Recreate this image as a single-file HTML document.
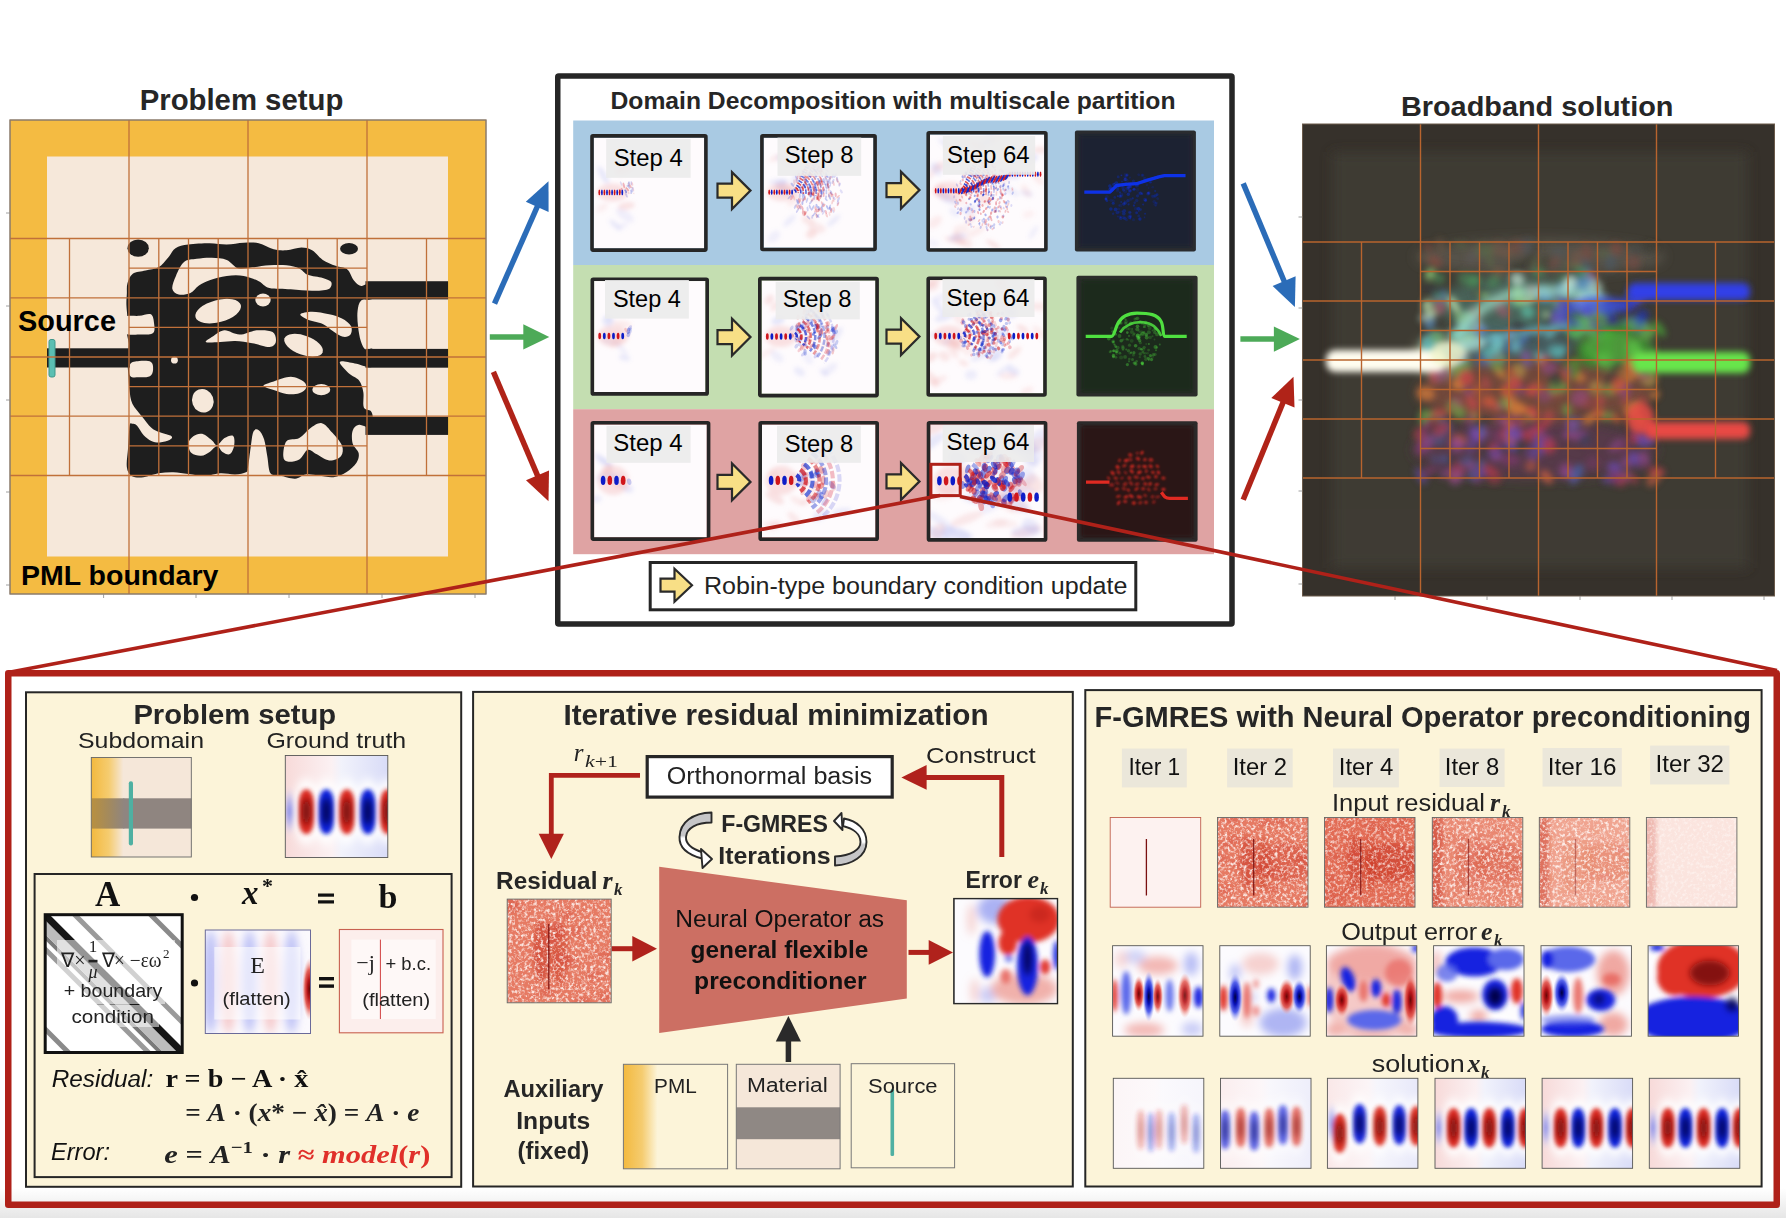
<!DOCTYPE html>
<html><head><meta charset="utf-8"><title>figure</title>
<style>
html,body{margin:0;padding:0;background:#fff;}
body{width:1786px;height:1218px;overflow:hidden;font-family:"Liberation Sans",sans-serif;}
svg{display:block;}
</style></head><body>
<svg width="1786" height="1218" viewBox="0 0 1786 1218">
<defs>
<filter id="b05" x="-50%" y="-50%" width="200%" height="200%"><feGaussianBlur stdDeviation="0.5"/></filter>
<filter id="b1" x="-50%" y="-50%" width="200%" height="200%"><feGaussianBlur stdDeviation="1"/></filter>
<filter id="b15" x="-50%" y="-50%" width="200%" height="200%"><feGaussianBlur stdDeviation="1.5"/></filter>
<filter id="b2" x="-50%" y="-50%" width="200%" height="200%"><feGaussianBlur stdDeviation="2"/></filter>
<filter id="b25" x="-50%" y="-50%" width="200%" height="200%"><feGaussianBlur stdDeviation="2.5"/></filter>
<filter id="b3" x="-50%" y="-50%" width="200%" height="200%"><feGaussianBlur stdDeviation="3"/></filter>
<filter id="b4" x="-50%" y="-50%" width="200%" height="200%"><feGaussianBlur stdDeviation="4"/></filter>
<filter id="b6" x="-50%" y="-50%" width="200%" height="200%"><feGaussianBlur stdDeviation="6"/></filter>
<clipPath id="c593_137"><rect x="593.8000000000001" y="137.7" width="110.3" height="110.60000000000001"/></clipPath>
<clipPath id="c763_137"><rect x="763.7" y="137.7" width="109.59999999999995" height="110.00000000000001"/></clipPath>
<clipPath id="c930_134"><rect x="930.0" y="134.5" width="114.10000000000007" height="113.7"/></clipPath>
<clipPath id="c594_281"><rect x="594.1" y="281.1" width="111.3" height="110.99999999999999"/></clipPath>
<clipPath id="c761_280"><rect x="761.6" y="280.40000000000003" width="113.69999999999997" height="113.39999999999996"/></clipPath>
<clipPath id="c930_280"><rect x="930.0" y="280.1" width="113.19999999999997" height="113.10000000000001"/></clipPath>
<clipPath id="c594_424"><rect x="594.1" y="424.6" width="112.69999999999997" height="112.69999999999997"/></clipPath>
<clipPath id="c762_424"><rect x="762.0" y="424.6" width="113.40000000000002" height="112.8"/></clipPath>
<clipPath id="c930_424"><rect x="930.3000000000001" y="424.6" width="113.50000000000004" height="113.50000000000004"/></clipPath>
<clipPath id="dk0"><rect x="1077.9" y="133.5" width="115.0" height="114.9"/></clipPath>
<clipPath id="dk1"><rect x="1079.4" y="278.7" width="115.19999999999982" height="114.69999999999999"/></clipPath>
<clipPath id="dk2"><rect x="1079.9" y="424.3" width="114.69999999999982" height="114.40000000000003"/></clipPath>
<clipPath id="bbclip"><rect x="1302.5" y="124" width="472.0" height="472"/></clipPath>
<linearGradient id="bgg" x1="0" y1="0" x2="0" y2="1"><stop offset="0" stop-color="#ffffff"/><stop offset="0.45" stop-color="#f4f4f4"/><stop offset="1" stop-color="#e6e6e6"/></linearGradient>
<radialGradient id="gR"><stop offset="0" stop-color="#6a0606"/><stop offset="0.3" stop-color="#b8161a"/><stop offset="0.62" stop-color="#e0473e" stop-opacity="0.85"/><stop offset="1" stop-color="#f2a9a0" stop-opacity="0"/></radialGradient>
<radialGradient id="gB"><stop offset="0" stop-color="#00003a"/><stop offset="0.3" stop-color="#0a12b8"/><stop offset="0.62" stop-color="#3a4ae8" stop-opacity="0.85"/><stop offset="1" stop-color="#aab0f4" stop-opacity="0"/></radialGradient>
<radialGradient id="gRl"><stop offset="0" stop-color="#e04a40"/><stop offset="0.5" stop-color="#ec8a80" stop-opacity="0.7"/><stop offset="1" stop-color="#f8d0cc" stop-opacity="0"/></radialGradient>
<radialGradient id="gBl"><stop offset="0" stop-color="#4a5ae8"/><stop offset="0.5" stop-color="#8a94f0" stop-opacity="0.7"/><stop offset="1" stop-color="#d0d4fa" stop-opacity="0"/></radialGradient>
<linearGradient id="pbg" x1="0" y1="0" x2="1" y2="0"><stop offset="0" stop-color="#f6d2d0"/><stop offset="0.45" stop-color="#fbeef0"/><stop offset="0.55" stop-color="#eef0fb"/><stop offset="1" stop-color="#d0d4f6"/></linearGradient>
<radialGradient id="gW"><stop offset="0" stop-color="#fff"/><stop offset="0.7" stop-color="#fff" stop-opacity="0.9"/><stop offset="1" stop-color="#fff" stop-opacity="0"/></radialGradient>
<filter id="speck" x="0" y="0" width="100%" height="100%"><feTurbulence type="fractalNoise" baseFrequency="0.32" numOctaves="3" seed="4"/><feColorMatrix type="matrix" values="0 0 0 0 1  0 0 0 0 0.96  0 0 0 0 0.94  3.2 0 0 0 -1.45"/><feGaussianBlur stdDeviation="0.5"/></filter>
<filter id="speck2" x="0" y="0" width="100%" height="100%"><feTurbulence type="fractalNoise" baseFrequency="0.32" numOctaves="3" seed="9"/><feColorMatrix type="matrix" values="0 0 0 0 1  0 0 0 0 0.96  0 0 0 0 0.94  3.2 0 0 0 -1.45"/><feGaussianBlur stdDeviation="0.5"/></filter>
<linearGradient id="pmlg" x1="0" y1="0" x2="1" y2="0"><stop offset="0" stop-color="#F3B93E"/><stop offset="0.55" stop-color="#F5CC70"/><stop offset="1" stop-color="#F5E7D9"/></linearGradient>
<linearGradient id="pmlg2" x1="0" y1="0" x2="1" y2="0"><stop offset="0" stop-color="#F3B93E"/><stop offset="0.55" stop-color="#F5CC70"/><stop offset="1" stop-color="#FCF4D9"/></linearGradient>
<linearGradient id="greyg" x1="0" y1="0" x2="1" y2="0"><stop offset="0" stop-color="#b89040"/><stop offset="0.5" stop-color="#a48a5c"/><stop offset="1" stop-color="#8f8580"/></linearGradient>
<clipPath id="cl1"><rect x="285.3" y="755.5" width="102.5" height="102.0"/></clipPath>
<clipPath id="matclip"><rect x="45.2" y="914.7" width="137" height="137.8"/></clipPath>
<clipPath id="cl2"><rect x="205.3" y="930.0" width="105.2" height="103.5"/></clipPath>
<linearGradient id="cgl" x1="0" y1="0" x2="0" y2="1"><stop offset="0" stop-color="#c6c6c8"/><stop offset="0.5" stop-color="#c6c6c8"/><stop offset="0.56" stop-color="#ffffff"/><stop offset="1" stop-color="#ffffff"/></linearGradient>
<linearGradient id="cgr" x1="0" y1="0" x2="0" y2="1"><stop offset="0" stop-color="#ffffff"/><stop offset="0.5" stop-color="#ffffff"/><stop offset="0.56" stop-color="#c6c6c8"/><stop offset="1" stop-color="#c6c6c8"/></linearGradient>
<clipPath id="cl3"><rect x="507.2" y="899.1" width="104.0" height="103.7"/></clipPath>
<clipPath id="cl4"><rect x="953.9" y="898.6" width="103.6" height="105.0"/></clipPath>
<clipPath id="cl5"><rect x="1110.2" y="817.5" width="90.5" height="89.7"/></clipPath>
<clipPath id="cl6"><rect x="1217.5" y="817.5" width="90.5" height="89.7"/></clipPath>
<clipPath id="cl7"><rect x="1324.5" y="817.5" width="90.5" height="89.7"/></clipPath>
<clipPath id="cl8"><rect x="1432.3" y="817.5" width="90.5" height="89.7"/></clipPath>
<clipPath id="cl9"><rect x="1539.3" y="817.5" width="90.5" height="89.7"/></clipPath>
<clipPath id="cl10"><rect x="1646.4" y="817.5" width="90.5" height="89.7"/></clipPath>
<clipPath id="cl11"><rect x="1112.6" y="945.7" width="90.4" height="90.5"/></clipPath>
<clipPath id="cl12"><rect x="1219.8" y="945.7" width="90.4" height="90.5"/></clipPath>
<clipPath id="cl13"><rect x="1326.4" y="945.7" width="90.4" height="90.5"/></clipPath>
<clipPath id="cl14"><rect x="1433.6" y="945.7" width="90.4" height="90.5"/></clipPath>
<clipPath id="cl15"><rect x="1541.0" y="945.7" width="90.4" height="90.5"/></clipPath>
<clipPath id="cl16"><rect x="1648.1" y="945.7" width="90.4" height="90.5"/></clipPath>
<clipPath id="cl17"><rect x="1113.3" y="1078.3" width="90.5" height="90.0"/></clipPath>
<clipPath id="cl18"><rect x="1220.5" y="1078.3" width="90.5" height="90.0"/></clipPath>
<clipPath id="cl19"><rect x="1327.4" y="1078.3" width="90.5" height="90.0"/></clipPath>
<clipPath id="cl20"><rect x="1435.0" y="1078.3" width="90.5" height="90.0"/></clipPath>
<clipPath id="cl21"><rect x="1542.1" y="1078.3" width="90.5" height="90.0"/></clipPath>
<clipPath id="cl22"><rect x="1649.3" y="1078.3" width="90.5" height="90.0"/></clipPath>
</defs>
<text x="241.5" y="110.3" font-size="30" font-family='"Liberation Sans", sans-serif' fill="#262626" font-weight="bold" text-anchor="middle" textLength="203.6" lengthAdjust="spacingAndGlyphs" >Problem setup</text>
<rect x="10" y="120" width="476" height="474" fill="#F4BB42" stroke="#8a7a6a" stroke-width="1" />
<rect x="47" y="156.5" width="401" height="400" fill="#F6E8DA" />
<g transform="translate(120,230) scale(0.21345)"><path d="M35.0,250.0 C39.7,234.2 45.8,215.0 60.0,205.0 C74.2,195.0 100.0,195.0 120.0,190.0 C140.0,185.0 162.5,185.0 180.0,175.0 C197.5,165.0 211.7,145.0 225.0,130.0 C238.3,115.0 244.2,95.3 260.0,85.0 C275.8,74.7 293.3,71.8 320.0,68.0 C346.7,64.2 390.0,62.0 420.0,62.0 C450.0,62.0 473.3,68.3 500.0,68.0 C526.7,67.7 555.0,61.0 580.0,60.0 C605.0,59.0 626.7,57.0 650.0,62.0 C673.3,67.0 698.3,84.5 720.0,90.0 C741.7,95.5 758.3,96.3 780.0,95.0 C801.7,93.7 830.0,82.0 850.0,82.0 C870.0,82.0 883.3,85.3 900.0,95.0 C916.7,104.7 931.7,127.8 950.0,140.0 C968.3,152.2 990.8,160.5 1010.0,168.0 C1029.2,175.5 1050.8,173.8 1065.0,185.0 C1079.2,196.2 1084.2,222.2 1095.0,235.0 C1105.8,247.8 1115.8,259.5 1130.0,262.0 C1144.2,264.5 1170.8,240.3 1180.0,250.0 C1189.2,259.7 1193.3,306.7 1185.0,320.0 C1176.7,333.3 1142.0,320.0 1130.0,330.0 C1118.0,340.0 1115.5,360.0 1113.0,380.0 C1110.5,400.0 1112.5,426.7 1115.0,450.0 C1117.5,473.3 1122.2,501.7 1128.0,520.0 C1133.8,538.3 1140.5,553.3 1150.0,560.0 C1159.5,566.7 1179.2,546.7 1185.0,560.0 C1190.8,573.3 1199.2,629.2 1185.0,640.0 C1170.8,650.8 1125.8,628.7 1100.0,625.0 C1074.2,621.3 1035.0,610.5 1030.0,618.0 C1025.0,625.5 1055.0,655.5 1070.0,670.0 C1085.0,684.5 1108.3,690.0 1120.0,705.0 C1131.7,720.0 1136.3,739.2 1140.0,760.0 C1143.7,780.8 1136.2,815.3 1142.0,830.0 C1147.8,844.7 1167.8,839.7 1175.0,848.0 C1182.2,856.3 1183.3,866.3 1185.0,880.0 C1186.7,893.7 1195.8,924.7 1185.0,930.0 C1174.2,935.3 1135.8,910.3 1120.0,912.0 C1104.2,913.7 1095.0,925.3 1090.0,940.0 C1085.0,954.7 1085.3,982.5 1090.0,1000.0 C1094.7,1017.5 1115.0,1030.0 1118.0,1045.0 C1121.0,1060.0 1117.7,1075.0 1108.0,1090.0 C1098.3,1105.0 1078.0,1123.7 1060.0,1135.0 C1042.0,1146.3 1021.7,1155.5 1000.0,1158.0 C978.3,1160.5 951.7,1152.2 930.0,1150.0 C908.3,1147.8 888.3,1142.5 870.0,1145.0 C851.7,1147.5 840.0,1164.2 820.0,1165.0 C800.0,1165.8 769.2,1154.2 750.0,1150.0 C730.8,1145.8 715.0,1155.0 705.0,1140.0 C695.0,1125.0 695.0,1086.7 690.0,1060.0 C685.0,1033.3 681.7,1000.3 675.0,980.0 C668.3,959.7 658.3,943.8 650.0,938.0 C641.7,932.2 631.3,931.3 625.0,945.0 C618.7,958.7 616.2,992.5 612.0,1020.0 C607.8,1047.5 603.7,1090.8 600.0,1110.0 C596.3,1129.2 600.0,1129.2 590.0,1135.0 C580.0,1140.8 560.0,1144.2 540.0,1145.0 C520.0,1145.8 493.3,1138.8 470.0,1140.0 C446.7,1141.2 425.0,1151.5 400.0,1152.0 C375.0,1152.5 345.0,1145.8 320.0,1143.0 C295.0,1140.2 273.3,1135.5 250.0,1135.0 C226.7,1134.5 203.3,1136.2 180.0,1140.0 C156.7,1143.8 130.8,1156.0 110.0,1158.0 C89.2,1160.0 68.0,1160.0 55.0,1152.0 C42.0,1144.0 34.8,1132.0 32.0,1110.0 C29.2,1088.0 35.8,1052.2 38.0,1020.0 C40.2,987.8 41.7,935.7 45.0,917.0 C48.3,898.3 52.2,908.0 58.0,908.0 C63.8,908.0 71.2,908.2 80.0,917.0 C88.8,925.8 99.8,949.2 111.0,961.0 C122.2,972.8 134.3,982.3 147.0,988.0 C159.7,993.7 172.8,995.7 187.0,995.0 C201.2,994.3 223.0,988.8 232.0,984.0 C241.0,979.2 248.5,972.0 241.0,966.0 C233.5,960.0 202.7,954.7 187.0,948.0 C171.3,941.3 161.2,938.7 147.0,926.0 C132.8,913.3 116.8,890.7 102.0,872.0 C87.2,853.3 67.7,834.8 58.0,814.0 C48.3,793.2 47.0,767.7 44.0,747.0 C41.0,726.3 41.3,707.8 40.0,690.0 C38.7,672.2 36.7,655.0 36.0,640.0 C35.3,625.0 35.3,618.3 36.0,600.0 C36.7,581.7 41.0,551.7 40.0,530.0 C39.0,508.3 30.8,488.3 30.0,470.0 C29.2,451.7 35.0,440.0 35.0,420.0 C35.0,400.0 30.5,370.0 30.0,350.0 C29.5,330.0 31.2,316.7 32.0,300.0 C32.8,283.3 30.3,265.8 35.0,250.0 Z" fill="#1E1E1E"/><ellipse cx="85" cy="85" rx="50" ry="40" fill="#1E1E1E"/><ellipse cx="1073" cy="88" rx="42" ry="27" fill="#1E1E1E"/><rect x="1150" y="240" width="387" height="85" fill="#1E1E1E"/><rect x="1150" y="557" width="387" height="88" fill="#1E1E1E"/><rect x="1150" y="875" width="387" height="85" fill="#1E1E1E"/><path d="M245.0,275.0 C242.8,260.5 252.8,235.8 262.0,215.0 C271.2,194.2 283.7,163.3 300.0,150.0 C316.3,136.7 338.3,138.3 360.0,135.0 C381.7,131.7 406.7,129.2 430.0,130.0 C453.3,130.8 479.2,131.7 500.0,140.0 C520.8,148.3 535.0,174.2 555.0,180.0 C575.0,185.8 595.8,177.5 620.0,175.0 C644.2,172.5 673.3,166.7 700.0,165.0 C726.7,163.3 756.7,162.5 780.0,165.0 C803.3,167.5 823.3,172.5 840.0,180.0 C856.7,187.5 861.7,202.5 880.0,210.0 C898.3,217.5 931.7,219.2 950.0,225.0 C968.3,230.8 985.8,236.2 990.0,245.0 C994.2,253.8 990.0,271.3 975.0,278.0 C960.0,284.7 929.2,285.0 900.0,285.0 C870.8,285.0 833.3,280.2 800.0,278.0 C766.7,275.8 725.0,278.3 700.0,272.0 C675.0,265.7 670.0,249.5 650.0,240.0 C630.0,230.5 605.0,219.2 580.0,215.0 C555.0,210.8 526.7,211.7 500.0,215.0 C473.3,218.3 441.7,227.5 420.0,235.0 C398.3,242.5 385.0,250.0 370.0,260.0 C355.0,270.0 345.8,288.0 330.0,295.0 C314.2,302.0 289.2,305.3 275.0,302.0 C260.8,298.7 247.2,289.5 245.0,275.0 Z" fill="#F6E8DA"/><path d="M845.0,395.0 C848.3,388.8 877.5,383.0 900.0,383.0 C922.5,383.0 956.7,389.7 980.0,395.0 C1003.3,400.3 1023.0,405.8 1040.0,415.0 C1057.0,424.2 1075.3,437.5 1082.0,450.0 C1088.7,462.5 1086.2,481.7 1080.0,490.0 C1073.8,498.3 1058.3,502.5 1045.0,500.0 C1031.7,497.5 1015.8,485.0 1000.0,475.0 C984.2,465.0 970.0,449.2 950.0,440.0 C930.0,430.8 897.5,427.5 880.0,420.0 C862.5,412.5 841.7,401.2 845.0,395.0 Z" fill="#F6E8DA"/><path d="M402.0,525.0 C397.0,520.0 425.3,504.2 440.0,495.0 C454.7,485.8 470.0,470.8 490.0,470.0 C510.0,469.2 535.0,490.0 560.0,490.0 C585.0,490.0 614.2,472.0 640.0,470.0 C665.8,468.0 700.0,468.8 715.0,478.0 C730.0,487.2 732.5,513.3 730.0,525.0 C727.5,536.7 718.3,547.2 700.0,548.0 C681.7,548.8 646.7,534.7 620.0,530.0 C593.3,525.3 565.0,520.8 540.0,520.0 C515.0,519.2 493.0,524.2 470.0,525.0 C447.0,525.8 407.0,530.0 402.0,525.0 Z" fill="#F6E8DA"/><path d="M672.0,730.0 C672.0,723.3 698.7,717.0 720.0,710.0 C741.3,703.0 776.7,688.0 800.0,688.0 C823.3,688.0 848.0,701.3 860.0,710.0 C872.0,718.7 875.3,730.8 872.0,740.0 C868.7,749.2 855.3,760.3 840.0,765.0 C824.7,769.7 800.0,770.5 780.0,768.0 C760.0,765.5 738.0,756.3 720.0,750.0 C702.0,743.7 672.0,736.7 672.0,730.0 Z" fill="#F6E8DA"/><path d="M765.0,1060.0 C764.2,1044.2 767.5,1004.2 780.0,990.0 C792.5,975.8 821.7,985.0 840.0,975.0 C858.3,965.0 872.5,941.7 890.0,930.0 C907.5,918.3 927.5,901.7 945.0,905.0 C962.5,908.3 979.2,932.5 995.0,950.0 C1010.8,967.5 1033.3,991.7 1040.0,1010.0 C1046.7,1028.3 1045.0,1048.3 1035.0,1060.0 C1025.0,1071.7 999.2,1081.7 980.0,1080.0 C960.8,1078.3 936.7,1058.3 920.0,1050.0 C903.3,1041.7 893.3,1025.8 880.0,1030.0 C866.7,1034.2 855.8,1065.8 840.0,1075.0 C824.2,1084.2 797.5,1087.5 785.0,1085.0 C772.5,1082.5 765.8,1075.8 765.0,1060.0 Z" fill="#F6E8DA"/><path d="M20.0,410.0 C31.7,396.7 69.2,404.5 90.0,402.0 C110.8,399.5 133.3,388.7 145.0,395.0 C156.7,401.3 158.3,425.5 160.0,440.0 C161.7,454.5 165.0,473.7 155.0,482.0 C145.0,490.3 122.5,490.0 100.0,490.0 C77.5,490.0 33.3,495.3 20.0,482.0 C6.7,468.7 8.3,423.3 20.0,410.0 Z" fill="#F6E8DA"/><path d="M48.0,628.0 C55.0,616.3 73.8,615.7 90.0,614.0 C106.2,612.3 134.2,611.2 145.0,618.0 C155.8,624.8 155.8,643.8 155.0,655.0 C154.2,666.2 150.8,679.2 140.0,685.0 C129.2,690.8 105.3,690.2 90.0,690.0 C74.7,689.8 55.0,694.3 48.0,684.0 C41.0,673.7 41.0,639.7 48.0,628.0 Z" fill="#F6E8DA"/><path d="M320.0,1000.0 C321.7,986.7 334.2,972.5 345.0,965.0 C355.8,957.5 370.8,951.7 385.0,955.0 C399.2,958.3 418.3,976.2 430.0,985.0 C441.7,993.8 445.0,1009.7 455.0,1008.0 C465.0,1006.3 477.5,982.2 490.0,975.0 C502.5,967.8 522.5,959.2 530.0,965.0 C537.5,970.8 537.5,995.8 535.0,1010.0 C532.5,1024.2 524.2,1045.0 515.0,1050.0 C505.8,1055.0 490.0,1046.3 480.0,1040.0 C470.0,1033.7 465.0,1012.0 455.0,1012.0 C445.0,1012.0 432.5,1032.3 420.0,1040.0 C407.5,1047.7 394.2,1057.2 380.0,1058.0 C365.8,1058.8 345.0,1054.7 335.0,1045.0 C325.0,1035.3 318.3,1013.3 320.0,1000.0 Z" fill="#F6E8DA"/><ellipse cx="460" cy="380" rx="110" ry="52" transform="rotate(-15 460 380)" fill="#F6E8DA"/><ellipse cx="670" cy="328" rx="36" ry="30" fill="#F6E8DA"/><ellipse cx="860" cy="540" rx="95" ry="45" transform="rotate(20 860 540)" fill="#F6E8DA"/><circle cx="255" cy="610" r="16" fill="#F6E8DA"/><ellipse cx="943" cy="748" rx="42" ry="26" fill="#F6E8DA"/><ellipse cx="388" cy="800" rx="50" ry="56" transform="rotate(-20 388 800)" fill="#F6E8DA"/></g>
<rect x="47" y="348.3" width="83" height="19.2" fill="#1E1E1E" />
<rect x="49" y="339.5" width="6" height="37.5" rx="2" fill="#5BBFB2" stroke="#3f978b" stroke-width="1"/>
<g stroke="#C0703A" stroke-width="1.3" ><line x1="129.0" y1="120.0" x2="129.0" y2="594.0"/><line x1="248.0" y1="120.0" x2="248.0" y2="594.0"/><line x1="367.0" y1="120.0" x2="367.0" y2="594.0"/><line x1="10.0" y1="238.5" x2="486.0" y2="238.5"/><line x1="10.0" y1="297.8" x2="486.0" y2="297.8"/><line x1="10.0" y1="357.0" x2="486.0" y2="357.0"/><line x1="10.0" y1="416.2" x2="486.0" y2="416.2"/><line x1="10.0" y1="475.5" x2="486.0" y2="475.5"/><line x1="69.5" y1="238.5" x2="69.5" y2="475.5"/><line x1="426.5" y1="238.5" x2="426.5" y2="475.5"/><line x1="158.8" y1="238.5" x2="158.8" y2="475.5"/><line x1="129.0" y1="268.1" x2="367.0" y2="268.1"/><line x1="218.2" y1="238.5" x2="218.2" y2="475.5"/><line x1="129.0" y1="327.4" x2="367.0" y2="327.4"/><line x1="277.8" y1="238.5" x2="277.8" y2="475.5"/><line x1="129.0" y1="386.6" x2="367.0" y2="386.6"/><line x1="337.2" y1="238.5" x2="337.2" y2="475.5"/><line x1="129.0" y1="445.9" x2="367.0" y2="445.9"/><line x1="188.5" y1="238.5" x2="188.5" y2="475.5"/><line x1="307.5" y1="238.5" x2="307.5" y2="475.5"/></g>
<rect x="10" y="120" width="476" height="474" fill="none" stroke="#8a7a6a" stroke-width="1" />
<line x1="103.6" y1="594" x2="103.6" y2="598" stroke="#888" stroke-width="0.8" />
<line x1="196" y1="594" x2="196" y2="598" stroke="#888" stroke-width="0.8" />
<line x1="289" y1="594" x2="289" y2="598" stroke="#888" stroke-width="0.8" />
<line x1="382" y1="594" x2="382" y2="598" stroke="#888" stroke-width="0.8" />
<line x1="475" y1="594" x2="475" y2="598" stroke="#888" stroke-width="0.8" />
<line x1="6" y1="213" x2="10" y2="213" stroke="#888" stroke-width="0.8" />
<line x1="6" y1="306" x2="10" y2="306" stroke="#888" stroke-width="0.8" />
<line x1="6" y1="400" x2="10" y2="400" stroke="#888" stroke-width="0.8" />
<line x1="6" y1="492" x2="10" y2="492" stroke="#888" stroke-width="0.8" />
<line x1="6" y1="585" x2="10" y2="585" stroke="#888" stroke-width="0.8" />
<text x="18" y="331" font-size="29" font-family='"Liberation Sans", sans-serif' fill="#000" font-weight="bold" textLength="98" lengthAdjust="spacingAndGlyphs" >Source</text>
<text x="21" y="584.8" font-size="28" font-family='"Liberation Sans", sans-serif' fill="#000" font-weight="bold" textLength="197.4" lengthAdjust="spacingAndGlyphs" >PML boundary</text>
<line x1="494.5" y1="303.6" x2="538.0" y2="205.0" stroke="#2B6CB8" stroke-width="5.5"/>
<polygon points="548.5,181.2 548.6,211.9 525.8,201.8" fill="#2B6CB8"/>
<line x1="489.8" y1="336.9" x2="525.3" y2="336.9" stroke="#4DAA58" stroke-width="5.5"/>
<polygon points="549.3,336.9 523.3,349.5 523.3,324.3" fill="#4DAA58"/>
<line x1="493.4" y1="371.8" x2="538.3" y2="477.3" stroke="#B02318" stroke-width="5.5"/>
<polygon points="548.5,501.2 526.0,480.3 549.0,470.5" fill="#B02318"/>
<line x1="1243.2" y1="183.4" x2="1284.9" y2="283.0" stroke="#2B6CB8" stroke-width="5.5"/>
<polygon points="1294.9,307 1272.6,286.0 1295.6,276.3" fill="#2B6CB8"/>
<line x1="1240.4" y1="339.1" x2="1275.9" y2="339.1" stroke="#4DAA58" stroke-width="5.5"/>
<polygon points="1299.9,339.1 1273.9,351.7 1273.9,326.5" fill="#4DAA58"/>
<line x1="1243.2" y1="499.8" x2="1283.7" y2="400.9" stroke="#B02318" stroke-width="5.5"/>
<polygon points="1293.5,376.8 1294.5,407.4 1271.3,398.0" fill="#B02318"/>
<rect x="557.75" y="76" width="674.25" height="548" fill="#fff" stroke="#262626" stroke-width="5.5" rx="1"/>
<text x="893" y="109" font-size="23" font-family='"Liberation Sans", sans-serif' fill="#262626" font-weight="bold" text-anchor="middle" textLength="565" lengthAdjust="spacingAndGlyphs" >Domain Decomposition with multiscale partition</text>
<rect x="573.2" y="120.5" width="640.8" height="144.5" fill="#A9CAE3" />
<rect x="573.2" y="265" width="640.8" height="144.2" fill="#C4DEB1" />
<rect x="573.2" y="409.2" width="640.8" height="145" fill="#DFA3A3" />
<g clip-path="url(#c593_137)"><rect x="593.8000000000001" y="137.7" width="110.3" height="110.60000000000001" fill="#FEFBFD"/><g filter="url(#b2)"><ellipse cx="626.3" cy="206.0" rx="8.8" ry="3.8" fill="#e88a86" opacity="0.21" transform="rotate(-10 626.3 206.0)"/><ellipse cx="603.4" cy="175.4" rx="10.6" ry="3.2" fill="#8a96ea" opacity="0.20" transform="rotate(60 603.4 175.4)"/><ellipse cx="624.9" cy="215.4" rx="10.6" ry="4.6" fill="#8a96ea" opacity="0.13" transform="rotate(34 624.9 215.4)"/><ellipse cx="622.6" cy="225.9" rx="5.6" ry="2.5" fill="#8a96ea" opacity="0.12" transform="rotate(-23 622.6 225.9)"/><ellipse cx="620.7" cy="166.8" rx="8.2" ry="3.1" fill="#e88a86" opacity="0.12" transform="rotate(-56 620.7 166.8)"/><ellipse cx="624.7" cy="169.0" rx="10.0" ry="4.7" fill="#e88a86" opacity="0.20" transform="rotate(-24 624.7 169.0)"/><ellipse cx="602.2" cy="207.6" rx="6.6" ry="3.6" fill="#e88a86" opacity="0.11" transform="rotate(-30 602.2 207.6)"/><ellipse cx="615.2" cy="224.9" rx="7.7" ry="2.6" fill="#8a96ea" opacity="0.19" transform="rotate(42 615.2 224.9)"/><ellipse cx="612.6" cy="192.4" rx="15.4" ry="9.0" fill="#f2b0b0" opacity="0.35"/></g><g filter="url(#b05)"><ellipse cx="632.3" cy="183.9" rx="0.9" ry="2.0" fill="#d0141a" opacity="0.17" transform="rotate(-15 632.3 183.9)"/><ellipse cx="621.2" cy="183.7" rx="0.9" ry="2.6" fill="#0a1ec8" opacity="0.11" transform="rotate(-26 621.2 183.7)"/><ellipse cx="626.3" cy="195.0" rx="1.0" ry="2.8" fill="#0a1ec8" opacity="0.18" transform="rotate(-22 626.3 195.0)"/><ellipse cx="632.5" cy="189.6" rx="1.1" ry="2.8" fill="#0a1ec8" opacity="0.19" transform="rotate(4 632.5 189.6)"/><ellipse cx="631.3" cy="183.2" rx="0.9" ry="2.2" fill="#0a1ec8" opacity="0.14" transform="rotate(-3 631.3 183.2)"/><ellipse cx="621.0" cy="190.2" rx="1.1" ry="2.5" fill="#d0141a" opacity="0.25" transform="rotate(26 621.0 190.2)"/><ellipse cx="628.8" cy="183.8" rx="1.1" ry="2.6" fill="#0a1ec8" opacity="0.25" transform="rotate(5 628.8 183.8)"/><ellipse cx="623.9" cy="185.4" rx="1.0" ry="2.9" fill="#d0141a" opacity="0.27" transform="rotate(-15 623.9 185.4)"/><ellipse cx="620.0" cy="191.1" rx="1.0" ry="2.5" fill="#d0141a" opacity="0.16" transform="rotate(-21 620.0 191.1)"/><ellipse cx="630.2" cy="186.3" rx="0.9" ry="2.2" fill="#d0141a" opacity="0.29" transform="rotate(-45 630.2 186.3)"/></g><g filter="url(#b05)"><path d="M624.6,190.1 A2.5,2.5 0 0 1 626.1,192.9" fill="none" stroke="#0a1ec8" stroke-width="1.6" opacity="0.45" stroke-dasharray="4.5 1.4"/><path d="M625.7,187.8 A5.1,5.1 0 0 1 628.6,193.3" fill="none" stroke="#d0141a" stroke-width="1.6" opacity="0.33" stroke-dasharray="4.5 1.4"/><path d="M626.7,185.5 A7.6,7.6 0 0 1 631.1,193.8" fill="none" stroke="#0a1ec8" stroke-width="1.6" opacity="0.21" stroke-dasharray="4.5 1.4"/><path d="M627.7,183.1 A10.2,10.2 0 0 1 633.6,194.2" fill="none" stroke="#d0141a" stroke-width="1.6" opacity="0.09" stroke-dasharray="4.5 1.4"/></g><g filter="url(#b05)"><ellipse cx="599.3" cy="192.4" rx="0.9" ry="2.8" fill="#d0141a"/><ellipse cx="601.9" cy="192.4" rx="0.9" ry="2.8" fill="#0a1ec8"/><ellipse cx="604.4" cy="192.4" rx="0.9" ry="2.8" fill="#d0141a"/><ellipse cx="607.0" cy="192.4" rx="0.9" ry="2.8" fill="#0a1ec8"/><ellipse cx="609.5" cy="192.4" rx="0.9" ry="2.8" fill="#d0141a"/><ellipse cx="612.1" cy="192.4" rx="0.9" ry="2.8" fill="#0a1ec8"/><ellipse cx="614.6" cy="192.4" rx="0.9" ry="2.8" fill="#d0141a"/><ellipse cx="617.2" cy="192.4" rx="0.9" ry="2.8" fill="#0a1ec8"/><ellipse cx="619.7" cy="192.4" rx="0.9" ry="2.8" fill="#d0141a"/><ellipse cx="622.3" cy="192.4" rx="0.9" ry="2.8" fill="#0a1ec8"/></g></g>
<rect x="592.0" y="135.9" width="113.9" height="114.2" fill="none" stroke="#262626" stroke-width="3.6" rx="1"/>
<g clip-path="url(#c763_137)"><rect x="763.7" y="137.7" width="109.59999999999995" height="110.00000000000001" fill="#FEFBFD"/><g filter="url(#b2)"><ellipse cx="774.0" cy="236.6" rx="7.4" ry="4.8" fill="#8a96ea" opacity="0.12" transform="rotate(-44 774.0 236.6)"/><ellipse cx="778.3" cy="182.0" rx="9.6" ry="2.9" fill="#8a96ea" opacity="0.17" transform="rotate(-3 778.3 182.0)"/><ellipse cx="816.4" cy="165.9" rx="9.1" ry="4.6" fill="#8a96ea" opacity="0.16" transform="rotate(47 816.4 165.9)"/><ellipse cx="789.7" cy="220.6" rx="8.4" ry="2.8" fill="#8a96ea" opacity="0.16" transform="rotate(-44 789.7 220.6)"/><ellipse cx="811.3" cy="233.8" rx="5.7" ry="4.4" fill="#e88a86" opacity="0.22" transform="rotate(-25 811.3 233.8)"/><ellipse cx="776.9" cy="157.6" rx="8.6" ry="3.2" fill="#e88a86" opacity="0.14" transform="rotate(-23 776.9 157.6)"/><ellipse cx="833.7" cy="220.6" rx="8.5" ry="2.6" fill="#8a96ea" opacity="0.18" transform="rotate(-42 833.7 220.6)"/><ellipse cx="794.0" cy="200.4" rx="8.5" ry="3.8" fill="#e88a86" opacity="0.13" transform="rotate(-39 794.0 200.4)"/><ellipse cx="815.0" cy="198.0" rx="5.2" ry="2.6" fill="#e88a86" opacity="0.15" transform="rotate(21 815.0 198.0)"/><ellipse cx="817.1" cy="228.1" rx="8.7" ry="4.9" fill="#e88a86" opacity="0.16" transform="rotate(13 817.1 228.1)"/><ellipse cx="808.3" cy="220.5" rx="7.1" ry="4.4" fill="#e88a86" opacity="0.18" transform="rotate(24 808.3 220.5)"/><ellipse cx="784.2" cy="188.7" rx="9.7" ry="4.4" fill="#e88a86" opacity="0.19" transform="rotate(10 784.2 188.7)"/><ellipse cx="781.6" cy="183.6" rx="6.3" ry="4.0" fill="#8a96ea" opacity="0.20" transform="rotate(-15 781.6 183.6)"/><ellipse cx="785.5" cy="192.0" rx="7.5" ry="3.1" fill="#8a96ea" opacity="0.20" transform="rotate(22 785.5 192.0)"/><ellipse cx="783.8" cy="160.8" rx="9.4" ry="3.3" fill="#8a96ea" opacity="0.17" transform="rotate(36 783.8 160.8)"/><ellipse cx="796.9" cy="177.1" rx="9.7" ry="3.8" fill="#8a96ea" opacity="0.17" transform="rotate(-59 796.9 177.1)"/><ellipse cx="782.3" cy="192.2" rx="15.3" ry="9.0" fill="#f2b0b0" opacity="0.35"/></g><g filter="url(#b05)"><ellipse cx="802.9" cy="211.8" rx="0.9" ry="2.9" fill="#d0141a" opacity="0.17" transform="rotate(-5 802.9 211.8)"/><ellipse cx="827.4" cy="207.4" rx="1.0" ry="2.5" fill="#0a1ec8" opacity="0.26" transform="rotate(-27 827.4 207.4)"/><ellipse cx="830.3" cy="208.8" rx="1.1" ry="2.2" fill="#0a1ec8" opacity="0.24" transform="rotate(-24 830.3 208.8)"/><ellipse cx="804.7" cy="169.5" rx="1.0" ry="2.2" fill="#0a1ec8" opacity="0.12" transform="rotate(38 804.7 169.5)"/><ellipse cx="805.4" cy="213.5" rx="0.9" ry="2.8" fill="#d0141a" opacity="0.19" transform="rotate(37 805.4 213.5)"/><ellipse cx="835.7" cy="194.8" rx="1.1" ry="2.3" fill="#d0141a" opacity="0.25" transform="rotate(-5 835.7 194.8)"/><ellipse cx="796.4" cy="189.5" rx="0.8" ry="2.3" fill="#d0141a" opacity="0.24" transform="rotate(15 796.4 189.5)"/><ellipse cx="813.5" cy="185.5" rx="1.1" ry="2.0" fill="#d0141a" opacity="0.27" transform="rotate(-7 813.5 185.5)"/><ellipse cx="838.0" cy="204.3" rx="0.9" ry="2.0" fill="#d0141a" opacity="0.12" transform="rotate(24 838.0 204.3)"/><ellipse cx="832.6" cy="176.0" rx="1.0" ry="2.6" fill="#0a1ec8" opacity="0.19" transform="rotate(15 832.6 176.0)"/><ellipse cx="820.7" cy="182.4" rx="1.0" ry="2.5" fill="#d0141a" opacity="0.34" transform="rotate(26 820.7 182.4)"/><ellipse cx="802.2" cy="207.7" rx="1.1" ry="2.4" fill="#d0141a" opacity="0.26" transform="rotate(-26 802.2 207.7)"/><ellipse cx="806.6" cy="174.2" rx="0.9" ry="2.4" fill="#d0141a" opacity="0.21" transform="rotate(-26 806.6 174.2)"/><ellipse cx="814.3" cy="197.2" rx="0.9" ry="2.7" fill="#0a1ec8" opacity="0.23" transform="rotate(0 814.3 197.2)"/><ellipse cx="810.5" cy="192.8" rx="1.1" ry="2.7" fill="#d0141a" opacity="0.34" transform="rotate(-37 810.5 192.8)"/><ellipse cx="799.6" cy="189.9" rx="0.8" ry="2.0" fill="#d0141a" opacity="0.29" transform="rotate(43 799.6 189.9)"/><ellipse cx="797.6" cy="201.6" rx="1.1" ry="3.0" fill="#0a1ec8" opacity="0.20" transform="rotate(-30 797.6 201.6)"/><ellipse cx="795.3" cy="206.6" rx="1.1" ry="2.5" fill="#0a1ec8" opacity="0.19" transform="rotate(27 795.3 206.6)"/><ellipse cx="834.1" cy="209.4" rx="1.1" ry="2.7" fill="#d0141a" opacity="0.12" transform="rotate(-8 834.1 209.4)"/><ellipse cx="805.6" cy="182.9" rx="1.1" ry="2.7" fill="#0a1ec8" opacity="0.26" transform="rotate(22 805.6 182.9)"/><ellipse cx="815.3" cy="177.4" rx="1.0" ry="2.1" fill="#0a1ec8" opacity="0.20" transform="rotate(-6 815.3 177.4)"/><ellipse cx="807.9" cy="185.1" rx="1.0" ry="2.0" fill="#0a1ec8" opacity="0.29" transform="rotate(29 807.9 185.1)"/><ellipse cx="802.8" cy="195.2" rx="1.0" ry="2.0" fill="#0a1ec8" opacity="0.24" transform="rotate(8 802.8 195.2)"/><ellipse cx="807.6" cy="209.0" rx="1.0" ry="2.4" fill="#0a1ec8" opacity="0.18" transform="rotate(-8 807.6 209.0)"/><ellipse cx="829.3" cy="181.7" rx="1.1" ry="3.1" fill="#0a1ec8" opacity="0.21" transform="rotate(-32 829.3 181.7)"/><ellipse cx="838.4" cy="199.4" rx="1.1" ry="2.6" fill="#0a1ec8" opacity="0.18" transform="rotate(26 838.4 199.4)"/><ellipse cx="816.2" cy="171.7" rx="0.9" ry="2.8" fill="#0a1ec8" opacity="0.16" transform="rotate(-38 816.2 171.7)"/><ellipse cx="794.1" cy="198.1" rx="1.0" ry="2.4" fill="#d0141a" opacity="0.13" transform="rotate(-17 794.1 198.1)"/><ellipse cx="804.2" cy="180.6" rx="1.0" ry="2.3" fill="#0a1ec8" opacity="0.20" transform="rotate(-45 804.2 180.6)"/><ellipse cx="830.5" cy="194.6" rx="0.8" ry="2.2" fill="#d0141a" opacity="0.17" transform="rotate(-25 830.5 194.6)"/><ellipse cx="802.4" cy="203.1" rx="1.0" ry="2.1" fill="#0a1ec8" opacity="0.27" transform="rotate(0 802.4 203.1)"/><ellipse cx="810.1" cy="174.0" rx="0.8" ry="2.9" fill="#d0141a" opacity="0.19" transform="rotate(3 810.1 174.0)"/><ellipse cx="799.2" cy="200.6" rx="1.1" ry="2.9" fill="#d0141a" opacity="0.25" transform="rotate(-12 799.2 200.6)"/><ellipse cx="800.0" cy="207.3" rx="0.8" ry="2.7" fill="#0a1ec8" opacity="0.21" transform="rotate(-25 800.0 207.3)"/><ellipse cx="823.6" cy="191.3" rx="0.9" ry="3.0" fill="#0a1ec8" opacity="0.29" transform="rotate(20 823.6 191.3)"/><ellipse cx="837.3" cy="179.6" rx="1.0" ry="3.0" fill="#0a1ec8" opacity="0.20" transform="rotate(-6 837.3 179.6)"/><ellipse cx="821.1" cy="169.6" rx="1.1" ry="2.7" fill="#0a1ec8" opacity="0.14" transform="rotate(2 821.1 169.6)"/><ellipse cx="841.3" cy="191.4" rx="1.2" ry="2.3" fill="#0a1ec8" opacity="0.11" transform="rotate(-31 841.3 191.4)"/><ellipse cx="824.5" cy="183.2" rx="0.8" ry="2.6" fill="#0a1ec8" opacity="0.23" transform="rotate(-32 824.5 183.2)"/><ellipse cx="792.4" cy="184.7" rx="1.1" ry="2.4" fill="#0a1ec8" opacity="0.22" transform="rotate(-42 792.4 184.7)"/><ellipse cx="831.3" cy="193.6" rx="0.8" ry="2.3" fill="#d0141a" opacity="0.31" transform="rotate(-37 831.3 193.6)"/><ellipse cx="829.5" cy="213.9" rx="0.9" ry="2.3" fill="#d0141a" opacity="0.11" transform="rotate(-8 829.5 213.9)"/><ellipse cx="818.0" cy="195.2" rx="1.2" ry="2.9" fill="#d0141a" opacity="0.29" transform="rotate(-14 818.0 195.2)"/><ellipse cx="812.5" cy="199.8" rx="1.1" ry="2.1" fill="#d0141a" opacity="0.22" transform="rotate(39 812.5 199.8)"/><ellipse cx="833.0" cy="181.3" rx="1.1" ry="2.8" fill="#0a1ec8" opacity="0.16" transform="rotate(23 833.0 181.3)"/><ellipse cx="810.1" cy="207.3" rx="1.0" ry="2.6" fill="#0a1ec8" opacity="0.21" transform="rotate(-24 810.1 207.3)"/><ellipse cx="816.2" cy="183.9" rx="0.9" ry="2.3" fill="#0a1ec8" opacity="0.30" transform="rotate(-42 816.2 183.9)"/><ellipse cx="809.4" cy="167.8" rx="1.1" ry="2.2" fill="#0a1ec8" opacity="0.12" transform="rotate(-39 809.4 167.8)"/><ellipse cx="822.2" cy="209.4" rx="1.1" ry="2.8" fill="#0a1ec8" opacity="0.24" transform="rotate(-9 822.2 209.4)"/><ellipse cx="819.5" cy="209.8" rx="0.9" ry="2.9" fill="#d0141a" opacity="0.28" transform="rotate(35 819.5 209.8)"/><ellipse cx="819.5" cy="181.8" rx="1.1" ry="2.5" fill="#0a1ec8" opacity="0.35" transform="rotate(22 819.5 181.8)"/><ellipse cx="822.1" cy="203.3" rx="1.0" ry="2.2" fill="#d0141a" opacity="0.22" transform="rotate(-22 822.1 203.3)"/><ellipse cx="795.8" cy="176.6" rx="0.8" ry="2.1" fill="#0a1ec8" opacity="0.17" transform="rotate(-12 795.8 176.6)"/><ellipse cx="805.1" cy="198.0" rx="1.0" ry="2.5" fill="#d0141a" opacity="0.23" transform="rotate(-2 805.1 198.0)"/><ellipse cx="827.8" cy="184.9" rx="1.0" ry="2.2" fill="#d0141a" opacity="0.17" transform="rotate(-7 827.8 184.9)"/><ellipse cx="798.4" cy="206.9" rx="1.1" ry="2.7" fill="#d0141a" opacity="0.22" transform="rotate(0 798.4 206.9)"/><ellipse cx="800.3" cy="200.2" rx="0.9" ry="2.5" fill="#d0141a" opacity="0.20" transform="rotate(24 800.3 200.2)"/><ellipse cx="833.5" cy="199.5" rx="0.8" ry="2.6" fill="#d0141a" opacity="0.19" transform="rotate(-12 833.5 199.5)"/><ellipse cx="829.6" cy="197.0" rx="1.0" ry="3.1" fill="#0a1ec8" opacity="0.27" transform="rotate(-20 829.6 197.0)"/><ellipse cx="833.6" cy="183.4" rx="1.0" ry="2.7" fill="#d0141a" opacity="0.18" transform="rotate(-15 833.6 183.4)"/><ellipse cx="815.7" cy="210.7" rx="1.0" ry="2.4" fill="#d0141a" opacity="0.22" transform="rotate(36 815.7 210.7)"/><ellipse cx="814.1" cy="214.3" rx="0.9" ry="2.5" fill="#0a1ec8" opacity="0.21" transform="rotate(38 814.1 214.3)"/><ellipse cx="808.4" cy="217.5" rx="0.9" ry="2.5" fill="#0a1ec8" opacity="0.20" transform="rotate(-43 808.4 217.5)"/><ellipse cx="799.8" cy="195.9" rx="1.0" ry="2.5" fill="#0a1ec8" opacity="0.18" transform="rotate(1 799.8 195.9)"/><ellipse cx="826.7" cy="170.1" rx="1.0" ry="3.0" fill="#0a1ec8" opacity="0.15" transform="rotate(-44 826.7 170.1)"/><ellipse cx="812.2" cy="194.0" rx="0.9" ry="2.4" fill="#d0141a" opacity="0.34" transform="rotate(-35 812.2 194.0)"/><ellipse cx="818.7" cy="208.3" rx="1.2" ry="2.2" fill="#0a1ec8" opacity="0.31" transform="rotate(-12 818.7 208.3)"/><ellipse cx="822.6" cy="180.6" rx="0.9" ry="2.3" fill="#0a1ec8" opacity="0.19" transform="rotate(-39 822.6 180.6)"/><ellipse cx="803.2" cy="199.2" rx="1.0" ry="2.6" fill="#0a1ec8" opacity="0.25" transform="rotate(-10 803.2 199.2)"/><ellipse cx="803.8" cy="199.4" rx="1.0" ry="2.4" fill="#d0141a" opacity="0.26" transform="rotate(44 803.8 199.4)"/><ellipse cx="820.6" cy="195.9" rx="1.1" ry="2.1" fill="#d0141a" opacity="0.25" transform="rotate(41 820.6 195.9)"/><ellipse cx="813.9" cy="182.3" rx="1.0" ry="2.7" fill="#0a1ec8" opacity="0.28" transform="rotate(-41 813.9 182.3)"/><ellipse cx="804.2" cy="196.2" rx="0.8" ry="2.4" fill="#0a1ec8" opacity="0.26" transform="rotate(-6 804.2 196.2)"/><ellipse cx="809.5" cy="174.1" rx="1.0" ry="2.4" fill="#0a1ec8" opacity="0.19" transform="rotate(4 809.5 174.1)"/><ellipse cx="817.1" cy="182.3" rx="0.8" ry="2.2" fill="#d0141a" opacity="0.38" transform="rotate(42 817.1 182.3)"/><ellipse cx="816.5" cy="215.4" rx="1.0" ry="2.5" fill="#d0141a" opacity="0.23" transform="rotate(-15 816.5 215.4)"/><ellipse cx="827.6" cy="183.3" rx="1.1" ry="2.9" fill="#0a1ec8" opacity="0.29" transform="rotate(6 827.6 183.3)"/><ellipse cx="831.4" cy="210.3" rx="0.9" ry="2.8" fill="#d0141a" opacity="0.21" transform="rotate(17 831.4 210.3)"/><ellipse cx="820.6" cy="185.1" rx="0.9" ry="2.2" fill="#d0141a" opacity="0.28" transform="rotate(-6 820.6 185.1)"/><ellipse cx="807.0" cy="200.2" rx="0.9" ry="2.9" fill="#0a1ec8" opacity="0.20" transform="rotate(18 807.0 200.2)"/><ellipse cx="818.4" cy="199.4" rx="1.1" ry="2.2" fill="#d0141a" opacity="0.27" transform="rotate(-34 818.4 199.4)"/><ellipse cx="810.6" cy="188.1" rx="1.2" ry="3.0" fill="#0a1ec8" opacity="0.31" transform="rotate(-12 810.6 188.1)"/><ellipse cx="821.7" cy="170.0" rx="1.0" ry="2.3" fill="#d0141a" opacity="0.19" transform="rotate(-4 821.7 170.0)"/><ellipse cx="823.8" cy="205.5" rx="1.1" ry="2.0" fill="#d0141a" opacity="0.29" transform="rotate(45 823.8 205.5)"/><ellipse cx="802.9" cy="213.8" rx="0.9" ry="2.6" fill="#d0141a" opacity="0.14" transform="rotate(-16 802.9 213.8)"/><ellipse cx="814.1" cy="169.4" rx="1.1" ry="2.7" fill="#0a1ec8" opacity="0.19" transform="rotate(-16 814.1 169.4)"/><ellipse cx="809.1" cy="193.3" rx="0.9" ry="2.2" fill="#0a1ec8" opacity="0.40" transform="rotate(-16 809.1 193.3)"/><ellipse cx="816.7" cy="205.8" rx="1.1" ry="2.0" fill="#0a1ec8" opacity="0.25" transform="rotate(-19 816.7 205.8)"/><ellipse cx="804.6" cy="213.4" rx="0.9" ry="2.8" fill="#d0141a" opacity="0.21" transform="rotate(-6 804.6 213.4)"/><ellipse cx="817.5" cy="210.6" rx="0.9" ry="2.5" fill="#d0141a" opacity="0.28" transform="rotate(36 817.5 210.6)"/><ellipse cx="829.6" cy="186.3" rx="0.9" ry="2.4" fill="#0a1ec8" opacity="0.18" transform="rotate(30 829.6 186.3)"/><ellipse cx="832.3" cy="202.1" rx="0.9" ry="2.5" fill="#d0141a" opacity="0.16" transform="rotate(11 832.3 202.1)"/><ellipse cx="805.1" cy="213.1" rx="1.1" ry="2.5" fill="#d0141a" opacity="0.20" transform="rotate(13 805.1 213.1)"/><ellipse cx="805.3" cy="187.1" rx="0.9" ry="2.2" fill="#0a1ec8" opacity="0.30" transform="rotate(-11 805.3 187.1)"/><ellipse cx="797.0" cy="179.6" rx="1.1" ry="2.3" fill="#0a1ec8" opacity="0.14" transform="rotate(-17 797.0 179.6)"/><ellipse cx="814.4" cy="189.5" rx="1.0" ry="2.5" fill="#0a1ec8" opacity="0.37" transform="rotate(0 814.4 189.5)"/><ellipse cx="797.5" cy="210.5" rx="0.9" ry="2.8" fill="#0a1ec8" opacity="0.18" transform="rotate(31 797.5 210.5)"/><ellipse cx="791.9" cy="197.5" rx="1.2" ry="3.0" fill="#d0141a" opacity="0.22" transform="rotate(28 791.9 197.5)"/><ellipse cx="821.3" cy="210.6" rx="1.0" ry="2.2" fill="#d0141a" opacity="0.16" transform="rotate(-15 821.3 210.6)"/><ellipse cx="805.8" cy="176.9" rx="1.1" ry="2.8" fill="#d0141a" opacity="0.26" transform="rotate(-3 805.8 176.9)"/><ellipse cx="802.8" cy="192.2" rx="0.8" ry="2.9" fill="#0a1ec8" opacity="0.24" transform="rotate(-4 802.8 192.2)"/><ellipse cx="835.1" cy="175.6" rx="1.1" ry="2.9" fill="#0a1ec8" opacity="0.14" transform="rotate(33 835.1 175.6)"/><ellipse cx="812.3" cy="216.7" rx="1.0" ry="2.1" fill="#0a1ec8" opacity="0.16" transform="rotate(12 812.3 216.7)"/><ellipse cx="810.9" cy="202.1" rx="1.0" ry="3.0" fill="#0a1ec8" opacity="0.20" transform="rotate(37 810.9 202.1)"/><ellipse cx="815.8" cy="188.6" rx="1.0" ry="2.9" fill="#0a1ec8" opacity="0.44" transform="rotate(-36 815.8 188.6)"/><ellipse cx="793.9" cy="189.2" rx="0.8" ry="2.4" fill="#0a1ec8" opacity="0.20" transform="rotate(41 793.9 189.2)"/><ellipse cx="796.8" cy="206.3" rx="1.1" ry="2.1" fill="#d0141a" opacity="0.14" transform="rotate(-19 796.8 206.3)"/><ellipse cx="838.0" cy="203.8" rx="1.0" ry="2.5" fill="#d0141a" opacity="0.12" transform="rotate(27 838.0 203.8)"/><ellipse cx="805.4" cy="180.5" rx="0.8" ry="2.0" fill="#d0141a" opacity="0.29" transform="rotate(-33 805.4 180.5)"/><ellipse cx="820.5" cy="197.2" rx="1.0" ry="2.2" fill="#d0141a" opacity="0.28" transform="rotate(20 820.5 197.2)"/><ellipse cx="838.9" cy="183.1" rx="0.8" ry="2.7" fill="#d0141a" opacity="0.15" transform="rotate(-19 838.9 183.1)"/><ellipse cx="821.1" cy="179.4" rx="1.0" ry="2.9" fill="#d0141a" opacity="0.28" transform="rotate(-21 821.1 179.4)"/><ellipse cx="809.4" cy="175.1" rx="0.9" ry="2.6" fill="#0a1ec8" opacity="0.26" transform="rotate(36 809.4 175.1)"/><ellipse cx="789.6" cy="197.2" rx="0.9" ry="2.8" fill="#0a1ec8" opacity="0.19" transform="rotate(44 789.6 197.2)"/><ellipse cx="825.9" cy="212.0" rx="1.1" ry="2.1" fill="#d0141a" opacity="0.22" transform="rotate(-20 825.9 212.0)"/><ellipse cx="817.3" cy="198.1" rx="1.0" ry="2.0" fill="#d0141a" opacity="0.40" transform="rotate(17 817.3 198.1)"/><ellipse cx="811.6" cy="175.8" rx="1.1" ry="2.6" fill="#d0141a" opacity="0.27" transform="rotate(40 811.6 175.8)"/><ellipse cx="820.2" cy="172.8" rx="1.1" ry="2.6" fill="#d0141a" opacity="0.14" transform="rotate(-21 820.2 172.8)"/><ellipse cx="794.2" cy="182.3" rx="1.0" ry="3.0" fill="#d0141a" opacity="0.12" transform="rotate(-4 794.2 182.3)"/><ellipse cx="803.3" cy="186.5" rx="1.1" ry="2.7" fill="#d0141a" opacity="0.32" transform="rotate(-1 803.3 186.5)"/><ellipse cx="810.9" cy="195.5" rx="1.2" ry="2.1" fill="#0a1ec8" opacity="0.40" transform="rotate(16 810.9 195.5)"/><ellipse cx="825.9" cy="179.0" rx="1.0" ry="2.8" fill="#0a1ec8" opacity="0.19" transform="rotate(-21 825.9 179.0)"/><ellipse cx="823.4" cy="168.6" rx="1.0" ry="2.1" fill="#0a1ec8" opacity="0.17" transform="rotate(42 823.4 168.6)"/><ellipse cx="837.1" cy="180.1" rx="0.9" ry="2.7" fill="#d0141a" opacity="0.17" transform="rotate(-17 837.1 180.1)"/><ellipse cx="802.8" cy="172.4" rx="1.0" ry="2.7" fill="#d0141a" opacity="0.23" transform="rotate(-16 802.8 172.4)"/><ellipse cx="827.9" cy="186.0" rx="1.1" ry="2.2" fill="#d0141a" opacity="0.26" transform="rotate(-13 827.9 186.0)"/><ellipse cx="826.5" cy="174.7" rx="1.0" ry="3.0" fill="#0a1ec8" opacity="0.16" transform="rotate(-14 826.5 174.7)"/><ellipse cx="831.1" cy="210.7" rx="1.0" ry="2.5" fill="#d0141a" opacity="0.13" transform="rotate(-8 831.1 210.7)"/><ellipse cx="830.3" cy="177.9" rx="1.0" ry="2.2" fill="#d0141a" opacity="0.22" transform="rotate(32 830.3 177.9)"/><ellipse cx="800.2" cy="206.3" rx="0.9" ry="2.9" fill="#d0141a" opacity="0.21" transform="rotate(9 800.2 206.3)"/><ellipse cx="817.8" cy="215.9" rx="0.9" ry="2.6" fill="#0a1ec8" opacity="0.15" transform="rotate(34 817.8 215.9)"/><ellipse cx="818.2" cy="168.2" rx="0.9" ry="2.7" fill="#0a1ec8" opacity="0.14" transform="rotate(24 818.2 168.2)"/><ellipse cx="808.9" cy="188.6" rx="0.9" ry="2.0" fill="#0a1ec8" opacity="0.36" transform="rotate(17 808.9 188.6)"/><ellipse cx="834.0" cy="197.9" rx="1.0" ry="2.5" fill="#0a1ec8" opacity="0.15" transform="rotate(-33 834.0 197.9)"/><ellipse cx="805.0" cy="177.5" rx="0.8" ry="3.0" fill="#d0141a" opacity="0.29" transform="rotate(6 805.0 177.5)"/><ellipse cx="800.7" cy="187.7" rx="1.1" ry="2.0" fill="#0a1ec8" opacity="0.30" transform="rotate(42 800.7 187.7)"/><ellipse cx="815.5" cy="208.2" rx="1.1" ry="2.0" fill="#d0141a" opacity="0.23" transform="rotate(-12 815.5 208.2)"/><ellipse cx="797.5" cy="176.9" rx="0.9" ry="2.6" fill="#d0141a" opacity="0.21" transform="rotate(4 797.5 176.9)"/><ellipse cx="815.5" cy="170.5" rx="1.0" ry="2.1" fill="#0a1ec8" opacity="0.23" transform="rotate(-44 815.5 170.5)"/><ellipse cx="817.8" cy="198.3" rx="1.0" ry="2.5" fill="#d0141a" opacity="0.37" transform="rotate(-31 817.8 198.3)"/><ellipse cx="807.8" cy="173.6" rx="0.9" ry="2.9" fill="#d0141a" opacity="0.17" transform="rotate(-37 807.8 173.6)"/><ellipse cx="820.8" cy="171.0" rx="1.1" ry="2.8" fill="#d0141a" opacity="0.18" transform="rotate(-7 820.8 171.0)"/><ellipse cx="827.5" cy="187.6" rx="1.1" ry="2.0" fill="#0a1ec8" opacity="0.17" transform="rotate(40 827.5 187.6)"/><ellipse cx="799.5" cy="175.4" rx="1.1" ry="2.9" fill="#d0141a" opacity="0.22" transform="rotate(-24 799.5 175.4)"/><ellipse cx="812.9" cy="193.0" rx="1.1" ry="2.2" fill="#d0141a" opacity="0.38" transform="rotate(18 812.9 193.0)"/><ellipse cx="812.8" cy="207.9" rx="0.9" ry="3.1" fill="#0a1ec8" opacity="0.23" transform="rotate(27 812.8 207.9)"/><ellipse cx="796.4" cy="181.2" rx="1.1" ry="2.1" fill="#d0141a" opacity="0.18" transform="rotate(-5 796.4 181.2)"/><ellipse cx="826.7" cy="215.3" rx="1.1" ry="2.3" fill="#d0141a" opacity="0.16" transform="rotate(-21 826.7 215.3)"/><ellipse cx="826.2" cy="199.5" rx="1.0" ry="2.0" fill="#0a1ec8" opacity="0.22" transform="rotate(-38 826.2 199.5)"/><ellipse cx="817.7" cy="216.0" rx="0.9" ry="2.5" fill="#0a1ec8" opacity="0.20" transform="rotate(-40 817.7 216.0)"/><ellipse cx="821.4" cy="192.6" rx="1.0" ry="2.9" fill="#0a1ec8" opacity="0.32" transform="rotate(-9 821.4 192.6)"/><ellipse cx="821.7" cy="183.1" rx="1.1" ry="2.9" fill="#d0141a" opacity="0.20" transform="rotate(-2 821.7 183.1)"/><ellipse cx="838.1" cy="196.7" rx="0.9" ry="2.3" fill="#d0141a" opacity="0.20" transform="rotate(45 838.1 196.7)"/><ellipse cx="823.5" cy="212.4" rx="0.9" ry="2.7" fill="#0a1ec8" opacity="0.14" transform="rotate(33 823.5 212.4)"/><ellipse cx="829.9" cy="207.2" rx="1.0" ry="2.7" fill="#0a1ec8" opacity="0.20" transform="rotate(14 829.9 207.2)"/><ellipse cx="839.6" cy="184.6" rx="1.1" ry="2.1" fill="#0a1ec8" opacity="0.15" transform="rotate(21 839.6 184.6)"/><ellipse cx="833.1" cy="211.2" rx="0.9" ry="2.1" fill="#0a1ec8" opacity="0.12" transform="rotate(-28 833.1 211.2)"/><ellipse cx="827.0" cy="175.9" rx="1.1" ry="2.7" fill="#0a1ec8" opacity="0.23" transform="rotate(-34 827.0 175.9)"/><ellipse cx="809.2" cy="194.1" rx="0.9" ry="2.3" fill="#d0141a" opacity="0.22" transform="rotate(16 809.2 194.1)"/><ellipse cx="832.2" cy="195.5" rx="1.1" ry="2.0" fill="#d0141a" opacity="0.19" transform="rotate(38 832.2 195.5)"/><ellipse cx="822.5" cy="205.2" rx="0.9" ry="3.0" fill="#0a1ec8" opacity="0.19" transform="rotate(32 822.5 205.2)"/><ellipse cx="804.4" cy="212.3" rx="0.9" ry="2.9" fill="#d0141a" opacity="0.17" transform="rotate(-38 804.4 212.3)"/><ellipse cx="830.0" cy="178.2" rx="0.8" ry="2.7" fill="#0a1ec8" opacity="0.22" transform="rotate(-1 830.0 178.2)"/><ellipse cx="819.9" cy="190.6" rx="1.1" ry="2.1" fill="#d0141a" opacity="0.39" transform="rotate(26 819.9 190.6)"/><ellipse cx="822.8" cy="189.2" rx="0.9" ry="2.7" fill="#d0141a" opacity="0.32" transform="rotate(12 822.8 189.2)"/><ellipse cx="797.8" cy="201.9" rx="1.1" ry="3.0" fill="#0a1ec8" opacity="0.17" transform="rotate(5 797.8 201.9)"/><ellipse cx="818.3" cy="183.9" rx="0.9" ry="2.7" fill="#d0141a" opacity="0.36" transform="rotate(17 818.3 183.9)"/><ellipse cx="831.1" cy="192.5" rx="1.1" ry="2.3" fill="#0a1ec8" opacity="0.21" transform="rotate(-22 831.1 192.5)"/><ellipse cx="815.0" cy="191.0" rx="0.9" ry="2.8" fill="#d0141a" opacity="0.27" transform="rotate(-7 815.0 191.0)"/><ellipse cx="837.8" cy="202.7" rx="1.1" ry="2.0" fill="#0a1ec8" opacity="0.12" transform="rotate(12 837.8 202.7)"/></g><g filter="url(#b05)"><path d="M794.3,189.8 A2.5,2.5 0 0 1 795.8,192.6" fill="none" stroke="#0a1ec8" stroke-width="1.6" opacity="0.89" stroke-dasharray="4.5 1.4"/><path d="M795.4,187.5 A5.1,5.1 0 0 1 798.3,193.0" fill="none" stroke="#d0141a" stroke-width="1.6" opacity="0.84" stroke-dasharray="4.5 1.4"/><path d="M796.4,185.2 A7.6,7.6 0 0 1 800.8,193.5" fill="none" stroke="#0a1ec8" stroke-width="1.6" opacity="0.78" stroke-dasharray="4.5 1.4"/><path d="M797.4,182.8 A10.2,10.2 0 0 1 803.3,193.9" fill="none" stroke="#d0141a" stroke-width="1.6" opacity="0.72" stroke-dasharray="4.5 1.4"/><path d="M798.5,180.5 A12.8,12.8 0 0 1 805.8,194.4" fill="none" stroke="#0a1ec8" stroke-width="1.6" opacity="0.66" stroke-dasharray="4.5 1.4"/><path d="M799.5,178.2 A15.3,15.3 0 0 1 808.4,194.8" fill="none" stroke="#d0141a" stroke-width="1.6" opacity="0.61" stroke-dasharray="4.5 1.4"/><path d="M800.6,175.8 A17.8,17.8 0 0 1 810.9,195.2" fill="none" stroke="#0a1ec8" stroke-width="1.6" opacity="0.55" stroke-dasharray="4.5 1.4"/><path d="M801.6,173.5 A20.4,20.4 0 0 1 813.4,195.7" fill="none" stroke="#d0141a" stroke-width="1.6" opacity="0.49" stroke-dasharray="4.5 1.4"/><path d="M802.6,171.2 A22.9,22.9 0 0 1 815.9,196.1" fill="none" stroke="#0a1ec8" stroke-width="1.6" opacity="0.44" stroke-dasharray="4.5 1.4"/><path d="M803.7,168.9 A25.5,25.5 0 0 1 818.4,196.6" fill="none" stroke="#d0141a" stroke-width="1.6" opacity="0.38" stroke-dasharray="4.5 1.4"/><path d="M804.7,166.5 A28.0,28.0 0 0 1 820.9,197.0" fill="none" stroke="#0a1ec8" stroke-width="1.6" opacity="0.32" stroke-dasharray="4.5 1.4"/><path d="M805.7,164.2 A30.6,30.6 0 0 1 823.4,197.5" fill="none" stroke="#d0141a" stroke-width="1.6" opacity="0.26" stroke-dasharray="4.5 1.4"/><path d="M806.8,161.9 A33.1,33.1 0 0 1 825.9,197.9" fill="none" stroke="#0a1ec8" stroke-width="1.6" opacity="0.21" stroke-dasharray="4.5 1.4"/><path d="M807.8,159.5 A35.7,35.7 0 0 1 828.4,198.3" fill="none" stroke="#d0141a" stroke-width="1.6" opacity="0.15" stroke-dasharray="4.5 1.4"/></g><g filter="url(#b05)"><ellipse cx="769.2" cy="192.2" rx="0.9" ry="2.8" fill="#d0141a"/><ellipse cx="771.7" cy="192.2" rx="0.9" ry="2.8" fill="#0a1ec8"/><ellipse cx="774.3" cy="192.2" rx="0.9" ry="2.8" fill="#d0141a"/><ellipse cx="776.8" cy="192.2" rx="0.9" ry="2.8" fill="#0a1ec8"/><ellipse cx="779.4" cy="192.2" rx="0.9" ry="2.8" fill="#d0141a"/><ellipse cx="781.9" cy="192.2" rx="0.9" ry="2.8" fill="#0a1ec8"/><ellipse cx="784.5" cy="192.2" rx="0.9" ry="2.8" fill="#d0141a"/><ellipse cx="787.0" cy="192.2" rx="0.9" ry="2.8" fill="#0a1ec8"/><ellipse cx="789.6" cy="192.2" rx="0.9" ry="2.8" fill="#d0141a"/><ellipse cx="792.1" cy="192.2" rx="0.9" ry="2.8" fill="#0a1ec8"/></g></g>
<rect x="761.9" y="135.9" width="113.2" height="113.6" fill="none" stroke="#262626" stroke-width="3.6" rx="1"/>
<g clip-path="url(#c930_134)"><rect x="930.0" y="134.5" width="114.10000000000007" height="113.7" fill="#FEFBFD"/><g filter="url(#b2)"><ellipse cx="950.7" cy="163.2" rx="8.4" ry="3.2" fill="#8a96ea" opacity="0.11" transform="rotate(-21 950.7 163.2)"/><ellipse cx="1019.6" cy="154.0" rx="7.8" ry="4.2" fill="#8a96ea" opacity="0.13" transform="rotate(-30 1019.6 154.0)"/><ellipse cx="975.7" cy="231.9" rx="10.9" ry="3.9" fill="#e88a86" opacity="0.12" transform="rotate(-27 975.7 231.9)"/><ellipse cx="1006.4" cy="177.6" rx="10.1" ry="2.6" fill="#e88a86" opacity="0.16" transform="rotate(-53 1006.4 177.6)"/><ellipse cx="959.2" cy="201.3" rx="7.7" ry="4.1" fill="#e88a86" opacity="0.11" transform="rotate(-1 959.2 201.3)"/><ellipse cx="969.0" cy="209.6" rx="7.3" ry="4.3" fill="#8a96ea" opacity="0.18" transform="rotate(-18 969.0 209.6)"/><ellipse cx="958.9" cy="238.6" rx="8.2" ry="4.4" fill="#e88a86" opacity="0.21" transform="rotate(51 958.9 238.6)"/><ellipse cx="932.8" cy="172.1" rx="8.8" ry="2.6" fill="#e88a86" opacity="0.16" transform="rotate(-56 932.8 172.1)"/><ellipse cx="936.3" cy="168.8" rx="7.3" ry="4.7" fill="#8a96ea" opacity="0.19" transform="rotate(54 936.3 168.8)"/><ellipse cx="935.1" cy="222.1" rx="8.0" ry="4.7" fill="#e88a86" opacity="0.14" transform="rotate(-41 935.1 222.1)"/><ellipse cx="985.9" cy="173.6" rx="8.9" ry="3.5" fill="#e88a86" opacity="0.18" transform="rotate(-48 985.9 173.6)"/><ellipse cx="1028.5" cy="214.3" rx="6.0" ry="3.6" fill="#e88a86" opacity="0.10" transform="rotate(-16 1028.5 214.3)"/><ellipse cx="1027.7" cy="153.8" rx="10.9" ry="3.8" fill="#8a96ea" opacity="0.13" transform="rotate(28 1027.7 153.8)"/><ellipse cx="995.3" cy="139.4" rx="6.0" ry="2.7" fill="#e88a86" opacity="0.12" transform="rotate(-22 995.3 139.4)"/><ellipse cx="1037.4" cy="178.3" rx="8.6" ry="3.4" fill="#e88a86" opacity="0.15" transform="rotate(48 1037.4 178.3)"/><ellipse cx="933.2" cy="243.1" rx="6.0" ry="3.4" fill="#8a96ea" opacity="0.10" transform="rotate(11 933.2 243.1)"/><ellipse cx="961.2" cy="229.5" rx="7.8" ry="4.9" fill="#e88a86" opacity="0.12" transform="rotate(-2 961.2 229.5)"/><ellipse cx="940.7" cy="166.0" rx="5.0" ry="4.6" fill="#e88a86" opacity="0.17" transform="rotate(-48 940.7 166.0)"/><ellipse cx="977.0" cy="145.6" rx="8.9" ry="3.4" fill="#e88a86" opacity="0.20" transform="rotate(29 977.0 145.6)"/><ellipse cx="1026.7" cy="193.3" rx="6.7" ry="2.9" fill="#8a96ea" opacity="0.16" transform="rotate(17 1026.7 193.3)"/><ellipse cx="993.0" cy="244.2" rx="8.2" ry="2.6" fill="#e88a86" opacity="0.21" transform="rotate(31 993.0 244.2)"/><ellipse cx="953.5" cy="240.2" rx="9.1" ry="3.1" fill="#e88a86" opacity="0.19" transform="rotate(14 953.5 240.2)"/><ellipse cx="1026.1" cy="190.9" rx="7.6" ry="3.6" fill="#e88a86" opacity="0.13" transform="rotate(56 1026.1 190.9)"/><ellipse cx="1033.4" cy="232.3" rx="8.0" ry="2.6" fill="#8a96ea" opacity="0.13" transform="rotate(-57 1033.4 232.3)"/><ellipse cx="1030.3" cy="160.3" rx="9.1" ry="3.5" fill="#8a96ea" opacity="0.14" transform="rotate(-34 1030.3 160.3)"/><ellipse cx="970.2" cy="219.2" rx="6.5" ry="3.6" fill="#e88a86" opacity="0.20" transform="rotate(-48 970.2 219.2)"/><ellipse cx="967.0" cy="243.0" rx="5.9" ry="4.7" fill="#e88a86" opacity="0.16" transform="rotate(43 967.0 243.0)"/><ellipse cx="1019.0" cy="155.3" rx="6.2" ry="4.7" fill="#e88a86" opacity="0.18" transform="rotate(-26 1019.0 155.3)"/><ellipse cx="954.4" cy="212.4" rx="6.1" ry="3.3" fill="#8a96ea" opacity="0.14" transform="rotate(37 954.4 212.4)"/><ellipse cx="1010.5" cy="174.2" rx="10.3" ry="5.0" fill="#8a96ea" opacity="0.15" transform="rotate(8 1010.5 174.2)"/><ellipse cx="1009.7" cy="190.3" rx="10.7" ry="3.5" fill="#8a96ea" opacity="0.14" transform="rotate(29 1009.7 190.3)"/><ellipse cx="939.3" cy="189.7" rx="6.6" ry="4.7" fill="#e88a86" opacity="0.19" transform="rotate(-48 939.3 189.7)"/><ellipse cx="959.4" cy="146.2" rx="10.5" ry="5.0" fill="#e88a86" opacity="0.11" transform="rotate(-32 959.4 146.2)"/><ellipse cx="947.3" cy="197.9" rx="10.5" ry="4.5" fill="#8a96ea" opacity="0.21" transform="rotate(26 947.3 197.9)"/><ellipse cx="1002.2" cy="175.9" rx="6.4" ry="3.2" fill="#8a96ea" opacity="0.13" transform="rotate(-23 1002.2 175.9)"/><ellipse cx="944.8" cy="195.8" rx="6.6" ry="3.9" fill="#8a96ea" opacity="0.11" transform="rotate(38 944.8 195.8)"/><ellipse cx="1009.4" cy="157.5" rx="7.6" ry="2.7" fill="#8a96ea" opacity="0.16" transform="rotate(59 1009.4 157.5)"/><ellipse cx="986.8" cy="141.9" rx="9.0" ry="4.8" fill="#8a96ea" opacity="0.16" transform="rotate(-30 986.8 141.9)"/><ellipse cx="957.6" cy="237.2" rx="9.3" ry="3.5" fill="#8a96ea" opacity="0.19" transform="rotate(-11 957.6 237.2)"/><ellipse cx="1040.5" cy="149.9" rx="8.3" ry="3.3" fill="#e88a86" opacity="0.20" transform="rotate(-1 1040.5 149.9)"/><ellipse cx="946.1" cy="145.0" rx="10.3" ry="2.7" fill="#8a96ea" opacity="0.17" transform="rotate(40 946.1 145.0)"/><ellipse cx="1015.6" cy="173.7" rx="5.2" ry="3.2" fill="#8a96ea" opacity="0.11" transform="rotate(49 1015.6 173.7)"/><ellipse cx="983.6" cy="198.8" rx="7.5" ry="4.9" fill="#e88a86" opacity="0.21" transform="rotate(20 983.6 198.8)"/><ellipse cx="988.9" cy="159.8" rx="9.7" ry="2.8" fill="#e88a86" opacity="0.11" transform="rotate(32 988.9 159.8)"/><ellipse cx="996.5" cy="177.7" rx="7.5" ry="3.1" fill="#e88a86" opacity="0.13" transform="rotate(-12 996.5 177.7)"/><ellipse cx="949.4" cy="190.8" rx="16.0" ry="9.0" fill="#f2b0b0" opacity="0.35"/></g><g filter="url(#b05)"><ellipse cx="989.3" cy="201.3" rx="0.9" ry="1.5" fill="#0a1ec8" opacity="0.38" transform="rotate(-43 989.3 201.3)"/><ellipse cx="1000.8" cy="192.3" rx="1.2" ry="1.6" fill="#d0141a" opacity="0.27" transform="rotate(-41 1000.8 192.3)"/><ellipse cx="974.3" cy="217.7" rx="1.0" ry="1.4" fill="#0a1ec8" opacity="0.24" transform="rotate(26 974.3 217.7)"/><ellipse cx="969.1" cy="199.0" rx="1.1" ry="1.2" fill="#0a1ec8" opacity="0.38" transform="rotate(44 969.1 199.0)"/><ellipse cx="978.3" cy="205.9" rx="1.2" ry="1.8" fill="#0a1ec8" opacity="0.24" transform="rotate(-33 978.3 205.9)"/><ellipse cx="975.0" cy="201.2" rx="0.9" ry="1.2" fill="#0a1ec8" opacity="0.30" transform="rotate(36 975.0 201.2)"/><ellipse cx="987.2" cy="229.7" rx="0.9" ry="1.7" fill="#0a1ec8" opacity="0.17" transform="rotate(-27 987.2 229.7)"/><ellipse cx="979.5" cy="188.6" rx="0.8" ry="1.8" fill="#d0141a" opacity="0.35" transform="rotate(-10 979.5 188.6)"/><ellipse cx="985.5" cy="220.5" rx="1.0" ry="1.8" fill="#d0141a" opacity="0.25" transform="rotate(36 985.5 220.5)"/><ellipse cx="1006.0" cy="206.8" rx="0.8" ry="1.5" fill="#d0141a" opacity="0.23" transform="rotate(-24 1006.0 206.8)"/><ellipse cx="1000.1" cy="176.6" rx="0.8" ry="1.6" fill="#0a1ec8" opacity="0.16" transform="rotate(34 1000.1 176.6)"/><ellipse cx="992.3" cy="210.1" rx="1.1" ry="1.5" fill="#0a1ec8" opacity="0.33" transform="rotate(21 992.3 210.1)"/><ellipse cx="962.9" cy="177.1" rx="1.0" ry="1.6" fill="#0a1ec8" opacity="0.19" transform="rotate(-37 962.9 177.1)"/><ellipse cx="1012.5" cy="190.2" rx="1.0" ry="1.3" fill="#d0141a" opacity="0.12" transform="rotate(-1 1012.5 190.2)"/><ellipse cx="972.5" cy="186.2" rx="1.2" ry="1.3" fill="#d0141a" opacity="0.38" transform="rotate(-1 972.5 186.2)"/><ellipse cx="969.7" cy="197.7" rx="1.1" ry="1.7" fill="#d0141a" opacity="0.27" transform="rotate(28 969.7 197.7)"/><ellipse cx="983.3" cy="194.6" rx="0.9" ry="1.4" fill="#0a1ec8" opacity="0.51" transform="rotate(30 983.3 194.6)"/><ellipse cx="1005.5" cy="211.3" rx="0.9" ry="1.5" fill="#d0141a" opacity="0.23" transform="rotate(22 1005.5 211.3)"/><ellipse cx="979.5" cy="177.7" rx="0.8" ry="1.5" fill="#0a1ec8" opacity="0.29" transform="rotate(-24 979.5 177.7)"/><ellipse cx="968.9" cy="224.6" rx="1.1" ry="1.4" fill="#d0141a" opacity="0.14" transform="rotate(39 968.9 224.6)"/><ellipse cx="998.6" cy="221.7" rx="1.1" ry="1.6" fill="#d0141a" opacity="0.19" transform="rotate(-8 998.6 221.7)"/><ellipse cx="992.4" cy="182.2" rx="0.9" ry="1.3" fill="#0a1ec8" opacity="0.27" transform="rotate(-16 992.4 182.2)"/><ellipse cx="1004.2" cy="201.5" rx="1.1" ry="1.8" fill="#d0141a" opacity="0.23" transform="rotate(-40 1004.2 201.5)"/><ellipse cx="969.2" cy="193.0" rx="0.9" ry="1.7" fill="#0a1ec8" opacity="0.21" transform="rotate(36 969.2 193.0)"/><ellipse cx="965.1" cy="190.8" rx="1.0" ry="1.5" fill="#0a1ec8" opacity="0.23" transform="rotate(42 965.1 190.8)"/><ellipse cx="997.5" cy="217.0" rx="1.1" ry="1.4" fill="#0a1ec8" opacity="0.27" transform="rotate(-10 997.5 217.0)"/><ellipse cx="989.5" cy="217.0" rx="1.1" ry="1.3" fill="#d0141a" opacity="0.28" transform="rotate(1 989.5 217.0)"/><ellipse cx="973.3" cy="174.7" rx="0.9" ry="1.8" fill="#0a1ec8" opacity="0.29" transform="rotate(15 973.3 174.7)"/><ellipse cx="968.9" cy="185.3" rx="1.1" ry="1.2" fill="#d0141a" opacity="0.18" transform="rotate(42 968.9 185.3)"/><ellipse cx="988.4" cy="219.1" rx="1.1" ry="1.8" fill="#0a1ec8" opacity="0.25" transform="rotate(-21 988.4 219.1)"/><ellipse cx="992.2" cy="183.4" rx="0.8" ry="1.4" fill="#0a1ec8" opacity="0.36" transform="rotate(25 992.2 183.4)"/><ellipse cx="990.9" cy="200.1" rx="0.8" ry="1.8" fill="#d0141a" opacity="0.42" transform="rotate(35 990.9 200.1)"/><ellipse cx="996.4" cy="181.8" rx="0.8" ry="1.7" fill="#d0141a" opacity="0.28" transform="rotate(-12 996.4 181.8)"/><ellipse cx="994.2" cy="178.0" rx="1.1" ry="1.2" fill="#0a1ec8" opacity="0.24" transform="rotate(-25 994.2 178.0)"/><ellipse cx="991.4" cy="195.5" rx="1.0" ry="1.6" fill="#0a1ec8" opacity="0.42" transform="rotate(38 991.4 195.5)"/><ellipse cx="971.8" cy="183.7" rx="0.9" ry="1.7" fill="#d0141a" opacity="0.29" transform="rotate(-11 971.8 183.7)"/><ellipse cx="1000.5" cy="186.3" rx="1.0" ry="1.6" fill="#0a1ec8" opacity="0.27" transform="rotate(5 1000.5 186.3)"/><ellipse cx="1002.0" cy="176.5" rx="0.9" ry="1.4" fill="#d0141a" opacity="0.19" transform="rotate(-10 1002.0 176.5)"/><ellipse cx="1005.9" cy="190.1" rx="0.8" ry="1.3" fill="#0a1ec8" opacity="0.23" transform="rotate(26 1005.9 190.1)"/><ellipse cx="1000.0" cy="187.4" rx="0.8" ry="1.6" fill="#d0141a" opacity="0.20" transform="rotate(-10 1000.0 187.4)"/><ellipse cx="966.2" cy="194.5" rx="1.2" ry="1.5" fill="#d0141a" opacity="0.21" transform="rotate(30 966.2 194.5)"/><ellipse cx="993.1" cy="166.8" rx="1.0" ry="1.8" fill="#0a1ec8" opacity="0.18" transform="rotate(-39 993.1 166.8)"/><ellipse cx="974.5" cy="211.5" rx="0.9" ry="1.6" fill="#0a1ec8" opacity="0.23" transform="rotate(10 974.5 211.5)"/><ellipse cx="971.3" cy="192.7" rx="0.9" ry="1.2" fill="#0a1ec8" opacity="0.23" transform="rotate(-20 971.3 192.7)"/><ellipse cx="966.3" cy="193.2" rx="0.9" ry="1.5" fill="#d0141a" opacity="0.34" transform="rotate(14 966.3 193.2)"/><ellipse cx="960.6" cy="181.3" rx="0.9" ry="1.2" fill="#0a1ec8" opacity="0.21" transform="rotate(18 960.6 181.3)"/><ellipse cx="994.6" cy="208.1" rx="1.0" ry="1.8" fill="#d0141a" opacity="0.29" transform="rotate(24 994.6 208.1)"/><ellipse cx="970.7" cy="195.0" rx="0.9" ry="1.6" fill="#d0141a" opacity="0.25" transform="rotate(-45 970.7 195.0)"/><ellipse cx="960.6" cy="190.0" rx="1.0" ry="1.8" fill="#0a1ec8" opacity="0.22" transform="rotate(39 960.6 190.0)"/><ellipse cx="983.9" cy="219.2" rx="1.1" ry="1.4" fill="#0a1ec8" opacity="0.25" transform="rotate(-22 983.9 219.2)"/><ellipse cx="965.7" cy="194.3" rx="1.1" ry="1.7" fill="#d0141a" opacity="0.23" transform="rotate(-38 965.7 194.3)"/><ellipse cx="957.8" cy="203.2" rx="1.2" ry="1.6" fill="#0a1ec8" opacity="0.19" transform="rotate(-19 957.8 203.2)"/><ellipse cx="991.1" cy="213.2" rx="1.1" ry="1.7" fill="#d0141a" opacity="0.36" transform="rotate(16 991.1 213.2)"/><ellipse cx="995.9" cy="188.1" rx="0.8" ry="1.3" fill="#0a1ec8" opacity="0.38" transform="rotate(28 995.9 188.1)"/><ellipse cx="975.4" cy="201.0" rx="0.9" ry="1.5" fill="#0a1ec8" opacity="0.35" transform="rotate(18 975.4 201.0)"/><ellipse cx="992.7" cy="198.6" rx="0.9" ry="1.7" fill="#0a1ec8" opacity="0.44" transform="rotate(17 992.7 198.6)"/><ellipse cx="966.1" cy="221.9" rx="1.0" ry="1.8" fill="#0a1ec8" opacity="0.16" transform="rotate(-0 966.1 221.9)"/><ellipse cx="970.4" cy="197.6" rx="1.1" ry="1.2" fill="#d0141a" opacity="0.35" transform="rotate(4 970.4 197.6)"/><ellipse cx="962.4" cy="176.6" rx="0.9" ry="1.6" fill="#0a1ec8" opacity="0.21" transform="rotate(-2 962.4 176.6)"/><ellipse cx="964.6" cy="218.1" rx="0.9" ry="1.8" fill="#0a1ec8" opacity="0.19" transform="rotate(-0 964.6 218.1)"/><ellipse cx="988.0" cy="173.0" rx="1.0" ry="1.2" fill="#0a1ec8" opacity="0.30" transform="rotate(1 988.0 173.0)"/><ellipse cx="997.9" cy="199.5" rx="1.1" ry="1.5" fill="#d0141a" opacity="0.23" transform="rotate(34 997.9 199.5)"/><ellipse cx="958.3" cy="212.7" rx="0.9" ry="1.7" fill="#0a1ec8" opacity="0.15" transform="rotate(19 958.3 212.7)"/><ellipse cx="999.2" cy="175.2" rx="1.1" ry="1.6" fill="#d0141a" opacity="0.19" transform="rotate(-8 999.2 175.2)"/><ellipse cx="1007.1" cy="206.7" rx="1.0" ry="1.2" fill="#0a1ec8" opacity="0.26" transform="rotate(8 1007.1 206.7)"/><ellipse cx="1012.3" cy="188.7" rx="1.0" ry="1.4" fill="#d0141a" opacity="0.15" transform="rotate(-21 1012.3 188.7)"/><ellipse cx="1001.2" cy="222.6" rx="0.9" ry="1.6" fill="#0a1ec8" opacity="0.14" transform="rotate(-42 1001.2 222.6)"/><ellipse cx="971.8" cy="209.6" rx="1.1" ry="1.5" fill="#0a1ec8" opacity="0.20" transform="rotate(22 971.8 209.6)"/><ellipse cx="988.5" cy="225.0" rx="0.8" ry="1.7" fill="#d0141a" opacity="0.25" transform="rotate(18 988.5 225.0)"/><ellipse cx="973.7" cy="226.8" rx="0.9" ry="1.2" fill="#d0141a" opacity="0.13" transform="rotate(38 973.7 226.8)"/><ellipse cx="1006.5" cy="203.2" rx="1.1" ry="1.7" fill="#0a1ec8" opacity="0.19" transform="rotate(11 1006.5 203.2)"/><ellipse cx="996.1" cy="204.0" rx="1.0" ry="1.4" fill="#d0141a" opacity="0.30" transform="rotate(3 996.1 204.0)"/><ellipse cx="982.5" cy="205.5" rx="1.1" ry="1.4" fill="#d0141a" opacity="0.31" transform="rotate(-14 982.5 205.5)"/><ellipse cx="1008.1" cy="211.8" rx="1.0" ry="1.3" fill="#d0141a" opacity="0.19" transform="rotate(-40 1008.1 211.8)"/><ellipse cx="1007.2" cy="208.8" rx="0.8" ry="1.4" fill="#d0141a" opacity="0.23" transform="rotate(-8 1007.2 208.8)"/><ellipse cx="1005.9" cy="202.9" rx="1.1" ry="1.7" fill="#0a1ec8" opacity="0.21" transform="rotate(40 1005.9 202.9)"/><ellipse cx="1003.8" cy="208.1" rx="0.8" ry="1.4" fill="#0a1ec8" opacity="0.15" transform="rotate(-23 1003.8 208.1)"/><ellipse cx="985.0" cy="166.9" rx="1.0" ry="1.4" fill="#0a1ec8" opacity="0.15" transform="rotate(16 985.0 166.9)"/><ellipse cx="982.9" cy="175.5" rx="0.9" ry="1.8" fill="#0a1ec8" opacity="0.25" transform="rotate(17 982.9 175.5)"/><ellipse cx="1000.8" cy="193.9" rx="0.8" ry="1.3" fill="#0a1ec8" opacity="0.23" transform="rotate(-35 1000.8 193.9)"/><ellipse cx="999.9" cy="197.9" rx="1.0" ry="1.8" fill="#0a1ec8" opacity="0.24" transform="rotate(1 999.9 197.9)"/><ellipse cx="1003.2" cy="178.1" rx="1.0" ry="1.2" fill="#d0141a" opacity="0.17" transform="rotate(43 1003.2 178.1)"/><ellipse cx="995.8" cy="174.1" rx="0.9" ry="1.7" fill="#0a1ec8" opacity="0.23" transform="rotate(16 995.8 174.1)"/><ellipse cx="1004.4" cy="202.2" rx="0.8" ry="1.3" fill="#d0141a" opacity="0.20" transform="rotate(14 1004.4 202.2)"/><ellipse cx="988.0" cy="163.5" rx="1.0" ry="1.8" fill="#0a1ec8" opacity="0.12" transform="rotate(1 988.0 163.5)"/><ellipse cx="979.4" cy="205.3" rx="0.9" ry="1.8" fill="#0a1ec8" opacity="0.44" transform="rotate(23 979.4 205.3)"/><ellipse cx="983.9" cy="184.7" rx="0.8" ry="1.6" fill="#d0141a" opacity="0.24" transform="rotate(40 983.9 184.7)"/><ellipse cx="999.5" cy="202.8" rx="1.0" ry="1.8" fill="#d0141a" opacity="0.23" transform="rotate(22 999.5 202.8)"/><ellipse cx="982.4" cy="220.9" rx="0.9" ry="1.8" fill="#0a1ec8" opacity="0.18" transform="rotate(-8 982.4 220.9)"/><ellipse cx="995.4" cy="211.3" rx="1.2" ry="1.8" fill="#0a1ec8" opacity="0.18" transform="rotate(35 995.4 211.3)"/><ellipse cx="1002.6" cy="217.0" rx="1.0" ry="1.8" fill="#d0141a" opacity="0.15" transform="rotate(-25 1002.6 217.0)"/><ellipse cx="1009.1" cy="182.6" rx="0.9" ry="1.5" fill="#0a1ec8" opacity="0.22" transform="rotate(2 1009.1 182.6)"/><ellipse cx="999.6" cy="171.0" rx="0.9" ry="1.4" fill="#d0141a" opacity="0.19" transform="rotate(7 999.6 171.0)"/><ellipse cx="963.7" cy="190.4" rx="0.9" ry="1.8" fill="#0a1ec8" opacity="0.17" transform="rotate(-14 963.7 190.4)"/><ellipse cx="990.4" cy="226.2" rx="0.8" ry="1.8" fill="#d0141a" opacity="0.17" transform="rotate(27 990.4 226.2)"/><ellipse cx="964.7" cy="176.3" rx="1.1" ry="1.8" fill="#d0141a" opacity="0.19" transform="rotate(-26 964.7 176.3)"/><ellipse cx="994.8" cy="211.4" rx="1.2" ry="1.5" fill="#d0141a" opacity="0.30" transform="rotate(29 994.8 211.4)"/><ellipse cx="971.5" cy="226.6" rx="0.9" ry="1.3" fill="#0a1ec8" opacity="0.15" transform="rotate(42 971.5 226.6)"/><ellipse cx="977.4" cy="195.9" rx="1.1" ry="1.4" fill="#d0141a" opacity="0.30" transform="rotate(-1 977.4 195.9)"/><ellipse cx="988.3" cy="202.3" rx="0.8" ry="1.3" fill="#0a1ec8" opacity="0.42" transform="rotate(-23 988.3 202.3)"/><ellipse cx="984.3" cy="181.5" rx="1.0" ry="1.8" fill="#d0141a" opacity="0.30" transform="rotate(-12 984.3 181.5)"/><ellipse cx="1004.1" cy="184.3" rx="1.1" ry="1.7" fill="#0a1ec8" opacity="0.20" transform="rotate(10 1004.1 184.3)"/><ellipse cx="970.4" cy="217.1" rx="1.0" ry="1.7" fill="#d0141a" opacity="0.24" transform="rotate(-18 970.4 217.1)"/><ellipse cx="992.9" cy="198.3" rx="1.1" ry="1.7" fill="#0a1ec8" opacity="0.37" transform="rotate(-9 992.9 198.3)"/><ellipse cx="999.9" cy="211.2" rx="1.0" ry="1.4" fill="#d0141a" opacity="0.19" transform="rotate(-43 999.9 211.2)"/><ellipse cx="974.8" cy="195.8" rx="1.1" ry="1.3" fill="#0a1ec8" opacity="0.35" transform="rotate(27 974.8 195.8)"/><ellipse cx="966.3" cy="203.0" rx="1.0" ry="1.3" fill="#d0141a" opacity="0.26" transform="rotate(-5 966.3 203.0)"/><ellipse cx="1001.0" cy="208.3" rx="1.1" ry="1.7" fill="#d0141a" opacity="0.20" transform="rotate(-39 1001.0 208.3)"/><ellipse cx="1002.8" cy="222.4" rx="0.8" ry="1.5" fill="#d0141a" opacity="0.14" transform="rotate(8 1002.8 222.4)"/><ellipse cx="985.7" cy="190.0" rx="0.9" ry="1.8" fill="#d0141a" opacity="0.44" transform="rotate(12 985.7 190.0)"/><ellipse cx="986.4" cy="175.8" rx="1.0" ry="1.4" fill="#d0141a" opacity="0.25" transform="rotate(-8 986.4 175.8)"/><ellipse cx="970.7" cy="204.4" rx="1.1" ry="1.2" fill="#0a1ec8" opacity="0.26" transform="rotate(-21 970.7 204.4)"/><ellipse cx="960.6" cy="183.7" rx="0.9" ry="1.6" fill="#d0141a" opacity="0.22" transform="rotate(-35 960.6 183.7)"/><ellipse cx="963.5" cy="174.1" rx="1.0" ry="1.7" fill="#d0141a" opacity="0.13" transform="rotate(34 963.5 174.1)"/><ellipse cx="982.3" cy="224.7" rx="0.8" ry="1.7" fill="#d0141a" opacity="0.17" transform="rotate(14 982.3 224.7)"/><ellipse cx="964.6" cy="186.6" rx="1.1" ry="1.7" fill="#d0141a" opacity="0.20" transform="rotate(-22 964.6 186.6)"/><ellipse cx="995.1" cy="170.2" rx="1.0" ry="1.5" fill="#d0141a" opacity="0.24" transform="rotate(4 995.1 170.2)"/><ellipse cx="980.7" cy="227.4" rx="1.0" ry="1.7" fill="#0a1ec8" opacity="0.21" transform="rotate(12 980.7 227.4)"/><ellipse cx="979.1" cy="220.5" rx="0.9" ry="1.8" fill="#d0141a" opacity="0.21" transform="rotate(35 979.1 220.5)"/><ellipse cx="988.0" cy="206.9" rx="0.9" ry="1.3" fill="#0a1ec8" opacity="0.32" transform="rotate(16 988.0 206.9)"/><ellipse cx="986.5" cy="224.4" rx="1.1" ry="1.2" fill="#0a1ec8" opacity="0.24" transform="rotate(2 986.5 224.4)"/><ellipse cx="1008.4" cy="187.8" rx="0.9" ry="1.8" fill="#0a1ec8" opacity="0.18" transform="rotate(-11 1008.4 187.8)"/><ellipse cx="1000.6" cy="189.9" rx="0.9" ry="1.3" fill="#d0141a" opacity="0.29" transform="rotate(-14 1000.6 189.9)"/><ellipse cx="992.7" cy="228.8" rx="1.0" ry="1.5" fill="#d0141a" opacity="0.18" transform="rotate(37 992.7 228.8)"/><ellipse cx="960.2" cy="209.5" rx="1.0" ry="1.3" fill="#d0141a" opacity="0.19" transform="rotate(2 960.2 209.5)"/><ellipse cx="972.1" cy="218.8" rx="1.0" ry="1.7" fill="#0a1ec8" opacity="0.16" transform="rotate(9 972.1 218.8)"/><ellipse cx="995.3" cy="183.0" rx="1.0" ry="1.5" fill="#0a1ec8" opacity="0.29" transform="rotate(-40 995.3 183.0)"/><ellipse cx="1012.7" cy="193.2" rx="0.9" ry="1.8" fill="#0a1ec8" opacity="0.22" transform="rotate(23 1012.7 193.2)"/><ellipse cx="982.4" cy="163.2" rx="1.0" ry="1.5" fill="#d0141a" opacity="0.21" transform="rotate(-43 982.4 163.2)"/><ellipse cx="965.3" cy="173.5" rx="0.9" ry="1.4" fill="#0a1ec8" opacity="0.13" transform="rotate(-32 965.3 173.5)"/><ellipse cx="969.5" cy="208.6" rx="1.1" ry="1.5" fill="#d0141a" opacity="0.29" transform="rotate(-12 969.5 208.6)"/><ellipse cx="989.8" cy="207.3" rx="1.0" ry="1.4" fill="#0a1ec8" opacity="0.22" transform="rotate(22 989.8 207.3)"/><ellipse cx="966.2" cy="212.3" rx="1.1" ry="1.3" fill="#0a1ec8" opacity="0.25" transform="rotate(29 966.2 212.3)"/><ellipse cx="965.9" cy="173.0" rx="1.2" ry="1.7" fill="#0a1ec8" opacity="0.24" transform="rotate(-17 965.9 173.0)"/><ellipse cx="1005.3" cy="193.8" rx="1.1" ry="1.5" fill="#0a1ec8" opacity="0.19" transform="rotate(32 1005.3 193.8)"/><ellipse cx="993.5" cy="198.3" rx="0.8" ry="1.4" fill="#d0141a" opacity="0.30" transform="rotate(7 993.5 198.3)"/><ellipse cx="977.2" cy="199.2" rx="1.2" ry="1.4" fill="#0a1ec8" opacity="0.47" transform="rotate(45 977.2 199.2)"/><ellipse cx="984.8" cy="201.5" rx="1.1" ry="1.3" fill="#d0141a" opacity="0.45" transform="rotate(17 984.8 201.5)"/><ellipse cx="988.9" cy="192.4" rx="0.9" ry="1.6" fill="#0a1ec8" opacity="0.44" transform="rotate(30 988.9 192.4)"/><ellipse cx="993.4" cy="175.8" rx="0.9" ry="1.7" fill="#d0141a" opacity="0.21" transform="rotate(-43 993.4 175.8)"/><ellipse cx="986.6" cy="227.3" rx="1.0" ry="1.4" fill="#0a1ec8" opacity="0.20" transform="rotate(-24 986.6 227.3)"/><ellipse cx="995.0" cy="167.3" rx="0.9" ry="1.4" fill="#d0141a" opacity="0.17" transform="rotate(40 995.0 167.3)"/><ellipse cx="966.4" cy="191.3" rx="0.9" ry="1.5" fill="#0a1ec8" opacity="0.28" transform="rotate(27 966.4 191.3)"/><ellipse cx="961.4" cy="210.2" rx="1.0" ry="1.7" fill="#0a1ec8" opacity="0.19" transform="rotate(-2 961.4 210.2)"/><ellipse cx="1003.3" cy="186.3" rx="0.8" ry="1.4" fill="#0a1ec8" opacity="0.16" transform="rotate(34 1003.3 186.3)"/><ellipse cx="987.5" cy="179.4" rx="0.9" ry="1.3" fill="#d0141a" opacity="0.30" transform="rotate(29 987.5 179.4)"/><ellipse cx="967.7" cy="171.3" rx="0.9" ry="1.7" fill="#0a1ec8" opacity="0.15" transform="rotate(3 967.7 171.3)"/><ellipse cx="994.2" cy="224.7" rx="1.1" ry="1.4" fill="#0a1ec8" opacity="0.21" transform="rotate(5 994.2 224.7)"/><ellipse cx="971.5" cy="183.4" rx="0.9" ry="1.2" fill="#0a1ec8" opacity="0.27" transform="rotate(17 971.5 183.4)"/><ellipse cx="973.5" cy="186.7" rx="1.0" ry="1.2" fill="#d0141a" opacity="0.33" transform="rotate(4 973.5 186.7)"/><ellipse cx="958.1" cy="208.6" rx="1.0" ry="1.5" fill="#0a1ec8" opacity="0.16" transform="rotate(25 958.1 208.6)"/><ellipse cx="966.8" cy="191.3" rx="1.1" ry="1.2" fill="#0a1ec8" opacity="0.23" transform="rotate(40 966.8 191.3)"/><ellipse cx="972.8" cy="211.4" rx="1.2" ry="1.8" fill="#d0141a" opacity="0.19" transform="rotate(28 972.8 211.4)"/><ellipse cx="959.6" cy="200.1" rx="1.0" ry="1.2" fill="#d0141a" opacity="0.21" transform="rotate(-11 959.6 200.1)"/><ellipse cx="960.1" cy="209.8" rx="1.1" ry="1.4" fill="#0a1ec8" opacity="0.15" transform="rotate(-40 960.1 209.8)"/><ellipse cx="970.7" cy="167.9" rx="0.9" ry="1.5" fill="#0a1ec8" opacity="0.21" transform="rotate(-6 970.7 167.9)"/><ellipse cx="974.9" cy="201.7" rx="1.1" ry="1.6" fill="#0a1ec8" opacity="0.32" transform="rotate(9 974.9 201.7)"/><ellipse cx="999.0" cy="206.3" rx="1.0" ry="1.7" fill="#d0141a" opacity="0.21" transform="rotate(35 999.0 206.3)"/><ellipse cx="1002.2" cy="178.7" rx="0.9" ry="1.3" fill="#0a1ec8" opacity="0.16" transform="rotate(-23 1002.2 178.7)"/><ellipse cx="996.2" cy="202.1" rx="0.9" ry="1.4" fill="#d0141a" opacity="0.23" transform="rotate(20 996.2 202.1)"/><ellipse cx="957.0" cy="185.1" rx="0.9" ry="1.8" fill="#0a1ec8" opacity="0.19" transform="rotate(-30 957.0 185.1)"/><ellipse cx="1001.4" cy="197.9" rx="1.1" ry="1.4" fill="#d0141a" opacity="0.30" transform="rotate(-18 1001.4 197.9)"/><ellipse cx="978.9" cy="200.5" rx="1.1" ry="1.7" fill="#d0141a" opacity="0.37" transform="rotate(1 978.9 200.5)"/><ellipse cx="982.2" cy="163.3" rx="0.8" ry="1.3" fill="#d0141a" opacity="0.14" transform="rotate(40 982.2 163.3)"/><ellipse cx="967.2" cy="184.9" rx="0.9" ry="1.6" fill="#0a1ec8" opacity="0.25" transform="rotate(-11 967.2 184.9)"/><ellipse cx="972.1" cy="193.3" rx="0.8" ry="1.3" fill="#d0141a" opacity="0.22" transform="rotate(22 972.1 193.3)"/><ellipse cx="961.3" cy="208.2" rx="0.9" ry="1.4" fill="#0a1ec8" opacity="0.21" transform="rotate(-40 961.3 208.2)"/><ellipse cx="959.8" cy="189.2" rx="1.1" ry="1.5" fill="#d0141a" opacity="0.24" transform="rotate(5 959.8 189.2)"/><ellipse cx="967.8" cy="169.0" rx="0.9" ry="1.5" fill="#d0141a" opacity="0.17" transform="rotate(-22 967.8 169.0)"/><ellipse cx="977.8" cy="195.0" rx="1.1" ry="1.8" fill="#d0141a" opacity="0.31" transform="rotate(4 977.8 195.0)"/><ellipse cx="978.0" cy="187.3" rx="0.9" ry="1.8" fill="#0a1ec8" opacity="0.37" transform="rotate(-28 978.0 187.3)"/><ellipse cx="1003.4" cy="215.9" rx="1.0" ry="1.3" fill="#0a1ec8" opacity="0.24" transform="rotate(-18 1003.4 215.9)"/><ellipse cx="971.3" cy="219.6" rx="1.1" ry="1.4" fill="#d0141a" opacity="0.29" transform="rotate(32 971.3 219.6)"/><ellipse cx="1002.7" cy="194.3" rx="1.0" ry="1.8" fill="#d0141a" opacity="0.31" transform="rotate(-37 1002.7 194.3)"/><ellipse cx="966.3" cy="173.9" rx="0.9" ry="1.5" fill="#d0141a" opacity="0.17" transform="rotate(-42 966.3 173.9)"/><ellipse cx="987.7" cy="170.1" rx="1.1" ry="1.4" fill="#0a1ec8" opacity="0.22" transform="rotate(6 987.7 170.1)"/><ellipse cx="991.3" cy="219.5" rx="0.9" ry="1.8" fill="#d0141a" opacity="0.26" transform="rotate(-25 991.3 219.5)"/><ellipse cx="1000.5" cy="206.7" rx="1.1" ry="1.3" fill="#0a1ec8" opacity="0.22" transform="rotate(15 1000.5 206.7)"/><ellipse cx="978.5" cy="176.9" rx="1.1" ry="1.7" fill="#0a1ec8" opacity="0.17" transform="rotate(-7 978.5 176.9)"/><ellipse cx="970.6" cy="220.0" rx="1.2" ry="1.8" fill="#0a1ec8" opacity="0.22" transform="rotate(41 970.6 220.0)"/><ellipse cx="1004.4" cy="179.1" rx="1.2" ry="1.3" fill="#0a1ec8" opacity="0.15" transform="rotate(20 1004.4 179.1)"/><ellipse cx="969.0" cy="219.4" rx="1.1" ry="1.3" fill="#0a1ec8" opacity="0.18" transform="rotate(6 969.0 219.4)"/><ellipse cx="1001.8" cy="170.7" rx="0.9" ry="1.3" fill="#0a1ec8" opacity="0.19" transform="rotate(15 1001.8 170.7)"/><ellipse cx="1000.7" cy="169.5" rx="0.8" ry="1.5" fill="#d0141a" opacity="0.17" transform="rotate(39 1000.7 169.5)"/><ellipse cx="968.1" cy="208.3" rx="1.0" ry="1.6" fill="#0a1ec8" opacity="0.26" transform="rotate(24 968.1 208.3)"/><ellipse cx="994.5" cy="175.0" rx="0.9" ry="1.8" fill="#d0141a" opacity="0.27" transform="rotate(-24 994.5 175.0)"/><ellipse cx="989.1" cy="166.4" rx="0.9" ry="1.3" fill="#0a1ec8" opacity="0.13" transform="rotate(29 989.1 166.4)"/><ellipse cx="1008.3" cy="204.4" rx="0.9" ry="1.8" fill="#d0141a" opacity="0.16" transform="rotate(24 1008.3 204.4)"/><ellipse cx="979.5" cy="209.6" rx="1.1" ry="1.3" fill="#0a1ec8" opacity="0.41" transform="rotate(-6 979.5 209.6)"/><ellipse cx="966.5" cy="185.4" rx="1.0" ry="1.6" fill="#0a1ec8" opacity="0.30" transform="rotate(-4 966.5 185.4)"/><ellipse cx="967.8" cy="210.1" rx="1.1" ry="1.7" fill="#0a1ec8" opacity="0.18" transform="rotate(8 967.8 210.1)"/><ellipse cx="986.2" cy="208.5" rx="1.0" ry="1.5" fill="#d0141a" opacity="0.35" transform="rotate(39 986.2 208.5)"/><ellipse cx="975.4" cy="169.3" rx="0.9" ry="1.7" fill="#0a1ec8" opacity="0.15" transform="rotate(-31 975.4 169.3)"/><ellipse cx="999.8" cy="224.3" rx="1.1" ry="1.2" fill="#0a1ec8" opacity="0.18" transform="rotate(-42 999.8 224.3)"/><ellipse cx="1008.1" cy="186.3" rx="1.0" ry="1.2" fill="#0a1ec8" opacity="0.25" transform="rotate(38 1008.1 186.3)"/><ellipse cx="992.5" cy="225.9" rx="0.9" ry="1.2" fill="#0a1ec8" opacity="0.23" transform="rotate(36 992.5 225.9)"/><ellipse cx="954.1" cy="196.9" rx="1.0" ry="1.6" fill="#0a1ec8" opacity="0.14" transform="rotate(8 954.1 196.9)"/><ellipse cx="957.4" cy="192.7" rx="0.9" ry="1.5" fill="#d0141a" opacity="0.17" transform="rotate(-32 957.4 192.7)"/><ellipse cx="957.5" cy="212.8" rx="0.9" ry="1.3" fill="#0a1ec8" opacity="0.20" transform="rotate(39 957.5 212.8)"/><ellipse cx="977.3" cy="191.0" rx="1.0" ry="1.5" fill="#d0141a" opacity="0.41" transform="rotate(14 977.3 191.0)"/><ellipse cx="979.4" cy="201.7" rx="1.1" ry="1.4" fill="#0a1ec8" opacity="0.42" transform="rotate(2 979.4 201.7)"/><ellipse cx="978.7" cy="190.5" rx="0.9" ry="1.3" fill="#0a1ec8" opacity="0.43" transform="rotate(8 978.7 190.5)"/><ellipse cx="956.6" cy="200.8" rx="0.9" ry="1.7" fill="#d0141a" opacity="0.17" transform="rotate(-28 956.6 200.8)"/><ellipse cx="973.7" cy="176.2" rx="0.9" ry="1.3" fill="#0a1ec8" opacity="0.29" transform="rotate(38 973.7 176.2)"/><ellipse cx="955.3" cy="202.3" rx="1.0" ry="1.6" fill="#0a1ec8" opacity="0.19" transform="rotate(-17 955.3 202.3)"/><ellipse cx="985.5" cy="214.9" rx="1.1" ry="1.3" fill="#0a1ec8" opacity="0.31" transform="rotate(-33 985.5 214.9)"/><ellipse cx="964.6" cy="176.6" rx="0.9" ry="1.8" fill="#0a1ec8" opacity="0.20" transform="rotate(32 964.6 176.6)"/><ellipse cx="978.1" cy="212.6" rx="0.9" ry="1.6" fill="#d0141a" opacity="0.28" transform="rotate(-15 978.1 212.6)"/><ellipse cx="960.3" cy="200.2" rx="1.0" ry="1.7" fill="#d0141a" opacity="0.27" transform="rotate(-37 960.3 200.2)"/><ellipse cx="984.2" cy="222.0" rx="1.0" ry="1.6" fill="#0a1ec8" opacity="0.22" transform="rotate(23 984.2 222.0)"/><ellipse cx="997.8" cy="189.6" rx="1.0" ry="1.6" fill="#0a1ec8" opacity="0.34" transform="rotate(31 997.8 189.6)"/><ellipse cx="983.6" cy="166.4" rx="0.8" ry="1.6" fill="#0a1ec8" opacity="0.25" transform="rotate(32 983.6 166.4)"/><ellipse cx="998.0" cy="207.4" rx="1.0" ry="1.2" fill="#d0141a" opacity="0.20" transform="rotate(-7 998.0 207.4)"/><ellipse cx="970.5" cy="224.4" rx="1.0" ry="1.3" fill="#0a1ec8" opacity="0.17" transform="rotate(-22 970.5 224.4)"/><ellipse cx="983.5" cy="191.5" rx="1.0" ry="1.6" fill="#d0141a" opacity="0.39" transform="rotate(35 983.5 191.5)"/><ellipse cx="992.4" cy="172.4" rx="1.1" ry="1.6" fill="#d0141a" opacity="0.24" transform="rotate(-7 992.4 172.4)"/><ellipse cx="960.6" cy="213.5" rx="1.1" ry="1.7" fill="#d0141a" opacity="0.24" transform="rotate(5 960.6 213.5)"/><ellipse cx="1003.3" cy="189.1" rx="0.9" ry="1.4" fill="#0a1ec8" opacity="0.20" transform="rotate(-10 1003.3 189.1)"/><ellipse cx="980.8" cy="213.7" rx="0.9" ry="1.2" fill="#d0141a" opacity="0.30" transform="rotate(-17 980.8 213.7)"/><ellipse cx="996.3" cy="208.5" rx="1.1" ry="1.4" fill="#0a1ec8" opacity="0.24" transform="rotate(-5 996.3 208.5)"/><ellipse cx="982.6" cy="184.4" rx="0.9" ry="1.2" fill="#0a1ec8" opacity="0.27" transform="rotate(11 982.6 184.4)"/><ellipse cx="962.8" cy="180.0" rx="1.1" ry="1.4" fill="#d0141a" opacity="0.26" transform="rotate(-5 962.8 180.0)"/><ellipse cx="990.8" cy="227.2" rx="1.1" ry="1.7" fill="#0a1ec8" opacity="0.23" transform="rotate(8 990.8 227.2)"/><ellipse cx="983.7" cy="211.4" rx="1.0" ry="1.7" fill="#d0141a" opacity="0.34" transform="rotate(29 983.7 211.4)"/><ellipse cx="954.4" cy="192.4" rx="1.1" ry="1.7" fill="#d0141a" opacity="0.22" transform="rotate(24 954.4 192.4)"/><ellipse cx="979.6" cy="223.3" rx="0.9" ry="1.2" fill="#0a1ec8" opacity="0.24" transform="rotate(3 979.6 223.3)"/><ellipse cx="993.8" cy="189.3" rx="1.0" ry="1.2" fill="#d0141a" opacity="0.22" transform="rotate(-26 993.8 189.3)"/><ellipse cx="969.8" cy="186.9" rx="0.9" ry="1.6" fill="#0a1ec8" opacity="0.21" transform="rotate(21 969.8 186.9)"/><ellipse cx="979.3" cy="224.3" rx="0.9" ry="1.5" fill="#0a1ec8" opacity="0.20" transform="rotate(-21 979.3 224.3)"/><ellipse cx="979.2" cy="203.6" rx="1.1" ry="1.4" fill="#0a1ec8" opacity="0.24" transform="rotate(-6 979.2 203.6)"/><ellipse cx="989.3" cy="203.4" rx="1.0" ry="1.8" fill="#d0141a" opacity="0.41" transform="rotate(-34 989.3 203.4)"/><ellipse cx="986.2" cy="221.9" rx="0.8" ry="1.5" fill="#d0141a" opacity="0.24" transform="rotate(41 986.2 221.9)"/><ellipse cx="976.0" cy="187.9" rx="0.8" ry="1.5" fill="#0a1ec8" opacity="0.41" transform="rotate(9 976.0 187.9)"/><ellipse cx="1003.1" cy="185.6" rx="1.0" ry="1.6" fill="#0a1ec8" opacity="0.29" transform="rotate(21 1003.1 185.6)"/><ellipse cx="983.3" cy="195.0" rx="1.0" ry="1.6" fill="#0a1ec8" opacity="0.41" transform="rotate(38 983.3 195.0)"/><ellipse cx="994.4" cy="175.3" rx="1.0" ry="1.7" fill="#d0141a" opacity="0.17" transform="rotate(-27 994.4 175.3)"/><ellipse cx="956.3" cy="204.4" rx="1.1" ry="1.5" fill="#d0141a" opacity="0.15" transform="rotate(-10 956.3 204.4)"/><ellipse cx="1002.9" cy="216.9" rx="1.2" ry="1.5" fill="#d0141a" opacity="0.26" transform="rotate(38 1002.9 216.9)"/><ellipse cx="985.2" cy="223.5" rx="1.1" ry="1.6" fill="#d0141a" opacity="0.23" transform="rotate(-12 985.2 223.5)"/><ellipse cx="974.0" cy="218.4" rx="0.9" ry="1.3" fill="#0a1ec8" opacity="0.32" transform="rotate(35 974.0 218.4)"/><ellipse cx="1002.0" cy="195.2" rx="1.1" ry="1.7" fill="#d0141a" opacity="0.32" transform="rotate(-27 1002.0 195.2)"/><ellipse cx="988.1" cy="164.2" rx="0.9" ry="1.6" fill="#d0141a" opacity="0.22" transform="rotate(-41 988.1 164.2)"/><ellipse cx="966.4" cy="178.4" rx="1.1" ry="1.3" fill="#0a1ec8" opacity="0.16" transform="rotate(-8 966.4 178.4)"/><ellipse cx="976.3" cy="179.3" rx="0.8" ry="1.2" fill="#0a1ec8" opacity="0.19" transform="rotate(11 976.3 179.3)"/><ellipse cx="992.2" cy="165.1" rx="0.9" ry="1.6" fill="#d0141a" opacity="0.21" transform="rotate(-9 992.2 165.1)"/><ellipse cx="962.1" cy="197.0" rx="0.8" ry="1.6" fill="#d0141a" opacity="0.25" transform="rotate(-22 962.1 197.0)"/><ellipse cx="971.3" cy="174.7" rx="1.1" ry="1.7" fill="#d0141a" opacity="0.23" transform="rotate(-19 971.3 174.7)"/><ellipse cx="979.8" cy="175.8" rx="1.0" ry="1.2" fill="#d0141a" opacity="0.33" transform="rotate(3 979.8 175.8)"/><ellipse cx="1011.4" cy="205.5" rx="1.0" ry="1.5" fill="#0a1ec8" opacity="0.13" transform="rotate(4 1011.4 205.5)"/><ellipse cx="975.8" cy="173.3" rx="0.8" ry="1.3" fill="#d0141a" opacity="0.21" transform="rotate(-30 975.8 173.3)"/><ellipse cx="975.6" cy="175.7" rx="1.0" ry="1.3" fill="#0a1ec8" opacity="0.19" transform="rotate(39 975.6 175.7)"/><ellipse cx="988.0" cy="200.5" rx="0.9" ry="1.8" fill="#d0141a" opacity="0.33" transform="rotate(39 988.0 200.5)"/><ellipse cx="966.6" cy="173.4" rx="0.9" ry="1.5" fill="#0a1ec8" opacity="0.22" transform="rotate(-30 966.6 173.4)"/><ellipse cx="1008.4" cy="201.3" rx="1.0" ry="1.6" fill="#0a1ec8" opacity="0.20" transform="rotate(-40 1008.4 201.3)"/><ellipse cx="998.5" cy="182.9" rx="0.9" ry="1.4" fill="#0a1ec8" opacity="0.31" transform="rotate(-41 998.5 182.9)"/><ellipse cx="979.5" cy="206.6" rx="0.9" ry="1.7" fill="#d0141a" opacity="0.34" transform="rotate(-33 979.5 206.6)"/><ellipse cx="955.2" cy="206.7" rx="1.0" ry="1.4" fill="#d0141a" opacity="0.17" transform="rotate(-32 955.2 206.7)"/><ellipse cx="1005.0" cy="190.0" rx="0.9" ry="1.6" fill="#d0141a" opacity="0.26" transform="rotate(33 1005.0 190.0)"/><ellipse cx="975.2" cy="175.6" rx="0.9" ry="1.5" fill="#0a1ec8" opacity="0.28" transform="rotate(-15 975.2 175.6)"/><ellipse cx="977.8" cy="182.8" rx="1.0" ry="1.7" fill="#d0141a" opacity="0.22" transform="rotate(-37 977.8 182.8)"/><ellipse cx="990.7" cy="216.9" rx="0.9" ry="1.7" fill="#d0141a" opacity="0.26" transform="rotate(-25 990.7 216.9)"/><ellipse cx="993.9" cy="187.2" rx="1.0" ry="1.5" fill="#0a1ec8" opacity="0.39" transform="rotate(-29 993.9 187.2)"/><ellipse cx="995.9" cy="211.5" rx="1.1" ry="1.4" fill="#d0141a" opacity="0.22" transform="rotate(-14 995.9 211.5)"/><ellipse cx="1002.5" cy="195.2" rx="0.8" ry="1.2" fill="#d0141a" opacity="0.29" transform="rotate(2 1002.5 195.2)"/><ellipse cx="966.5" cy="195.4" rx="1.0" ry="1.2" fill="#d0141a" opacity="0.19" transform="rotate(-15 966.5 195.4)"/><ellipse cx="989.5" cy="198.5" rx="1.1" ry="1.5" fill="#d0141a" opacity="0.41" transform="rotate(3 989.5 198.5)"/><ellipse cx="970.6" cy="169.4" rx="0.9" ry="1.8" fill="#0a1ec8" opacity="0.23" transform="rotate(22 970.6 169.4)"/><ellipse cx="974.1" cy="176.6" rx="1.1" ry="1.5" fill="#d0141a" opacity="0.22" transform="rotate(-4 974.1 176.6)"/><ellipse cx="986.2" cy="190.3" rx="0.9" ry="1.8" fill="#d0141a" opacity="0.44" transform="rotate(15 986.2 190.3)"/><ellipse cx="995.7" cy="210.8" rx="1.0" ry="1.2" fill="#0a1ec8" opacity="0.20" transform="rotate(17 995.7 210.8)"/><ellipse cx="1002.9" cy="171.5" rx="1.0" ry="1.6" fill="#d0141a" opacity="0.22" transform="rotate(32 1002.9 171.5)"/><ellipse cx="965.7" cy="189.7" rx="1.2" ry="1.3" fill="#0a1ec8" opacity="0.28" transform="rotate(-37 965.7 189.7)"/><ellipse cx="987.6" cy="230.0" rx="1.0" ry="1.4" fill="#d0141a" opacity="0.13" transform="rotate(30 987.6 230.0)"/><ellipse cx="977.9" cy="175.0" rx="1.0" ry="1.3" fill="#d0141a" opacity="0.27" transform="rotate(22 977.9 175.0)"/><ellipse cx="975.5" cy="190.4" rx="1.1" ry="1.6" fill="#d0141a" opacity="0.25" transform="rotate(-2 975.5 190.4)"/><ellipse cx="978.2" cy="177.3" rx="1.0" ry="1.3" fill="#d0141a" opacity="0.24" transform="rotate(-19 978.2 177.3)"/><ellipse cx="970.1" cy="219.6" rx="1.2" ry="1.6" fill="#d0141a" opacity="0.15" transform="rotate(-4 970.1 219.6)"/><ellipse cx="977.8" cy="188.8" rx="0.9" ry="1.2" fill="#0a1ec8" opacity="0.35" transform="rotate(-20 977.8 188.8)"/><ellipse cx="998.6" cy="211.0" rx="0.9" ry="1.3" fill="#0a1ec8" opacity="0.21" transform="rotate(-1 998.6 211.0)"/><ellipse cx="994.1" cy="227.6" rx="0.9" ry="1.4" fill="#0a1ec8" opacity="0.21" transform="rotate(-2 994.1 227.6)"/></g><g filter="url(#b05)"><ellipse cx="960.8" cy="190.8" rx="1.1" ry="4.2" fill="#d0141a" opacity="0.9" transform="rotate(30 960.8 190.8)"/><ellipse cx="963.3" cy="190.6" rx="1.1" ry="4.2" fill="#0a1ec8" opacity="0.9" transform="rotate(30 963.3 190.6)"/><ellipse cx="965.7" cy="190.3" rx="1.1" ry="4.2" fill="#d0141a" opacity="0.9" transform="rotate(30 965.7 190.3)"/><ellipse cx="968.2" cy="189.8" rx="1.1" ry="4.2" fill="#0a1ec8" opacity="0.9" transform="rotate(30 968.2 189.8)"/><ellipse cx="970.6" cy="188.9" rx="1.1" ry="4.2" fill="#d0141a" opacity="0.9" transform="rotate(30 970.6 188.9)"/><ellipse cx="973.1" cy="187.8" rx="1.1" ry="4.2" fill="#0a1ec8" opacity="0.9" transform="rotate(30 973.1 187.8)"/><ellipse cx="975.5" cy="186.5" rx="1.1" ry="4.2" fill="#d0141a" opacity="0.9" transform="rotate(30 975.5 186.5)"/><ellipse cx="978.0" cy="185.0" rx="1.1" ry="4.2" fill="#0a1ec8" opacity="0.9" transform="rotate(30 978.0 185.0)"/><ellipse cx="980.4" cy="183.5" rx="1.1" ry="4.2" fill="#d0141a" opacity="0.9" transform="rotate(30 980.4 183.5)"/><ellipse cx="982.9" cy="182.2" rx="1.1" ry="4.2" fill="#0a1ec8" opacity="0.9" transform="rotate(30 982.9 182.2)"/><ellipse cx="985.3" cy="181.1" rx="1.1" ry="4.2" fill="#d0141a" opacity="0.9" transform="rotate(30 985.3 181.1)"/><ellipse cx="987.8" cy="180.3" rx="1.1" ry="4.2" fill="#0a1ec8" opacity="0.9" transform="rotate(30 987.8 180.3)"/><ellipse cx="990.2" cy="179.7" rx="1.1" ry="4.2" fill="#d0141a" opacity="0.9" transform="rotate(30 990.2 179.7)"/><ellipse cx="992.7" cy="179.4" rx="1.1" ry="4.2" fill="#0a1ec8" opacity="0.9" transform="rotate(30 992.7 179.4)"/><ellipse cx="995.2" cy="179.3" rx="1.1" ry="4.2" fill="#d0141a" opacity="0.9" transform="rotate(30 995.2 179.3)"/><ellipse cx="997.6" cy="179.1" rx="1.1" ry="4.2" fill="#0a1ec8" opacity="0.9" transform="rotate(30 997.6 179.1)"/><ellipse cx="1000.1" cy="178.8" rx="1.1" ry="4.2" fill="#d0141a" opacity="0.9" transform="rotate(30 1000.1 178.8)"/><ellipse cx="1002.5" cy="178.2" rx="1.1" ry="4.2" fill="#0a1ec8" opacity="0.9" transform="rotate(30 1002.5 178.2)"/><ellipse cx="1005.0" cy="177.4" rx="1.1" ry="4.2" fill="#d0141a" opacity="0.9" transform="rotate(30 1005.0 177.4)"/><ellipse cx="1007.4" cy="176.3" rx="1.1" ry="4.2" fill="#0a1ec8" opacity="0.9" transform="rotate(30 1007.4 176.3)"/></g><g filter="url(#b05)"><path d="M961.8,188.5 A2.5,2.5 0 0 1 963.3,191.2" fill="none" stroke="#0a1ec8" stroke-width="1.6" opacity="0.89" stroke-dasharray="4.5 1.4"/><path d="M962.9,186.1 A5.1,5.1 0 0 1 965.8,191.7" fill="none" stroke="#d0141a" stroke-width="1.6" opacity="0.84" stroke-dasharray="4.5 1.4"/><path d="M963.9,183.8 A7.6,7.6 0 0 1 968.3,192.1" fill="none" stroke="#0a1ec8" stroke-width="1.6" opacity="0.78" stroke-dasharray="4.5 1.4"/><path d="M965.0,181.5 A10.2,10.2 0 0 1 970.9,192.6" fill="none" stroke="#d0141a" stroke-width="1.6" opacity="0.72" stroke-dasharray="4.5 1.4"/><path d="M966.0,179.1 A12.8,12.8 0 0 1 973.4,193.0" fill="none" stroke="#0a1ec8" stroke-width="1.6" opacity="0.66" stroke-dasharray="4.5 1.4"/><path d="M967.0,176.8 A15.3,15.3 0 0 1 975.9,193.4" fill="none" stroke="#d0141a" stroke-width="1.6" opacity="0.61" stroke-dasharray="4.5 1.4"/><path d="M968.1,174.5 A17.8,17.8 0 0 1 978.4,193.9" fill="none" stroke="#0a1ec8" stroke-width="1.6" opacity="0.55" stroke-dasharray="4.5 1.4"/><path d="M969.1,172.1 A20.4,20.4 0 0 1 980.9,194.3" fill="none" stroke="#d0141a" stroke-width="1.6" opacity="0.49" stroke-dasharray="4.5 1.4"/><path d="M970.1,169.8 A22.9,22.9 0 0 1 983.4,194.8" fill="none" stroke="#0a1ec8" stroke-width="1.6" opacity="0.44" stroke-dasharray="4.5 1.4"/><path d="M971.2,167.5 A25.5,25.5 0 0 1 985.9,195.2" fill="none" stroke="#d0141a" stroke-width="1.6" opacity="0.38" stroke-dasharray="4.5 1.4"/><path d="M972.2,165.2 A28.0,28.0 0 0 1 988.4,195.7" fill="none" stroke="#0a1ec8" stroke-width="1.6" opacity="0.32" stroke-dasharray="4.5 1.4"/><path d="M973.3,162.8 A30.6,30.6 0 0 1 990.9,196.1" fill="none" stroke="#d0141a" stroke-width="1.6" opacity="0.26" stroke-dasharray="4.5 1.4"/><path d="M974.3,160.5 A33.1,33.1 0 0 1 993.5,196.5" fill="none" stroke="#0a1ec8" stroke-width="1.6" opacity="0.21" stroke-dasharray="4.5 1.4"/><path d="M975.3,158.2 A35.7,35.7 0 0 1 996.0,197.0" fill="none" stroke="#d0141a" stroke-width="1.6" opacity="0.15" stroke-dasharray="4.5 1.4"/></g><g filter="url(#b05)"><ellipse cx="935.7" cy="190.8" rx="0.9" ry="2.8" fill="#d0141a"/><ellipse cx="938.3" cy="190.8" rx="0.9" ry="2.8" fill="#0a1ec8"/><ellipse cx="940.8" cy="190.8" rx="0.9" ry="2.8" fill="#d0141a"/><ellipse cx="943.4" cy="190.8" rx="0.9" ry="2.8" fill="#0a1ec8"/><ellipse cx="945.9" cy="190.8" rx="0.9" ry="2.8" fill="#d0141a"/><ellipse cx="948.5" cy="190.8" rx="0.9" ry="2.8" fill="#0a1ec8"/><ellipse cx="951.0" cy="190.8" rx="0.9" ry="2.8" fill="#d0141a"/><ellipse cx="953.6" cy="190.8" rx="0.9" ry="2.8" fill="#0a1ec8"/><ellipse cx="956.1" cy="190.8" rx="0.9" ry="2.8" fill="#d0141a"/><ellipse cx="958.7" cy="190.8" rx="0.9" ry="2.8" fill="#0a1ec8"/><ellipse cx="1009.9" cy="174.3" rx="0.9" ry="2.8" fill="#d0141a"/><ellipse cx="1012.4" cy="174.3" rx="0.9" ry="2.8" fill="#0a1ec8"/><ellipse cx="1015.0" cy="174.3" rx="0.9" ry="2.8" fill="#d0141a"/><ellipse cx="1017.5" cy="174.3" rx="0.9" ry="2.8" fill="#0a1ec8"/><ellipse cx="1020.1" cy="174.3" rx="0.9" ry="2.8" fill="#d0141a"/><ellipse cx="1022.6" cy="174.3" rx="0.9" ry="2.8" fill="#0a1ec8"/><ellipse cx="1025.2" cy="174.3" rx="0.9" ry="2.8" fill="#d0141a"/><ellipse cx="1027.7" cy="174.3" rx="0.9" ry="2.8" fill="#0a1ec8"/><ellipse cx="1030.3" cy="174.3" rx="0.9" ry="2.8" fill="#d0141a"/><ellipse cx="1032.8" cy="174.3" rx="0.9" ry="2.8" fill="#0a1ec8"/><ellipse cx="1035.4" cy="174.3" rx="0.9" ry="2.8" fill="#d0141a"/><ellipse cx="1037.9" cy="174.3" rx="0.9" ry="2.8" fill="#0a1ec8"/><ellipse cx="1040.5" cy="174.3" rx="0.9" ry="2.8" fill="#d0141a"/></g></g>
<rect x="928.2" y="132.7" width="117.7" height="117.3" fill="none" stroke="#262626" stroke-width="3.6" rx="1"/>
<rect x="606.2" y="139" width="84.5" height="38.8" fill="#EBEBEB" opacity="0.9"/>
<text x="613.7" y="165.5" font-size="24" font-family='"Liberation Sans", sans-serif' fill="#000" textLength="69.0" lengthAdjust="spacingAndGlyphs" >Step 4</text>
<rect x="777.5" y="137.6" width="83.7" height="38.3" fill="#EBEBEB" opacity="0.9"/>
<text x="784.7" y="163.1" font-size="24" font-family='"Liberation Sans", sans-serif' fill="#000" textLength="68.8" lengthAdjust="spacingAndGlyphs" >Step 8</text>
<rect x="942.9" y="136" width="92.3" height="38.8" fill="#EBEBEB" opacity="0.9"/>
<text x="947" y="162.7" font-size="24" font-family='"Liberation Sans", sans-serif' fill="#000" textLength="82.6" lengthAdjust="spacingAndGlyphs" >Step 64</text>
<polygon points="717.5,183.6 732.0,183.6 732.0,172.1 750.5,190.6 732.0,209.1 732.0,197.6 717.5,197.6" fill="#F8DF86" stroke="#2a2a2a" stroke-width="2.2" stroke-linejoin="miter"/>
<polygon points="886.5,183.1 901.0,183.1 901.0,171.6 919.5,190.1 901.0,208.6 901.0,197.1 886.5,197.1" fill="#F8DF86" stroke="#2a2a2a" stroke-width="2.2" stroke-linejoin="miter"/>
<rect x="1074.9" y="130.5" width="121.0" height="120.9" rx="2" fill="#2a2c2f"/>
<g clip-path="url(#c594_281)"><rect x="594.1" y="281.1" width="111.3" height="110.99999999999999" fill="#FEFBFD"/><g filter="url(#b2)"><ellipse cx="624.5" cy="357.7" rx="6.0" ry="2.6" fill="#8a96ea" opacity="0.20" transform="rotate(14 624.5 357.7)"/><ellipse cx="617.2" cy="341.8" rx="8.7" ry="3.6" fill="#e88a86" opacity="0.15" transform="rotate(-36 617.2 341.8)"/><ellipse cx="610.3" cy="318.7" rx="5.3" ry="2.8" fill="#8a96ea" opacity="0.13" transform="rotate(40 610.3 318.7)"/><ellipse cx="620.1" cy="347.0" rx="10.9" ry="2.7" fill="#8a96ea" opacity="0.13" transform="rotate(47 620.1 347.0)"/><ellipse cx="622.1" cy="324.1" rx="9.8" ry="3.4" fill="#e88a86" opacity="0.15" transform="rotate(7 622.1 324.1)"/><ellipse cx="613.7" cy="336.0" rx="8.1" ry="3.7" fill="#e88a86" opacity="0.13" transform="rotate(-3 613.7 336.0)"/><ellipse cx="607.5" cy="321.5" rx="5.8" ry="4.7" fill="#8a96ea" opacity="0.21" transform="rotate(58 607.5 321.5)"/><ellipse cx="607.7" cy="341.3" rx="6.1" ry="2.9" fill="#8a96ea" opacity="0.14" transform="rotate(17 607.7 341.3)"/><ellipse cx="613.0" cy="336.0" rx="15.6" ry="10.6" fill="#f2b0b0" opacity="0.35"/></g><g filter="url(#b05)"><ellipse cx="626.0" cy="330.1" rx="1.5" ry="2.4" fill="#d0141a" opacity="0.17" transform="rotate(-30 626.0 330.1)"/><ellipse cx="628.5" cy="330.9" rx="1.8" ry="3.3" fill="#0a1ec8" opacity="0.29" transform="rotate(10 628.5 330.9)"/><ellipse cx="628.5" cy="334.5" rx="1.8" ry="2.8" fill="#0a1ec8" opacity="0.26" transform="rotate(21 628.5 334.5)"/><ellipse cx="629.6" cy="328.4" rx="1.7" ry="3.5" fill="#0a1ec8" opacity="0.17" transform="rotate(29 629.6 328.4)"/><ellipse cx="630.5" cy="330.3" rx="1.4" ry="3.0" fill="#0a1ec8" opacity="0.19" transform="rotate(8 630.5 330.3)"/></g><g filter="url(#b05)"><ellipse cx="599.7" cy="336.0" rx="1.4" ry="3.3" fill="#d0141a"/><ellipse cx="604.3" cy="336.0" rx="1.4" ry="3.3" fill="#0a1ec8"/><ellipse cx="608.9" cy="336.0" rx="1.4" ry="3.3" fill="#d0141a"/><ellipse cx="613.5" cy="336.0" rx="1.4" ry="3.3" fill="#0a1ec8"/><ellipse cx="618.1" cy="336.0" rx="1.4" ry="3.3" fill="#d0141a"/><ellipse cx="622.7" cy="336.0" rx="1.4" ry="3.3" fill="#0a1ec8"/></g></g>
<rect x="592.3" y="279.3" width="114.9" height="114.6" fill="none" stroke="#262626" stroke-width="3.6" rx="1"/>
<g clip-path="url(#c761_280)"><rect x="761.6" y="280.40000000000003" width="113.69999999999997" height="113.39999999999996" fill="#FEFBFD"/><g filter="url(#b2)"><ellipse cx="767.6" cy="352.3" rx="9.1" ry="2.9" fill="#e88a86" opacity="0.11" transform="rotate(-31 767.6 352.3)"/><ellipse cx="775.2" cy="306.2" rx="6.4" ry="3.2" fill="#e88a86" opacity="0.19" transform="rotate(-49 775.2 306.2)"/><ellipse cx="799.5" cy="371.7" rx="6.2" ry="3.9" fill="#8a96ea" opacity="0.16" transform="rotate(32 799.5 371.7)"/><ellipse cx="823.9" cy="372.5" rx="5.2" ry="2.8" fill="#8a96ea" opacity="0.15" transform="rotate(32 823.9 372.5)"/><ellipse cx="777.0" cy="356.4" rx="7.7" ry="4.4" fill="#8a96ea" opacity="0.12" transform="rotate(41 777.0 356.4)"/><ellipse cx="829.9" cy="369.1" rx="8.7" ry="4.2" fill="#8a96ea" opacity="0.13" transform="rotate(-37 829.9 369.1)"/><ellipse cx="807.9" cy="358.2" rx="7.0" ry="4.1" fill="#8a96ea" opacity="0.11" transform="rotate(55 807.9 358.2)"/><ellipse cx="778.0" cy="320.6" rx="6.9" ry="4.1" fill="#8a96ea" opacity="0.21" transform="rotate(-17 778.0 320.6)"/><ellipse cx="805.9" cy="326.6" rx="6.5" ry="4.9" fill="#8a96ea" opacity="0.13" transform="rotate(10 805.9 326.6)"/><ellipse cx="797.9" cy="327.8" rx="8.5" ry="3.3" fill="#8a96ea" opacity="0.21" transform="rotate(-28 797.9 327.8)"/><ellipse cx="836.0" cy="335.4" rx="10.0" ry="3.6" fill="#8a96ea" opacity="0.18" transform="rotate(-53 836.0 335.4)"/><ellipse cx="769.2" cy="299.7" rx="5.7" ry="3.9" fill="#e88a86" opacity="0.21" transform="rotate(-54 769.2 299.7)"/><ellipse cx="800.8" cy="303.3" rx="9.0" ry="2.6" fill="#8a96ea" opacity="0.14" transform="rotate(56 800.8 303.3)"/><ellipse cx="820.5" cy="300.8" rx="7.4" ry="3.1" fill="#e88a86" opacity="0.13" transform="rotate(52 820.5 300.8)"/><ellipse cx="825.5" cy="343.8" rx="9.5" ry="2.6" fill="#e88a86" opacity="0.11" transform="rotate(-43 825.5 343.8)"/><ellipse cx="806.7" cy="339.0" rx="9.9" ry="2.8" fill="#e88a86" opacity="0.14" transform="rotate(27 806.7 339.0)"/><ellipse cx="780.9" cy="336.5" rx="15.9" ry="10.6" fill="#f2b0b0" opacity="0.35"/></g><g filter="url(#b05)"><ellipse cx="833.6" cy="331.4" rx="1.8" ry="3.1" fill="#0a1ec8" opacity="0.31" transform="rotate(-32 833.6 331.4)"/><ellipse cx="816.6" cy="324.7" rx="1.6" ry="3.1" fill="#d0141a" opacity="0.41" transform="rotate(-31 816.6 324.7)"/><ellipse cx="803.0" cy="347.8" rx="1.6" ry="3.1" fill="#d0141a" opacity="0.15" transform="rotate(-45 803.0 347.8)"/><ellipse cx="836.1" cy="332.0" rx="1.8" ry="2.6" fill="#0a1ec8" opacity="0.23" transform="rotate(25 836.1 332.0)"/><ellipse cx="799.6" cy="343.6" rx="1.5" ry="3.0" fill="#0a1ec8" opacity="0.16" transform="rotate(-4 799.6 343.6)"/><ellipse cx="795.9" cy="339.1" rx="1.5" ry="3.5" fill="#0a1ec8" opacity="0.14" transform="rotate(-5 795.9 339.1)"/><ellipse cx="827.7" cy="344.5" rx="1.6" ry="2.5" fill="#0a1ec8" opacity="0.25" transform="rotate(38 827.7 344.5)"/><ellipse cx="804.3" cy="311.4" rx="1.5" ry="3.4" fill="#d0141a" opacity="0.17" transform="rotate(18 804.3 311.4)"/><ellipse cx="811.9" cy="320.8" rx="1.5" ry="2.5" fill="#0a1ec8" opacity="0.28" transform="rotate(-21 811.9 320.8)"/><ellipse cx="826.6" cy="337.6" rx="1.3" ry="3.2" fill="#d0141a" opacity="0.39" transform="rotate(-16 826.6 337.6)"/><ellipse cx="829.0" cy="352.2" rx="1.5" ry="2.9" fill="#0a1ec8" opacity="0.15" transform="rotate(3 829.0 352.2)"/><ellipse cx="798.0" cy="317.3" rx="1.7" ry="2.7" fill="#d0141a" opacity="0.13" transform="rotate(13 798.0 317.3)"/><ellipse cx="817.9" cy="326.1" rx="1.7" ry="2.9" fill="#0a1ec8" opacity="0.25" transform="rotate(-34 817.9 326.1)"/><ellipse cx="799.5" cy="325.2" rx="1.3" ry="2.8" fill="#d0141a" opacity="0.29" transform="rotate(-19 799.5 325.2)"/><ellipse cx="828.5" cy="353.0" rx="1.8" ry="2.9" fill="#0a1ec8" opacity="0.16" transform="rotate(24 828.5 353.0)"/><ellipse cx="801.2" cy="337.0" rx="1.8" ry="2.7" fill="#d0141a" opacity="0.34" transform="rotate(-4 801.2 337.0)"/><ellipse cx="819.4" cy="320.0" rx="1.7" ry="2.6" fill="#0a1ec8" opacity="0.22" transform="rotate(18 819.4 320.0)"/><ellipse cx="805.1" cy="352.3" rx="1.7" ry="3.3" fill="#0a1ec8" opacity="0.25" transform="rotate(-3 805.1 352.3)"/><ellipse cx="803.4" cy="354.0" rx="1.6" ry="3.0" fill="#0a1ec8" opacity="0.14" transform="rotate(44 803.4 354.0)"/><ellipse cx="832.9" cy="329.3" rx="1.6" ry="3.4" fill="#0a1ec8" opacity="0.30" transform="rotate(43 832.9 329.3)"/><ellipse cx="815.5" cy="347.1" rx="1.8" ry="2.5" fill="#0a1ec8" opacity="0.32" transform="rotate(42 815.5 347.1)"/><ellipse cx="808.2" cy="323.3" rx="1.8" ry="3.3" fill="#d0141a" opacity="0.25" transform="rotate(-9 808.2 323.3)"/><ellipse cx="797.7" cy="339.8" rx="1.5" ry="2.7" fill="#d0141a" opacity="0.25" transform="rotate(18 797.7 339.8)"/><ellipse cx="791.6" cy="328.1" rx="1.5" ry="2.8" fill="#0a1ec8" opacity="0.18" transform="rotate(31 791.6 328.1)"/><ellipse cx="809.7" cy="310.5" rx="1.6" ry="3.0" fill="#0a1ec8" opacity="0.19" transform="rotate(14 809.7 310.5)"/><ellipse cx="828.0" cy="315.4" rx="1.5" ry="2.5" fill="#0a1ec8" opacity="0.23" transform="rotate(-25 828.0 315.4)"/><ellipse cx="820.8" cy="325.7" rx="1.7" ry="2.8" fill="#0a1ec8" opacity="0.23" transform="rotate(21 820.8 325.7)"/><ellipse cx="823.2" cy="316.0" rx="1.4" ry="3.1" fill="#0a1ec8" opacity="0.20" transform="rotate(-3 823.2 316.0)"/><ellipse cx="804.8" cy="344.1" rx="1.5" ry="2.9" fill="#d0141a" opacity="0.28" transform="rotate(15 804.8 344.1)"/><ellipse cx="828.0" cy="323.7" rx="1.8" ry="2.5" fill="#d0141a" opacity="0.29" transform="rotate(-2 828.0 323.7)"/><ellipse cx="799.4" cy="349.9" rx="1.3" ry="2.6" fill="#d0141a" opacity="0.18" transform="rotate(37 799.4 349.9)"/><ellipse cx="817.3" cy="329.3" rx="1.4" ry="3.1" fill="#d0141a" opacity="0.49" transform="rotate(-3 817.3 329.3)"/><ellipse cx="804.9" cy="327.7" rx="1.3" ry="3.3" fill="#d0141a" opacity="0.26" transform="rotate(38 804.9 327.7)"/><ellipse cx="806.1" cy="316.3" rx="1.6" ry="2.9" fill="#0a1ec8" opacity="0.26" transform="rotate(-7 806.1 316.3)"/><ellipse cx="798.0" cy="327.8" rx="1.8" ry="2.7" fill="#0a1ec8" opacity="0.28" transform="rotate(29 798.0 327.8)"/><ellipse cx="833.0" cy="329.1" rx="1.7" ry="3.1" fill="#0a1ec8" opacity="0.28" transform="rotate(-31 833.0 329.1)"/><ellipse cx="815.8" cy="326.4" rx="1.4" ry="2.7" fill="#0a1ec8" opacity="0.44" transform="rotate(-20 815.8 326.4)"/><ellipse cx="833.1" cy="350.9" rx="1.3" ry="3.6" fill="#d0141a" opacity="0.20" transform="rotate(8 833.1 350.9)"/><ellipse cx="798.6" cy="331.5" rx="1.8" ry="3.3" fill="#0a1ec8" opacity="0.17" transform="rotate(-37 798.6 331.5)"/><ellipse cx="816.0" cy="355.5" rx="1.7" ry="3.3" fill="#0a1ec8" opacity="0.15" transform="rotate(31 816.0 355.5)"/><ellipse cx="816.4" cy="317.2" rx="1.8" ry="2.9" fill="#0a1ec8" opacity="0.20" transform="rotate(-36 816.4 317.2)"/><ellipse cx="798.0" cy="324.8" rx="1.8" ry="3.4" fill="#d0141a" opacity="0.28" transform="rotate(42 798.0 324.8)"/><ellipse cx="803.7" cy="323.8" rx="1.5" ry="2.8" fill="#0a1ec8" opacity="0.18" transform="rotate(22 803.7 323.8)"/><ellipse cx="807.3" cy="312.8" rx="1.6" ry="3.1" fill="#0a1ec8" opacity="0.18" transform="rotate(-6 807.3 312.8)"/><ellipse cx="819.8" cy="336.5" rx="1.6" ry="3.5" fill="#0a1ec8" opacity="0.46" transform="rotate(37 819.8 336.5)"/><ellipse cx="796.6" cy="328.0" rx="1.4" ry="3.6" fill="#0a1ec8" opacity="0.22" transform="rotate(7 796.6 328.0)"/><ellipse cx="821.7" cy="308.9" rx="1.3" ry="3.2" fill="#0a1ec8" opacity="0.17" transform="rotate(-36 821.7 308.9)"/><ellipse cx="814.4" cy="346.1" rx="1.3" ry="2.7" fill="#0a1ec8" opacity="0.34" transform="rotate(-1 814.4 346.1)"/><ellipse cx="828.6" cy="344.2" rx="1.6" ry="3.6" fill="#d0141a" opacity="0.23" transform="rotate(-26 828.6 344.2)"/><ellipse cx="819.6" cy="308.8" rx="1.4" ry="3.6" fill="#0a1ec8" opacity="0.12" transform="rotate(39 819.6 308.8)"/><ellipse cx="805.5" cy="344.8" rx="1.3" ry="2.6" fill="#0a1ec8" opacity="0.28" transform="rotate(-31 805.5 344.8)"/><ellipse cx="827.3" cy="327.4" rx="1.7" ry="2.5" fill="#0a1ec8" opacity="0.22" transform="rotate(37 827.3 327.4)"/><ellipse cx="831.7" cy="337.8" rx="1.7" ry="2.6" fill="#d0141a" opacity="0.31" transform="rotate(42 831.7 337.8)"/><ellipse cx="821.8" cy="331.2" rx="1.3" ry="3.3" fill="#d0141a" opacity="0.42" transform="rotate(-9 821.8 331.2)"/><ellipse cx="807.9" cy="331.0" rx="1.5" ry="2.7" fill="#d0141a" opacity="0.36" transform="rotate(-42 807.9 331.0)"/><ellipse cx="822.1" cy="314.0" rx="1.3" ry="2.4" fill="#0a1ec8" opacity="0.21" transform="rotate(-10 822.1 314.0)"/><ellipse cx="826.6" cy="328.3" rx="1.6" ry="3.5" fill="#d0141a" opacity="0.25" transform="rotate(-31 826.6 328.3)"/><ellipse cx="826.5" cy="331.7" rx="1.4" ry="3.0" fill="#d0141a" opacity="0.38" transform="rotate(45 826.5 331.7)"/><ellipse cx="836.7" cy="342.6" rx="1.5" ry="2.7" fill="#0a1ec8" opacity="0.20" transform="rotate(21 836.7 342.6)"/><ellipse cx="792.0" cy="335.2" rx="1.6" ry="2.7" fill="#d0141a" opacity="0.19" transform="rotate(-44 792.0 335.2)"/><ellipse cx="801.8" cy="347.4" rx="1.7" ry="3.4" fill="#d0141a" opacity="0.22" transform="rotate(18 801.8 347.4)"/><ellipse cx="835.2" cy="346.2" rx="1.4" ry="3.2" fill="#0a1ec8" opacity="0.24" transform="rotate(-32 835.2 346.2)"/><ellipse cx="815.5" cy="315.3" rx="1.3" ry="2.8" fill="#0a1ec8" opacity="0.29" transform="rotate(-23 815.5 315.3)"/><ellipse cx="799.4" cy="338.5" rx="1.5" ry="2.6" fill="#0a1ec8" opacity="0.31" transform="rotate(35 799.4 338.5)"/><ellipse cx="808.6" cy="338.6" rx="1.7" ry="3.0" fill="#d0141a" opacity="0.29" transform="rotate(8 808.6 338.6)"/><ellipse cx="820.4" cy="317.5" rx="1.4" ry="3.2" fill="#0a1ec8" opacity="0.18" transform="rotate(34 820.4 317.5)"/><ellipse cx="791.9" cy="336.6" rx="1.3" ry="2.8" fill="#d0141a" opacity="0.21" transform="rotate(44 791.9 336.6)"/><ellipse cx="817.9" cy="326.7" rx="1.4" ry="3.3" fill="#d0141a" opacity="0.32" transform="rotate(22 817.9 326.7)"/><ellipse cx="820.6" cy="331.9" rx="1.5" ry="3.6" fill="#0a1ec8" opacity="0.27" transform="rotate(14 820.6 331.9)"/><ellipse cx="800.8" cy="339.8" rx="1.3" ry="2.8" fill="#0a1ec8" opacity="0.23" transform="rotate(42 800.8 339.8)"/><ellipse cx="813.7" cy="333.7" rx="1.4" ry="2.3" fill="#0a1ec8" opacity="0.49" transform="rotate(36 813.7 333.7)"/><ellipse cx="832.1" cy="348.4" rx="1.7" ry="3.3" fill="#0a1ec8" opacity="0.13" transform="rotate(-19 832.1 348.4)"/><ellipse cx="836.1" cy="327.1" rx="1.3" ry="3.4" fill="#d0141a" opacity="0.27" transform="rotate(22 836.1 327.1)"/><ellipse cx="827.9" cy="351.7" rx="1.6" ry="2.8" fill="#d0141a" opacity="0.24" transform="rotate(20 827.9 351.7)"/><ellipse cx="803.0" cy="318.4" rx="1.5" ry="2.4" fill="#d0141a" opacity="0.22" transform="rotate(-18 803.0 318.4)"/><ellipse cx="811.4" cy="346.3" rx="1.4" ry="3.4" fill="#d0141a" opacity="0.31" transform="rotate(43 811.4 346.3)"/><ellipse cx="833.3" cy="336.8" rx="1.5" ry="3.3" fill="#d0141a" opacity="0.27" transform="rotate(29 833.3 336.8)"/><ellipse cx="813.4" cy="314.6" rx="1.6" ry="3.1" fill="#d0141a" opacity="0.22" transform="rotate(33 813.4 314.6)"/><ellipse cx="796.5" cy="346.1" rx="1.7" ry="2.7" fill="#0a1ec8" opacity="0.18" transform="rotate(35 796.5 346.1)"/><ellipse cx="802.9" cy="328.8" rx="1.8" ry="2.4" fill="#0a1ec8" opacity="0.28" transform="rotate(-6 802.9 328.8)"/></g><g filter="url(#b05)"><path d="M794.9,332.7 A4.6,4.6 0 0 1 795.8,339.5" fill="none" stroke="#0a1ec8" stroke-width="2.5" opacity="0.86" stroke-dasharray="5.3 1.6"/><path d="M797.4,328.9 A9.2,9.2 0 0 1 799.3,342.4" fill="none" stroke="#d0141a" stroke-width="2.5" opacity="0.77" stroke-dasharray="5.3 1.6"/><path d="M800.0,325.1 A13.8,13.8 0 0 1 802.9,345.4" fill="none" stroke="#0a1ec8" stroke-width="2.5" opacity="0.68" stroke-dasharray="5.3 1.6"/><path d="M802.6,321.3 A18.4,18.4 0 0 1 806.4,348.4" fill="none" stroke="#d0141a" stroke-width="2.5" opacity="0.59" stroke-dasharray="5.3 1.6"/><path d="M805.2,317.5 A23.0,23.0 0 0 1 809.9,351.3" fill="none" stroke="#0a1ec8" stroke-width="2.5" opacity="0.51" stroke-dasharray="5.3 1.6"/><path d="M807.7,313.7 A27.6,27.6 0 0 1 813.4,354.3" fill="none" stroke="#d0141a" stroke-width="2.5" opacity="0.42" stroke-dasharray="5.3 1.6"/><path d="M810.3,309.8 A32.2,32.2 0 0 1 817.0,357.2" fill="none" stroke="#0a1ec8" stroke-width="2.5" opacity="0.33" stroke-dasharray="5.3 1.6"/><path d="M812.9,306.0 A36.8,36.8 0 0 1 820.5,360.2" fill="none" stroke="#d0141a" stroke-width="2.5" opacity="0.24" stroke-dasharray="5.3 1.6"/><path d="M815.4,302.2 A41.4,41.4 0 0 1 824.0,363.1" fill="none" stroke="#0a1ec8" stroke-width="2.5" opacity="0.15" stroke-dasharray="5.3 1.6"/></g><g filter="url(#b05)"><ellipse cx="767.3" cy="336.5" rx="1.4" ry="3.3" fill="#d0141a"/><ellipse cx="771.9" cy="336.5" rx="1.4" ry="3.3" fill="#0a1ec8"/><ellipse cx="776.5" cy="336.5" rx="1.4" ry="3.3" fill="#d0141a"/><ellipse cx="781.1" cy="336.5" rx="1.4" ry="3.3" fill="#0a1ec8"/><ellipse cx="785.7" cy="336.5" rx="1.4" ry="3.3" fill="#d0141a"/><ellipse cx="790.3" cy="336.5" rx="1.4" ry="3.3" fill="#0a1ec8"/></g></g>
<rect x="759.8" y="278.6" width="117.3" height="117.0" fill="none" stroke="#262626" stroke-width="3.6" rx="1"/>
<g clip-path="url(#c930_280)"><rect x="930.0" y="280.1" width="113.19999999999997" height="113.10000000000001" fill="#FEFBFD"/><g filter="url(#b2)"><ellipse cx="958.3" cy="345.5" rx="8.1" ry="2.5" fill="#e88a86" opacity="0.11" transform="rotate(-50 958.3 345.5)"/><ellipse cx="984.3" cy="342.9" rx="7.4" ry="2.6" fill="#8a96ea" opacity="0.13" transform="rotate(17 984.3 342.9)"/><ellipse cx="1001.3" cy="281.9" rx="5.0" ry="4.8" fill="#e88a86" opacity="0.15" transform="rotate(-13 1001.3 281.9)"/><ellipse cx="931.4" cy="378.6" rx="10.6" ry="4.7" fill="#e88a86" opacity="0.19" transform="rotate(49 931.4 378.6)"/><ellipse cx="963.5" cy="363.0" rx="5.3" ry="2.8" fill="#e88a86" opacity="0.19" transform="rotate(24 963.5 363.0)"/><ellipse cx="933.8" cy="280.9" rx="10.5" ry="4.2" fill="#e88a86" opacity="0.20" transform="rotate(-38 933.8 280.9)"/><ellipse cx="944.2" cy="356.2" rx="6.2" ry="4.7" fill="#e88a86" opacity="0.18" transform="rotate(35 944.2 356.2)"/><ellipse cx="979.9" cy="317.5" rx="7.2" ry="2.5" fill="#e88a86" opacity="0.19" transform="rotate(-55 979.9 317.5)"/><ellipse cx="1013.4" cy="371.0" rx="6.6" ry="4.1" fill="#8a96ea" opacity="0.19" transform="rotate(25 1013.4 371.0)"/><ellipse cx="1040.3" cy="333.0" rx="10.4" ry="3.7" fill="#e88a86" opacity="0.13" transform="rotate(43 1040.3 333.0)"/><ellipse cx="953.3" cy="307.2" rx="5.2" ry="2.7" fill="#8a96ea" opacity="0.14" transform="rotate(-53 953.3 307.2)"/><ellipse cx="969.3" cy="350.8" rx="6.4" ry="4.2" fill="#e88a86" opacity="0.12" transform="rotate(-40 969.3 350.8)"/><ellipse cx="1010.8" cy="313.1" rx="7.2" ry="4.7" fill="#8a96ea" opacity="0.17" transform="rotate(-24 1010.8 313.1)"/><ellipse cx="1008.1" cy="375.9" rx="9.3" ry="3.5" fill="#e88a86" opacity="0.14" transform="rotate(-0 1008.1 375.9)"/><ellipse cx="939.0" cy="380.1" rx="8.8" ry="3.4" fill="#e88a86" opacity="0.14" transform="rotate(-25 939.0 380.1)"/><ellipse cx="996.1" cy="354.3" rx="8.4" ry="4.5" fill="#8a96ea" opacity="0.20" transform="rotate(-50 996.1 354.3)"/><ellipse cx="967.2" cy="304.0" rx="8.5" ry="4.0" fill="#8a96ea" opacity="0.16" transform="rotate(51 967.2 304.0)"/><ellipse cx="931.8" cy="286.6" rx="7.5" ry="4.8" fill="#e88a86" opacity="0.17" transform="rotate(-13 931.8 286.6)"/><ellipse cx="1014.5" cy="352.9" rx="8.8" ry="3.5" fill="#e88a86" opacity="0.18" transform="rotate(-41 1014.5 352.9)"/><ellipse cx="1003.3" cy="287.4" rx="10.5" ry="4.9" fill="#e88a86" opacity="0.13" transform="rotate(42 1003.3 287.4)"/><ellipse cx="994.4" cy="358.1" rx="8.8" ry="2.8" fill="#8a96ea" opacity="0.12" transform="rotate(-19 994.4 358.1)"/><ellipse cx="1022.7" cy="328.8" rx="6.6" ry="3.2" fill="#e88a86" opacity="0.21" transform="rotate(29 1022.7 328.8)"/><ellipse cx="982.0" cy="340.0" rx="9.6" ry="3.8" fill="#e88a86" opacity="0.16" transform="rotate(-5 982.0 340.0)"/><ellipse cx="938.6" cy="306.6" rx="9.9" ry="3.5" fill="#8a96ea" opacity="0.16" transform="rotate(52 938.6 306.6)"/><ellipse cx="1008.9" cy="310.0" rx="10.0" ry="3.8" fill="#8a96ea" opacity="0.15" transform="rotate(39 1008.9 310.0)"/><ellipse cx="1039.2" cy="306.5" rx="10.0" ry="4.2" fill="#e88a86" opacity="0.17" transform="rotate(2 1039.2 306.5)"/><ellipse cx="1026.8" cy="390.9" rx="7.2" ry="3.5" fill="#e88a86" opacity="0.14" transform="rotate(-26 1026.8 390.9)"/><ellipse cx="1004.1" cy="369.8" rx="9.8" ry="2.7" fill="#8a96ea" opacity="0.14" transform="rotate(-36 1004.1 369.8)"/><ellipse cx="941.4" cy="297.2" rx="9.0" ry="3.7" fill="#8a96ea" opacity="0.11" transform="rotate(-18 941.4 297.2)"/><ellipse cx="954.1" cy="342.8" rx="5.7" ry="3.4" fill="#e88a86" opacity="0.15" transform="rotate(58 954.1 342.8)"/><ellipse cx="931.0" cy="357.2" rx="6.9" ry="4.3" fill="#e88a86" opacity="0.22" transform="rotate(-32 931.0 357.2)"/><ellipse cx="971.0" cy="374.8" rx="6.2" ry="5.0" fill="#8a96ea" opacity="0.14" transform="rotate(-2 971.0 374.8)"/><ellipse cx="1001.5" cy="333.1" rx="6.8" ry="4.4" fill="#8a96ea" opacity="0.22" transform="rotate(-19 1001.5 333.1)"/><ellipse cx="971.8" cy="305.6" rx="6.5" ry="3.2" fill="#e88a86" opacity="0.15" transform="rotate(31 971.8 305.6)"/><ellipse cx="985.9" cy="313.3" rx="8.7" ry="4.7" fill="#e88a86" opacity="0.20" transform="rotate(25 985.9 313.3)"/><ellipse cx="936.1" cy="335.8" rx="8.1" ry="3.1" fill="#8a96ea" opacity="0.17" transform="rotate(9 936.1 335.8)"/><ellipse cx="956.6" cy="345.3" rx="9.5" ry="3.5" fill="#e88a86" opacity="0.19" transform="rotate(32 956.6 345.3)"/><ellipse cx="967.7" cy="299.9" rx="7.0" ry="3.7" fill="#8a96ea" opacity="0.18" transform="rotate(46 967.7 299.9)"/><ellipse cx="988.3" cy="348.4" rx="5.3" ry="2.7" fill="#8a96ea" opacity="0.13" transform="rotate(-11 988.3 348.4)"/><ellipse cx="967.9" cy="305.2" rx="5.1" ry="4.3" fill="#e88a86" opacity="0.17" transform="rotate(-50 967.9 305.2)"/><ellipse cx="946.9" cy="341.0" rx="5.4" ry="2.6" fill="#8a96ea" opacity="0.19" transform="rotate(-38 946.9 341.0)"/><ellipse cx="980.4" cy="356.2" rx="10.7" ry="3.1" fill="#8a96ea" opacity="0.18" transform="rotate(-23 980.4 356.2)"/><ellipse cx="944.6" cy="316.7" rx="10.7" ry="4.1" fill="#8a96ea" opacity="0.18" transform="rotate(-21 944.6 316.7)"/><ellipse cx="959.6" cy="319.3" rx="7.6" ry="4.7" fill="#e88a86" opacity="0.14" transform="rotate(44 959.6 319.3)"/><ellipse cx="952.8" cy="351.1" rx="9.0" ry="3.8" fill="#e88a86" opacity="0.15" transform="rotate(56 952.8 351.1)"/><ellipse cx="949.2" cy="336.1" rx="15.8" ry="10.6" fill="#f2b0b0" opacity="0.35"/></g><g filter="url(#b05)"><ellipse cx="1006.1" cy="328.0" rx="1.6" ry="1.5" fill="#d0141a" opacity="0.36" transform="rotate(-42 1006.1 328.0)"/><ellipse cx="1004.7" cy="329.8" rx="1.6" ry="1.6" fill="#0a1ec8" opacity="0.38" transform="rotate(44 1004.7 329.8)"/><ellipse cx="970.2" cy="331.2" rx="1.3" ry="1.9" fill="#d0141a" opacity="0.24" transform="rotate(-25 970.2 331.2)"/><ellipse cx="988.9" cy="344.7" rx="1.7" ry="2.1" fill="#d0141a" opacity="0.51" transform="rotate(-34 988.9 344.7)"/><ellipse cx="978.6" cy="354.1" rx="1.4" ry="1.7" fill="#d0141a" opacity="0.25" transform="rotate(-43 978.6 354.1)"/><ellipse cx="1008.0" cy="334.0" rx="1.5" ry="1.5" fill="#d0141a" opacity="0.20" transform="rotate(21 1008.0 334.0)"/><ellipse cx="973.5" cy="324.1" rx="1.6" ry="1.6" fill="#0a1ec8" opacity="0.45" transform="rotate(17 973.5 324.1)"/><ellipse cx="983.9" cy="349.6" rx="1.6" ry="1.9" fill="#0a1ec8" opacity="0.25" transform="rotate(22 983.9 349.6)"/><ellipse cx="991.8" cy="323.2" rx="1.6" ry="2.0" fill="#d0141a" opacity="0.36" transform="rotate(38 991.8 323.2)"/><ellipse cx="962.9" cy="342.5" rx="1.3" ry="1.7" fill="#0a1ec8" opacity="0.23" transform="rotate(-27 962.9 342.5)"/><ellipse cx="1005.9" cy="318.5" rx="1.4" ry="2.1" fill="#0a1ec8" opacity="0.29" transform="rotate(34 1005.9 318.5)"/><ellipse cx="984.4" cy="347.3" rx="1.8" ry="1.8" fill="#0a1ec8" opacity="0.41" transform="rotate(-24 984.4 347.3)"/><ellipse cx="971.6" cy="355.1" rx="1.5" ry="1.5" fill="#d0141a" opacity="0.19" transform="rotate(-33 971.6 355.1)"/><ellipse cx="998.5" cy="348.3" rx="1.4" ry="2.2" fill="#d0141a" opacity="0.31" transform="rotate(-20 998.5 348.3)"/><ellipse cx="984.5" cy="317.6" rx="1.5" ry="2.2" fill="#0a1ec8" opacity="0.27" transform="rotate(14 984.5 317.6)"/><ellipse cx="1009.7" cy="341.1" rx="1.3" ry="2.0" fill="#0a1ec8" opacity="0.25" transform="rotate(-18 1009.7 341.1)"/><ellipse cx="964.8" cy="332.5" rx="1.5" ry="1.9" fill="#0a1ec8" opacity="0.27" transform="rotate(34 964.8 332.5)"/><ellipse cx="967.6" cy="341.3" rx="1.6" ry="1.9" fill="#d0141a" opacity="0.21" transform="rotate(-27 967.6 341.3)"/><ellipse cx="990.8" cy="312.8" rx="1.5" ry="1.8" fill="#d0141a" opacity="0.34" transform="rotate(28 990.8 312.8)"/><ellipse cx="994.0" cy="333.1" rx="1.5" ry="1.7" fill="#0a1ec8" opacity="0.47" transform="rotate(-38 994.0 333.1)"/><ellipse cx="968.3" cy="314.9" rx="1.5" ry="1.6" fill="#0a1ec8" opacity="0.16" transform="rotate(-29 968.3 314.9)"/><ellipse cx="1003.5" cy="335.1" rx="1.5" ry="2.0" fill="#0a1ec8" opacity="0.35" transform="rotate(-39 1003.5 335.1)"/><ellipse cx="978.6" cy="330.4" rx="1.7" ry="1.5" fill="#d0141a" opacity="0.35" transform="rotate(-28 978.6 330.4)"/><ellipse cx="969.4" cy="332.9" rx="1.4" ry="1.9" fill="#0a1ec8" opacity="0.23" transform="rotate(1 969.4 332.9)"/><ellipse cx="990.5" cy="315.4" rx="1.6" ry="2.1" fill="#d0141a" opacity="0.32" transform="rotate(-17 990.5 315.4)"/><ellipse cx="984.8" cy="331.7" rx="1.6" ry="1.8" fill="#d0141a" opacity="0.64" transform="rotate(-35 984.8 331.7)"/><ellipse cx="980.3" cy="323.2" rx="1.5" ry="1.4" fill="#0a1ec8" opacity="0.29" transform="rotate(-10 980.3 323.2)"/><ellipse cx="962.8" cy="342.6" rx="1.8" ry="1.6" fill="#0a1ec8" opacity="0.17" transform="rotate(-4 962.8 342.6)"/><ellipse cx="1008.5" cy="343.0" rx="1.6" ry="1.8" fill="#d0141a" opacity="0.26" transform="rotate(6 1008.5 343.0)"/><ellipse cx="987.3" cy="329.5" rx="1.4" ry="1.7" fill="#0a1ec8" opacity="0.60" transform="rotate(-13 987.3 329.5)"/><ellipse cx="979.4" cy="338.1" rx="1.4" ry="2.0" fill="#d0141a" opacity="0.40" transform="rotate(10 979.4 338.1)"/><ellipse cx="1008.0" cy="319.5" rx="1.7" ry="1.8" fill="#0a1ec8" opacity="0.20" transform="rotate(-24 1008.0 319.5)"/><ellipse cx="962.8" cy="319.8" rx="1.4" ry="1.4" fill="#d0141a" opacity="0.28" transform="rotate(38 962.8 319.8)"/><ellipse cx="993.8" cy="343.1" rx="1.7" ry="1.6" fill="#d0141a" opacity="0.49" transform="rotate(-11 993.8 343.1)"/><ellipse cx="986.4" cy="327.4" rx="1.3" ry="2.0" fill="#0a1ec8" opacity="0.36" transform="rotate(-44 986.4 327.4)"/><ellipse cx="1002.2" cy="350.0" rx="1.3" ry="1.8" fill="#0a1ec8" opacity="0.23" transform="rotate(29 1002.2 350.0)"/><ellipse cx="964.9" cy="345.7" rx="1.8" ry="1.4" fill="#0a1ec8" opacity="0.23" transform="rotate(-44 964.9 345.7)"/><ellipse cx="1002.7" cy="333.6" rx="1.3" ry="1.4" fill="#0a1ec8" opacity="0.23" transform="rotate(6 1002.7 333.6)"/><ellipse cx="977.0" cy="332.2" rx="1.7" ry="1.6" fill="#0a1ec8" opacity="0.44" transform="rotate(1 977.0 332.2)"/><ellipse cx="966.2" cy="327.8" rx="1.8" ry="1.5" fill="#d0141a" opacity="0.27" transform="rotate(-2 966.2 327.8)"/><ellipse cx="982.2" cy="324.4" rx="1.3" ry="2.0" fill="#d0141a" opacity="0.44" transform="rotate(-5 982.2 324.4)"/><ellipse cx="974.8" cy="348.3" rx="1.5" ry="1.8" fill="#0a1ec8" opacity="0.39" transform="rotate(37 974.8 348.3)"/><ellipse cx="995.6" cy="338.3" rx="1.5" ry="1.8" fill="#d0141a" opacity="0.47" transform="rotate(40 995.6 338.3)"/><ellipse cx="979.6" cy="351.0" rx="1.8" ry="2.1" fill="#0a1ec8" opacity="0.23" transform="rotate(23 979.6 351.0)"/><ellipse cx="1009.7" cy="322.8" rx="1.3" ry="1.7" fill="#0a1ec8" opacity="0.19" transform="rotate(35 1009.7 322.8)"/><ellipse cx="991.3" cy="324.3" rx="1.4" ry="1.7" fill="#0a1ec8" opacity="0.43" transform="rotate(-14 991.3 324.3)"/><ellipse cx="982.0" cy="332.3" rx="1.7" ry="2.0" fill="#0a1ec8" opacity="0.59" transform="rotate(28 982.0 332.3)"/><ellipse cx="989.4" cy="337.9" rx="1.6" ry="1.4" fill="#0a1ec8" opacity="0.55" transform="rotate(25 989.4 337.9)"/><ellipse cx="1003.2" cy="349.8" rx="1.5" ry="1.9" fill="#0a1ec8" opacity="0.31" transform="rotate(45 1003.2 349.8)"/><ellipse cx="1008.2" cy="319.7" rx="1.6" ry="2.1" fill="#d0141a" opacity="0.25" transform="rotate(8 1008.2 319.7)"/><ellipse cx="979.2" cy="322.4" rx="1.6" ry="1.7" fill="#0a1ec8" opacity="0.30" transform="rotate(19 979.2 322.4)"/><ellipse cx="971.1" cy="334.8" rx="1.7" ry="1.4" fill="#d0141a" opacity="0.36" transform="rotate(-30 971.1 334.8)"/><ellipse cx="986.9" cy="334.7" rx="1.6" ry="1.7" fill="#d0141a" opacity="0.61" transform="rotate(15 986.9 334.7)"/><ellipse cx="963.1" cy="321.1" rx="1.6" ry="1.5" fill="#0a1ec8" opacity="0.24" transform="rotate(-12 963.1 321.1)"/><ellipse cx="984.4" cy="321.4" rx="1.6" ry="1.5" fill="#d0141a" opacity="0.26" transform="rotate(-29 984.4 321.4)"/><ellipse cx="1006.7" cy="344.2" rx="1.7" ry="1.5" fill="#d0141a" opacity="0.21" transform="rotate(-40 1006.7 344.2)"/><ellipse cx="995.3" cy="333.7" rx="1.4" ry="1.7" fill="#d0141a" opacity="0.56" transform="rotate(19 995.3 333.7)"/><ellipse cx="979.1" cy="316.3" rx="1.8" ry="2.1" fill="#0a1ec8" opacity="0.38" transform="rotate(-28 979.1 316.3)"/><ellipse cx="977.3" cy="328.2" rx="1.5" ry="1.6" fill="#d0141a" opacity="0.36" transform="rotate(-6 977.3 328.2)"/><ellipse cx="984.5" cy="351.4" rx="1.5" ry="1.5" fill="#d0141a" opacity="0.31" transform="rotate(34 984.5 351.4)"/><ellipse cx="1009.9" cy="347.2" rx="1.8" ry="2.0" fill="#d0141a" opacity="0.26" transform="rotate(-16 1009.9 347.2)"/><ellipse cx="976.4" cy="319.4" rx="1.6" ry="1.8" fill="#d0141a" opacity="0.34" transform="rotate(42 976.4 319.4)"/><ellipse cx="992.0" cy="329.9" rx="1.8" ry="2.1" fill="#d0141a" opacity="0.58" transform="rotate(13 992.0 329.9)"/><ellipse cx="980.0" cy="349.2" rx="1.4" ry="2.0" fill="#0a1ec8" opacity="0.31" transform="rotate(-32 980.0 349.2)"/><ellipse cx="1004.0" cy="326.5" rx="1.7" ry="1.5" fill="#0a1ec8" opacity="0.28" transform="rotate(37 1004.0 326.5)"/><ellipse cx="981.1" cy="349.0" rx="1.4" ry="1.9" fill="#0a1ec8" opacity="0.27" transform="rotate(-1 981.1 349.0)"/><ellipse cx="982.3" cy="315.3" rx="1.3" ry="1.4" fill="#0a1ec8" opacity="0.24" transform="rotate(-32 982.3 315.3)"/><ellipse cx="973.7" cy="350.5" rx="1.5" ry="1.6" fill="#0a1ec8" opacity="0.37" transform="rotate(32 973.7 350.5)"/><ellipse cx="987.6" cy="357.4" rx="1.5" ry="1.4" fill="#d0141a" opacity="0.24" transform="rotate(-26 987.6 357.4)"/><ellipse cx="972.1" cy="325.6" rx="1.6" ry="1.8" fill="#d0141a" opacity="0.25" transform="rotate(37 972.1 325.6)"/><ellipse cx="975.7" cy="336.7" rx="1.4" ry="1.6" fill="#d0141a" opacity="0.48" transform="rotate(26 975.7 336.7)"/><ellipse cx="993.2" cy="336.1" rx="1.5" ry="1.8" fill="#0a1ec8" opacity="0.47" transform="rotate(34 993.2 336.1)"/><ellipse cx="993.9" cy="326.0" rx="1.4" ry="2.1" fill="#0a1ec8" opacity="0.30" transform="rotate(-28 993.9 326.0)"/><ellipse cx="965.5" cy="326.1" rx="1.5" ry="2.0" fill="#0a1ec8" opacity="0.36" transform="rotate(-9 965.5 326.1)"/><ellipse cx="1002.3" cy="328.8" rx="1.6" ry="1.7" fill="#0a1ec8" opacity="0.42" transform="rotate(-23 1002.3 328.8)"/><ellipse cx="1004.3" cy="339.6" rx="1.8" ry="1.5" fill="#d0141a" opacity="0.34" transform="rotate(40 1004.3 339.6)"/><ellipse cx="991.4" cy="332.4" rx="1.7" ry="1.9" fill="#d0141a" opacity="0.49" transform="rotate(-38 991.4 332.4)"/><ellipse cx="980.7" cy="337.5" rx="1.4" ry="2.0" fill="#0a1ec8" opacity="0.45" transform="rotate(-39 980.7 337.5)"/><ellipse cx="965.4" cy="330.7" rx="1.5" ry="1.9" fill="#d0141a" opacity="0.25" transform="rotate(39 965.4 330.7)"/><ellipse cx="983.4" cy="340.7" rx="1.3" ry="1.9" fill="#0a1ec8" opacity="0.47" transform="rotate(4 983.4 340.7)"/><ellipse cx="979.2" cy="352.7" rx="1.5" ry="1.9" fill="#d0141a" opacity="0.24" transform="rotate(-13 979.2 352.7)"/><ellipse cx="962.1" cy="323.0" rx="1.4" ry="1.9" fill="#d0141a" opacity="0.26" transform="rotate(-39 962.1 323.0)"/><ellipse cx="995.6" cy="328.9" rx="1.4" ry="1.4" fill="#d0141a" opacity="0.28" transform="rotate(26 995.6 328.9)"/><ellipse cx="988.6" cy="351.4" rx="1.7" ry="2.0" fill="#d0141a" opacity="0.27" transform="rotate(-21 988.6 351.4)"/><ellipse cx="1001.4" cy="318.5" rx="1.7" ry="1.6" fill="#d0141a" opacity="0.27" transform="rotate(-5 1001.4 318.5)"/><ellipse cx="1006.4" cy="323.5" rx="1.7" ry="1.6" fill="#0a1ec8" opacity="0.24" transform="rotate(10 1006.4 323.5)"/><ellipse cx="1002.2" cy="337.2" rx="1.8" ry="2.1" fill="#d0141a" opacity="0.30" transform="rotate(22 1002.2 337.2)"/><ellipse cx="1003.6" cy="341.6" rx="1.7" ry="1.9" fill="#d0141a" opacity="0.33" transform="rotate(1 1003.6 341.6)"/><ellipse cx="961.2" cy="340.7" rx="1.8" ry="1.9" fill="#d0141a" opacity="0.22" transform="rotate(27 961.2 340.7)"/><ellipse cx="987.0" cy="356.6" rx="1.5" ry="1.7" fill="#0a1ec8" opacity="0.31" transform="rotate(-13 987.0 356.6)"/><ellipse cx="983.1" cy="325.3" rx="1.5" ry="1.4" fill="#0a1ec8" opacity="0.56" transform="rotate(-5 983.1 325.3)"/><ellipse cx="984.3" cy="334.0" rx="1.6" ry="2.1" fill="#d0141a" opacity="0.34" transform="rotate(30 984.3 334.0)"/><ellipse cx="967.0" cy="326.2" rx="1.3" ry="2.0" fill="#d0141a" opacity="0.36" transform="rotate(28 967.0 326.2)"/><ellipse cx="982.1" cy="344.7" rx="1.3" ry="2.0" fill="#0a1ec8" opacity="0.46" transform="rotate(40 982.1 344.7)"/><ellipse cx="998.2" cy="327.5" rx="1.5" ry="1.7" fill="#d0141a" opacity="0.26" transform="rotate(-18 998.2 327.5)"/><ellipse cx="1000.7" cy="342.6" rx="1.3" ry="1.8" fill="#0a1ec8" opacity="0.44" transform="rotate(-15 1000.7 342.6)"/><ellipse cx="963.7" cy="322.6" rx="1.8" ry="1.8" fill="#0a1ec8" opacity="0.32" transform="rotate(12 963.7 322.6)"/><ellipse cx="963.3" cy="345.5" rx="1.7" ry="2.0" fill="#0a1ec8" opacity="0.26" transform="rotate(39 963.3 345.5)"/><ellipse cx="1002.6" cy="344.4" rx="1.4" ry="1.8" fill="#0a1ec8" opacity="0.22" transform="rotate(15 1002.6 344.4)"/><ellipse cx="982.9" cy="333.0" rx="1.8" ry="1.9" fill="#d0141a" opacity="0.56" transform="rotate(-39 982.9 333.0)"/><ellipse cx="974.1" cy="338.9" rx="1.8" ry="1.4" fill="#0a1ec8" opacity="0.40" transform="rotate(22 974.1 338.9)"/><ellipse cx="989.2" cy="325.2" rx="1.8" ry="1.9" fill="#d0141a" opacity="0.44" transform="rotate(-4 989.2 325.2)"/><ellipse cx="1002.1" cy="329.1" rx="1.5" ry="1.5" fill="#d0141a" opacity="0.40" transform="rotate(2 1002.1 329.1)"/><ellipse cx="994.0" cy="340.3" rx="1.8" ry="1.5" fill="#d0141a" opacity="0.32" transform="rotate(-39 994.0 340.3)"/><ellipse cx="998.5" cy="348.4" rx="1.8" ry="1.7" fill="#d0141a" opacity="0.34" transform="rotate(-40 998.5 348.4)"/><ellipse cx="965.2" cy="342.4" rx="1.8" ry="1.5" fill="#0a1ec8" opacity="0.25" transform="rotate(-9 965.2 342.4)"/><ellipse cx="1002.1" cy="352.0" rx="1.5" ry="1.5" fill="#0a1ec8" opacity="0.21" transform="rotate(35 1002.1 352.0)"/><ellipse cx="1012.3" cy="338.6" rx="1.6" ry="2.0" fill="#0a1ec8" opacity="0.16" transform="rotate(10 1012.3 338.6)"/><ellipse cx="1010.5" cy="337.8" rx="1.6" ry="1.6" fill="#0a1ec8" opacity="0.23" transform="rotate(-23 1010.5 337.8)"/><ellipse cx="1010.2" cy="335.6" rx="1.8" ry="1.8" fill="#d0141a" opacity="0.29" transform="rotate(-36 1010.2 335.6)"/><ellipse cx="1002.3" cy="313.3" rx="1.7" ry="1.8" fill="#0a1ec8" opacity="0.16" transform="rotate(27 1002.3 313.3)"/><ellipse cx="978.9" cy="355.6" rx="1.4" ry="2.0" fill="#d0141a" opacity="0.30" transform="rotate(9 978.9 355.6)"/><ellipse cx="970.3" cy="314.3" rx="1.3" ry="2.1" fill="#0a1ec8" opacity="0.23" transform="rotate(-1 970.3 314.3)"/><ellipse cx="983.7" cy="314.3" rx="1.5" ry="1.9" fill="#0a1ec8" opacity="0.36" transform="rotate(-40 983.7 314.3)"/><ellipse cx="990.6" cy="329.1" rx="1.4" ry="1.4" fill="#0a1ec8" opacity="0.33" transform="rotate(39 990.6 329.1)"/><ellipse cx="1000.9" cy="340.1" rx="1.7" ry="1.9" fill="#d0141a" opacity="0.32" transform="rotate(-36 1000.9 340.1)"/><ellipse cx="994.8" cy="339.1" rx="1.5" ry="1.7" fill="#d0141a" opacity="0.53" transform="rotate(-21 994.8 339.1)"/><ellipse cx="977.6" cy="353.6" rx="1.8" ry="1.9" fill="#0a1ec8" opacity="0.24" transform="rotate(26 977.6 353.6)"/><ellipse cx="970.6" cy="343.4" rx="1.3" ry="1.9" fill="#d0141a" opacity="0.35" transform="rotate(-41 970.6 343.4)"/><ellipse cx="998.1" cy="313.8" rx="1.5" ry="2.0" fill="#d0141a" opacity="0.26" transform="rotate(45 998.1 313.8)"/><ellipse cx="990.1" cy="352.1" rx="1.4" ry="2.2" fill="#d0141a" opacity="0.25" transform="rotate(24 990.1 352.1)"/><ellipse cx="995.2" cy="334.2" rx="1.8" ry="2.1" fill="#0a1ec8" opacity="0.41" transform="rotate(18 995.2 334.2)"/><ellipse cx="993.1" cy="348.5" rx="1.4" ry="2.1" fill="#0a1ec8" opacity="0.33" transform="rotate(1 993.1 348.5)"/><ellipse cx="965.1" cy="342.2" rx="1.3" ry="2.1" fill="#0a1ec8" opacity="0.32" transform="rotate(32 965.1 342.2)"/><ellipse cx="973.8" cy="354.4" rx="1.7" ry="1.9" fill="#0a1ec8" opacity="0.27" transform="rotate(-3 973.8 354.4)"/><ellipse cx="971.5" cy="319.9" rx="1.7" ry="1.9" fill="#0a1ec8" opacity="0.37" transform="rotate(-15 971.5 319.9)"/><ellipse cx="969.0" cy="344.8" rx="1.7" ry="2.1" fill="#d0141a" opacity="0.34" transform="rotate(5 969.0 344.8)"/><ellipse cx="989.8" cy="353.3" rx="1.4" ry="1.5" fill="#0a1ec8" opacity="0.31" transform="rotate(-9 989.8 353.3)"/><ellipse cx="991.7" cy="317.3" rx="1.8" ry="1.9" fill="#d0141a" opacity="0.41" transform="rotate(6 991.7 317.3)"/><ellipse cx="978.2" cy="313.0" rx="1.4" ry="2.1" fill="#d0141a" opacity="0.25" transform="rotate(-39 978.2 313.0)"/><ellipse cx="995.6" cy="349.5" rx="1.4" ry="1.8" fill="#0a1ec8" opacity="0.34" transform="rotate(-23 995.6 349.5)"/><ellipse cx="992.7" cy="320.7" rx="1.4" ry="1.4" fill="#d0141a" opacity="0.31" transform="rotate(-41 992.7 320.7)"/><ellipse cx="993.6" cy="339.5" rx="1.8" ry="1.6" fill="#0a1ec8" opacity="0.40" transform="rotate(-7 993.6 339.5)"/><ellipse cx="976.9" cy="322.0" rx="1.8" ry="2.0" fill="#d0141a" opacity="0.33" transform="rotate(-19 976.9 322.0)"/><ellipse cx="976.7" cy="311.2" rx="1.6" ry="1.9" fill="#0a1ec8" opacity="0.25" transform="rotate(-23 976.7 311.2)"/><ellipse cx="974.3" cy="321.6" rx="1.3" ry="1.6" fill="#d0141a" opacity="0.29" transform="rotate(18 974.3 321.6)"/><ellipse cx="1007.4" cy="329.9" rx="1.5" ry="1.5" fill="#d0141a" opacity="0.21" transform="rotate(43 1007.4 329.9)"/><ellipse cx="1000.7" cy="320.2" rx="1.8" ry="2.0" fill="#0a1ec8" opacity="0.39" transform="rotate(29 1000.7 320.2)"/><ellipse cx="969.2" cy="319.3" rx="1.7" ry="1.5" fill="#0a1ec8" opacity="0.26" transform="rotate(11 969.2 319.3)"/><ellipse cx="976.1" cy="348.7" rx="1.5" ry="2.1" fill="#d0141a" opacity="0.27" transform="rotate(-27 976.1 348.7)"/><ellipse cx="966.2" cy="336.4" rx="1.7" ry="1.8" fill="#d0141a" opacity="0.30" transform="rotate(-24 966.2 336.4)"/><ellipse cx="1012.7" cy="336.8" rx="1.7" ry="1.9" fill="#0a1ec8" opacity="0.20" transform="rotate(-13 1012.7 336.8)"/><ellipse cx="967.3" cy="347.9" rx="1.3" ry="2.1" fill="#d0141a" opacity="0.30" transform="rotate(-24 967.3 347.9)"/><ellipse cx="982.0" cy="343.6" rx="1.5" ry="2.0" fill="#0a1ec8" opacity="0.32" transform="rotate(-19 982.0 343.6)"/><ellipse cx="1004.6" cy="338.3" rx="1.8" ry="2.2" fill="#d0141a" opacity="0.23" transform="rotate(18 1004.6 338.3)"/><ellipse cx="985.4" cy="331.6" rx="1.7" ry="1.5" fill="#0a1ec8" opacity="0.44" transform="rotate(-19 985.4 331.6)"/><ellipse cx="960.6" cy="338.0" rx="1.4" ry="2.0" fill="#0a1ec8" opacity="0.22" transform="rotate(-4 960.6 338.0)"/><ellipse cx="1004.7" cy="345.2" rx="1.3" ry="1.8" fill="#d0141a" opacity="0.34" transform="rotate(22 1004.7 345.2)"/><ellipse cx="998.4" cy="340.7" rx="1.5" ry="2.1" fill="#0a1ec8" opacity="0.26" transform="rotate(-27 998.4 340.7)"/><ellipse cx="965.1" cy="341.9" rx="1.7" ry="1.6" fill="#0a1ec8" opacity="0.33" transform="rotate(-1 965.1 341.9)"/></g><g filter="url(#b05)"><path d="M963.1,332.3 A4.6,4.6 0 0 1 964.1,339.0" fill="none" stroke="#0a1ec8" stroke-width="2.5" opacity="0.85" stroke-dasharray="5.3 1.6"/><path d="M965.7,328.5 A9.2,9.2 0 0 1 967.6,342.0" fill="none" stroke="#d0141a" stroke-width="2.5" opacity="0.75" stroke-dasharray="5.3 1.6"/><path d="M968.3,324.6 A13.8,13.8 0 0 1 971.1,345.0" fill="none" stroke="#0a1ec8" stroke-width="2.5" opacity="0.65" stroke-dasharray="5.3 1.6"/><path d="M970.9,320.8 A18.4,18.4 0 0 1 974.7,347.9" fill="none" stroke="#d0141a" stroke-width="2.5" opacity="0.55" stroke-dasharray="5.3 1.6"/><path d="M973.4,317.0 A23.0,23.0 0 0 1 978.2,350.9" fill="none" stroke="#0a1ec8" stroke-width="2.5" opacity="0.45" stroke-dasharray="5.3 1.6"/><path d="M976.0,313.2 A27.6,27.6 0 0 1 981.7,353.8" fill="none" stroke="#d0141a" stroke-width="2.5" opacity="0.35" stroke-dasharray="5.3 1.6"/><path d="M978.6,309.4 A32.2,32.2 0 0 1 985.2,356.8" fill="none" stroke="#0a1ec8" stroke-width="2.5" opacity="0.25" stroke-dasharray="5.3 1.6"/><path d="M981.1,305.6 A36.8,36.8 0 0 1 988.8,359.7" fill="none" stroke="#d0141a" stroke-width="2.5" opacity="0.15" stroke-dasharray="5.3 1.6"/></g><g filter="url(#b05)"><ellipse cx="935.7" cy="336.1" rx="1.4" ry="3.3" fill="#d0141a"/><ellipse cx="940.3" cy="336.1" rx="1.4" ry="3.3" fill="#0a1ec8"/><ellipse cx="944.9" cy="336.1" rx="1.4" ry="3.3" fill="#d0141a"/><ellipse cx="949.5" cy="336.1" rx="1.4" ry="3.3" fill="#0a1ec8"/><ellipse cx="954.1" cy="336.1" rx="1.4" ry="3.3" fill="#d0141a"/><ellipse cx="958.7" cy="336.1" rx="1.4" ry="3.3" fill="#0a1ec8"/><ellipse cx="1009.2" cy="336.1" rx="1.4" ry="3.3" fill="#d0141a"/><ellipse cx="1013.8" cy="336.1" rx="1.4" ry="3.3" fill="#0a1ec8"/><ellipse cx="1018.4" cy="336.1" rx="1.4" ry="3.3" fill="#d0141a"/><ellipse cx="1023.0" cy="336.1" rx="1.4" ry="3.3" fill="#0a1ec8"/><ellipse cx="1027.6" cy="336.1" rx="1.4" ry="3.3" fill="#d0141a"/><ellipse cx="1032.2" cy="336.1" rx="1.4" ry="3.3" fill="#0a1ec8"/><ellipse cx="1036.8" cy="336.1" rx="1.4" ry="3.3" fill="#d0141a"/></g></g>
<rect x="928.2" y="278.3" width="116.8" height="116.7" fill="none" stroke="#262626" stroke-width="3.6" rx="1"/>
<rect x="605" y="280" width="83.9" height="38.6" fill="#EBEBEB" opacity="0.9"/>
<text x="612.9" y="306.6" font-size="24" font-family='"Liberation Sans", sans-serif' fill="#000" textLength="68.0" lengthAdjust="spacingAndGlyphs" >Step 4</text>
<rect x="775.7" y="281.9" width="84.1" height="37.5" fill="#EBEBEB" opacity="0.9"/>
<text x="782.7" y="307.2" font-size="24" font-family='"Liberation Sans", sans-serif' fill="#000" textLength="68.9" lengthAdjust="spacingAndGlyphs" >Step 8</text>
<rect x="942.5" y="279" width="92.0" height="38.0" fill="#EBEBEB" opacity="0.9"/>
<text x="946.5" y="306" font-size="24" font-family='"Liberation Sans", sans-serif' fill="#000" textLength="83.0" lengthAdjust="spacingAndGlyphs" >Step 64</text>
<polygon points="717.5,330.1 732.0,330.1 732.0,318.6 750.5,337.1 732.0,355.6 732.0,344.1 717.5,344.1" fill="#F8DF86" stroke="#2a2a2a" stroke-width="2.2" stroke-linejoin="miter"/>
<polygon points="886.5,329.6 901.0,329.6 901.0,318.1 919.5,336.6 901.0,355.1 901.0,343.6 886.5,343.6" fill="#F8DF86" stroke="#2a2a2a" stroke-width="2.2" stroke-linejoin="miter"/>
<rect x="1076.4" y="275.7" width="121.2" height="120.7" rx="2" fill="#2b2d2b"/>
<g clip-path="url(#c594_424)"><rect x="594.1" y="424.6" width="112.69999999999997" height="112.69999999999997" fill="#FEFBFD"/><g filter="url(#b2)"><ellipse cx="596.5" cy="498.9" rx="5.1" ry="3.7" fill="#8a96ea" opacity="0.16" transform="rotate(1 596.5 498.9)"/><ellipse cx="615.1" cy="478.6" rx="9.0" ry="3.5" fill="#8a96ea" opacity="0.18" transform="rotate(-9 615.1 478.6)"/><ellipse cx="619.9" cy="485.4" rx="6.5" ry="2.6" fill="#e88a86" opacity="0.20" transform="rotate(-2 619.9 485.4)"/><ellipse cx="602.9" cy="459.9" rx="10.4" ry="2.8" fill="#8a96ea" opacity="0.22" transform="rotate(37 602.9 459.9)"/><ellipse cx="627.8" cy="488.7" rx="5.7" ry="4.0" fill="#8a96ea" opacity="0.19" transform="rotate(14 627.8 488.7)"/><ellipse cx="605.2" cy="462.7" rx="9.6" ry="3.3" fill="#8a96ea" opacity="0.10" transform="rotate(22 605.2 462.7)"/><ellipse cx="606.0" cy="476.7" rx="10.0" ry="4.3" fill="#8a96ea" opacity="0.19" transform="rotate(-12 606.0 476.7)"/><ellipse cx="607.6" cy="469.4" rx="5.7" ry="4.8" fill="#e88a86" opacity="0.21" transform="rotate(-47 607.6 469.4)"/><ellipse cx="613.3" cy="480.4" rx="15.8" ry="14.7" fill="#f2b0b0" opacity="0.35"/></g><g filter="url(#b05)"><ellipse cx="622.7" cy="481.2" rx="2.6" ry="3.4" fill="#d0141a" opacity="0.15" transform="rotate(43 622.7 481.2)"/><ellipse cx="629.2" cy="481.7" rx="2.2" ry="3.3" fill="#0a1ec8" opacity="0.21" transform="rotate(-10 629.2 481.7)"/></g><g filter="url(#b05)"><ellipse cx="603.1" cy="480.4" rx="2.3" ry="4.6" fill="#0a1ec8"/><ellipse cx="609.8" cy="480.4" rx="2.3" ry="4.6" fill="#d0141a"/><ellipse cx="616.5" cy="480.4" rx="2.3" ry="4.6" fill="#0a1ec8"/><ellipse cx="623.2" cy="480.4" rx="2.3" ry="4.6" fill="#d0141a"/></g></g>
<rect x="592.3" y="422.8" width="116.3" height="116.3" fill="none" stroke="#262626" stroke-width="3.6" rx="1"/>
<g clip-path="url(#c762_424)"><rect x="762.0" y="424.6" width="113.40000000000002" height="112.8" fill="#FEFBFD"/><g filter="url(#b2)"><ellipse cx="803.4" cy="482.1" rx="8.8" ry="2.6" fill="#e88a86" opacity="0.20" transform="rotate(-21 803.4 482.1)"/><ellipse cx="794.3" cy="518.4" rx="9.0" ry="3.8" fill="#e88a86" opacity="0.17" transform="rotate(44 794.3 518.4)"/><ellipse cx="808.5" cy="500.2" rx="8.7" ry="2.8" fill="#e88a86" opacity="0.16" transform="rotate(-24 808.5 500.2)"/><ellipse cx="806.9" cy="481.3" rx="10.3" ry="3.5" fill="#8a96ea" opacity="0.12" transform="rotate(12 806.9 481.3)"/><ellipse cx="774.9" cy="497.7" rx="10.4" ry="4.7" fill="#e88a86" opacity="0.21" transform="rotate(31 774.9 497.7)"/><ellipse cx="823.5" cy="455.5" rx="11.0" ry="4.1" fill="#8a96ea" opacity="0.13" transform="rotate(12 823.5 455.5)"/><ellipse cx="793.2" cy="479.2" rx="8.2" ry="3.5" fill="#e88a86" opacity="0.14" transform="rotate(-59 793.2 479.2)"/><ellipse cx="841.3" cy="511.4" rx="10.0" ry="3.2" fill="#8a96ea" opacity="0.18" transform="rotate(-11 841.3 511.4)"/><ellipse cx="790.2" cy="455.9" rx="9.1" ry="3.6" fill="#8a96ea" opacity="0.12" transform="rotate(-37 790.2 455.9)"/><ellipse cx="775.3" cy="475.7" rx="6.5" ry="4.3" fill="#e88a86" opacity="0.11" transform="rotate(52 775.3 475.7)"/><ellipse cx="774.2" cy="525.6" rx="7.0" ry="3.6" fill="#e88a86" opacity="0.11" transform="rotate(-49 774.2 525.6)"/><ellipse cx="813.0" cy="489.1" rx="6.2" ry="4.3" fill="#e88a86" opacity="0.14" transform="rotate(-44 813.0 489.1)"/><ellipse cx="819.3" cy="515.0" rx="8.0" ry="4.9" fill="#8a96ea" opacity="0.17" transform="rotate(-44 819.3 515.0)"/><ellipse cx="773.2" cy="524.5" rx="10.2" ry="3.1" fill="#e88a86" opacity="0.16" transform="rotate(3 773.2 524.5)"/><ellipse cx="821.2" cy="472.2" rx="7.0" ry="4.6" fill="#e88a86" opacity="0.17" transform="rotate(-25 821.2 472.2)"/><ellipse cx="797.8" cy="501.0" rx="8.6" ry="3.4" fill="#e88a86" opacity="0.15" transform="rotate(28 797.8 501.0)"/><ellipse cx="781.3" cy="480.4" rx="15.9" ry="14.7" fill="#f2b0b0" opacity="0.35"/></g><g filter="url(#b05)"><ellipse cx="832.0" cy="485.2" rx="2.5" ry="4.6" fill="#0a1ec8" opacity="0.27" transform="rotate(-38 832.0 485.2)"/><ellipse cx="816.6" cy="496.1" rx="2.7" ry="3.8" fill="#d0141a" opacity="0.22" transform="rotate(17 816.6 496.1)"/><ellipse cx="833.2" cy="485.8" rx="2.9" ry="4.9" fill="#d0141a" opacity="0.14" transform="rotate(-8 833.2 485.8)"/><ellipse cx="808.9" cy="498.2" rx="2.2" ry="3.8" fill="#d0141a" opacity="0.23" transform="rotate(28 808.9 498.2)"/><ellipse cx="800.4" cy="483.0" rx="3.0" ry="4.0" fill="#0a1ec8" opacity="0.13" transform="rotate(25 800.4 483.0)"/><ellipse cx="824.7" cy="501.8" rx="2.5" ry="4.5" fill="#0a1ec8" opacity="0.14" transform="rotate(34 824.7 501.8)"/><ellipse cx="805.4" cy="484.5" rx="2.2" ry="3.8" fill="#d0141a" opacity="0.21" transform="rotate(44 805.4 484.5)"/><ellipse cx="804.2" cy="466.6" rx="2.6" ry="3.8" fill="#d0141a" opacity="0.21" transform="rotate(-39 804.2 466.6)"/><ellipse cx="821.4" cy="495.6" rx="2.4" ry="3.6" fill="#0a1ec8" opacity="0.30" transform="rotate(-3 821.4 495.6)"/><ellipse cx="803.1" cy="491.0" rx="2.1" ry="4.5" fill="#d0141a" opacity="0.17" transform="rotate(25 803.1 491.0)"/><ellipse cx="817.8" cy="473.3" rx="2.1" ry="4.3" fill="#0a1ec8" opacity="0.40" transform="rotate(-28 817.8 473.3)"/><ellipse cx="821.5" cy="469.9" rx="2.7" ry="3.9" fill="#d0141a" opacity="0.31" transform="rotate(-19 821.5 469.9)"/><ellipse cx="826.0" cy="494.4" rx="2.4" ry="4.5" fill="#d0141a" opacity="0.17" transform="rotate(25 826.0 494.4)"/><ellipse cx="818.9" cy="493.7" rx="2.5" ry="4.2" fill="#0a1ec8" opacity="0.23" transform="rotate(14 818.9 493.7)"/><ellipse cx="821.1" cy="485.7" rx="2.8" ry="3.4" fill="#d0141a" opacity="0.41" transform="rotate(39 821.1 485.7)"/><ellipse cx="811.0" cy="475.2" rx="2.3" ry="3.3" fill="#0a1ec8" opacity="0.33" transform="rotate(1 811.0 475.2)"/><ellipse cx="813.4" cy="499.6" rx="2.9" ry="3.8" fill="#0a1ec8" opacity="0.23" transform="rotate(25 813.4 499.6)"/><ellipse cx="816.8" cy="471.9" rx="2.5" ry="3.6" fill="#0a1ec8" opacity="0.31" transform="rotate(-4 816.8 471.9)"/><ellipse cx="817.0" cy="461.3" rx="2.5" ry="3.8" fill="#d0141a" opacity="0.18" transform="rotate(31 817.0 461.3)"/><ellipse cx="823.2" cy="480.3" rx="2.2" ry="4.6" fill="#d0141a" opacity="0.30" transform="rotate(5 823.2 480.3)"/><ellipse cx="815.8" cy="484.7" rx="2.5" ry="3.5" fill="#d0141a" opacity="0.22" transform="rotate(27 815.8 484.7)"/><ellipse cx="816.5" cy="475.1" rx="2.4" ry="3.4" fill="#0a1ec8" opacity="0.35" transform="rotate(-45 816.5 475.1)"/><ellipse cx="801.4" cy="473.9" rx="2.2" ry="4.2" fill="#0a1ec8" opacity="0.18" transform="rotate(-2 801.4 473.9)"/><ellipse cx="803.8" cy="476.6" rx="2.5" ry="4.6" fill="#0a1ec8" opacity="0.22" transform="rotate(13 803.8 476.6)"/><ellipse cx="805.3" cy="476.1" rx="2.4" ry="4.3" fill="#d0141a" opacity="0.28" transform="rotate(31 805.3 476.1)"/></g><g filter="url(#b05)"><path d="M796.5,474.9 A6.7,6.7 0 0 1 796.5,485.9" fill="none" stroke="#0a1ec8" stroke-width="4.1" opacity="0.84" stroke-dasharray="7.4 2.3"/><path d="M800.3,469.5 A13.4,13.4 0 0 1 800.3,491.4" fill="none" stroke="#d0141a" stroke-width="4.1" opacity="0.72" stroke-dasharray="7.4 2.3"/><path d="M804.1,464.0 A20.1,20.1 0 0 1 804.1,496.9" fill="none" stroke="#0a1ec8" stroke-width="4.1" opacity="0.61" stroke-dasharray="7.4 2.3"/><path d="M808.0,458.5 A26.8,26.8 0 0 1 808.0,502.4" fill="none" stroke="#d0141a" stroke-width="4.1" opacity="0.49" stroke-dasharray="7.4 2.3"/><path d="M811.8,453.0 A33.5,33.5 0 0 1 811.8,507.9" fill="none" stroke="#0a1ec8" stroke-width="4.1" opacity="0.38" stroke-dasharray="7.4 2.3"/><path d="M815.7,447.5 A40.2,40.2 0 0 1 815.7,513.4" fill="none" stroke="#d0141a" stroke-width="4.1" opacity="0.26" stroke-dasharray="7.4 2.3"/><path d="M819.5,442.0 A46.9,46.9 0 0 1 819.5,518.9" fill="none" stroke="#0a1ec8" stroke-width="4.1" opacity="0.15" stroke-dasharray="7.4 2.3"/></g><g filter="url(#b05)"><ellipse cx="771.1" cy="480.4" rx="2.3" ry="4.6" fill="#0a1ec8"/><ellipse cx="777.8" cy="480.4" rx="2.3" ry="4.6" fill="#d0141a"/><ellipse cx="784.5" cy="480.4" rx="2.3" ry="4.6" fill="#0a1ec8"/><ellipse cx="791.2" cy="480.4" rx="2.3" ry="4.6" fill="#d0141a"/></g></g>
<rect x="760.2" y="422.8" width="117.0" height="116.4" fill="none" stroke="#262626" stroke-width="3.6" rx="1"/>
<g clip-path="url(#c930_424)"><rect x="930.3000000000001" y="424.6" width="113.50000000000004" height="113.50000000000004" fill="#FEFBFD"/><g filter="url(#b2)"><ellipse cx="984.2" cy="497.0" rx="10.2" ry="4.2" fill="#8a96ea" opacity="0.11" transform="rotate(10 984.2 497.0)"/><ellipse cx="957.7" cy="458.0" rx="9.1" ry="6.3" fill="#8a96ea" opacity="0.21" transform="rotate(16 957.7 458.0)"/><ellipse cx="990.6" cy="436.4" rx="16.5" ry="6.1" fill="#8a96ea" opacity="0.18" transform="rotate(12 990.6 436.4)"/><ellipse cx="1017.1" cy="446.5" rx="14.0" ry="6.9" fill="#8a96ea" opacity="0.21" transform="rotate(13 1017.1 446.5)"/><ellipse cx="1015.1" cy="503.4" rx="17.2" ry="5.7" fill="#8a96ea" opacity="0.21" transform="rotate(27 1015.1 503.4)"/><ellipse cx="1036.9" cy="441.3" rx="16.1" ry="8.0" fill="#8a96ea" opacity="0.16" transform="rotate(-50 1036.9 441.3)"/><ellipse cx="938.1" cy="531.5" rx="9.6" ry="6.0" fill="#e88a86" opacity="0.19" transform="rotate(-52 938.1 531.5)"/><ellipse cx="982.7" cy="432.6" rx="8.7" ry="4.6" fill="#e88a86" opacity="0.20" transform="rotate(-58 982.7 432.6)"/><ellipse cx="1019.0" cy="489.1" rx="16.8" ry="5.3" fill="#8a96ea" opacity="0.15" transform="rotate(12 1019.0 489.1)"/><ellipse cx="974.1" cy="491.4" rx="11.5" ry="4.5" fill="#e88a86" opacity="0.16" transform="rotate(45 974.1 491.4)"/><ellipse cx="1027.1" cy="475.6" rx="9.9" ry="7.9" fill="#8a96ea" opacity="0.14" transform="rotate(45 1027.1 475.6)"/><ellipse cx="958.4" cy="533.8" rx="15.6" ry="4.5" fill="#8a96ea" opacity="0.12" transform="rotate(10 958.4 533.8)"/><ellipse cx="930.6" cy="442.9" rx="17.0" ry="5.2" fill="#8a96ea" opacity="0.20" transform="rotate(-33 930.6 442.9)"/><ellipse cx="1034.1" cy="483.9" rx="10.5" ry="7.8" fill="#e88a86" opacity="0.20" transform="rotate(59 1034.1 483.9)"/><ellipse cx="1028.3" cy="456.1" rx="13.4" ry="7.0" fill="#8a96ea" opacity="0.17" transform="rotate(53 1028.3 456.1)"/><ellipse cx="1004.5" cy="492.7" rx="14.3" ry="5.6" fill="#e88a86" opacity="0.14" transform="rotate(-14 1004.5 492.7)"/><ellipse cx="936.6" cy="533.5" rx="14.6" ry="5.5" fill="#8a96ea" opacity="0.20" transform="rotate(25 936.6 533.5)"/><ellipse cx="1025.9" cy="531.6" rx="14.8" ry="5.8" fill="#8a96ea" opacity="0.20" transform="rotate(-4 1025.9 531.6)"/><ellipse cx="960.6" cy="426.2" rx="12.8" ry="7.4" fill="#e88a86" opacity="0.13" transform="rotate(11 960.6 426.2)"/><ellipse cx="982.5" cy="446.9" rx="16.8" ry="5.9" fill="#8a96ea" opacity="0.20" transform="rotate(-8 982.5 446.9)"/><ellipse cx="1004.8" cy="502.5" rx="12.7" ry="5.8" fill="#e88a86" opacity="0.15" transform="rotate(40 1004.8 502.5)"/><ellipse cx="956.0" cy="533.9" rx="15.4" ry="6.7" fill="#8a96ea" opacity="0.17" transform="rotate(16 956.0 533.9)"/><ellipse cx="1020.9" cy="441.3" rx="16.7" ry="6.9" fill="#8a96ea" opacity="0.18" transform="rotate(26 1020.9 441.3)"/><ellipse cx="987.0" cy="449.9" rx="11.2" ry="7.8" fill="#8a96ea" opacity="0.21" transform="rotate(36 987.0 449.9)"/><ellipse cx="945.0" cy="492.5" rx="13.2" ry="7.7" fill="#e88a86" opacity="0.11" transform="rotate(-17 945.0 492.5)"/><ellipse cx="1005.4" cy="523.5" rx="12.5" ry="4.4" fill="#e88a86" opacity="0.11" transform="rotate(5 1005.4 523.5)"/><ellipse cx="1012.8" cy="431.5" rx="12.5" ry="5.1" fill="#8a96ea" opacity="0.20" transform="rotate(-29 1012.8 431.5)"/><ellipse cx="989.6" cy="491.5" rx="10.3" ry="6.7" fill="#8a96ea" opacity="0.14" transform="rotate(-20 989.6 491.5)"/><ellipse cx="1020.7" cy="485.9" rx="9.1" ry="7.5" fill="#e88a86" opacity="0.16" transform="rotate(-20 1020.7 485.9)"/><ellipse cx="1019.4" cy="496.8" rx="15.5" ry="4.4" fill="#e88a86" opacity="0.10" transform="rotate(59 1019.4 496.8)"/><ellipse cx="992.7" cy="504.7" rx="14.1" ry="5.5" fill="#8a96ea" opacity="0.13" transform="rotate(-33 992.7 504.7)"/><ellipse cx="941.1" cy="521.7" rx="17.0" ry="4.5" fill="#8a96ea" opacity="0.14" transform="rotate(36 941.1 521.7)"/><ellipse cx="981.0" cy="424.8" rx="15.2" ry="5.7" fill="#8a96ea" opacity="0.17" transform="rotate(6 981.0 424.8)"/><ellipse cx="1037.4" cy="444.9" rx="10.2" ry="6.9" fill="#e88a86" opacity="0.13" transform="rotate(-32 1037.4 444.9)"/><ellipse cx="1017.1" cy="508.8" rx="8.1" ry="4.5" fill="#e88a86" opacity="0.10" transform="rotate(-7 1017.1 508.8)"/><ellipse cx="1026.2" cy="531.8" rx="16.8" ry="4.8" fill="#e88a86" opacity="0.14" transform="rotate(-17 1026.2 531.8)"/><ellipse cx="1030.6" cy="525.5" rx="9.0" ry="6.7" fill="#8a96ea" opacity="0.18" transform="rotate(30 1030.6 525.5)"/><ellipse cx="966.8" cy="518.8" rx="17.5" ry="4.8" fill="#e88a86" opacity="0.17" transform="rotate(-21 966.8 518.8)"/><ellipse cx="1005.6" cy="476.4" rx="15.3" ry="4.0" fill="#8a96ea" opacity="0.14" transform="rotate(38 1005.6 476.4)"/><ellipse cx="996.2" cy="523.7" rx="11.0" ry="4.5" fill="#e88a86" opacity="0.11" transform="rotate(-11 996.2 523.7)"/><ellipse cx="976.2" cy="499.2" rx="13.6" ry="4.9" fill="#8a96ea" opacity="0.18" transform="rotate(9 976.2 499.2)"/><ellipse cx="1008.3" cy="492.6" rx="10.0" ry="5.0" fill="#8a96ea" opacity="0.15" transform="rotate(-56 1008.3 492.6)"/><ellipse cx="931.8" cy="426.6" rx="15.8" ry="7.6" fill="#e88a86" opacity="0.21" transform="rotate(-18 931.8 426.6)"/><ellipse cx="973.0" cy="476.7" rx="17.0" ry="8.0" fill="#e88a86" opacity="0.20" transform="rotate(28 973.0 476.7)"/><ellipse cx="1035.1" cy="456.5" rx="9.4" ry="7.9" fill="#8a96ea" opacity="0.13" transform="rotate(-46 1035.1 456.5)"/><ellipse cx="949.6" cy="480.8" rx="15.9" ry="14.7" fill="#f2b0b0" opacity="0.35"/></g><g filter="url(#b05)"><ellipse cx="1012.2" cy="500.3" rx="2.1" ry="3.9" fill="#0a1ec8" opacity="0.26" transform="rotate(38 1012.2 500.3)"/><ellipse cx="1000.7" cy="483.5" rx="2.8" ry="3.7" fill="#d0141a" opacity="0.51" transform="rotate(14 1000.7 483.5)"/><ellipse cx="962.2" cy="485.0" rx="3.0" ry="4.0" fill="#0a1ec8" opacity="0.40" transform="rotate(-8 962.2 485.0)"/><ellipse cx="975.6" cy="481.0" rx="2.9" ry="3.8" fill="#0a1ec8" opacity="0.37" transform="rotate(39 975.6 481.0)"/><ellipse cx="1011.6" cy="470.4" rx="2.6" ry="4.7" fill="#d0141a" opacity="0.30" transform="rotate(32 1011.6 470.4)"/><ellipse cx="974.1" cy="491.4" rx="2.7" ry="3.4" fill="#d0141a" opacity="0.57" transform="rotate(1 974.1 491.4)"/><ellipse cx="986.8" cy="485.6" rx="3.0" ry="3.6" fill="#0a1ec8" opacity="0.85" transform="rotate(17 986.8 485.6)"/><ellipse cx="989.2" cy="483.3" rx="2.5" ry="3.8" fill="#d0141a" opacity="0.56" transform="rotate(30 989.2 483.3)"/><ellipse cx="1015.0" cy="476.1" rx="2.4" ry="4.7" fill="#0a1ec8" opacity="0.46" transform="rotate(-41 1015.0 476.1)"/><ellipse cx="1004.3" cy="488.4" rx="2.8" ry="3.3" fill="#0a1ec8" opacity="0.45" transform="rotate(31 1004.3 488.4)"/><ellipse cx="988.8" cy="497.2" rx="2.3" ry="3.5" fill="#d0141a" opacity="0.46" transform="rotate(-15 988.8 497.2)"/><ellipse cx="1001.7" cy="478.7" rx="2.4" ry="3.4" fill="#0a1ec8" opacity="0.41" transform="rotate(8 1001.7 478.7)"/><ellipse cx="1008.5" cy="462.9" rx="2.2" ry="3.7" fill="#d0141a" opacity="0.42" transform="rotate(-22 1008.5 462.9)"/><ellipse cx="1005.4" cy="460.2" rx="2.8" ry="3.4" fill="#d0141a" opacity="0.24" transform="rotate(-30 1005.4 460.2)"/><ellipse cx="985.1" cy="467.6" rx="2.8" ry="4.1" fill="#d0141a" opacity="0.57" transform="rotate(10 985.1 467.6)"/><ellipse cx="983.2" cy="481.3" rx="2.1" ry="4.2" fill="#d0141a" opacity="0.69" transform="rotate(-27 983.2 481.3)"/><ellipse cx="995.9" cy="494.1" rx="2.6" ry="3.5" fill="#0a1ec8" opacity="0.67" transform="rotate(37 995.9 494.1)"/><ellipse cx="988.6" cy="469.4" rx="2.7" ry="4.0" fill="#0a1ec8" opacity="0.54" transform="rotate(36 988.6 469.4)"/><ellipse cx="979.4" cy="498.2" rx="2.6" ry="3.7" fill="#d0141a" opacity="0.50" transform="rotate(35 979.4 498.2)"/><ellipse cx="1005.5" cy="463.5" rx="2.1" ry="3.7" fill="#d0141a" opacity="0.45" transform="rotate(-33 1005.5 463.5)"/><ellipse cx="978.2" cy="473.3" rx="2.5" ry="4.7" fill="#d0141a" opacity="0.56" transform="rotate(-19 978.2 473.3)"/><ellipse cx="1003.6" cy="484.8" rx="2.3" ry="4.5" fill="#d0141a" opacity="0.56" transform="rotate(-13 1003.6 484.8)"/><ellipse cx="980.4" cy="475.3" rx="2.6" ry="3.7" fill="#d0141a" opacity="0.49" transform="rotate(15 980.4 475.3)"/><ellipse cx="1018.7" cy="496.4" rx="2.2" ry="4.4" fill="#d0141a" opacity="0.25" transform="rotate(-10 1018.7 496.4)"/><ellipse cx="1023.1" cy="482.0" rx="2.1" ry="5.0" fill="#d0141a" opacity="0.21" transform="rotate(-38 1023.1 482.0)"/><ellipse cx="1010.4" cy="485.6" rx="2.7" ry="3.8" fill="#d0141a" opacity="0.48" transform="rotate(-0 1010.4 485.6)"/><ellipse cx="1002.4" cy="487.0" rx="2.9" ry="4.0" fill="#d0141a" opacity="0.69" transform="rotate(-15 1002.4 487.0)"/><ellipse cx="967.7" cy="468.9" rx="2.3" ry="4.5" fill="#0a1ec8" opacity="0.45" transform="rotate(19 967.7 468.9)"/><ellipse cx="1001.3" cy="458.4" rx="2.1" ry="3.8" fill="#d0141a" opacity="0.38" transform="rotate(-6 1001.3 458.4)"/><ellipse cx="1012.1" cy="500.7" rx="2.7" ry="3.9" fill="#d0141a" opacity="0.24" transform="rotate(38 1012.1 500.7)"/><ellipse cx="1021.6" cy="476.0" rx="2.7" ry="4.7" fill="#0a1ec8" opacity="0.37" transform="rotate(27 1021.6 476.0)"/><ellipse cx="986.9" cy="499.4" rx="2.7" ry="4.3" fill="#0a1ec8" opacity="0.47" transform="rotate(-17 986.9 499.4)"/><ellipse cx="1003.9" cy="502.4" rx="2.6" ry="3.5" fill="#0a1ec8" opacity="0.44" transform="rotate(-12 1003.9 502.4)"/><ellipse cx="984.9" cy="499.7" rx="3.0" ry="4.5" fill="#0a1ec8" opacity="0.51" transform="rotate(7 984.9 499.7)"/><ellipse cx="1020.2" cy="492.8" rx="2.2" ry="3.7" fill="#0a1ec8" opacity="0.40" transform="rotate(-13 1020.2 492.8)"/><ellipse cx="977.9" cy="462.6" rx="2.4" ry="4.8" fill="#d0141a" opacity="0.33" transform="rotate(-34 977.9 462.6)"/><ellipse cx="983.5" cy="473.8" rx="2.5" ry="4.7" fill="#0a1ec8" opacity="0.49" transform="rotate(-12 983.5 473.8)"/><ellipse cx="989.8" cy="455.4" rx="2.6" ry="4.3" fill="#d0141a" opacity="0.29" transform="rotate(16 989.8 455.4)"/><ellipse cx="998.4" cy="498.6" rx="2.9" ry="4.3" fill="#d0141a" opacity="0.38" transform="rotate(-8 998.4 498.6)"/><ellipse cx="1019.5" cy="480.8" rx="2.7" ry="4.8" fill="#0a1ec8" opacity="0.26" transform="rotate(20 1019.5 480.8)"/><ellipse cx="994.4" cy="470.7" rx="2.4" ry="4.2" fill="#d0141a" opacity="0.58" transform="rotate(-28 994.4 470.7)"/><ellipse cx="1012.7" cy="463.8" rx="2.2" ry="4.6" fill="#0a1ec8" opacity="0.31" transform="rotate(25 1012.7 463.8)"/><ellipse cx="1015.4" cy="497.8" rx="2.9" ry="3.4" fill="#d0141a" opacity="0.40" transform="rotate(30 1015.4 497.8)"/><ellipse cx="1005.6" cy="463.7" rx="2.5" ry="4.3" fill="#d0141a" opacity="0.40" transform="rotate(-31 1005.6 463.7)"/><ellipse cx="973.5" cy="476.4" rx="2.2" ry="4.7" fill="#0a1ec8" opacity="0.52" transform="rotate(42 973.5 476.4)"/><ellipse cx="972.5" cy="485.4" rx="2.3" ry="3.3" fill="#d0141a" opacity="0.35" transform="rotate(13 972.5 485.4)"/><ellipse cx="995.4" cy="463.2" rx="2.3" ry="4.0" fill="#d0141a" opacity="0.49" transform="rotate(-4 995.4 463.2)"/><ellipse cx="977.0" cy="480.9" rx="2.7" ry="3.7" fill="#d0141a" opacity="0.38" transform="rotate(10 977.0 480.9)"/><ellipse cx="998.8" cy="466.7" rx="2.5" ry="3.3" fill="#d0141a" opacity="0.65" transform="rotate(37 998.8 466.7)"/><ellipse cx="1014.7" cy="480.6" rx="2.5" ry="3.6" fill="#0a1ec8" opacity="0.56" transform="rotate(-19 1014.7 480.6)"/><ellipse cx="1011.6" cy="488.8" rx="2.1" ry="3.9" fill="#d0141a" opacity="0.58" transform="rotate(37 1011.6 488.8)"/><ellipse cx="992.6" cy="504.5" rx="2.5" ry="3.7" fill="#0a1ec8" opacity="0.35" transform="rotate(-10 992.6 504.5)"/><ellipse cx="984.1" cy="466.6" rx="2.5" ry="3.7" fill="#0a1ec8" opacity="0.54" transform="rotate(6 984.1 466.6)"/><ellipse cx="1020.1" cy="479.9" rx="2.6" ry="3.3" fill="#d0141a" opacity="0.27" transform="rotate(42 1020.1 479.9)"/><ellipse cx="1011.8" cy="470.9" rx="2.6" ry="3.3" fill="#0a1ec8" opacity="0.36" transform="rotate(14 1011.8 470.9)"/><ellipse cx="994.8" cy="498.6" rx="2.8" ry="3.4" fill="#0a1ec8" opacity="0.32" transform="rotate(-44 994.8 498.6)"/><ellipse cx="969.7" cy="485.3" rx="2.1" ry="3.9" fill="#0a1ec8" opacity="0.38" transform="rotate(-44 969.7 485.3)"/><ellipse cx="971.4" cy="480.0" rx="3.0" ry="3.3" fill="#0a1ec8" opacity="0.32" transform="rotate(33 971.4 480.0)"/><ellipse cx="1005.5" cy="458.2" rx="2.9" ry="4.9" fill="#d0141a" opacity="0.32" transform="rotate(-34 1005.5 458.2)"/><ellipse cx="991.0" cy="498.9" rx="2.6" ry="4.3" fill="#0a1ec8" opacity="0.31" transform="rotate(-2 991.0 498.9)"/><ellipse cx="974.4" cy="499.8" rx="2.7" ry="4.7" fill="#d0141a" opacity="0.44" transform="rotate(-38 974.4 499.8)"/><ellipse cx="979.4" cy="498.8" rx="2.5" ry="4.2" fill="#0a1ec8" opacity="0.32" transform="rotate(11 979.4 498.8)"/><ellipse cx="1001.7" cy="457.6" rx="2.6" ry="3.9" fill="#0a1ec8" opacity="0.28" transform="rotate(-22 1001.7 457.6)"/><ellipse cx="994.8" cy="485.7" rx="2.7" ry="4.1" fill="#d0141a" opacity="0.49" transform="rotate(-21 994.8 485.7)"/><ellipse cx="1010.3" cy="502.5" rx="2.2" ry="4.2" fill="#d0141a" opacity="0.37" transform="rotate(5 1010.3 502.5)"/><ellipse cx="1004.1" cy="467.9" rx="2.5" ry="4.8" fill="#d0141a" opacity="0.33" transform="rotate(25 1004.1 467.9)"/><ellipse cx="1017.0" cy="473.3" rx="2.9" ry="4.9" fill="#d0141a" opacity="0.28" transform="rotate(14 1017.0 473.3)"/><ellipse cx="981.8" cy="458.0" rx="2.6" ry="4.4" fill="#d0141a" opacity="0.41" transform="rotate(37 981.8 458.0)"/><ellipse cx="977.6" cy="481.4" rx="2.2" ry="3.4" fill="#0a1ec8" opacity="0.60" transform="rotate(-28 977.6 481.4)"/><ellipse cx="1004.3" cy="502.7" rx="2.9" ry="4.7" fill="#d0141a" opacity="0.39" transform="rotate(-28 1004.3 502.7)"/><ellipse cx="997.4" cy="465.2" rx="3.0" ry="4.0" fill="#0a1ec8" opacity="0.35" transform="rotate(15 997.4 465.2)"/><ellipse cx="992.7" cy="475.3" rx="2.4" ry="4.1" fill="#d0141a" opacity="0.44" transform="rotate(-1 992.7 475.3)"/><ellipse cx="978.4" cy="487.0" rx="2.5" ry="4.8" fill="#0a1ec8" opacity="0.36" transform="rotate(33 978.4 487.0)"/><ellipse cx="998.8" cy="458.7" rx="3.0" ry="4.2" fill="#0a1ec8" opacity="0.31" transform="rotate(14 998.8 458.7)"/><ellipse cx="985.1" cy="490.7" rx="2.6" ry="4.4" fill="#0a1ec8" opacity="0.41" transform="rotate(-25 985.1 490.7)"/><ellipse cx="980.6" cy="498.7" rx="2.2" ry="4.4" fill="#d0141a" opacity="0.36" transform="rotate(39 980.6 498.7)"/><ellipse cx="1005.8" cy="498.3" rx="2.7" ry="4.5" fill="#0a1ec8" opacity="0.42" transform="rotate(42 1005.8 498.3)"/><ellipse cx="985.3" cy="483.4" rx="2.9" ry="3.9" fill="#0a1ec8" opacity="0.77" transform="rotate(-42 985.3 483.4)"/><ellipse cx="984.9" cy="459.6" rx="2.2" ry="3.7" fill="#d0141a" opacity="0.39" transform="rotate(8 984.9 459.6)"/><ellipse cx="985.5" cy="455.6" rx="2.1" ry="4.3" fill="#d0141a" opacity="0.34" transform="rotate(-42 985.5 455.6)"/><ellipse cx="1004.9" cy="480.4" rx="2.5" ry="4.8" fill="#0a1ec8" opacity="0.46" transform="rotate(23 1004.9 480.4)"/><ellipse cx="989.8" cy="459.1" rx="2.2" ry="4.9" fill="#0a1ec8" opacity="0.38" transform="rotate(38 989.8 459.1)"/><ellipse cx="966.7" cy="478.9" rx="2.4" ry="4.0" fill="#d0141a" opacity="0.28" transform="rotate(-14 966.7 478.9)"/><ellipse cx="1018.1" cy="478.6" rx="2.3" ry="4.8" fill="#0a1ec8" opacity="0.35" transform="rotate(-19 1018.1 478.6)"/><ellipse cx="1016.6" cy="472.8" rx="2.5" ry="3.8" fill="#d0141a" opacity="0.30" transform="rotate(32 1016.6 472.8)"/><ellipse cx="982.5" cy="490.8" rx="2.5" ry="3.8" fill="#d0141a" opacity="0.45" transform="rotate(5 982.5 490.8)"/><ellipse cx="994.1" cy="465.4" rx="2.4" ry="4.5" fill="#0a1ec8" opacity="0.54" transform="rotate(-33 994.1 465.4)"/><ellipse cx="998.3" cy="481.5" rx="2.2" ry="4.6" fill="#0a1ec8" opacity="0.76" transform="rotate(-18 998.3 481.5)"/><ellipse cx="1007.4" cy="470.3" rx="2.9" ry="4.0" fill="#0a1ec8" opacity="0.54" transform="rotate(27 1007.4 470.3)"/><ellipse cx="1017.1" cy="474.2" rx="2.6" ry="3.4" fill="#0a1ec8" opacity="0.27" transform="rotate(-28 1017.1 474.2)"/><ellipse cx="1011.8" cy="471.5" rx="2.8" ry="3.8" fill="#0a1ec8" opacity="0.49" transform="rotate(15 1011.8 471.5)"/><ellipse cx="1010.9" cy="464.6" rx="2.3" ry="3.5" fill="#0a1ec8" opacity="0.47" transform="rotate(-33 1010.9 464.6)"/><ellipse cx="989.0" cy="500.6" rx="3.0" ry="4.8" fill="#0a1ec8" opacity="0.32" transform="rotate(-17 989.0 500.6)"/><ellipse cx="969.6" cy="481.8" rx="2.7" ry="3.6" fill="#0a1ec8" opacity="0.52" transform="rotate(41 969.6 481.8)"/><ellipse cx="987.9" cy="474.6" rx="2.3" ry="5.0" fill="#d0141a" opacity="0.59" transform="rotate(43 987.9 474.6)"/><ellipse cx="982.3" cy="493.7" rx="2.6" ry="3.4" fill="#0a1ec8" opacity="0.55" transform="rotate(25 982.3 493.7)"/><ellipse cx="968.8" cy="487.7" rx="2.4" ry="4.4" fill="#d0141a" opacity="0.49" transform="rotate(28 968.8 487.7)"/><ellipse cx="972.0" cy="476.1" rx="2.2" ry="4.5" fill="#d0141a" opacity="0.52" transform="rotate(14 972.0 476.1)"/><ellipse cx="995.1" cy="471.8" rx="2.1" ry="4.2" fill="#0a1ec8" opacity="0.53" transform="rotate(27 995.1 471.8)"/><ellipse cx="1020.5" cy="468.9" rx="2.6" ry="4.4" fill="#d0141a" opacity="0.34" transform="rotate(39 1020.5 468.9)"/><ellipse cx="1018.4" cy="482.3" rx="2.9" ry="4.6" fill="#d0141a" opacity="0.32" transform="rotate(-16 1018.4 482.3)"/><ellipse cx="1008.4" cy="460.7" rx="2.9" ry="4.0" fill="#d0141a" opacity="0.30" transform="rotate(20 1008.4 460.7)"/><ellipse cx="997.6" cy="481.3" rx="2.2" ry="4.9" fill="#d0141a" opacity="0.50" transform="rotate(32 997.6 481.3)"/><ellipse cx="973.3" cy="483.2" rx="2.9" ry="4.6" fill="#0a1ec8" opacity="0.55" transform="rotate(44 973.3 483.2)"/><ellipse cx="1002.3" cy="475.0" rx="2.9" ry="4.0" fill="#d0141a" opacity="0.40" transform="rotate(40 1002.3 475.0)"/><ellipse cx="975.0" cy="475.3" rx="2.2" ry="4.2" fill="#d0141a" opacity="0.39" transform="rotate(-28 975.0 475.3)"/><ellipse cx="981.1" cy="506.1" rx="2.8" ry="5.0" fill="#d0141a" opacity="0.36" transform="rotate(-11 981.1 506.1)"/><ellipse cx="993.6" cy="479.2" rx="2.5" ry="4.5" fill="#0a1ec8" opacity="0.83" transform="rotate(-45 993.6 479.2)"/><ellipse cx="1006.8" cy="483.0" rx="2.3" ry="4.1" fill="#0a1ec8" opacity="0.62" transform="rotate(-39 1006.8 483.0)"/><ellipse cx="1007.0" cy="469.2" rx="2.7" ry="3.9" fill="#d0141a" opacity="0.33" transform="rotate(5 1007.0 469.2)"/><ellipse cx="992.9" cy="496.7" rx="2.4" ry="4.9" fill="#d0141a" opacity="0.42" transform="rotate(-33 992.9 496.7)"/><ellipse cx="1017.2" cy="470.9" rx="3.0" ry="3.3" fill="#0a1ec8" opacity="0.45" transform="rotate(-3 1017.2 470.9)"/><ellipse cx="1015.1" cy="482.9" rx="2.6" ry="4.5" fill="#d0141a" opacity="0.34" transform="rotate(10 1015.1 482.9)"/><ellipse cx="1011.6" cy="496.7" rx="2.5" ry="4.1" fill="#d0141a" opacity="0.45" transform="rotate(36 1011.6 496.7)"/><ellipse cx="973.6" cy="499.0" rx="2.4" ry="4.0" fill="#d0141a" opacity="0.24" transform="rotate(9 973.6 499.0)"/><ellipse cx="994.9" cy="488.1" rx="2.8" ry="4.1" fill="#d0141a" opacity="0.46" transform="rotate(-37 994.9 488.1)"/><ellipse cx="986.9" cy="456.7" rx="2.6" ry="3.5" fill="#d0141a" opacity="0.43" transform="rotate(30 986.9 456.7)"/><ellipse cx="975.6" cy="471.5" rx="2.4" ry="3.3" fill="#0a1ec8" opacity="0.55" transform="rotate(-31 975.6 471.5)"/><ellipse cx="1000.7" cy="461.1" rx="2.3" ry="4.0" fill="#d0141a" opacity="0.32" transform="rotate(-4 1000.7 461.1)"/><ellipse cx="984.3" cy="494.6" rx="3.0" ry="3.6" fill="#0a1ec8" opacity="0.47" transform="rotate(-6 984.3 494.6)"/></g><g filter="url(#b05)"><path d="M964.8,475.3 A6.7,6.7 0 0 1 964.8,486.3" fill="none" stroke="#0a1ec8" stroke-width="4.1" opacity="0.75" stroke-dasharray="7.4 2.3"/><path d="M968.6,469.8 A13.4,13.4 0 0 1 968.6,491.8" fill="none" stroke="#d0141a" stroke-width="4.1" opacity="0.55" stroke-dasharray="7.4 2.3"/><path d="M972.5,464.3 A20.1,20.1 0 0 1 972.5,497.2" fill="none" stroke="#0a1ec8" stroke-width="4.1" opacity="0.35" stroke-dasharray="7.4 2.3"/><path d="M976.3,458.8 A26.8,26.8 0 0 1 976.3,502.7" fill="none" stroke="#d0141a" stroke-width="4.1" opacity="0.15" stroke-dasharray="7.4 2.3"/></g><g filter="url(#b05)"><ellipse cx="939.4" cy="480.8" rx="2.3" ry="4.6" fill="#0a1ec8"/><ellipse cx="946.1" cy="480.8" rx="2.3" ry="4.6" fill="#d0141a"/><ellipse cx="952.8" cy="480.8" rx="2.3" ry="4.6" fill="#0a1ec8"/><ellipse cx="959.5" cy="480.8" rx="2.3" ry="4.6" fill="#d0141a"/><ellipse cx="1009.8" cy="497.2" rx="2.3" ry="4.6" fill="#0a1ec8"/><ellipse cx="1016.5" cy="497.2" rx="2.3" ry="4.6" fill="#d0141a"/><ellipse cx="1023.2" cy="497.2" rx="2.3" ry="4.6" fill="#0a1ec8"/><ellipse cx="1029.9" cy="497.2" rx="2.3" ry="4.6" fill="#d0141a"/><ellipse cx="1036.6" cy="497.2" rx="2.3" ry="4.6" fill="#0a1ec8"/></g></g>
<rect x="928.5" y="422.8" width="117.1" height="117.1" fill="none" stroke="#262626" stroke-width="3.6" rx="1"/>
<rect x="606.5" y="425.9" width="84.1" height="36.9" fill="#EBEBEB" opacity="0.9"/>
<text x="613.3" y="451.4" font-size="24" font-family='"Liberation Sans", sans-serif' fill="#000" textLength="69.3" lengthAdjust="spacingAndGlyphs" >Step 4</text>
<rect x="777" y="425.9" width="83.8" height="36.9" fill="#EBEBEB" opacity="0.9"/>
<text x="784.7" y="452.2" font-size="24" font-family='"Liberation Sans", sans-serif' fill="#000" textLength="68.5" lengthAdjust="spacingAndGlyphs" >Step 8</text>
<rect x="942.7" y="425" width="91.3" height="37.0" fill="#EBEBEB" opacity="0.9"/>
<text x="946.5" y="450.3" font-size="24" font-family='"Liberation Sans", sans-serif' fill="#000" textLength="83.0" lengthAdjust="spacingAndGlyphs" >Step 64</text>
<polygon points="717.5,474.9 732.0,474.9 732.0,463.4 750.5,481.9 732.0,500.4 732.0,488.9 717.5,488.9" fill="#F8DF86" stroke="#2a2a2a" stroke-width="2.2" stroke-linejoin="miter"/>
<polygon points="886.5,474.4 901.0,474.4 901.0,462.9 919.5,481.4 901.0,499.9 901.0,488.4 886.5,488.4" fill="#F8DF86" stroke="#2a2a2a" stroke-width="2.2" stroke-linejoin="miter"/>
<rect x="1076.9" y="421.3" width="120.7" height="120.4" rx="2" fill="#2c2a2a"/>
<g clip-path="url(#dk0)"><rect x="1078.9" y="134.5" width="113.0" height="112.9" fill="#1c2130" filter="url(#b2)"/><g filter="url(#b05)"><circle cx="1138.3" cy="208.7" r="1.8" fill="#1030e8" opacity="0.40"/><circle cx="1144.5" cy="217.4" r="0.9" fill="#1030e8" opacity="0.26"/><circle cx="1155.4" cy="204.2" r="1.9" fill="#1030e8" opacity="0.15"/><circle cx="1130.1" cy="184.7" r="1.5" fill="#1030e8" opacity="0.29"/><circle cx="1120.0" cy="217.1" r="1.7" fill="#1030e8" opacity="0.17"/><circle cx="1147.6" cy="179.5" r="1.6" fill="#1030e8" opacity="0.16"/><circle cx="1116.3" cy="183.2" r="2.0" fill="#1030e8" opacity="0.38"/><circle cx="1133.9" cy="205.6" r="1.1" fill="#1030e8" opacity="0.40"/><circle cx="1152.7" cy="187.3" r="1.3" fill="#1030e8" opacity="0.17"/><circle cx="1121.2" cy="202.0" r="0.9" fill="#1030e8" opacity="0.32"/><circle cx="1123.1" cy="187.8" r="1.8" fill="#1030e8" opacity="0.26"/><circle cx="1122.0" cy="196.1" r="1.7" fill="#1030e8" opacity="0.14"/><circle cx="1145.1" cy="213.7" r="0.9" fill="#1030e8" opacity="0.36"/><circle cx="1124.6" cy="200.8" r="0.9" fill="#1030e8" opacity="0.13"/><circle cx="1115.6" cy="209.4" r="1.9" fill="#1030e8" opacity="0.40"/><circle cx="1123.5" cy="190.0" r="1.5" fill="#1030e8" opacity="0.35"/><circle cx="1110.9" cy="209.0" r="1.8" fill="#1030e8" opacity="0.38"/><circle cx="1110.0" cy="189.3" r="1.6" fill="#1030e8" opacity="0.40"/><circle cx="1123.2" cy="217.5" r="1.5" fill="#1030e8" opacity="0.21"/><circle cx="1122.0" cy="181.4" r="1.0" fill="#1030e8" opacity="0.16"/><circle cx="1157.7" cy="198.6" r="1.3" fill="#1030e8" opacity="0.19"/><circle cx="1136.8" cy="212.8" r="1.4" fill="#1030e8" opacity="0.25"/><circle cx="1106.9" cy="196.7" r="1.8" fill="#1030e8" opacity="0.16"/><circle cx="1138.7" cy="210.9" r="1.0" fill="#1030e8" opacity="0.25"/><circle cx="1113.1" cy="213.7" r="1.2" fill="#1030e8" opacity="0.26"/><circle cx="1157.1" cy="194.7" r="1.4" fill="#1030e8" opacity="0.34"/><circle cx="1130.7" cy="186.9" r="1.3" fill="#1030e8" opacity="0.16"/><circle cx="1156.3" cy="203.1" r="1.4" fill="#1030e8" opacity="0.22"/><circle cx="1109.9" cy="186.0" r="1.8" fill="#1030e8" opacity="0.38"/><circle cx="1124.4" cy="210.8" r="1.8" fill="#1030e8" opacity="0.33"/><circle cx="1140.5" cy="209.6" r="1.3" fill="#1030e8" opacity="0.33"/><circle cx="1120.1" cy="196.3" r="1.7" fill="#1030e8" opacity="0.33"/><circle cx="1120.8" cy="218.5" r="1.6" fill="#1030e8" opacity="0.29"/><circle cx="1105.8" cy="199.3" r="1.2" fill="#1030e8" opacity="0.32"/><circle cx="1129.8" cy="212.3" r="1.6" fill="#1030e8" opacity="0.36"/><circle cx="1123.7" cy="204.0" r="1.7" fill="#1030e8" opacity="0.37"/><circle cx="1123.8" cy="213.6" r="1.9" fill="#1030e8" opacity="0.33"/><circle cx="1132.7" cy="198.4" r="1.1" fill="#1030e8" opacity="0.37"/><circle cx="1155.1" cy="195.9" r="1.7" fill="#1030e8" opacity="0.34"/><circle cx="1144.0" cy="181.1" r="1.8" fill="#1030e8" opacity="0.29"/><circle cx="1140.6" cy="193.2" r="1.6" fill="#1030e8" opacity="0.35"/><circle cx="1139.1" cy="207.7" r="0.9" fill="#1030e8" opacity="0.17"/><circle cx="1128.6" cy="204.3" r="1.1" fill="#1030e8" opacity="0.33"/><circle cx="1138.7" cy="174.8" r="1.4" fill="#1030e8" opacity="0.19"/><circle cx="1122.0" cy="181.6" r="1.1" fill="#1030e8" opacity="0.13"/><circle cx="1129.9" cy="191.2" r="1.6" fill="#1030e8" opacity="0.30"/><circle cx="1117.8" cy="216.5" r="0.9" fill="#1030e8" opacity="0.24"/><circle cx="1120.0" cy="192.6" r="1.0" fill="#1030e8" opacity="0.37"/><circle cx="1125.1" cy="174.6" r="1.6" fill="#1030e8" opacity="0.15"/><circle cx="1134.2" cy="189.2" r="1.5" fill="#1030e8" opacity="0.41"/><circle cx="1148.7" cy="193.1" r="1.8" fill="#1030e8" opacity="0.31"/><circle cx="1124.8" cy="179.7" r="1.6" fill="#1030e8" opacity="0.29"/><circle cx="1137.6" cy="189.8" r="1.9" fill="#1030e8" opacity="0.12"/><circle cx="1110.9" cy="200.2" r="1.6" fill="#1030e8" opacity="0.16"/><circle cx="1138.7" cy="215.9" r="1.3" fill="#1030e8" opacity="0.25"/><circle cx="1117.2" cy="186.9" r="2.0" fill="#1030e8" opacity="0.23"/><circle cx="1136.9" cy="185.4" r="2.0" fill="#1030e8" opacity="0.27"/><circle cx="1127.3" cy="188.2" r="2.0" fill="#1030e8" opacity="0.27"/><circle cx="1120.4" cy="195.9" r="1.0" fill="#1030e8" opacity="0.31"/><circle cx="1128.8" cy="187.0" r="1.8" fill="#1030e8" opacity="0.37"/><circle cx="1105.9" cy="198.6" r="1.2" fill="#1030e8" opacity="0.40"/><circle cx="1146.8" cy="184.7" r="1.2" fill="#1030e8" opacity="0.17"/><circle cx="1137.5" cy="195.8" r="1.6" fill="#1030e8" opacity="0.30"/><circle cx="1144.7" cy="178.5" r="1.7" fill="#1030e8" opacity="0.21"/><circle cx="1133.6" cy="189.1" r="1.2" fill="#1030e8" opacity="0.28"/><circle cx="1129.9" cy="190.3" r="1.7" fill="#1030e8" opacity="0.30"/><circle cx="1129.4" cy="217.1" r="1.9" fill="#1030e8" opacity="0.28"/><circle cx="1127.9" cy="200.7" r="1.7" fill="#1030e8" opacity="0.31"/><circle cx="1130.8" cy="216.9" r="1.3" fill="#1030e8" opacity="0.24"/><circle cx="1150.5" cy="182.3" r="1.2" fill="#1030e8" opacity="0.37"/><circle cx="1142.1" cy="193.7" r="1.2" fill="#1030e8" opacity="0.35"/><circle cx="1130.6" cy="199.4" r="1.4" fill="#1030e8" opacity="0.22"/><circle cx="1113.3" cy="201.1" r="1.8" fill="#1030e8" opacity="0.14"/><circle cx="1117.4" cy="212.5" r="1.8" fill="#1030e8" opacity="0.32"/><circle cx="1142.5" cy="175.2" r="1.8" fill="#1030e8" opacity="0.19"/><circle cx="1139.5" cy="218.9" r="1.7" fill="#1030e8" opacity="0.16"/><circle cx="1120.7" cy="217.2" r="1.1" fill="#1030e8" opacity="0.30"/><circle cx="1127.2" cy="180.6" r="1.6" fill="#1030e8" opacity="0.13"/><circle cx="1110.9" cy="191.2" r="1.0" fill="#1030e8" opacity="0.14"/><circle cx="1135.8" cy="208.7" r="1.9" fill="#1030e8" opacity="0.16"/><circle cx="1128.1" cy="188.0" r="1.6" fill="#1030e8" opacity="0.27"/><circle cx="1155.1" cy="190.9" r="1.0" fill="#1030e8" opacity="0.33"/><circle cx="1113.2" cy="203.3" r="1.5" fill="#1030e8" opacity="0.39"/><circle cx="1134.7" cy="202.8" r="1.2" fill="#1030e8" opacity="0.29"/><circle cx="1118.7" cy="209.1" r="1.5" fill="#1030e8" opacity="0.16"/><circle cx="1117.6" cy="190.8" r="1.7" fill="#1030e8" opacity="0.17"/><circle cx="1143.1" cy="204.5" r="1.0" fill="#1030e8" opacity="0.32"/><circle cx="1136.8" cy="184.4" r="1.9" fill="#1030e8" opacity="0.26"/><circle cx="1122.4" cy="211.3" r="0.9" fill="#1030e8" opacity="0.34"/><circle cx="1155.8" cy="205.8" r="1.1" fill="#1030e8" opacity="0.15"/><circle cx="1148.8" cy="179.6" r="1.6" fill="#1030e8" opacity="0.23"/><circle cx="1117.7" cy="188.9" r="1.6" fill="#1030e8" opacity="0.22"/><circle cx="1125.7" cy="179.4" r="1.8" fill="#1030e8" opacity="0.31"/><circle cx="1148.0" cy="193.8" r="1.8" fill="#1030e8" opacity="0.28"/><circle cx="1136.7" cy="200.5" r="1.7" fill="#1030e8" opacity="0.24"/><circle cx="1152.5" cy="196.1" r="1.7" fill="#1030e8" opacity="0.12"/><circle cx="1130.2" cy="215.8" r="1.6" fill="#1030e8" opacity="0.25"/><circle cx="1129.9" cy="177.6" r="1.1" fill="#1030e8" opacity="0.17"/><circle cx="1125.1" cy="191.5" r="1.9" fill="#1030e8" opacity="0.17"/><circle cx="1118.7" cy="186.2" r="1.1" fill="#1030e8" opacity="0.21"/><circle cx="1117.7" cy="196.1" r="0.9" fill="#1030e8" opacity="0.40"/><circle cx="1124.8" cy="218.2" r="1.7" fill="#1030e8" opacity="0.32"/><circle cx="1130.3" cy="218.5" r="1.0" fill="#1030e8" opacity="0.32"/><circle cx="1120.6" cy="205.4" r="1.7" fill="#1030e8" opacity="0.17"/><circle cx="1126.5" cy="219.9" r="1.3" fill="#1030e8" opacity="0.21"/><circle cx="1130.1" cy="186.5" r="1.7" fill="#1030e8" opacity="0.34"/><circle cx="1113.8" cy="184.4" r="1.6" fill="#1030e8" opacity="0.40"/><circle cx="1139.5" cy="193.6" r="2.0" fill="#1030e8" opacity="0.12"/><circle cx="1127.0" cy="175.0" r="1.5" fill="#1030e8" opacity="0.42"/><circle cx="1132.8" cy="189.7" r="1.0" fill="#1030e8" opacity="0.14"/><circle cx="1153.0" cy="196.6" r="1.9" fill="#1030e8" opacity="0.14"/><circle cx="1126.3" cy="175.7" r="1.2" fill="#1030e8" opacity="0.24"/><circle cx="1121.4" cy="175.3" r="0.9" fill="#1030e8" opacity="0.41"/><circle cx="1114.7" cy="197.4" r="1.3" fill="#1030e8" opacity="0.28"/><circle cx="1109.6" cy="188.0" r="1.0" fill="#1030e8" opacity="0.28"/><circle cx="1154.2" cy="201.7" r="1.8" fill="#1030e8" opacity="0.18"/><circle cx="1106.1" cy="198.9" r="1.4" fill="#1030e8" opacity="0.29"/><circle cx="1125.2" cy="203.0" r="1.7" fill="#1030e8" opacity="0.39"/><circle cx="1121.5" cy="194.5" r="1.8" fill="#1030e8" opacity="0.19"/><circle cx="1111.3" cy="187.9" r="1.0" fill="#1030e8" opacity="0.35"/><circle cx="1148.8" cy="187.9" r="1.0" fill="#1030e8" opacity="0.14"/><circle cx="1118.2" cy="176.9" r="1.4" fill="#1030e8" opacity="0.29"/><circle cx="1142.5" cy="175.1" r="1.1" fill="#1030e8" opacity="0.21"/><circle cx="1125.0" cy="177.6" r="1.4" fill="#1030e8" opacity="0.21"/><circle cx="1145.2" cy="199.7" r="1.9" fill="#1030e8" opacity="0.32"/><circle cx="1145.6" cy="200.6" r="1.4" fill="#1030e8" opacity="0.37"/><circle cx="1140.0" cy="219.0" r="1.7" fill="#1030e8" opacity="0.33"/><circle cx="1119.4" cy="212.1" r="1.3" fill="#1030e8" opacity="0.16"/><circle cx="1119.1" cy="205.5" r="1.2" fill="#1030e8" opacity="0.14"/><circle cx="1145.8" cy="199.8" r="0.9" fill="#1030e8" opacity="0.14"/><circle cx="1112.1" cy="190.1" r="1.8" fill="#1030e8" opacity="0.40"/><circle cx="1137.7" cy="184.0" r="1.4" fill="#1030e8" opacity="0.23"/><circle cx="1136.3" cy="212.8" r="1.7" fill="#1030e8" opacity="0.15"/><circle cx="1133.4" cy="181.1" r="1.7" fill="#1030e8" opacity="0.25"/><circle cx="1111.4" cy="188.1" r="1.9" fill="#1030e8" opacity="0.26"/><circle cx="1128.3" cy="194.2" r="1.7" fill="#1030e8" opacity="0.40"/><circle cx="1133.5" cy="219.7" r="1.6" fill="#1030e8" opacity="0.15"/><circle cx="1148.5" cy="193.1" r="1.0" fill="#1030e8" opacity="0.41"/><circle cx="1106.9" cy="200.7" r="1.4" fill="#1030e8" opacity="0.38"/><circle cx="1126.1" cy="183.2" r="1.2" fill="#1030e8" opacity="0.18"/></g><path d="M1084.3,192.2 L1109.9,192.2 L1114.8,187.3 L1116.6,185.5 L1125.4,184.3 L1136.5,183.7 L1147.6,180.1 L1158.8,176.8 L1164.3,175.7 L1185.5,175.7" fill="none" stroke="#1030e8" stroke-width="3.3" stroke-linejoin="round" filter="url(#b05)"/></g>
<g clip-path="url(#dk1)"><rect x="1080.4" y="279.7" width="113.19999999999982" height="112.69999999999999" fill="#1f2a1f" filter="url(#b2)"/><g filter="url(#b05)"><circle cx="1148.8" cy="360.2" r="0.9" fill="#50e040" opacity="0.31"/><circle cx="1119.9" cy="353.2" r="1.4" fill="#50e040" opacity="0.29"/><circle cx="1135.6" cy="345.8" r="1.8" fill="#50e040" opacity="0.41"/><circle cx="1125.1" cy="356.9" r="1.9" fill="#50e040" opacity="0.24"/><circle cx="1113.3" cy="342.0" r="1.7" fill="#50e040" opacity="0.28"/><circle cx="1116.5" cy="352.0" r="1.3" fill="#50e040" opacity="0.39"/><circle cx="1115.7" cy="346.6" r="1.3" fill="#50e040" opacity="0.42"/><circle cx="1129.0" cy="335.9" r="1.1" fill="#50e040" opacity="0.27"/><circle cx="1156.8" cy="347.5" r="1.2" fill="#50e040" opacity="0.27"/><circle cx="1141.3" cy="332.2" r="2.0" fill="#50e040" opacity="0.15"/><circle cx="1119.2" cy="327.8" r="1.1" fill="#50e040" opacity="0.14"/><circle cx="1119.5" cy="336.0" r="1.9" fill="#50e040" opacity="0.28"/><circle cx="1140.0" cy="334.8" r="1.1" fill="#50e040" opacity="0.29"/><circle cx="1145.5" cy="322.1" r="1.6" fill="#50e040" opacity="0.18"/><circle cx="1143.5" cy="335.1" r="1.1" fill="#50e040" opacity="0.16"/><circle cx="1148.9" cy="344.0" r="1.0" fill="#50e040" opacity="0.39"/><circle cx="1121.5" cy="331.5" r="0.9" fill="#50e040" opacity="0.21"/><circle cx="1136.6" cy="361.3" r="1.2" fill="#50e040" opacity="0.27"/><circle cx="1111.0" cy="351.1" r="1.2" fill="#50e040" opacity="0.23"/><circle cx="1121.1" cy="357.5" r="2.0" fill="#50e040" opacity="0.16"/><circle cx="1130.8" cy="323.1" r="1.7" fill="#50e040" opacity="0.39"/><circle cx="1113.4" cy="350.9" r="1.2" fill="#50e040" opacity="0.26"/><circle cx="1137.2" cy="336.5" r="1.6" fill="#50e040" opacity="0.22"/><circle cx="1133.2" cy="335.2" r="1.4" fill="#50e040" opacity="0.16"/><circle cx="1125.8" cy="323.3" r="1.6" fill="#50e040" opacity="0.25"/><circle cx="1129.0" cy="361.3" r="1.1" fill="#50e040" opacity="0.28"/><circle cx="1139.2" cy="348.4" r="1.7" fill="#50e040" opacity="0.23"/><circle cx="1156.0" cy="350.2" r="1.0" fill="#50e040" opacity="0.30"/><circle cx="1134.3" cy="363.1" r="1.7" fill="#50e040" opacity="0.32"/><circle cx="1142.9" cy="352.2" r="1.4" fill="#50e040" opacity="0.27"/><circle cx="1135.0" cy="318.9" r="1.5" fill="#50e040" opacity="0.25"/><circle cx="1129.5" cy="345.2" r="1.6" fill="#50e040" opacity="0.24"/><circle cx="1137.3" cy="329.3" r="2.0" fill="#50e040" opacity="0.32"/><circle cx="1144.0" cy="353.6" r="0.9" fill="#50e040" opacity="0.17"/><circle cx="1126.9" cy="339.2" r="1.3" fill="#50e040" opacity="0.28"/><circle cx="1140.2" cy="354.0" r="1.7" fill="#50e040" opacity="0.24"/><circle cx="1152.0" cy="357.1" r="2.0" fill="#50e040" opacity="0.12"/><circle cx="1137.5" cy="326.3" r="1.8" fill="#50e040" opacity="0.40"/><circle cx="1142.3" cy="333.5" r="1.9" fill="#50e040" opacity="0.27"/><circle cx="1143.8" cy="327.1" r="1.0" fill="#50e040" opacity="0.37"/><circle cx="1152.5" cy="336.2" r="1.0" fill="#50e040" opacity="0.21"/><circle cx="1155.3" cy="328.6" r="1.7" fill="#50e040" opacity="0.21"/><circle cx="1157.0" cy="334.4" r="1.9" fill="#50e040" opacity="0.27"/><circle cx="1129.4" cy="325.3" r="1.0" fill="#50e040" opacity="0.29"/><circle cx="1145.4" cy="353.3" r="1.3" fill="#50e040" opacity="0.17"/><circle cx="1131.1" cy="352.7" r="1.1" fill="#50e040" opacity="0.39"/><circle cx="1114.5" cy="344.6" r="1.1" fill="#50e040" opacity="0.39"/><circle cx="1138.2" cy="338.0" r="1.8" fill="#50e040" opacity="0.35"/><circle cx="1146.3" cy="322.7" r="1.3" fill="#50e040" opacity="0.22"/><circle cx="1152.6" cy="330.4" r="1.0" fill="#50e040" opacity="0.25"/><circle cx="1123.0" cy="349.7" r="1.3" fill="#50e040" opacity="0.16"/><circle cx="1142.3" cy="363.0" r="1.7" fill="#50e040" opacity="0.29"/><circle cx="1142.2" cy="363.6" r="1.4" fill="#50e040" opacity="0.41"/><circle cx="1112.5" cy="331.5" r="1.2" fill="#50e040" opacity="0.33"/><circle cx="1126.2" cy="349.6" r="1.0" fill="#50e040" opacity="0.32"/><circle cx="1145.1" cy="326.9" r="1.1" fill="#50e040" opacity="0.24"/><circle cx="1131.7" cy="340.8" r="1.9" fill="#50e040" opacity="0.16"/><circle cx="1140.3" cy="342.7" r="1.6" fill="#50e040" opacity="0.21"/><circle cx="1147.2" cy="357.6" r="0.9" fill="#50e040" opacity="0.22"/><circle cx="1146.7" cy="337.5" r="2.0" fill="#50e040" opacity="0.35"/><circle cx="1142.0" cy="323.3" r="1.2" fill="#50e040" opacity="0.36"/><circle cx="1132.1" cy="329.0" r="0.9" fill="#50e040" opacity="0.34"/><circle cx="1121.0" cy="323.0" r="1.5" fill="#50e040" opacity="0.33"/><circle cx="1137.5" cy="318.3" r="1.9" fill="#50e040" opacity="0.24"/><circle cx="1139.1" cy="331.2" r="1.3" fill="#50e040" opacity="0.15"/><circle cx="1148.3" cy="325.5" r="1.5" fill="#50e040" opacity="0.34"/><circle cx="1144.6" cy="333.3" r="0.9" fill="#50e040" opacity="0.29"/><circle cx="1128.4" cy="339.8" r="1.1" fill="#50e040" opacity="0.16"/><circle cx="1113.3" cy="341.9" r="0.9" fill="#50e040" opacity="0.39"/><circle cx="1142.3" cy="363.1" r="1.7" fill="#50e040" opacity="0.37"/><circle cx="1153.3" cy="354.8" r="1.7" fill="#50e040" opacity="0.25"/><circle cx="1151.5" cy="359.6" r="1.6" fill="#50e040" opacity="0.40"/><circle cx="1149.6" cy="327.9" r="2.0" fill="#50e040" opacity="0.19"/><circle cx="1116.7" cy="351.0" r="2.0" fill="#50e040" opacity="0.34"/><circle cx="1115.7" cy="334.3" r="1.3" fill="#50e040" opacity="0.35"/><circle cx="1113.2" cy="354.4" r="1.2" fill="#50e040" opacity="0.13"/><circle cx="1148.6" cy="358.4" r="1.5" fill="#50e040" opacity="0.39"/><circle cx="1139.6" cy="340.5" r="1.7" fill="#50e040" opacity="0.35"/><circle cx="1141.3" cy="335.0" r="1.5" fill="#50e040" opacity="0.17"/><circle cx="1128.5" cy="350.8" r="1.7" fill="#50e040" opacity="0.28"/><circle cx="1132.5" cy="359.5" r="1.5" fill="#50e040" opacity="0.28"/><circle cx="1113.5" cy="355.8" r="1.8" fill="#50e040" opacity="0.42"/><circle cx="1127.3" cy="328.7" r="1.6" fill="#50e040" opacity="0.17"/><circle cx="1135.8" cy="363.8" r="1.7" fill="#50e040" opacity="0.23"/><circle cx="1150.2" cy="337.5" r="1.7" fill="#50e040" opacity="0.19"/><circle cx="1154.5" cy="339.5" r="0.9" fill="#50e040" opacity="0.20"/><circle cx="1129.3" cy="328.8" r="1.6" fill="#50e040" opacity="0.19"/><circle cx="1133.4" cy="355.1" r="1.5" fill="#50e040" opacity="0.19"/><circle cx="1144.2" cy="347.3" r="1.6" fill="#50e040" opacity="0.25"/><circle cx="1129.3" cy="359.0" r="1.3" fill="#50e040" opacity="0.24"/><circle cx="1113.4" cy="356.9" r="1.4" fill="#50e040" opacity="0.33"/><circle cx="1134.3" cy="333.8" r="1.2" fill="#50e040" opacity="0.27"/><circle cx="1115.9" cy="357.3" r="1.4" fill="#50e040" opacity="0.24"/><circle cx="1137.7" cy="339.0" r="1.0" fill="#50e040" opacity="0.29"/><circle cx="1129.8" cy="353.2" r="1.2" fill="#50e040" opacity="0.16"/><circle cx="1143.2" cy="349.3" r="1.9" fill="#50e040" opacity="0.14"/><circle cx="1118.8" cy="323.2" r="1.8" fill="#50e040" opacity="0.39"/><circle cx="1137.6" cy="335.5" r="1.9" fill="#50e040" opacity="0.37"/><circle cx="1148.9" cy="332.2" r="2.0" fill="#50e040" opacity="0.26"/><circle cx="1108.8" cy="338.5" r="1.9" fill="#50e040" opacity="0.33"/><circle cx="1142.6" cy="364.4" r="1.2" fill="#50e040" opacity="0.33"/><circle cx="1125.6" cy="319.5" r="1.1" fill="#50e040" opacity="0.32"/><circle cx="1116.6" cy="353.8" r="1.3" fill="#50e040" opacity="0.16"/><circle cx="1141.4" cy="349.3" r="1.3" fill="#50e040" opacity="0.42"/><circle cx="1143.9" cy="332.3" r="1.4" fill="#50e040" opacity="0.31"/><circle cx="1137.9" cy="335.4" r="1.9" fill="#50e040" opacity="0.20"/><circle cx="1148.6" cy="350.1" r="1.4" fill="#50e040" opacity="0.22"/><circle cx="1150.4" cy="355.5" r="1.5" fill="#50e040" opacity="0.36"/><circle cx="1147.6" cy="353.3" r="1.2" fill="#50e040" opacity="0.15"/><circle cx="1145.9" cy="359.2" r="1.7" fill="#50e040" opacity="0.22"/><circle cx="1111.9" cy="328.2" r="1.6" fill="#50e040" opacity="0.13"/><circle cx="1146.3" cy="344.1" r="1.1" fill="#50e040" opacity="0.15"/><circle cx="1140.0" cy="321.9" r="1.6" fill="#50e040" opacity="0.24"/><circle cx="1127.4" cy="364.6" r="1.6" fill="#50e040" opacity="0.37"/><circle cx="1154.8" cy="332.4" r="1.7" fill="#50e040" opacity="0.28"/><circle cx="1133.9" cy="352.7" r="1.6" fill="#50e040" opacity="0.34"/><circle cx="1144.8" cy="324.2" r="1.9" fill="#50e040" opacity="0.26"/><circle cx="1122.7" cy="346.2" r="1.5" fill="#50e040" opacity="0.20"/><circle cx="1123.0" cy="348.1" r="1.8" fill="#50e040" opacity="0.29"/><circle cx="1146.3" cy="334.7" r="1.8" fill="#50e040" opacity="0.42"/><circle cx="1139.0" cy="337.1" r="1.7" fill="#50e040" opacity="0.30"/><circle cx="1113.1" cy="341.1" r="1.9" fill="#50e040" opacity="0.14"/><circle cx="1131.9" cy="332.0" r="2.0" fill="#50e040" opacity="0.22"/><circle cx="1117.7" cy="347.6" r="1.9" fill="#50e040" opacity="0.23"/><circle cx="1139.8" cy="357.1" r="1.2" fill="#50e040" opacity="0.19"/><circle cx="1155.0" cy="354.4" r="1.7" fill="#50e040" opacity="0.22"/><circle cx="1123.2" cy="339.6" r="1.2" fill="#50e040" opacity="0.21"/><circle cx="1155.5" cy="347.1" r="2.0" fill="#50e040" opacity="0.35"/><circle cx="1139.1" cy="338.0" r="1.4" fill="#50e040" opacity="0.40"/><circle cx="1127.3" cy="332.6" r="1.3" fill="#50e040" opacity="0.42"/><circle cx="1136.9" cy="318.3" r="1.6" fill="#50e040" opacity="0.14"/><circle cx="1113.8" cy="350.8" r="1.5" fill="#50e040" opacity="0.38"/><circle cx="1135.2" cy="362.8" r="1.6" fill="#50e040" opacity="0.14"/><circle cx="1135.9" cy="364.4" r="1.5" fill="#50e040" opacity="0.17"/><circle cx="1144.9" cy="356.5" r="1.4" fill="#50e040" opacity="0.26"/><circle cx="1155.3" cy="329.4" r="2.0" fill="#50e040" opacity="0.28"/><circle cx="1110.1" cy="351.9" r="1.4" fill="#50e040" opacity="0.25"/><circle cx="1121.2" cy="340.8" r="1.8" fill="#50e040" opacity="0.34"/><circle cx="1159.8" cy="344.5" r="1.0" fill="#50e040" opacity="0.29"/><circle cx="1126.0" cy="321.8" r="1.9" fill="#50e040" opacity="0.20"/></g><path d="M1085.7,336.4 L1111.5,336.4 C1114.0,336.4 1115.2,328.8 1117.6,324.0 C1121.2,316.7 1127.3,313.1 1137.0,313.1 C1149.1,313.1 1157.6,314.3 1161.2,321.6 C1163.7,326.4 1162.5,336.0 1164.9,336.4 L1186.7,336.4" fill="none" stroke="#50e040" stroke-width="3.2" filter="url(#b05)"/><path d="M1120.0,332.4 C1124.9,325.2 1133.4,321.6 1143.1,322.2 C1151.5,322.8 1157.6,327.6 1161.2,336.0" fill="none" stroke="#50e040" stroke-width="2.6" opacity="0.85" filter="url(#b05)"/></g>
<g clip-path="url(#dk2)"><rect x="1080.9" y="425.3" width="112.69999999999982" height="112.40000000000003" fill="#2a1818" filter="url(#b2)"/><g filter="url(#b1)"><ellipse cx="1130.3" cy="454.9" rx="2.2" ry="1.8" fill="#e02a22" opacity="0.67" transform="rotate(15 1130.3 454.9)"/><ellipse cx="1137.3" cy="453.1" rx="1.8" ry="1.3" fill="#e02a22" opacity="0.51" transform="rotate(-7 1137.3 453.1)"/><ellipse cx="1142.0" cy="452.8" rx="2.1" ry="1.4" fill="#e02a22" opacity="0.85" transform="rotate(-58 1142.0 452.8)"/><ellipse cx="1119.5" cy="460.4" rx="2.0" ry="1.3" fill="#e02a22" opacity="0.65" transform="rotate(-59 1119.5 460.4)"/><ellipse cx="1126.3" cy="460.5" rx="2.6" ry="1.6" fill="#e02a22" opacity="0.89" transform="rotate(-13 1126.3 460.5)"/><ellipse cx="1130.6" cy="459.5" rx="2.2" ry="1.7" fill="#e02a22" opacity="0.50" transform="rotate(43 1130.6 459.5)"/><ellipse cx="1138.0" cy="458.7" rx="2.4" ry="1.7" fill="#e02a22" opacity="0.74" transform="rotate(28 1138.0 458.7)"/><ellipse cx="1144.9" cy="459.6" rx="1.8" ry="1.7" fill="#e02a22" opacity="0.73" transform="rotate(-44 1144.9 459.6)"/><ellipse cx="1150.9" cy="459.9" rx="2.5" ry="1.8" fill="#e02a22" opacity="0.67" transform="rotate(6 1150.9 459.9)"/><ellipse cx="1117.6" cy="467.0" rx="2.2" ry="1.8" fill="#e02a22" opacity="0.85" transform="rotate(41 1117.6 467.0)"/><ellipse cx="1124.4" cy="465.7" rx="2.3" ry="1.4" fill="#e02a22" opacity="0.69" transform="rotate(-24 1124.4 465.7)"/><ellipse cx="1132.1" cy="466.4" rx="2.5" ry="1.7" fill="#e02a22" opacity="0.82" transform="rotate(-17 1132.1 466.4)"/><ellipse cx="1138.9" cy="466.5" rx="1.9" ry="1.6" fill="#e02a22" opacity="0.68" transform="rotate(-43 1138.9 466.5)"/><ellipse cx="1144.7" cy="466.5" rx="2.5" ry="1.5" fill="#e02a22" opacity="0.86" transform="rotate(12 1144.7 466.5)"/><ellipse cx="1150.7" cy="466.2" rx="2.3" ry="1.7" fill="#e02a22" opacity="0.75" transform="rotate(31 1150.7 466.2)"/><ellipse cx="1157.4" cy="466.3" rx="2.0" ry="1.3" fill="#e02a22" opacity="0.80" transform="rotate(38 1157.4 466.3)"/><ellipse cx="1112.6" cy="473.0" rx="2.5" ry="1.6" fill="#e02a22" opacity="0.83" transform="rotate(40 1112.6 473.0)"/><ellipse cx="1118.5" cy="472.2" rx="2.4" ry="1.6" fill="#e02a22" opacity="0.64" transform="rotate(55 1118.5 472.2)"/><ellipse cx="1125.5" cy="472.7" rx="2.0" ry="1.3" fill="#e02a22" opacity="0.54" transform="rotate(48 1125.5 472.7)"/><ellipse cx="1131.7" cy="471.4" rx="2.5" ry="1.4" fill="#e02a22" opacity="0.88" transform="rotate(40 1131.7 471.4)"/><ellipse cx="1139.4" cy="472.3" rx="2.6" ry="1.6" fill="#e02a22" opacity="0.87" transform="rotate(-23 1139.4 472.3)"/><ellipse cx="1146.3" cy="471.2" rx="1.8" ry="1.6" fill="#e02a22" opacity="0.63" transform="rotate(-58 1146.3 471.2)"/><ellipse cx="1152.9" cy="472.4" rx="1.9" ry="1.4" fill="#e02a22" opacity="0.86" transform="rotate(10 1152.9 472.4)"/><ellipse cx="1158.4" cy="472.5" rx="2.0" ry="1.4" fill="#e02a22" opacity="0.89" transform="rotate(57 1158.4 472.5)"/><ellipse cx="1108.6" cy="478.3" rx="2.2" ry="1.3" fill="#e02a22" opacity="0.63" transform="rotate(52 1108.6 478.3)"/><ellipse cx="1115.7" cy="478.2" rx="2.3" ry="1.4" fill="#e02a22" opacity="0.68" transform="rotate(17 1115.7 478.2)"/><ellipse cx="1122.0" cy="478.2" rx="1.8" ry="1.2" fill="#e02a22" opacity="0.56" transform="rotate(-19 1122.0 478.2)"/><ellipse cx="1129.4" cy="478.0" rx="1.9" ry="1.7" fill="#e02a22" opacity="0.71" transform="rotate(46 1129.4 478.0)"/><ellipse cx="1136.3" cy="477.2" rx="2.8" ry="1.5" fill="#e02a22" opacity="0.64" transform="rotate(11 1136.3 477.2)"/><ellipse cx="1143.0" cy="478.4" rx="1.9" ry="1.7" fill="#e02a22" opacity="0.72" transform="rotate(-2 1143.0 478.4)"/><ellipse cx="1148.4" cy="477.2" rx="2.6" ry="1.5" fill="#e02a22" opacity="0.73" transform="rotate(14 1148.4 477.2)"/><ellipse cx="1155.9" cy="476.7" rx="1.8" ry="1.7" fill="#e02a22" opacity="0.73" transform="rotate(42 1155.9 476.7)"/><ellipse cx="1163.4" cy="478.2" rx="2.1" ry="1.6" fill="#e02a22" opacity="0.71" transform="rotate(6 1163.4 478.2)"/><ellipse cx="1111.5" cy="484.9" rx="2.7" ry="1.8" fill="#e02a22" opacity="0.53" transform="rotate(5 1111.5 484.9)"/><ellipse cx="1117.3" cy="483.2" rx="2.4" ry="1.2" fill="#e02a22" opacity="0.52" transform="rotate(26 1117.3 483.2)"/><ellipse cx="1125.1" cy="484.1" rx="2.6" ry="1.8" fill="#e02a22" opacity="0.56" transform="rotate(-29 1125.1 484.1)"/><ellipse cx="1131.0" cy="483.4" rx="2.6" ry="1.5" fill="#e02a22" opacity="0.61" transform="rotate(52 1131.0 483.4)"/><ellipse cx="1137.1" cy="484.2" rx="2.5" ry="1.7" fill="#e02a22" opacity="0.55" transform="rotate(-20 1137.1 484.2)"/><ellipse cx="1145.3" cy="483.9" rx="2.1" ry="1.5" fill="#e02a22" opacity="0.73" transform="rotate(7 1145.3 483.9)"/><ellipse cx="1150.1" cy="483.9" rx="1.9" ry="1.6" fill="#e02a22" opacity="0.81" transform="rotate(-43 1150.1 483.9)"/><ellipse cx="1156.8" cy="484.6" rx="2.5" ry="1.3" fill="#e02a22" opacity="0.76" transform="rotate(-13 1156.8 484.6)"/><ellipse cx="1116.8" cy="489.1" rx="2.2" ry="1.3" fill="#e02a22" opacity="0.78" transform="rotate(-12 1116.8 489.1)"/><ellipse cx="1124.0" cy="488.7" rx="2.3" ry="1.6" fill="#e02a22" opacity="0.53" transform="rotate(17 1124.0 488.7)"/><ellipse cx="1128.4" cy="490.1" rx="1.9" ry="1.3" fill="#e02a22" opacity="0.77" transform="rotate(50 1128.4 490.1)"/><ellipse cx="1136.5" cy="489.0" rx="2.5" ry="1.2" fill="#e02a22" opacity="0.83" transform="rotate(-26 1136.5 489.0)"/><ellipse cx="1143.2" cy="488.8" rx="2.0" ry="1.5" fill="#e02a22" opacity="0.72" transform="rotate(2 1143.2 488.8)"/><ellipse cx="1148.7" cy="489.6" rx="2.2" ry="1.5" fill="#e02a22" opacity="0.56" transform="rotate(47 1148.7 489.6)"/><ellipse cx="1155.5" cy="488.9" rx="2.0" ry="1.4" fill="#e02a22" opacity="0.59" transform="rotate(-5 1155.5 488.9)"/><ellipse cx="1163.5" cy="489.4" rx="2.1" ry="1.7" fill="#e02a22" opacity="0.84" transform="rotate(-5 1163.5 489.4)"/><ellipse cx="1118.4" cy="496.4" rx="2.5" ry="1.2" fill="#e02a22" opacity="0.75" transform="rotate(-10 1118.4 496.4)"/><ellipse cx="1125.9" cy="496.9" rx="2.4" ry="1.5" fill="#e02a22" opacity="0.85" transform="rotate(-17 1125.9 496.9)"/><ellipse cx="1131.2" cy="496.1" rx="2.7" ry="1.6" fill="#e02a22" opacity="0.84" transform="rotate(24 1131.2 496.1)"/><ellipse cx="1139.4" cy="496.9" rx="2.8" ry="1.5" fill="#e02a22" opacity="0.82" transform="rotate(8 1139.4 496.9)"/><ellipse cx="1145.2" cy="495.5" rx="2.0" ry="1.4" fill="#e02a22" opacity="0.56" transform="rotate(33 1145.2 495.5)"/><ellipse cx="1152.5" cy="496.7" rx="1.9" ry="1.6" fill="#e02a22" opacity="0.55" transform="rotate(-19 1152.5 496.7)"/><ellipse cx="1157.9" cy="496.8" rx="2.7" ry="1.3" fill="#e02a22" opacity="0.55" transform="rotate(-10 1157.9 496.8)"/><ellipse cx="1118.7" cy="502.8" rx="2.5" ry="1.3" fill="#e02a22" opacity="0.88" transform="rotate(-57 1118.7 502.8)"/><ellipse cx="1125.1" cy="501.5" rx="2.1" ry="1.5" fill="#e02a22" opacity="0.72" transform="rotate(-3 1125.1 501.5)"/><ellipse cx="1133.8" cy="503.0" rx="2.1" ry="1.7" fill="#e02a22" opacity="0.82" transform="rotate(-3 1133.8 503.0)"/><ellipse cx="1140.3" cy="502.7" rx="2.2" ry="1.6" fill="#e02a22" opacity="0.58" transform="rotate(-23 1140.3 502.7)"/><ellipse cx="1146.0" cy="502.3" rx="1.8" ry="1.8" fill="#e02a22" opacity="0.67" transform="rotate(-51 1146.0 502.3)"/><ellipse cx="1153.8" cy="502.0" rx="2.1" ry="1.6" fill="#e02a22" opacity="0.50" transform="rotate(-48 1153.8 502.0)"/></g><path d="M1086.0,482.1 L1109.5,482.1" fill="none" stroke="#e02a22" stroke-width="3.4"/><path d="M1161.4,492.3 C1163.8,495.9 1165.0,498.4 1169.8,498.4 L1187.9,498.4" fill="none" stroke="#e02a22" stroke-width="3.4"/></g>
<rect x="650.2" y="562.5" width="485.6" height="47.3" fill="#fff" stroke="#262626" stroke-width="3"/>
<polygon points="660.5,578.7 674.5,578.7 674.5,568.7 692.0,585.2 674.5,601.7 674.5,591.7 660.5,591.7" fill="#F8DF86" stroke="#2a2a2a" stroke-width="2.2" stroke-linejoin="miter"/>
<text x="704" y="594.2" font-size="23" font-family='"Liberation Sans", sans-serif' fill="#222" textLength="423.4" lengthAdjust="spacingAndGlyphs" >Robin-type boundary condition update</text>
<text x="1537.2" y="115.7" font-size="28" font-family='"Liberation Sans", sans-serif' fill="#262626" font-weight="bold" text-anchor="middle" textLength="272.6" lengthAdjust="spacingAndGlyphs" >Broadband solution</text>
<g clip-path="url(#bbclip)"><rect x="1302.5" y="124" width="472.0" height="472" fill="#36312B"/><rect x="1332" y="152" width="416" height="416" fill="#403c36" opacity="0.9" filter="url(#b6)"/><g filter="url(#b6)"><ellipse cx="1540" cy="257" rx="125" ry="18" fill="#5a564c" opacity="0.85"/><ellipse cx="1520" cy="305" rx="85" ry="28" fill="#4e7066" opacity="0.75"/><ellipse cx="1500" cy="345" rx="75" ry="20" fill="#4a6a70" opacity="0.7"/><ellipse cx="1535" cy="392" rx="118" ry="32" fill="#7a4a3c" opacity="0.85"/><ellipse cx="1535" cy="450" rx="122" ry="30" fill="#5a3a4e" opacity="0.85"/><ellipse cx="1615" cy="345" rx="38" ry="24" fill="#4a8a3a" opacity="0.75"/><ellipse cx="1440" cy="355" rx="25" ry="18" fill="#d0d8b0" opacity="0.7"/></g><g filter="url(#b3)"><ellipse cx="1529.0" cy="260.1" rx="9.6" ry="5.3" fill="#3a3a30" opacity="0.56" transform="rotate(-50 1529.0 260.1)"/><ellipse cx="1609.9" cy="257.8" rx="8.1" ry="3.9" fill="#4a5a6a" opacity="0.39" transform="rotate(-65 1609.9 257.8)"/><ellipse cx="1611.2" cy="263.7" rx="5.2" ry="7.9" fill="#4a5a6a" opacity="0.50" transform="rotate(18 1611.2 263.7)"/><ellipse cx="1461.2" cy="245.4" rx="7.6" ry="3.3" fill="#5a6a48" opacity="0.56" transform="rotate(16 1461.2 245.4)"/><ellipse cx="1604.0" cy="253.8" rx="8.0" ry="4.0" fill="#5a6a48" opacity="0.49" transform="rotate(-0 1604.0 253.8)"/><ellipse cx="1577.4" cy="257.3" rx="6.4" ry="8.0" fill="#7a5a48" opacity="0.51" transform="rotate(-30 1577.4 257.3)"/><ellipse cx="1477.8" cy="252.8" rx="5.4" ry="6.8" fill="#4a5a6a" opacity="0.33" transform="rotate(-33 1477.8 252.8)"/><ellipse cx="1440.4" cy="245.5" rx="8.4" ry="4.1" fill="#7a5a48" opacity="0.44" transform="rotate(77 1440.4 245.5)"/><ellipse cx="1516.4" cy="247.0" rx="8.1" ry="6.9" fill="#8a4a40" opacity="0.40" transform="rotate(-30 1516.4 247.0)"/><ellipse cx="1428.5" cy="256.1" rx="9.6" ry="3.7" fill="#7a5a48" opacity="0.30" transform="rotate(-6 1428.5 256.1)"/><ellipse cx="1537.0" cy="263.4" rx="5.9" ry="5.5" fill="#5a6a48" opacity="0.43" transform="rotate(-19 1537.0 263.4)"/><ellipse cx="1515.8" cy="271.7" rx="5.0" ry="7.3" fill="#3a3a30" opacity="0.39" transform="rotate(62 1515.8 271.7)"/><ellipse cx="1473.5" cy="255.6" rx="9.3" ry="6.2" fill="#7a5a48" opacity="0.31" transform="rotate(-57 1473.5 255.6)"/><ellipse cx="1526.6" cy="245.3" rx="8.1" ry="7.2" fill="#4a5a6a" opacity="0.32" transform="rotate(-66 1526.6 245.3)"/><ellipse cx="1559.0" cy="251.6" rx="8.0" ry="4.9" fill="#4a5a6a" opacity="0.34" transform="rotate(14 1559.0 251.6)"/><ellipse cx="1616.4" cy="248.7" rx="6.9" ry="6.1" fill="#8a4a40" opacity="0.57" transform="rotate(51 1616.4 248.7)"/><ellipse cx="1482.4" cy="250.1" rx="8.7" ry="7.7" fill="#5a6a48" opacity="0.51" transform="rotate(-18 1482.4 250.1)"/><ellipse cx="1536.0" cy="247.1" rx="5.2" ry="3.5" fill="#3a3a30" opacity="0.59" transform="rotate(-42 1536.0 247.1)"/><ellipse cx="1587.1" cy="251.9" rx="9.1" ry="6.0" fill="#8a4a40" opacity="0.46" transform="rotate(69 1587.1 251.9)"/><ellipse cx="1649.8" cy="248.4" rx="7.4" ry="6.3" fill="#3a3a30" opacity="0.48" transform="rotate(-35 1649.8 248.4)"/><ellipse cx="1636.0" cy="250.5" rx="5.1" ry="4.3" fill="#4a5a6a" opacity="0.37" transform="rotate(-73 1636.0 250.5)"/><ellipse cx="1489.9" cy="259.3" rx="9.9" ry="3.5" fill="#5a6a48" opacity="0.57" transform="rotate(77 1489.9 259.3)"/><ellipse cx="1576.1" cy="263.7" rx="7.9" ry="3.7" fill="#7a5a48" opacity="0.58" transform="rotate(-4 1576.1 263.7)"/><ellipse cx="1507.2" cy="253.4" rx="5.2" ry="6.0" fill="#7a5a48" opacity="0.44" transform="rotate(37 1507.2 253.4)"/><ellipse cx="1498.3" cy="272.0" rx="5.4" ry="5.7" fill="#7a5a48" opacity="0.57" transform="rotate(38 1498.3 272.0)"/><ellipse cx="1586.8" cy="266.4" rx="9.6" ry="4.8" fill="#4a5a6a" opacity="0.57" transform="rotate(59 1586.8 266.4)"/><ellipse cx="1520.9" cy="266.3" rx="9.3" ry="5.9" fill="#3a3a30" opacity="0.50" transform="rotate(-19 1520.9 266.3)"/><ellipse cx="1427.9" cy="247.0" rx="5.5" ry="3.6" fill="#8a4a40" opacity="0.56" transform="rotate(37 1427.9 247.0)"/><ellipse cx="1514.3" cy="264.8" rx="7.9" ry="5.2" fill="#3a3a30" opacity="0.33" transform="rotate(40 1514.3 264.8)"/><ellipse cx="1431.9" cy="261.2" rx="7.4" ry="4.2" fill="#7a5a48" opacity="0.45" transform="rotate(18 1431.9 261.2)"/><ellipse cx="1636.7" cy="251.9" rx="5.1" ry="4.5" fill="#3a3a30" opacity="0.36" transform="rotate(-53 1636.7 251.9)"/><ellipse cx="1633.3" cy="262.8" rx="7.2" ry="7.5" fill="#8a4a40" opacity="0.42" transform="rotate(-40 1633.3 262.8)"/><ellipse cx="1570.9" cy="266.7" rx="8.8" ry="4.0" fill="#5a6a48" opacity="0.42" transform="rotate(13 1570.9 266.7)"/><ellipse cx="1497.8" cy="248.7" rx="7.5" ry="7.2" fill="#7a5a48" opacity="0.51" transform="rotate(72 1497.8 248.7)"/><ellipse cx="1488.7" cy="249.6" rx="7.3" ry="4.4" fill="#5a6a48" opacity="0.55" transform="rotate(-19 1488.7 249.6)"/><ellipse cx="1544.6" cy="263.1" rx="8.6" ry="7.2" fill="#3a3a30" opacity="0.44" transform="rotate(-68 1544.6 263.1)"/><ellipse cx="1432.2" cy="268.6" rx="5.2" ry="6.5" fill="#3a3a30" opacity="0.41" transform="rotate(24 1432.2 268.6)"/><ellipse cx="1554.7" cy="262.3" rx="7.0" ry="3.9" fill="#8a4a40" opacity="0.37" transform="rotate(-57 1554.7 262.3)"/><ellipse cx="1435.8" cy="262.0" rx="7.2" ry="6.1" fill="#8a4a40" opacity="0.59" transform="rotate(30 1435.8 262.0)"/><ellipse cx="1470.8" cy="257.8" rx="5.9" ry="3.1" fill="#4a5a6a" opacity="0.46" transform="rotate(-74 1470.8 257.8)"/><ellipse cx="1464.6" cy="321.1" rx="7.7" ry="7.7" fill="#5a90c0" opacity="0.66" transform="rotate(47 1464.6 321.1)"/><ellipse cx="1583.6" cy="277.5" rx="9.7" ry="6.6" fill="#5a90c0" opacity="0.68" transform="rotate(-48 1583.6 277.5)"/><ellipse cx="1580.3" cy="272.4" rx="7.8" ry="6.3" fill="#4a8a5a" opacity="0.69" transform="rotate(24 1580.3 272.4)"/><ellipse cx="1460.9" cy="317.5" rx="9.1" ry="6.2" fill="#8ac070" opacity="0.59" transform="rotate(64 1460.9 317.5)"/><ellipse cx="1596.6" cy="333.6" rx="7.7" ry="7.0" fill="#4a8a5a" opacity="0.60" transform="rotate(35 1596.6 333.6)"/><ellipse cx="1427.7" cy="303.8" rx="5.2" ry="4.7" fill="#b0d0a0" opacity="0.81" transform="rotate(-2 1427.7 303.8)"/><ellipse cx="1430.0" cy="323.0" rx="5.3" ry="7.0" fill="#5a90c0" opacity="0.71" transform="rotate(30 1430.0 323.0)"/><ellipse cx="1585.3" cy="301.6" rx="10.0" ry="7.5" fill="#c0e0d0" opacity="0.88" transform="rotate(-1 1585.3 301.6)"/><ellipse cx="1591.1" cy="277.4" rx="6.1" ry="5.6" fill="#9a5a6a" opacity="0.83" transform="rotate(10 1591.1 277.4)"/><ellipse cx="1453.8" cy="304.4" rx="9.5" ry="4.3" fill="#b0d0a0" opacity="0.88" transform="rotate(59 1453.8 304.4)"/><ellipse cx="1531.7" cy="291.2" rx="5.7" ry="5.7" fill="#9a5a6a" opacity="0.73" transform="rotate(-48 1531.7 291.2)"/><ellipse cx="1518.8" cy="303.7" rx="8.0" ry="3.1" fill="#5ab098" opacity="0.71" transform="rotate(-16 1518.8 303.7)"/><ellipse cx="1565.2" cy="307.5" rx="7.5" ry="6.5" fill="#8ac070" opacity="0.87" transform="rotate(-7 1565.2 307.5)"/><ellipse cx="1586.1" cy="322.4" rx="7.0" ry="4.2" fill="#c0e0d0" opacity="0.55" transform="rotate(-11 1586.1 322.4)"/><ellipse cx="1567.8" cy="328.7" rx="7.4" ry="4.6" fill="#3a3a40" opacity="0.67" transform="rotate(-75 1567.8 328.7)"/><ellipse cx="1470.5" cy="316.2" rx="9.9" ry="3.2" fill="#5a90c0" opacity="0.59" transform="rotate(30 1470.5 316.2)"/><ellipse cx="1481.4" cy="294.4" rx="8.1" ry="3.5" fill="#8ac070" opacity="0.84" transform="rotate(20 1481.4 294.4)"/><ellipse cx="1550.6" cy="316.2" rx="9.4" ry="3.1" fill="#b0d0a0" opacity="0.83" transform="rotate(19 1550.6 316.2)"/><ellipse cx="1519.2" cy="326.4" rx="7.7" ry="4.1" fill="#3a3a40" opacity="0.84" transform="rotate(18 1519.2 326.4)"/><ellipse cx="1574.9" cy="286.7" rx="8.7" ry="7.1" fill="#5a90c0" opacity="0.63" transform="rotate(-30 1574.9 286.7)"/><ellipse cx="1586.5" cy="285.7" rx="10.0" ry="7.4" fill="#5a90c0" opacity="0.86" transform="rotate(-59 1586.5 285.7)"/><ellipse cx="1440.4" cy="296.4" rx="7.2" ry="7.7" fill="#5a90c0" opacity="0.58" transform="rotate(20 1440.4 296.4)"/><ellipse cx="1564.8" cy="278.1" rx="7.8" ry="4.8" fill="#4a8a5a" opacity="0.55" transform="rotate(1 1564.8 278.1)"/><ellipse cx="1557.7" cy="303.7" rx="8.4" ry="3.9" fill="#8ac070" opacity="0.69" transform="rotate(-76 1557.7 303.7)"/><ellipse cx="1558.3" cy="310.6" rx="9.5" ry="5.4" fill="#3a3a40" opacity="0.57" transform="rotate(-47 1558.3 310.6)"/><ellipse cx="1572.0" cy="334.4" rx="9.6" ry="3.5" fill="#5ab098" opacity="0.55" transform="rotate(29 1572.0 334.4)"/><ellipse cx="1438.6" cy="278.1" rx="7.0" ry="5.1" fill="#4a8a5a" opacity="0.67" transform="rotate(16 1438.6 278.1)"/><ellipse cx="1427.3" cy="316.2" rx="9.2" ry="3.9" fill="#c0e0d0" opacity="0.64" transform="rotate(-21 1427.3 316.2)"/><ellipse cx="1586.3" cy="310.1" rx="5.5" ry="7.0" fill="#4a8a5a" opacity="0.86" transform="rotate(48 1586.3 310.1)"/><ellipse cx="1548.3" cy="326.2" rx="8.1" ry="5.0" fill="#3a3a40" opacity="0.70" transform="rotate(77 1548.3 326.2)"/><ellipse cx="1565.8" cy="288.3" rx="9.6" ry="6.7" fill="#5a90c0" opacity="0.83" transform="rotate(-15 1565.8 288.3)"/><ellipse cx="1581.9" cy="327.4" rx="8.5" ry="6.8" fill="#5a90c0" opacity="0.66" transform="rotate(36 1581.9 327.4)"/><ellipse cx="1437.3" cy="293.5" rx="7.3" ry="3.1" fill="#4a8a5a" opacity="0.90" transform="rotate(64 1437.3 293.5)"/><ellipse cx="1433.7" cy="289.2" rx="9.8" ry="4.5" fill="#3a3a40" opacity="0.76" transform="rotate(11 1433.7 289.2)"/><ellipse cx="1518.3" cy="296.5" rx="10.0" ry="6.2" fill="#8ac070" opacity="0.80" transform="rotate(77 1518.3 296.5)"/><ellipse cx="1429.0" cy="310.8" rx="8.7" ry="4.3" fill="#b0d0a0" opacity="0.70" transform="rotate(42 1429.0 310.8)"/><ellipse cx="1538.4" cy="272.7" rx="6.3" ry="4.4" fill="#4a8a5a" opacity="0.72" transform="rotate(1 1538.4 272.7)"/><ellipse cx="1594.2" cy="307.8" rx="10.0" ry="6.2" fill="#8ac070" opacity="0.72" transform="rotate(27 1594.2 307.8)"/><ellipse cx="1592.2" cy="296.3" rx="9.7" ry="4.9" fill="#5a90c0" opacity="0.84" transform="rotate(7 1592.2 296.3)"/><ellipse cx="1529.4" cy="299.1" rx="7.5" ry="4.4" fill="#b0d0a0" opacity="0.74" transform="rotate(-22 1529.4 299.1)"/><ellipse cx="1475.0" cy="313.3" rx="7.8" ry="4.4" fill="#9a5a6a" opacity="0.51" transform="rotate(44 1475.0 313.3)"/><ellipse cx="1527.5" cy="311.9" rx="7.0" ry="6.4" fill="#5ab098" opacity="0.86" transform="rotate(40 1527.5 311.9)"/><ellipse cx="1433.8" cy="334.3" rx="9.7" ry="3.4" fill="#3a3a40" opacity="0.67" transform="rotate(-4 1433.8 334.3)"/><ellipse cx="1595.3" cy="287.4" rx="7.6" ry="7.7" fill="#c0e0d0" opacity="0.56" transform="rotate(74 1595.3 287.4)"/><ellipse cx="1467.9" cy="316.5" rx="5.3" ry="5.1" fill="#8ac070" opacity="0.58" transform="rotate(-72 1467.9 316.5)"/><ellipse cx="1517.4" cy="279.8" rx="7.2" ry="6.3" fill="#c0e0d0" opacity="0.74" transform="rotate(22 1517.4 279.8)"/><ellipse cx="1544.4" cy="294.9" rx="8.7" ry="7.1" fill="#5a90c0" opacity="0.88" transform="rotate(37 1544.4 294.9)"/><ellipse cx="1466.7" cy="279.2" rx="9.5" ry="6.9" fill="#4a8a5a" opacity="0.61" transform="rotate(18 1466.7 279.2)"/><ellipse cx="1551.9" cy="316.0" rx="6.0" ry="4.4" fill="#3a3a40" opacity="0.58" transform="rotate(-40 1551.9 316.0)"/><ellipse cx="1596.5" cy="329.7" rx="9.4" ry="3.2" fill="#5ab098" opacity="0.50" transform="rotate(-38 1596.5 329.7)"/><ellipse cx="1429.7" cy="274.4" rx="6.1" ry="4.4" fill="#8ac070" opacity="0.87" transform="rotate(-54 1429.7 274.4)"/><ellipse cx="1466.1" cy="333.8" rx="7.4" ry="4.8" fill="#4a8a5a" opacity="0.64" transform="rotate(39 1466.1 333.8)"/><ellipse cx="1571.7" cy="276.7" rx="5.6" ry="7.0" fill="#3a3a40" opacity="0.68" transform="rotate(40 1571.7 276.7)"/><ellipse cx="1493.3" cy="281.5" rx="5.8" ry="7.2" fill="#4a8a5a" opacity="0.62" transform="rotate(41 1493.3 281.5)"/><ellipse cx="1569.6" cy="283.6" rx="8.3" ry="5.9" fill="#c0e0d0" opacity="0.85" transform="rotate(-67 1569.6 283.6)"/><ellipse cx="1439.5" cy="307.5" rx="7.4" ry="6.4" fill="#9a5a6a" opacity="0.83" transform="rotate(-79 1439.5 307.5)"/><ellipse cx="1479.3" cy="329.4" rx="8.0" ry="6.5" fill="#c0e0d0" opacity="0.79" transform="rotate(31 1479.3 329.4)"/><ellipse cx="1474.5" cy="281.0" rx="6.8" ry="6.6" fill="#4a8a5a" opacity="0.86" transform="rotate(-28 1474.5 281.0)"/><ellipse cx="1502.2" cy="309.5" rx="9.5" ry="6.4" fill="#9a5a6a" opacity="0.68" transform="rotate(48 1502.2 309.5)"/><ellipse cx="1478.3" cy="292.0" rx="7.0" ry="7.7" fill="#3a3a40" opacity="0.53" transform="rotate(53 1478.3 292.0)"/><ellipse cx="1428.3" cy="351.7" rx="7.3" ry="6.3" fill="#70c0c0" opacity="0.73" transform="rotate(48 1428.3 351.7)"/><ellipse cx="1498.0" cy="356.8" rx="7.3" ry="3.7" fill="#7a5a9a" opacity="0.85" transform="rotate(-35 1498.0 356.8)"/><ellipse cx="1428.0" cy="346.5" rx="7.2" ry="5.4" fill="#5ab0b0" opacity="0.76" transform="rotate(49 1428.0 346.5)"/><ellipse cx="1433.6" cy="347.5" rx="8.2" ry="3.4" fill="#5ab0b0" opacity="0.61" transform="rotate(-63 1433.6 347.5)"/><ellipse cx="1467.4" cy="330.8" rx="7.6" ry="3.4" fill="#70c0c0" opacity="0.67" transform="rotate(34 1467.4 330.8)"/><ellipse cx="1491.0" cy="359.0" rx="6.4" ry="4.9" fill="#6aaa70" opacity="0.64" transform="rotate(75 1491.0 359.0)"/><ellipse cx="1515.8" cy="345.8" rx="7.1" ry="6.0" fill="#70c0c0" opacity="0.75" transform="rotate(-73 1515.8 345.8)"/><ellipse cx="1527.2" cy="361.5" rx="6.4" ry="3.0" fill="#7a5a9a" opacity="0.83" transform="rotate(62 1527.2 361.5)"/><ellipse cx="1554.3" cy="350.5" rx="7.1" ry="6.0" fill="#5ab0b0" opacity="0.67" transform="rotate(-13 1554.3 350.5)"/><ellipse cx="1444.7" cy="353.7" rx="9.0" ry="4.6" fill="#4a6ab0" opacity="0.63" transform="rotate(-18 1444.7 353.7)"/><ellipse cx="1496.4" cy="338.8" rx="8.5" ry="5.0" fill="#70c0c0" opacity="0.55" transform="rotate(24 1496.4 338.8)"/><ellipse cx="1529.8" cy="335.7" rx="5.2" ry="4.9" fill="#3a3a3a" opacity="0.69" transform="rotate(48 1529.8 335.7)"/><ellipse cx="1467.2" cy="336.3" rx="6.4" ry="5.5" fill="#3a3a3a" opacity="0.79" transform="rotate(15 1467.2 336.3)"/><ellipse cx="1455.2" cy="335.9" rx="6.1" ry="3.7" fill="#6aaa70" opacity="0.75" transform="rotate(71 1455.2 335.9)"/><ellipse cx="1499.3" cy="357.3" rx="6.9" ry="4.7" fill="#6aaa70" opacity="0.76" transform="rotate(43 1499.3 357.3)"/><ellipse cx="1437.5" cy="357.6" rx="6.6" ry="3.9" fill="#4a6ab0" opacity="0.82" transform="rotate(-18 1437.5 357.6)"/><ellipse cx="1496.2" cy="346.5" rx="6.1" ry="7.2" fill="#70c0c0" opacity="0.87" transform="rotate(63 1496.2 346.5)"/><ellipse cx="1543.0" cy="359.0" rx="6.8" ry="4.0" fill="#7a5a9a" opacity="0.74" transform="rotate(-55 1543.0 359.0)"/><ellipse cx="1446.2" cy="340.3" rx="6.0" ry="6.7" fill="#3a3a3a" opacity="0.55" transform="rotate(39 1446.2 340.3)"/><ellipse cx="1508.6" cy="346.5" rx="5.2" ry="5.4" fill="#4a6ab0" opacity="0.50" transform="rotate(51 1508.6 346.5)"/><ellipse cx="1539.2" cy="356.3" rx="5.3" ry="4.1" fill="#70c0c0" opacity="0.71" transform="rotate(62 1539.2 356.3)"/><ellipse cx="1518.6" cy="332.7" rx="8.0" ry="5.3" fill="#3a3a3a" opacity="0.62" transform="rotate(46 1518.6 332.7)"/><ellipse cx="1481.3" cy="359.3" rx="5.4" ry="6.5" fill="#4a6ab0" opacity="0.51" transform="rotate(-14 1481.3 359.3)"/><ellipse cx="1491.7" cy="360.3" rx="8.9" ry="4.3" fill="#7a5a9a" opacity="0.53" transform="rotate(-31 1491.7 360.3)"/><ellipse cx="1488.1" cy="352.9" rx="6.4" ry="5.9" fill="#5ab0b0" opacity="0.77" transform="rotate(28 1488.1 352.9)"/><ellipse cx="1525.8" cy="355.1" rx="5.5" ry="4.9" fill="#7a5a9a" opacity="0.78" transform="rotate(-4 1525.8 355.1)"/><ellipse cx="1464.6" cy="333.6" rx="8.1" ry="6.6" fill="#70c0c0" opacity="0.58" transform="rotate(19 1464.6 333.6)"/><ellipse cx="1464.2" cy="342.0" rx="7.2" ry="4.3" fill="#6aaa70" opacity="0.80" transform="rotate(9 1464.2 342.0)"/><ellipse cx="1436.7" cy="336.0" rx="6.5" ry="3.5" fill="#6aaa70" opacity="0.88" transform="rotate(10 1436.7 336.0)"/><ellipse cx="1522.7" cy="340.6" rx="8.3" ry="3.4" fill="#4a6ab0" opacity="0.75" transform="rotate(-59 1522.7 340.6)"/><ellipse cx="1510.1" cy="335.7" rx="5.8" ry="3.2" fill="#7a5a9a" opacity="0.74" transform="rotate(-66 1510.1 335.7)"/><ellipse cx="1455.6" cy="335.0" rx="5.5" ry="4.7" fill="#5ab0b0" opacity="0.64" transform="rotate(52 1455.6 335.0)"/><ellipse cx="1550.1" cy="334.4" rx="5.8" ry="3.6" fill="#70c0c0" opacity="0.65" transform="rotate(-27 1550.1 334.4)"/><ellipse cx="1480.6" cy="330.5" rx="6.6" ry="5.9" fill="#4a6ab0" opacity="0.76" transform="rotate(17 1480.6 330.5)"/><ellipse cx="1427.5" cy="340.6" rx="6.4" ry="5.7" fill="#5ab0b0" opacity="0.72" transform="rotate(-47 1427.5 340.6)"/><ellipse cx="1469.9" cy="339.4" rx="5.4" ry="6.0" fill="#6aaa70" opacity="0.81" transform="rotate(64 1469.9 339.4)"/><ellipse cx="1499.0" cy="341.3" rx="7.0" ry="3.6" fill="#70c0c0" opacity="0.58" transform="rotate(69 1499.0 341.3)"/><ellipse cx="1559.8" cy="352.6" rx="8.7" ry="5.4" fill="#5ab0b0" opacity="0.75" transform="rotate(-48 1559.8 352.6)"/><ellipse cx="1436.2" cy="337.8" rx="7.3" ry="5.9" fill="#6aaa70" opacity="0.54" transform="rotate(60 1436.2 337.8)"/><ellipse cx="1460.9" cy="358.3" rx="6.8" ry="6.1" fill="#4a6ab0" opacity="0.86" transform="rotate(7 1460.9 358.3)"/><ellipse cx="1608.3" cy="311.8" rx="6.3" ry="7.5" fill="#3a6aa0" opacity="0.68" transform="rotate(-60 1608.3 311.8)"/><ellipse cx="1633.3" cy="303.7" rx="9.5" ry="4.2" fill="#6a50c0" opacity="0.61" transform="rotate(-53 1633.3 303.7)"/><ellipse cx="1611.8" cy="319.3" rx="7.3" ry="5.0" fill="#3a4ac0" opacity="0.59" transform="rotate(27 1611.8 319.3)"/><ellipse cx="1625.1" cy="306.4" rx="8.0" ry="7.0" fill="#2030b0" opacity="0.55" transform="rotate(-14 1625.1 306.4)"/><ellipse cx="1558.1" cy="310.8" rx="5.6" ry="5.0" fill="#3a6aa0" opacity="0.66" transform="rotate(-38 1558.1 310.8)"/><ellipse cx="1609.0" cy="305.0" rx="8.2" ry="3.2" fill="#3a4ac0" opacity="0.62" transform="rotate(-0 1609.0 305.0)"/><ellipse cx="1564.7" cy="305.4" rx="9.5" ry="7.6" fill="#6a50c0" opacity="0.73" transform="rotate(40 1564.7 305.4)"/><ellipse cx="1601.1" cy="324.8" rx="9.2" ry="7.3" fill="#302880" opacity="0.75" transform="rotate(-61 1601.1 324.8)"/><ellipse cx="1565.9" cy="323.2" rx="6.7" ry="5.6" fill="#302880" opacity="0.77" transform="rotate(-29 1565.9 323.2)"/><ellipse cx="1560.2" cy="316.8" rx="9.5" ry="6.7" fill="#6a50c0" opacity="0.60" transform="rotate(46 1560.2 316.8)"/><ellipse cx="1638.8" cy="321.3" rx="6.2" ry="7.2" fill="#3a4ac0" opacity="0.65" transform="rotate(-17 1638.8 321.3)"/><ellipse cx="1559.9" cy="315.8" rx="7.6" ry="4.2" fill="#3a6aa0" opacity="0.70" transform="rotate(70 1559.9 315.8)"/><ellipse cx="1638.6" cy="325.0" rx="8.7" ry="7.4" fill="#3a6aa0" opacity="0.76" transform="rotate(-13 1638.6 325.0)"/><ellipse cx="1631.5" cy="301.7" rx="8.7" ry="5.8" fill="#2030b0" opacity="0.53" transform="rotate(47 1631.5 301.7)"/><ellipse cx="1566.8" cy="311.1" rx="9.8" ry="3.0" fill="#3a4ac0" opacity="0.72" transform="rotate(-76 1566.8 311.1)"/><ellipse cx="1571.3" cy="308.2" rx="7.3" ry="5.7" fill="#3a4ac0" opacity="0.61" transform="rotate(14 1571.3 308.2)"/><ellipse cx="1559.4" cy="295.9" rx="9.5" ry="4.5" fill="#302880" opacity="0.54" transform="rotate(44 1559.4 295.9)"/><ellipse cx="1628.8" cy="321.4" rx="6.0" ry="7.3" fill="#2030b0" opacity="0.56" transform="rotate(54 1628.8 321.4)"/><ellipse cx="1588.6" cy="309.2" rx="5.9" ry="7.4" fill="#6a50c0" opacity="0.56" transform="rotate(21 1588.6 309.2)"/><ellipse cx="1573.2" cy="321.4" rx="5.3" ry="3.5" fill="#3a6aa0" opacity="0.79" transform="rotate(-36 1573.2 321.4)"/><ellipse cx="1594.9" cy="321.4" rx="6.7" ry="7.8" fill="#302880" opacity="0.62" transform="rotate(-53 1594.9 321.4)"/><ellipse cx="1636.8" cy="298.6" rx="8.5" ry="4.3" fill="#3a4ac0" opacity="0.65" transform="rotate(-33 1636.8 298.6)"/><ellipse cx="1581.0" cy="319.1" rx="7.6" ry="3.6" fill="#6a50c0" opacity="0.57" transform="rotate(-32 1581.0 319.1)"/><ellipse cx="1643.0" cy="315.0" rx="6.4" ry="6.2" fill="#2030b0" opacity="0.64" transform="rotate(-68 1643.0 315.0)"/><ellipse cx="1642.1" cy="297.2" rx="9.5" ry="3.0" fill="#6a50c0" opacity="0.59" transform="rotate(-40 1642.1 297.2)"/><ellipse cx="1631.3" cy="297.6" rx="6.4" ry="6.8" fill="#3a4ac0" opacity="0.55" transform="rotate(37 1631.3 297.6)"/><ellipse cx="1557.7" cy="318.7" rx="5.8" ry="7.5" fill="#6a50c0" opacity="0.64" transform="rotate(40 1557.7 318.7)"/><ellipse cx="1591.5" cy="322.9" rx="7.5" ry="3.9" fill="#6a50c0" opacity="0.73" transform="rotate(66 1591.5 322.9)"/><ellipse cx="1585.5" cy="309.5" rx="5.2" ry="4.5" fill="#6a50c0" opacity="0.72" transform="rotate(5 1585.5 309.5)"/><ellipse cx="1611.4" cy="318.1" rx="5.6" ry="5.2" fill="#302880" opacity="0.66" transform="rotate(-39 1611.4 318.1)"/><ellipse cx="1589.7" cy="403.9" rx="6.3" ry="5.7" fill="#3a3a3a" opacity="0.60" transform="rotate(-48 1589.7 403.9)"/><ellipse cx="1648.2" cy="365.0" rx="7.2" ry="7.4" fill="#c84a48" opacity="0.56" transform="rotate(-77 1648.2 365.0)"/><ellipse cx="1539.1" cy="387.2" rx="7.2" ry="4.3" fill="#c85a3a" opacity="0.53" transform="rotate(65 1539.1 387.2)"/><ellipse cx="1555.8" cy="393.5" rx="9.0" ry="4.2" fill="#b04a48" opacity="0.52" transform="rotate(-12 1555.8 393.5)"/><ellipse cx="1585.0" cy="409.5" rx="8.7" ry="6.9" fill="#3a3a3a" opacity="0.54" transform="rotate(51 1585.0 409.5)"/><ellipse cx="1464.5" cy="376.8" rx="5.8" ry="6.5" fill="#3a3a3a" opacity="0.52" transform="rotate(-14 1464.5 376.8)"/><ellipse cx="1508.8" cy="374.5" rx="9.9" ry="3.2" fill="#3a3a3a" opacity="0.80" transform="rotate(16 1508.8 374.5)"/><ellipse cx="1455.9" cy="405.2" rx="7.6" ry="7.9" fill="#c85a3a" opacity="0.60" transform="rotate(62 1455.9 405.2)"/><ellipse cx="1457.6" cy="384.8" rx="6.5" ry="5.1" fill="#d07a3a" opacity="0.89" transform="rotate(29 1457.6 384.8)"/><ellipse cx="1589.9" cy="418.6" rx="8.1" ry="4.5" fill="#d07a3a" opacity="0.72" transform="rotate(-41 1589.9 418.6)"/><ellipse cx="1531.2" cy="416.1" rx="6.8" ry="4.7" fill="#b09048" opacity="0.52" transform="rotate(-16 1531.2 416.1)"/><ellipse cx="1574.5" cy="365.4" rx="6.7" ry="6.5" fill="#b04a48" opacity="0.69" transform="rotate(-17 1574.5 365.4)"/><ellipse cx="1618.9" cy="384.1" rx="8.9" ry="4.1" fill="#c84a48" opacity="0.60" transform="rotate(47 1618.9 384.1)"/><ellipse cx="1610.0" cy="389.9" rx="7.0" ry="6.0" fill="#6a9a48" opacity="0.69" transform="rotate(-2 1610.0 389.9)"/><ellipse cx="1569.1" cy="372.5" rx="7.4" ry="5.7" fill="#8a4a7a" opacity="0.53" transform="rotate(31 1569.1 372.5)"/><ellipse cx="1508.4" cy="377.9" rx="5.1" ry="3.9" fill="#6a9a48" opacity="0.70" transform="rotate(11 1508.4 377.9)"/><ellipse cx="1574.4" cy="374.6" rx="5.5" ry="3.3" fill="#c84a48" opacity="0.55" transform="rotate(-41 1574.4 374.6)"/><ellipse cx="1618.0" cy="368.9" rx="10.0" ry="7.2" fill="#3a3a3a" opacity="0.53" transform="rotate(61 1618.0 368.9)"/><ellipse cx="1499.8" cy="406.7" rx="7.6" ry="3.3" fill="#8a4a7a" opacity="0.74" transform="rotate(-2 1499.8 406.7)"/><ellipse cx="1468.2" cy="391.8" rx="5.6" ry="4.0" fill="#8a4a7a" opacity="0.67" transform="rotate(7 1468.2 391.8)"/><ellipse cx="1456.3" cy="403.0" rx="6.3" ry="6.6" fill="#8a4a7a" opacity="0.56" transform="rotate(-47 1456.3 403.0)"/><ellipse cx="1489.5" cy="403.3" rx="7.0" ry="4.9" fill="#c84a48" opacity="0.59" transform="rotate(-33 1489.5 403.3)"/><ellipse cx="1504.3" cy="374.5" rx="5.2" ry="3.1" fill="#3a3a3a" opacity="0.73" transform="rotate(49 1504.3 374.5)"/><ellipse cx="1649.4" cy="379.3" rx="8.4" ry="7.6" fill="#b09048" opacity="0.72" transform="rotate(-23 1649.4 379.3)"/><ellipse cx="1453.1" cy="406.9" rx="6.9" ry="6.9" fill="#6a9a48" opacity="0.54" transform="rotate(-12 1453.1 406.9)"/><ellipse cx="1515.3" cy="365.5" rx="6.9" ry="4.6" fill="#3a3a3a" opacity="0.78" transform="rotate(-45 1515.3 365.5)"/><ellipse cx="1637.9" cy="373.7" rx="8.8" ry="4.8" fill="#b09048" opacity="0.71" transform="rotate(39 1637.9 373.7)"/><ellipse cx="1633.7" cy="408.6" rx="7.4" ry="4.3" fill="#6a9a48" opacity="0.78" transform="rotate(-76 1633.7 408.6)"/><ellipse cx="1515.0" cy="383.1" rx="5.3" ry="5.0" fill="#c85a3a" opacity="0.65" transform="rotate(55 1515.0 383.1)"/><ellipse cx="1494.0" cy="403.7" rx="9.4" ry="3.4" fill="#c85a3a" opacity="0.64" transform="rotate(63 1494.0 403.7)"/><ellipse cx="1555.1" cy="377.2" rx="8.3" ry="3.9" fill="#3a3a3a" opacity="0.65" transform="rotate(-25 1555.1 377.2)"/><ellipse cx="1631.5" cy="363.8" rx="8.5" ry="4.1" fill="#d07a3a" opacity="0.75" transform="rotate(19 1631.5 363.8)"/><ellipse cx="1519.5" cy="386.1" rx="6.4" ry="7.1" fill="#3a3a3a" opacity="0.65" transform="rotate(66 1519.5 386.1)"/><ellipse cx="1433.8" cy="369.9" rx="7.5" ry="4.5" fill="#c84a48" opacity="0.69" transform="rotate(-77 1433.8 369.9)"/><ellipse cx="1564.2" cy="377.6" rx="6.3" ry="4.1" fill="#c85a3a" opacity="0.87" transform="rotate(77 1564.2 377.6)"/><ellipse cx="1425.8" cy="393.7" rx="9.2" ry="6.8" fill="#d07a3a" opacity="0.75" transform="rotate(10 1425.8 393.7)"/><ellipse cx="1616.2" cy="418.2" rx="6.7" ry="4.7" fill="#c85a3a" opacity="0.63" transform="rotate(35 1616.2 418.2)"/><ellipse cx="1584.9" cy="401.8" rx="9.8" ry="7.1" fill="#b04a48" opacity="0.63" transform="rotate(30 1584.9 401.8)"/><ellipse cx="1610.1" cy="379.0" rx="7.1" ry="4.8" fill="#3a3a3a" opacity="0.59" transform="rotate(-40 1610.1 379.0)"/><ellipse cx="1499.7" cy="372.3" rx="7.6" ry="3.6" fill="#d07a3a" opacity="0.90" transform="rotate(51 1499.7 372.3)"/><ellipse cx="1628.7" cy="380.0" rx="9.2" ry="5.6" fill="#3a3a3a" opacity="0.52" transform="rotate(19 1628.7 380.0)"/><ellipse cx="1519.9" cy="390.0" rx="6.7" ry="5.0" fill="#8a4a7a" opacity="0.60" transform="rotate(22 1519.9 390.0)"/><ellipse cx="1509.6" cy="401.6" rx="5.9" ry="7.3" fill="#b09048" opacity="0.84" transform="rotate(53 1509.6 401.6)"/><ellipse cx="1555.5" cy="386.4" rx="8.5" ry="6.1" fill="#6a9a48" opacity="0.82" transform="rotate(-60 1555.5 386.4)"/><ellipse cx="1511.7" cy="400.8" rx="6.2" ry="3.9" fill="#c85a3a" opacity="0.69" transform="rotate(31 1511.7 400.8)"/><ellipse cx="1606.9" cy="415.8" rx="6.3" ry="4.4" fill="#6a9a48" opacity="0.75" transform="rotate(-17 1606.9 415.8)"/><ellipse cx="1639.7" cy="419.4" rx="5.2" ry="6.6" fill="#d07a3a" opacity="0.85" transform="rotate(-49 1639.7 419.4)"/><ellipse cx="1507.0" cy="393.2" rx="9.0" ry="5.0" fill="#c85a3a" opacity="0.83" transform="rotate(57 1507.0 393.2)"/><ellipse cx="1464.4" cy="365.9" rx="7.2" ry="7.3" fill="#6a9a48" opacity="0.59" transform="rotate(35 1464.4 365.9)"/><ellipse cx="1518.9" cy="370.2" rx="7.9" ry="6.4" fill="#b09048" opacity="0.72" transform="rotate(48 1518.9 370.2)"/><ellipse cx="1458.8" cy="372.2" rx="5.5" ry="7.7" fill="#6a9a48" opacity="0.85" transform="rotate(-11 1458.8 372.2)"/><ellipse cx="1459.9" cy="413.3" rx="6.4" ry="5.8" fill="#6a9a48" opacity="0.75" transform="rotate(-36 1459.9 413.3)"/><ellipse cx="1477.3" cy="390.0" rx="6.8" ry="4.3" fill="#c85a3a" opacity="0.56" transform="rotate(-79 1477.3 390.0)"/><ellipse cx="1599.9" cy="400.9" rx="5.0" ry="4.7" fill="#b04a48" opacity="0.90" transform="rotate(-48 1599.9 400.9)"/><ellipse cx="1624.5" cy="390.1" rx="7.1" ry="7.0" fill="#8a4a7a" opacity="0.72" transform="rotate(-46 1624.5 390.1)"/><ellipse cx="1566.8" cy="410.0" rx="6.3" ry="3.9" fill="#6a9a48" opacity="0.85" transform="rotate(79 1566.8 410.0)"/><ellipse cx="1526.9" cy="410.4" rx="8.6" ry="3.9" fill="#c85a3a" opacity="0.88" transform="rotate(6 1526.9 410.4)"/><ellipse cx="1580.2" cy="377.7" rx="5.1" ry="5.8" fill="#d07a3a" opacity="0.71" transform="rotate(-78 1580.2 377.7)"/><ellipse cx="1473.3" cy="417.6" rx="5.1" ry="5.6" fill="#b09048" opacity="0.82" transform="rotate(38 1473.3 417.6)"/><ellipse cx="1516.8" cy="408.6" rx="9.1" ry="6.8" fill="#d07a3a" opacity="0.87" transform="rotate(-3 1516.8 408.6)"/><ellipse cx="1618.2" cy="385.7" rx="9.5" ry="6.1" fill="#c85a3a" opacity="0.73" transform="rotate(-44 1618.2 385.7)"/><ellipse cx="1514.3" cy="383.4" rx="8.3" ry="7.1" fill="#c84a48" opacity="0.75" transform="rotate(-8 1514.3 383.4)"/><ellipse cx="1496.8" cy="365.9" rx="8.3" ry="6.0" fill="#6a9a48" opacity="0.63" transform="rotate(39 1496.8 365.9)"/><ellipse cx="1473.6" cy="405.1" rx="7.7" ry="6.4" fill="#b04a48" opacity="0.64" transform="rotate(-55 1473.6 405.1)"/><ellipse cx="1510.7" cy="372.6" rx="5.1" ry="5.0" fill="#c85a3a" opacity="0.66" transform="rotate(-29 1510.7 372.6)"/><ellipse cx="1548.5" cy="417.2" rx="6.0" ry="7.4" fill="#c84a48" opacity="0.53" transform="rotate(14 1548.5 417.2)"/><ellipse cx="1558.1" cy="380.6" rx="7.4" ry="7.7" fill="#3a3a3a" opacity="0.66" transform="rotate(33 1558.1 380.6)"/><ellipse cx="1465.9" cy="377.9" rx="8.4" ry="7.7" fill="#c84a48" opacity="0.85" transform="rotate(44 1465.9 377.9)"/><ellipse cx="1545.8" cy="362.6" rx="8.7" ry="6.3" fill="#c85a3a" opacity="0.58" transform="rotate(19 1545.8 362.6)"/><ellipse cx="1629.2" cy="411.7" rx="8.1" ry="5.5" fill="#d07a3a" opacity="0.55" transform="rotate(38 1629.2 411.7)"/><ellipse cx="1596.2" cy="387.3" rx="7.3" ry="7.2" fill="#b09048" opacity="0.65" transform="rotate(7 1596.2 387.3)"/><ellipse cx="1434.8" cy="415.4" rx="7.6" ry="5.3" fill="#6a9a48" opacity="0.74" transform="rotate(15 1434.8 415.4)"/><ellipse cx="1639.3" cy="370.8" rx="7.3" ry="8.0" fill="#c84a48" opacity="0.58" transform="rotate(-5 1639.3 370.8)"/><ellipse cx="1551.9" cy="365.0" rx="9.8" ry="6.8" fill="#3a3a3a" opacity="0.54" transform="rotate(-50 1551.9 365.0)"/><ellipse cx="1637.5" cy="407.8" rx="5.7" ry="3.6" fill="#d07a3a" opacity="0.70" transform="rotate(79 1637.5 407.8)"/><ellipse cx="1439.9" cy="412.5" rx="8.6" ry="4.3" fill="#c84a48" opacity="0.68" transform="rotate(6 1439.9 412.5)"/><ellipse cx="1624.1" cy="373.4" rx="6.4" ry="6.2" fill="#d07a3a" opacity="0.54" transform="rotate(-10 1624.1 373.4)"/><ellipse cx="1599.1" cy="412.9" rx="5.4" ry="5.5" fill="#c85a3a" opacity="0.81" transform="rotate(8 1599.1 412.9)"/><ellipse cx="1633.3" cy="408.2" rx="5.8" ry="4.8" fill="#d07a3a" opacity="0.63" transform="rotate(69 1633.3 408.2)"/><ellipse cx="1644.7" cy="374.7" rx="6.4" ry="5.1" fill="#8a4a7a" opacity="0.51" transform="rotate(29 1644.7 374.7)"/><ellipse cx="1532.1" cy="390.4" rx="5.4" ry="6.2" fill="#c84a48" opacity="0.85" transform="rotate(36 1532.1 390.4)"/><ellipse cx="1470.3" cy="400.8" rx="7.2" ry="3.1" fill="#c84a48" opacity="0.78" transform="rotate(55 1470.3 400.8)"/><ellipse cx="1642.6" cy="400.2" rx="6.0" ry="4.0" fill="#b04a48" opacity="0.57" transform="rotate(13 1642.6 400.2)"/><ellipse cx="1434.5" cy="378.1" rx="6.3" ry="4.7" fill="#c84a48" opacity="0.62" transform="rotate(-79 1434.5 378.1)"/><ellipse cx="1440.9" cy="373.9" rx="8.6" ry="7.4" fill="#8a4a7a" opacity="0.58" transform="rotate(-69 1440.9 373.9)"/><ellipse cx="1486.1" cy="383.7" rx="8.1" ry="4.4" fill="#b04a48" opacity="0.70" transform="rotate(71 1486.1 383.7)"/><ellipse cx="1504.7" cy="402.8" rx="6.2" ry="5.9" fill="#6a9a48" opacity="0.55" transform="rotate(60 1504.7 402.8)"/><ellipse cx="1644.0" cy="366.5" rx="8.2" ry="4.1" fill="#3a3a3a" opacity="0.66" transform="rotate(39 1644.0 366.5)"/><ellipse cx="1563.3" cy="388.0" rx="5.3" ry="5.1" fill="#6a9a48" opacity="0.73" transform="rotate(25 1563.3 388.0)"/><ellipse cx="1486.6" cy="400.4" rx="5.1" ry="6.1" fill="#c85a3a" opacity="0.66" transform="rotate(-59 1486.6 400.4)"/><ellipse cx="1630.9" cy="376.6" rx="7.1" ry="4.7" fill="#d07a3a" opacity="0.72" transform="rotate(-64 1630.9 376.6)"/><ellipse cx="1631.2" cy="367.1" rx="6.8" ry="4.9" fill="#c84a48" opacity="0.90" transform="rotate(51 1631.2 367.1)"/><ellipse cx="1625.8" cy="400.7" rx="5.8" ry="3.4" fill="#b04a48" opacity="0.69" transform="rotate(-29 1625.8 400.7)"/><ellipse cx="1579.3" cy="397.1" rx="9.9" ry="7.9" fill="#8a4a7a" opacity="0.67" transform="rotate(-43 1579.3 397.1)"/><ellipse cx="1549.5" cy="368.4" rx="5.3" ry="8.0" fill="#8a4a7a" opacity="0.82" transform="rotate(69 1549.5 368.4)"/><ellipse cx="1544.1" cy="395.9" rx="7.5" ry="7.2" fill="#8a4a7a" opacity="0.54" transform="rotate(47 1544.1 395.9)"/><ellipse cx="1425.8" cy="417.6" rx="8.5" ry="6.9" fill="#6a9a48" opacity="0.77" transform="rotate(75 1425.8 417.6)"/><ellipse cx="1534.0" cy="413.3" rx="7.2" ry="3.8" fill="#c84a48" opacity="0.84" transform="rotate(71 1534.0 413.3)"/><ellipse cx="1631.0" cy="363.4" rx="6.8" ry="5.7" fill="#d07a3a" opacity="0.81" transform="rotate(-65 1631.0 363.4)"/><ellipse cx="1654.7" cy="394.7" rx="5.3" ry="4.2" fill="#d07a3a" opacity="0.70" transform="rotate(-31 1654.7 394.7)"/><ellipse cx="1504.7" cy="433.2" rx="8.0" ry="5.3" fill="#b03a4a" opacity="0.69" transform="rotate(-53 1504.7 433.2)"/><ellipse cx="1445.1" cy="426.5" rx="9.5" ry="7.0" fill="#4a5a9a" opacity="0.51" transform="rotate(75 1445.1 426.5)"/><ellipse cx="1546.0" cy="443.2" rx="8.1" ry="7.3" fill="#9a4a9a" opacity="0.62" transform="rotate(-78 1546.0 443.2)"/><ellipse cx="1456.9" cy="468.7" rx="8.7" ry="6.6" fill="#b03a4a" opacity="0.57" transform="rotate(19 1456.9 468.7)"/><ellipse cx="1517.2" cy="448.6" rx="9.6" ry="5.7" fill="#3a3a3a" opacity="0.79" transform="rotate(-73 1517.2 448.6)"/><ellipse cx="1519.9" cy="422.9" rx="6.3" ry="3.6" fill="#c05a40" opacity="0.58" transform="rotate(-2 1519.9 422.9)"/><ellipse cx="1577.0" cy="473.0" rx="9.7" ry="5.8" fill="#4a5a9a" opacity="0.82" transform="rotate(-64 1577.0 473.0)"/><ellipse cx="1570.2" cy="434.6" rx="8.0" ry="4.1" fill="#9a4a9a" opacity="0.62" transform="rotate(-4 1570.2 434.6)"/><ellipse cx="1506.0" cy="444.7" rx="7.3" ry="3.2" fill="#3a3a3a" opacity="0.66" transform="rotate(-54 1506.0 444.7)"/><ellipse cx="1511.7" cy="438.0" rx="9.1" ry="6.4" fill="#7a3a6a" opacity="0.60" transform="rotate(-30 1511.7 438.0)"/><ellipse cx="1536.2" cy="432.3" rx="8.7" ry="5.4" fill="#9a4a9a" opacity="0.60" transform="rotate(15 1536.2 432.3)"/><ellipse cx="1445.2" cy="460.6" rx="6.8" ry="4.2" fill="#4a5a9a" opacity="0.73" transform="rotate(54 1445.2 460.6)"/><ellipse cx="1470.4" cy="465.3" rx="5.3" ry="3.9" fill="#9a4a9a" opacity="0.66" transform="rotate(41 1470.4 465.3)"/><ellipse cx="1432.7" cy="423.8" rx="6.3" ry="4.4" fill="#3a3a3a" opacity="0.83" transform="rotate(24 1432.7 423.8)"/><ellipse cx="1509.6" cy="423.6" rx="7.9" ry="3.5" fill="#c05a40" opacity="0.84" transform="rotate(53 1509.6 423.6)"/><ellipse cx="1498.8" cy="437.7" rx="9.1" ry="6.9" fill="#7a3a6a" opacity="0.56" transform="rotate(80 1498.8 437.7)"/><ellipse cx="1537.7" cy="442.5" rx="5.4" ry="3.7" fill="#6a4ab0" opacity="0.71" transform="rotate(-76 1537.7 442.5)"/><ellipse cx="1644.2" cy="464.7" rx="7.9" ry="3.0" fill="#7a3a6a" opacity="0.64" transform="rotate(-26 1644.2 464.7)"/><ellipse cx="1570.1" cy="474.6" rx="9.1" ry="3.9" fill="#9a4a9a" opacity="0.63" transform="rotate(40 1570.1 474.6)"/><ellipse cx="1510.7" cy="445.8" rx="7.2" ry="3.6" fill="#6a4ab0" opacity="0.81" transform="rotate(36 1510.7 445.8)"/><ellipse cx="1620.5" cy="477.3" rx="6.8" ry="7.2" fill="#7a3a6a" opacity="0.50" transform="rotate(-61 1620.5 477.3)"/><ellipse cx="1494.4" cy="477.1" rx="7.8" ry="7.6" fill="#b03a4a" opacity="0.49" transform="rotate(-28 1494.4 477.1)"/><ellipse cx="1453.6" cy="476.7" rx="5.8" ry="4.4" fill="#c05a40" opacity="0.46" transform="rotate(-11 1453.6 476.7)"/><ellipse cx="1510.6" cy="459.8" rx="9.6" ry="5.5" fill="#7a3a6a" opacity="0.77" transform="rotate(2 1510.6 459.8)"/><ellipse cx="1535.6" cy="452.1" rx="9.3" ry="6.9" fill="#6a4ab0" opacity="0.53" transform="rotate(-25 1535.6 452.1)"/><ellipse cx="1459.3" cy="439.7" rx="8.0" ry="5.6" fill="#c05a40" opacity="0.63" transform="rotate(14 1459.3 439.7)"/><ellipse cx="1530.9" cy="465.8" rx="5.7" ry="6.5" fill="#c05a40" opacity="0.58" transform="rotate(32 1530.9 465.8)"/><ellipse cx="1476.1" cy="434.2" rx="8.7" ry="5.9" fill="#6a4ab0" opacity="0.82" transform="rotate(48 1476.1 434.2)"/><ellipse cx="1481.2" cy="433.1" rx="6.1" ry="7.5" fill="#9a4a9a" opacity="0.67" transform="rotate(76 1481.2 433.1)"/><ellipse cx="1638.3" cy="446.3" rx="7.4" ry="4.2" fill="#3a3a3a" opacity="0.70" transform="rotate(29 1638.3 446.3)"/><ellipse cx="1540.1" cy="427.3" rx="10.0" ry="4.8" fill="#b03a4a" opacity="0.67" transform="rotate(-27 1540.1 427.3)"/><ellipse cx="1456.4" cy="477.0" rx="8.8" ry="7.0" fill="#9a4a9a" opacity="0.55" transform="rotate(-55 1456.4 477.0)"/><ellipse cx="1656.7" cy="471.4" rx="8.7" ry="4.7" fill="#b03a4a" opacity="0.76" transform="rotate(13 1656.7 471.4)"/><ellipse cx="1635.9" cy="475.3" rx="8.4" ry="4.8" fill="#3a3a3a" opacity="0.74" transform="rotate(-33 1635.9 475.3)"/><ellipse cx="1625.8" cy="463.1" rx="6.3" ry="4.2" fill="#9a4a9a" opacity="0.52" transform="rotate(62 1625.8 463.1)"/><ellipse cx="1580.3" cy="435.8" rx="7.8" ry="4.3" fill="#9a4a9a" opacity="0.56" transform="rotate(-34 1580.3 435.8)"/><ellipse cx="1486.6" cy="449.6" rx="9.4" ry="3.8" fill="#3a3a3a" opacity="0.67" transform="rotate(-59 1486.6 449.6)"/><ellipse cx="1441.4" cy="467.6" rx="5.8" ry="6.8" fill="#7a3a6a" opacity="0.82" transform="rotate(44 1441.4 467.6)"/><ellipse cx="1482.4" cy="421.4" rx="9.7" ry="4.8" fill="#3a3a3a" opacity="0.67" transform="rotate(-3 1482.4 421.4)"/><ellipse cx="1584.7" cy="439.4" rx="6.1" ry="6.2" fill="#6a4ab0" opacity="0.68" transform="rotate(-24 1584.7 439.4)"/><ellipse cx="1475.7" cy="476.9" rx="5.6" ry="7.7" fill="#7a3a6a" opacity="0.75" transform="rotate(-32 1475.7 476.9)"/><ellipse cx="1420.6" cy="475.9" rx="9.8" ry="4.0" fill="#6a4ab0" opacity="0.57" transform="rotate(60 1420.6 475.9)"/><ellipse cx="1434.7" cy="459.3" rx="5.3" ry="3.1" fill="#4a5a9a" opacity="0.51" transform="rotate(64 1434.7 459.3)"/><ellipse cx="1653.8" cy="478.4" rx="9.6" ry="5.7" fill="#c05a40" opacity="0.66" transform="rotate(-50 1653.8 478.4)"/><ellipse cx="1546.4" cy="440.0" rx="7.5" ry="4.0" fill="#7a3a6a" opacity="0.49" transform="rotate(-58 1546.4 440.0)"/><ellipse cx="1466.3" cy="461.0" rx="5.1" ry="7.7" fill="#4a5a9a" opacity="0.49" transform="rotate(64 1466.3 461.0)"/><ellipse cx="1481.5" cy="431.6" rx="6.4" ry="3.8" fill="#4a5a9a" opacity="0.83" transform="rotate(68 1481.5 431.6)"/><ellipse cx="1626.1" cy="476.0" rx="5.1" ry="5.4" fill="#4a5a9a" opacity="0.85" transform="rotate(11 1626.1 476.0)"/><ellipse cx="1635.6" cy="437.6" rx="5.8" ry="6.8" fill="#b03a4a" opacity="0.83" transform="rotate(-75 1635.6 437.6)"/><ellipse cx="1446.8" cy="471.9" rx="9.8" ry="3.1" fill="#9a4a9a" opacity="0.51" transform="rotate(-50 1446.8 471.9)"/><ellipse cx="1565.1" cy="470.5" rx="8.8" ry="6.4" fill="#9a4a9a" opacity="0.45" transform="rotate(-69 1565.1 470.5)"/><ellipse cx="1610.6" cy="478.5" rx="9.2" ry="5.0" fill="#6a4ab0" opacity="0.54" transform="rotate(-17 1610.6 478.5)"/><ellipse cx="1635.6" cy="433.0" rx="5.2" ry="4.8" fill="#7a3a6a" opacity="0.58" transform="rotate(28 1635.6 433.0)"/><ellipse cx="1529.2" cy="432.5" rx="9.4" ry="3.9" fill="#b03a4a" opacity="0.53" transform="rotate(-8 1529.2 432.5)"/><ellipse cx="1473.0" cy="475.0" rx="5.9" ry="6.4" fill="#4a5a9a" opacity="0.55" transform="rotate(4 1473.0 475.0)"/><ellipse cx="1481.2" cy="472.4" rx="5.9" ry="4.2" fill="#6a4ab0" opacity="0.65" transform="rotate(38 1481.2 472.4)"/><ellipse cx="1469.1" cy="420.1" rx="6.2" ry="3.5" fill="#7a3a6a" opacity="0.76" transform="rotate(-41 1469.1 420.1)"/><ellipse cx="1472.3" cy="443.7" rx="9.9" ry="4.9" fill="#6a4ab0" opacity="0.48" transform="rotate(-68 1472.3 443.7)"/><ellipse cx="1620.5" cy="480.0" rx="7.1" ry="6.4" fill="#b03a4a" opacity="0.59" transform="rotate(46 1620.5 480.0)"/><ellipse cx="1511.1" cy="435.8" rx="8.0" ry="6.7" fill="#c05a40" opacity="0.84" transform="rotate(66 1511.1 435.8)"/><ellipse cx="1432.5" cy="420.0" rx="9.8" ry="5.1" fill="#b03a4a" opacity="0.51" transform="rotate(-47 1432.5 420.0)"/><ellipse cx="1630.8" cy="477.6" rx="9.7" ry="4.7" fill="#b03a4a" opacity="0.51" transform="rotate(34 1630.8 477.6)"/><ellipse cx="1646.9" cy="429.9" rx="5.7" ry="6.4" fill="#3a3a3a" opacity="0.74" transform="rotate(72 1646.9 429.9)"/><ellipse cx="1528.9" cy="441.1" rx="5.6" ry="4.4" fill="#3a3a3a" opacity="0.48" transform="rotate(-50 1528.9 441.1)"/><ellipse cx="1503.4" cy="421.1" rx="6.5" ry="3.9" fill="#9a4a9a" opacity="0.56" transform="rotate(4 1503.4 421.1)"/><ellipse cx="1615.9" cy="445.4" rx="9.0" ry="4.3" fill="#9a4a9a" opacity="0.48" transform="rotate(-44 1615.9 445.4)"/><ellipse cx="1438.4" cy="437.2" rx="8.8" ry="7.6" fill="#4a5a9a" opacity="0.52" transform="rotate(74 1438.4 437.2)"/><ellipse cx="1573.2" cy="424.5" rx="7.4" ry="7.5" fill="#4a5a9a" opacity="0.63" transform="rotate(16 1573.2 424.5)"/><ellipse cx="1623.0" cy="446.8" rx="6.0" ry="7.7" fill="#7a3a6a" opacity="0.46" transform="rotate(42 1623.0 446.8)"/><ellipse cx="1516.1" cy="421.2" rx="5.8" ry="3.9" fill="#7a3a6a" opacity="0.78" transform="rotate(74 1516.1 421.2)"/><ellipse cx="1425.8" cy="444.3" rx="9.8" ry="6.1" fill="#9a4a9a" opacity="0.64" transform="rotate(-51 1425.8 444.3)"/><ellipse cx="1423.6" cy="436.9" rx="5.2" ry="4.3" fill="#4a5a9a" opacity="0.67" transform="rotate(30 1423.6 436.9)"/><ellipse cx="1480.2" cy="464.1" rx="5.8" ry="3.7" fill="#4a5a9a" opacity="0.68" transform="rotate(-13 1480.2 464.1)"/><ellipse cx="1549.6" cy="446.5" rx="6.7" ry="7.6" fill="#b03a4a" opacity="0.72" transform="rotate(19 1549.6 446.5)"/><ellipse cx="1633.9" cy="458.8" rx="7.3" ry="5.8" fill="#6a4ab0" opacity="0.76" transform="rotate(69 1633.9 458.8)"/><ellipse cx="1495.2" cy="452.4" rx="7.0" ry="6.5" fill="#6a4ab0" opacity="0.56" transform="rotate(-64 1495.2 452.4)"/><ellipse cx="1585.0" cy="439.5" rx="7.8" ry="5.5" fill="#3a3a3a" opacity="0.66" transform="rotate(-19 1585.0 439.5)"/><ellipse cx="1420.4" cy="448.8" rx="6.3" ry="5.9" fill="#7a3a6a" opacity="0.68" transform="rotate(-71 1420.4 448.8)"/><ellipse cx="1496.7" cy="457.6" rx="5.3" ry="3.7" fill="#9a4a9a" opacity="0.56" transform="rotate(-9 1496.7 457.6)"/><ellipse cx="1440.3" cy="467.6" rx="6.2" ry="7.1" fill="#3a3a3a" opacity="0.47" transform="rotate(-49 1440.3 467.6)"/><ellipse cx="1572.0" cy="424.3" rx="6.8" ry="3.3" fill="#9a4a9a" opacity="0.65" transform="rotate(-3 1572.0 424.3)"/><ellipse cx="1489.7" cy="470.2" rx="7.5" ry="4.7" fill="#b03a4a" opacity="0.71" transform="rotate(30 1489.7 470.2)"/><ellipse cx="1527.1" cy="436.5" rx="8.3" ry="3.6" fill="#b03a4a" opacity="0.77" transform="rotate(34 1527.1 436.5)"/><ellipse cx="1614.3" cy="467.7" rx="5.9" ry="7.1" fill="#6a4ab0" opacity="0.74" transform="rotate(-73 1614.3 467.7)"/><ellipse cx="1614.1" cy="477.3" rx="8.3" ry="5.4" fill="#7a3a6a" opacity="0.69" transform="rotate(66 1614.1 477.3)"/><ellipse cx="1643.8" cy="457.9" rx="5.3" ry="6.3" fill="#9a4a9a" opacity="0.55" transform="rotate(-34 1643.8 457.9)"/><ellipse cx="1513.6" cy="433.8" rx="8.1" ry="6.9" fill="#6a4ab0" opacity="0.84" transform="rotate(20 1513.6 433.8)"/><ellipse cx="1450.1" cy="463.1" rx="5.3" ry="7.3" fill="#3a3a3a" opacity="0.61" transform="rotate(40 1450.1 463.1)"/><ellipse cx="1420.6" cy="434.4" rx="7.5" ry="7.6" fill="#b03a4a" opacity="0.60" transform="rotate(-23 1420.6 434.4)"/><ellipse cx="1425.5" cy="428.0" rx="9.0" ry="4.1" fill="#7a3a6a" opacity="0.70" transform="rotate(-61 1425.5 428.0)"/><ellipse cx="1456.8" cy="444.7" rx="7.3" ry="6.5" fill="#9a4a9a" opacity="0.71" transform="rotate(30 1456.8 444.7)"/><ellipse cx="1646.1" cy="438.5" rx="9.6" ry="7.6" fill="#6a4ab0" opacity="0.66" transform="rotate(13 1646.1 438.5)"/><ellipse cx="1492.7" cy="446.8" rx="5.3" ry="3.5" fill="#b03a4a" opacity="0.66" transform="rotate(-2 1492.7 446.8)"/><ellipse cx="1428.5" cy="471.5" rx="7.7" ry="5.4" fill="#7a3a6a" opacity="0.66" transform="rotate(-34 1428.5 471.5)"/><ellipse cx="1643.9" cy="440.6" rx="7.2" ry="5.0" fill="#6a4ab0" opacity="0.47" transform="rotate(-23 1643.9 440.6)"/><ellipse cx="1546.5" cy="476.8" rx="8.2" ry="5.1" fill="#c05a40" opacity="0.82" transform="rotate(46 1546.5 476.8)"/><ellipse cx="1640.0" cy="422.9" rx="7.1" ry="5.4" fill="#c05a40" opacity="0.75" transform="rotate(9 1640.0 422.9)"/><ellipse cx="1573.9" cy="476.2" rx="9.5" ry="4.3" fill="#4a5a9a" opacity="0.62" transform="rotate(-78 1573.9 476.2)"/><ellipse cx="1440.9" cy="429.3" rx="9.9" ry="6.1" fill="#b03a4a" opacity="0.67" transform="rotate(-36 1440.9 429.3)"/><ellipse cx="1592.7" cy="463.1" rx="6.6" ry="6.8" fill="#7a3a6a" opacity="0.47" transform="rotate(-71 1592.7 463.1)"/><ellipse cx="1575.5" cy="370.7" rx="9.8" ry="4.5" fill="#389030" opacity="0.67" transform="rotate(-71 1575.5 370.7)"/><ellipse cx="1576.4" cy="332.5" rx="8.8" ry="5.5" fill="#5ac048" opacity="0.70" transform="rotate(-0 1576.4 332.5)"/><ellipse cx="1640.6" cy="331.2" rx="9.3" ry="4.7" fill="#6ab050" opacity="0.41" transform="rotate(34 1640.6 331.2)"/><ellipse cx="1581.6" cy="321.0" rx="7.9" ry="3.7" fill="#48b038" opacity="0.62" transform="rotate(37 1581.6 321.0)"/><ellipse cx="1625.7" cy="329.2" rx="7.0" ry="6.9" fill="#389030" opacity="0.68" transform="rotate(22 1625.7 329.2)"/><ellipse cx="1600.2" cy="319.2" rx="9.3" ry="6.8" fill="#6ab050" opacity="0.62" transform="rotate(59 1600.2 319.2)"/><ellipse cx="1587.2" cy="319.8" rx="6.4" ry="4.8" fill="#5ac048" opacity="0.51" transform="rotate(-10 1587.2 319.8)"/><ellipse cx="1610.8" cy="335.0" rx="8.5" ry="5.4" fill="#389030" opacity="0.59" transform="rotate(-66 1610.8 335.0)"/><ellipse cx="1636.2" cy="351.8" rx="8.2" ry="6.5" fill="#6ab050" opacity="0.67" transform="rotate(-68 1636.2 351.8)"/><ellipse cx="1590.4" cy="330.4" rx="8.4" ry="6.2" fill="#6ab050" opacity="0.53" transform="rotate(25 1590.4 330.4)"/><ellipse cx="1590.3" cy="359.6" rx="8.2" ry="7.9" fill="#389030" opacity="0.57" transform="rotate(-17 1590.3 359.6)"/><ellipse cx="1645.6" cy="336.6" rx="7.7" ry="4.0" fill="#6ab050" opacity="0.47" transform="rotate(-16 1645.6 336.6)"/><ellipse cx="1659.4" cy="328.6" rx="9.7" ry="3.9" fill="#48b038" opacity="0.65" transform="rotate(54 1659.4 328.6)"/><ellipse cx="1605.2" cy="349.9" rx="8.8" ry="7.0" fill="#389030" opacity="0.57" transform="rotate(-40 1605.2 349.9)"/><ellipse cx="1633.5" cy="348.3" rx="8.2" ry="7.9" fill="#5ac048" opacity="0.63" transform="rotate(14 1633.5 348.3)"/><ellipse cx="1642.9" cy="345.5" rx="6.1" ry="6.9" fill="#389030" opacity="0.56" transform="rotate(-1 1642.9 345.5)"/><ellipse cx="1585.0" cy="351.8" rx="9.6" ry="6.5" fill="#389030" opacity="0.67" transform="rotate(75 1585.0 351.8)"/><ellipse cx="1630.8" cy="323.3" rx="6.2" ry="5.6" fill="#6ab050" opacity="0.57" transform="rotate(73 1630.8 323.3)"/><ellipse cx="1601.7" cy="359.0" rx="6.3" ry="4.9" fill="#5ac048" opacity="0.61" transform="rotate(53 1601.7 359.0)"/><ellipse cx="1604.2" cy="332.8" rx="7.4" ry="6.0" fill="#48b038" opacity="0.56" transform="rotate(-16 1604.2 332.8)"/><ellipse cx="1606.4" cy="360.6" rx="8.5" ry="7.3" fill="#5ac048" opacity="0.46" transform="rotate(-76 1606.4 360.6)"/><ellipse cx="1651.9" cy="352.4" rx="6.1" ry="4.4" fill="#48b038" opacity="0.55" transform="rotate(31 1651.9 352.4)"/><ellipse cx="1572.5" cy="362.2" rx="9.4" ry="4.5" fill="#389030" opacity="0.61" transform="rotate(-26 1572.5 362.2)"/><ellipse cx="1649.1" cy="329.8" rx="7.9" ry="5.0" fill="#6ab050" opacity="0.68" transform="rotate(46 1649.1 329.8)"/></g><path d="M1455,340 C1470,312 1495,296 1525,292 C1555,289 1580,293 1605,300" fill="none" stroke="#a8e8d0" stroke-width="11" opacity="0.7" filter="url(#b4)"/><path d="M1440,352 C1480,340 1520,333 1570,325" fill="none" stroke="#70c0d0" stroke-width="8" opacity="0.6" filter="url(#b3)"/><g filter="url(#b3)"><rect x="1326" y="350" width="120" height="22" rx="9" fill="#fffdf0"/><ellipse cx="1448" cy="354" rx="18" ry="13" fill="#f0f4c8" opacity="0.8"/><ellipse cx="1472" cy="343" rx="14" ry="9" fill="#c8f0e0" opacity="0.5"/><rect x="1628" y="283" width="122" height="17" rx="7" fill="#3040e8"/><ellipse cx="1600" cy="305" rx="30" ry="9" fill="#4050e0" opacity="0.7"/><rect x="1632" y="352" width="118" height="21" rx="8" fill="#68e64c"/><ellipse cx="1612" cy="348" rx="28" ry="16" fill="#58c040" opacity="0.45"/><rect x="1645" y="422" width="105" height="17" rx="7" fill="#e84a44"/><ellipse cx="1640" cy="418" rx="14" ry="16" fill="#e84a44" opacity="0.85"/></g></g>
<g stroke="#B8642E" stroke-width="1.4" ><line x1="1420.5" y1="124.0" x2="1420.5" y2="596.0"/><line x1="1538.5" y1="124.0" x2="1538.5" y2="596.0"/><line x1="1656.5" y1="124.0" x2="1656.5" y2="596.0"/><line x1="1302.5" y1="242.0" x2="1774.5" y2="242.0"/><line x1="1302.5" y1="301.0" x2="1774.5" y2="301.0"/><line x1="1302.5" y1="360.0" x2="1774.5" y2="360.0"/><line x1="1302.5" y1="419.0" x2="1774.5" y2="419.0"/><line x1="1302.5" y1="478.0" x2="1774.5" y2="478.0"/><line x1="1361.5" y1="242.0" x2="1361.5" y2="478.0"/><line x1="1715.5" y1="242.0" x2="1715.5" y2="478.0"/><line x1="1450.0" y1="242.0" x2="1450.0" y2="478.0"/><line x1="1420.5" y1="271.5" x2="1656.5" y2="271.5"/><line x1="1509.0" y1="242.0" x2="1509.0" y2="478.0"/><line x1="1420.5" y1="330.5" x2="1656.5" y2="330.5"/><line x1="1568.0" y1="242.0" x2="1568.0" y2="478.0"/><line x1="1420.5" y1="389.5" x2="1656.5" y2="389.5"/><line x1="1627.0" y1="242.0" x2="1627.0" y2="478.0"/><line x1="1420.5" y1="448.5" x2="1656.5" y2="448.5"/><line x1="1479.5" y1="242.0" x2="1479.5" y2="478.0"/><line x1="1597.5" y1="242.0" x2="1597.5" y2="478.0"/></g>
<rect x="1302.5" y="124" width="472.0" height="472" fill="none" stroke="#6a5a4a" stroke-width="1" />
<line x1="1395" y1="596" x2="1395" y2="600" stroke="#888" stroke-width="0.8" />
<line x1="1487" y1="596" x2="1487" y2="600" stroke="#888" stroke-width="0.8" />
<line x1="1580" y1="596" x2="1580" y2="600" stroke="#888" stroke-width="0.8" />
<line x1="1672" y1="596" x2="1672" y2="600" stroke="#888" stroke-width="0.8" />
<line x1="1764" y1="596" x2="1764" y2="600" stroke="#888" stroke-width="0.8" />
<line x1="1298.5" y1="217" x2="1302.5" y2="217" stroke="#888" stroke-width="0.8" />
<line x1="1298.5" y1="308" x2="1302.5" y2="308" stroke="#888" stroke-width="0.8" />
<line x1="1298.5" y1="400" x2="1302.5" y2="400" stroke="#888" stroke-width="0.8" />
<line x1="1298.5" y1="491" x2="1302.5" y2="491" stroke="#888" stroke-width="0.8" />
<line x1="1298.5" y1="584" x2="1302.5" y2="584" stroke="#888" stroke-width="0.8" />
<line x1="940" y1="495.5" x2="8" y2="672.5" stroke="#AF2119" stroke-width="3.6" />
<line x1="960" y1="496.5" x2="1777" y2="670.5" stroke="#AF2119" stroke-width="3.6" />
<rect x="930.9" y="464.3" width="29.3" height="31.3" fill="none" stroke="#AF2119" stroke-width="3"/>
<rect x="0" y="1188" width="1786" height="30" fill="url(#bgg)" />
<rect x="8.25" y="673.25" width="1768.5" height="531.5" fill="none" stroke="#AF2119" stroke-width="6.5" stroke-linejoin="round"/>
<rect x="26" y="692.3" width="435.2" height="494.5" fill="#FCF4D9" stroke="#262626" stroke-width="2"/>
<rect x="473.1" y="691.9" width="599.7" height="494.6" fill="#FCF4D9" stroke="#262626" stroke-width="2"/>
<rect x="1085.3" y="690.1" width="676.3" height="496.4" fill="#FCF4D9" stroke="#262626" stroke-width="2"/>
<text x="234.8" y="724" font-size="28" font-family='"Liberation Sans", sans-serif' fill="#262626" font-weight="bold" text-anchor="middle" textLength="202.8" lengthAdjust="spacingAndGlyphs" >Problem setup</text>
<text x="78" y="748" font-size="22.5" font-family='"Liberation Sans", sans-serif' fill="#222" textLength="126" lengthAdjust="spacingAndGlyphs" >Subdomain</text>
<text x="266.4" y="748" font-size="22.5" font-family='"Liberation Sans", sans-serif' fill="#222" textLength="139.8" lengthAdjust="spacingAndGlyphs" >Ground truth</text>
<rect x="91.3" y="757.5" width="100" height="99.5" fill="#F5E7D9" />
<rect x="91.3" y="757.5" width="32" height="99.5" fill="url(#pmlg)" />
<rect x="123.3" y="798.3" width="68" height="30.3" fill="#8F8580" />
<rect x="92" y="798.3" width="32.3" height="30.3" fill="url(#greyg)" />
<rect x="128.8" y="781.2" width="4.2" height="64.3" rx="2" fill="#4FB0A2"/>
<rect x="91.3" y="757.5" width="100" height="99.5" fill="none" stroke="#666" stroke-width="0.9" />
<g clip-path="url(#cl1)"><rect x="285.3" y="755.5" width="102.5" height="102" fill="#fdfbfd"/><rect x="285.3" y="755.5" width="102.5" height="102" fill="url(#pbg)" opacity="0.80"/><g filter="url(#b4)"><ellipse cx="306.3" cy="811.6" rx="13.3" ry="33.7" fill="#fff" opacity="0.90"/><ellipse cx="326.3" cy="811.6" rx="13.3" ry="33.7" fill="#fff" opacity="0.90"/><ellipse cx="346.8" cy="811.6" rx="13.3" ry="33.7" fill="#fff" opacity="0.90"/><ellipse cx="367.8" cy="811.6" rx="13.3" ry="33.7" fill="#fff" opacity="0.90"/><ellipse cx="387.8" cy="811.6" rx="13.3" ry="33.7" fill="#fff" opacity="0.90"/></g><g filter="url(#b2)"><ellipse cx="289.4" cy="811.6" rx="6.1" ry="25.5" fill="url(#gBl)" opacity="0.80"/><rect x="298.9" y="789.2" width="14.9" height="44.9" rx="7.4" ry="13.4" fill="#dc2a20" opacity="1.00"/><rect x="318.9" y="789.2" width="14.9" height="44.9" rx="7.4" ry="13.4" fill="#1020dc" opacity="1.00"/><rect x="339.4" y="789.2" width="14.9" height="44.9" rx="7.4" ry="13.4" fill="#dc2a20" opacity="1.00"/><rect x="360.4" y="789.2" width="14.9" height="44.9" rx="7.4" ry="13.4" fill="#1020dc" opacity="1.00"/><rect x="380.4" y="789.2" width="14.9" height="44.9" rx="7.4" ry="13.4" fill="#dc2a20" opacity="1.00"/></g><g filter="url(#b3)"><ellipse cx="306.3" cy="811.6" rx="4.2" ry="13.5" fill="#6a0808" opacity="0.90"/><ellipse cx="326.3" cy="811.6" rx="4.2" ry="13.5" fill="#000048" opacity="0.90"/><ellipse cx="346.8" cy="811.6" rx="4.2" ry="13.5" fill="#6a0808" opacity="0.90"/><ellipse cx="367.8" cy="811.6" rx="4.2" ry="13.5" fill="#000048" opacity="0.90"/><ellipse cx="387.8" cy="811.6" rx="4.2" ry="13.5" fill="#6a0808" opacity="0.90"/></g></g><rect x="285.3" y="755.5" width="102.5" height="102" fill="none" stroke="#555" stroke-width="0.9"/>
<rect x="34.6" y="874" width="417" height="303.1" fill="#FCF4D9" stroke="#262626" stroke-width="2"/>
<text x="107.6" y="906" font-size="35" font-family='"Liberation Serif", serif' fill="#111" font-weight="bold" text-anchor="middle" >A</text>
<circle cx="194.5" cy="897.5" r="3.6" fill="#111"/>
<text x="242" y="903.5" font-size="33" font-family='"Liberation Serif", serif' fill="#111" font-weight="bold" font-style="italic" >x</text>
<text x="262" y="893" font-size="22" font-family='"Liberation Serif", serif' fill="#111" font-weight="bold" >*</text>
<rect x="318" y="893.5" width="16" height="3.2" fill="#111" />
<rect x="318" y="900.3" width="16" height="3.2" fill="#111" />
<text x="388" y="908.3" font-size="34" font-family='"Liberation Serif", serif' fill="#111" font-weight="bold" text-anchor="middle" >b</text>
<rect x="45.2" y="914.7" width="137" height="137.8" fill="#fff"/><g clip-path="url(#matclip)" stroke-linecap="butt"><line x1="36" y1="918" x2="186" y2="1068" stroke="#bdbdbd" stroke-width="10"/><line x1="40" y1="910" x2="190" y2="1060" stroke="#161616" stroke-width="7"/><line x1="36" y1="928" x2="186" y2="1078" stroke="#7a7a7a" stroke-width="4"/><line x1="70" y1="910" x2="215" y2="1055" stroke="#9a9a9a" stroke-width="5"/><line x1="146" y1="910" x2="200" y2="964" stroke="#8a8a8a" stroke-width="5"/><line x1="36" y1="940" x2="160" y2="1064" stroke="#9a9a9a" stroke-width="5"/><line x1="36" y1="1020" x2="80" y2="1064" stroke="#8a8a8a" stroke-width="5"/></g><rect x="57" y="940" width="118" height="42" fill="#fff" opacity="0.55"/><rect x="57" y="982" width="108" height="22" fill="#fff" opacity="0.55"/><rect x="67" y="1005" width="92" height="22" fill="#fff" opacity="0.55"/><rect x="45.2" y="914.7" width="137" height="137.8" fill="none" stroke="#111" stroke-width="3"/>
<text x="61.3" y="967" font-size="20" font-family='"Liberation Serif", serif' fill="#222" >∇×</text>
<text x="93" y="952" font-size="17" font-family='"Liberation Serif", serif' fill="#222" text-anchor="middle" >1</text>
<rect x="88.5" y="959.8" width="9" height="2.6" fill="#222" />
<text x="93" y="978" font-size="18" font-family='"Liberation Serif", serif' fill="#222" text-anchor="middle" font-style="italic" >μ</text>
<text x="101.5" y="967" font-size="20" font-family='"Liberation Serif", serif' fill="#222" textLength="60" lengthAdjust="spacingAndGlyphs" >∇× −εω</text>
<text x="163" y="958" font-size="13" font-family='"Liberation Serif", serif' fill="#222" >2</text>
<text x="63.7" y="997.4" font-size="19" font-family='"Liberation Sans", sans-serif' fill="#222" textLength="98.7" lengthAdjust="spacingAndGlyphs" >+ boundary</text>
<text x="71.4" y="1022.7" font-size="19" font-family='"Liberation Sans", sans-serif' fill="#222" textLength="82.6" lengthAdjust="spacingAndGlyphs" >condition</text>
<circle cx="194.5" cy="983" r="3.6" fill="#111"/>
<g clip-path="url(#cl2)"><rect x="205.3" y="930" width="105.2" height="103.5" fill="#fbf9fd"/><g filter="url(#b4)"><ellipse cx="210.6" cy="981.8" rx="8.4" ry="51.8" fill="#8a94f0" opacity="0.55"/><ellipse cx="228.4" cy="981.8" rx="8.4" ry="51.8" fill="#f0a0a0" opacity="0.55"/><ellipse cx="249.5" cy="981.8" rx="8.4" ry="51.8" fill="#8a94f0" opacity="0.55"/><ellipse cx="270.5" cy="981.8" rx="8.4" ry="51.8" fill="#f0a0a0" opacity="0.55"/><ellipse cx="291.6" cy="981.8" rx="8.4" ry="51.8" fill="#8a94f0" opacity="0.55"/></g><ellipse cx="309.4" cy="989.0" rx="7.4" ry="31.0" fill="url(#gR)"/></g><rect x="214.3" y="947" width="86.2" height="72.5" fill="#fff" opacity="0.6"/><rect x="205.3" y="930" width="105.2" height="103.5" fill="none" stroke="#6a6a9a" stroke-width="1"/>
<text x="257.5" y="973.4" font-size="24" font-family='"Liberation Serif", serif' fill="#222" text-anchor="middle" >E</text>
<text x="256.7" y="1005.1" font-size="18.5" font-family='"Liberation Sans", sans-serif' fill="#222" text-anchor="middle" textLength="68.2" lengthAdjust="spacingAndGlyphs" >(flatten)</text>
<rect x="319" y="977" width="15" height="3.4" fill="#111" />
<rect x="319" y="984.4" width="15" height="3.4" fill="#111" />
<rect x="339.4" y="929.5" width="103.6" height="103.3" fill="#FCEEEC" stroke="#c86050" stroke-width="1.1"/>
<rect x="351.4" y="939.6" width="84.3" height="79.4" fill="#fff" opacity="0.6"/>
<line x1="380.4" y1="939.6" x2="380.4" y2="1019" stroke="#d04040" stroke-width="1" />
<text x="356.3" y="969.7" font-size="22" font-family='"Liberation Serif", serif' fill="#222" >−j</text>
<text x="385.5" y="969.7" font-size="18.5" font-family='"Liberation Sans", sans-serif' fill="#222" textLength="45.5" lengthAdjust="spacingAndGlyphs" >+ b.c.</text>
<text x="396.2" y="1005.9" font-size="18.5" font-family='"Liberation Sans", sans-serif' fill="#222" text-anchor="middle" textLength="67.9" lengthAdjust="spacingAndGlyphs" >(flatten)</text>
<text x="51.7" y="1086.5" font-size="23" font-family='"Liberation Sans", sans-serif' fill="#111" font-style="italic" textLength="101.5" lengthAdjust="spacingAndGlyphs" >Residual:</text>
<text x="165.5" y="1086.5" font-size="25" font-family='"Liberation Serif", serif' fill="#111" font-weight="bold" textLength="142.9" lengthAdjust="spacingAndGlyphs" >r = b − A · x̂</text>
<text x="185.2" y="1121.4" font-size="25" font-family='"Liberation Serif", serif' fill="#222" font-weight="bold" textLength="234.1" lengthAdjust="spacingAndGlyphs" >= <tspan font-style="italic">A</tspan> · (<tspan font-style="italic">x</tspan>* − <tspan font-style="italic">x̂</tspan>) = <tspan font-style="italic">A</tspan> · <tspan font-style="italic">e</tspan></text>
<text x="50.9" y="1159.6" font-size="23" font-family='"Liberation Sans", sans-serif' fill="#111" font-style="italic" textLength="59.1" lengthAdjust="spacingAndGlyphs" >Error:</text>
<text x="164.3" y="1163.3" font-size="25" font-family='"Liberation Serif", serif' fill="#222" font-weight="bold" textLength="266" lengthAdjust="spacingAndGlyphs" ><tspan font-style="italic">e</tspan> = <tspan font-style="italic">A</tspan><tspan font-size="17" dy="-10">−1</tspan><tspan dy="10"> · </tspan><tspan font-style="italic">r</tspan> <tspan fill="#E0302A">≈ </tspan><tspan fill="#E0302A" font-style="italic">model</tspan><tspan fill="#E0302A">(</tspan><tspan fill="#E0302A" font-style="italic">r</tspan><tspan fill="#E0302A">)</tspan></text>
<text x="776" y="724.6" font-size="29" font-family='"Liberation Sans", sans-serif' fill="#262626" font-weight="bold" text-anchor="middle" textLength="425.1" lengthAdjust="spacingAndGlyphs" >Iterative residual minimization</text>
<text x="573.8" y="760.7" font-size="25" font-family='"Liberation Serif", serif' fill="#222" font-style="italic" >r</text>
<text x="585" y="767" font-size="17" font-family='"Liberation Serif", serif' fill="#222" textLength="33" lengthAdjust="spacingAndGlyphs" ><tspan font-style="italic">k</tspan>+1</text>
<path d="M640,775.3 L551.3,775.3 L551.3,836" fill="none" stroke="#B0221C" stroke-width="4.8"/>
<polygon points="538.7,833.8 563.9,833.8 551.3,859.1" fill="#B0221C"/>
<rect x="647.2" y="756.6" width="245" height="40.5" fill="#fff" stroke="#262626" stroke-width="3.2"/>
<text x="666.7" y="783.5" font-size="23" font-family='"Liberation Sans", sans-serif' fill="#222" textLength="205.4" lengthAdjust="spacingAndGlyphs" >Orthonormal basis</text>
<path d="M1001.8,857 L1001.8,777.5 L924,777.5" fill="none" stroke="#B0221C" stroke-width="5"/>
<polygon points="926.6,764.9 926.6,789.8 901.4,777.5" fill="#B0221C"/>
<text x="925.9" y="763.4" font-size="22" font-family='"Liberation Sans", sans-serif' fill="#222" textLength="109.7" lengthAdjust="spacingAndGlyphs" >Construct</text>
<path d="M711.5,812.5 C693,813 680,822 679.5,837 C679,848 689,855 702,858.5 L703,852.5 C692,849 685.5,844 686,837 C686.5,828 697,822.5 711.5,822.5 Z" fill="url(#cgl)" stroke="#2a2a2a" stroke-width="1.9" stroke-linejoin="round"/>
<polygon points="701,849 712,859 702.5,868" fill="#fff" stroke="#2a2a2a" stroke-width="1.9" stroke-linejoin="round"/>
<path d="M835,856.5 C851,855.5 860.5,850 860.5,842 C860.5,834 853,828.5 843,826 L844,818.5 C857,821 866.5,829 866.5,842 C866.5,856 852,865 835,865.5 Z" fill="url(#cgr)" stroke="#2a2a2a" stroke-width="1.9" stroke-linejoin="round"/>
<polygon points="841.5,813 834,821 842.5,830" fill="#fff" stroke="#2a2a2a" stroke-width="1.9" stroke-linejoin="round"/>
<text x="774.6" y="832.3" font-size="23" font-family='"Liberation Sans", sans-serif' fill="#262626" font-weight="bold" text-anchor="middle" textLength="106.7" lengthAdjust="spacingAndGlyphs" >F-GMRES</text>
<text x="774.4" y="863.8" font-size="23" font-family='"Liberation Sans", sans-serif' fill="#262626" font-weight="bold" text-anchor="middle" textLength="112.3" lengthAdjust="spacingAndGlyphs" >Iterations</text>
<text x="496.1" y="888.7" font-size="23" font-family='"Liberation Sans", sans-serif' fill="#262626" font-weight="bold" textLength="101.3" lengthAdjust="spacingAndGlyphs" >Residual</text>
<text x="602.5" y="888.7" font-size="26" font-family='"Liberation Serif", serif' fill="#262626" font-weight="bold" font-style="italic" >r</text>
<text x="614" y="894.5" font-size="17" font-family='"Liberation Serif", serif' fill="#262626" font-weight="bold" font-style="italic" >k</text>
<g clip-path="url(#cl3)"><rect x="507.2" y="899.1" width="104" height="103.7" fill="#E67A63"/><g filter="url(#b2)"><ellipse cx="541.5" cy="951.0" rx="8.3" ry="31.1" fill="#c8301e" opacity="0.5"/><ellipse cx="559.2" cy="953.0" rx="9.4" ry="31.1" fill="#c8301e" opacity="0.40"/><ellipse cx="606.6" cy="997.4" rx="8.3" ry="5.2" fill="#d04030" opacity="0.25"/><ellipse cx="513.1" cy="907.9" rx="8.3" ry="5.2" fill="#d04030" opacity="0.25"/><ellipse cx="594.1" cy="975.4" rx="8.3" ry="5.2" fill="#d04030" opacity="0.25"/><ellipse cx="576.9" cy="931.1" rx="8.3" ry="5.2" fill="#d04030" opacity="0.25"/><ellipse cx="570.2" cy="962.0" rx="8.3" ry="5.2" fill="#d04030" opacity="0.25"/><ellipse cx="567.6" cy="915.5" rx="8.3" ry="5.2" fill="#d04030" opacity="0.25"/><ellipse cx="552.0" cy="939.9" rx="8.3" ry="5.2" fill="#d04030" opacity="0.25"/><ellipse cx="582.4" cy="1002.3" rx="8.3" ry="5.2" fill="#d04030" opacity="0.25"/><ellipse cx="605.9" cy="955.5" rx="8.3" ry="5.2" fill="#d04030" opacity="0.25"/><ellipse cx="553.5" cy="926.9" rx="8.3" ry="5.2" fill="#d04030" opacity="0.25"/><ellipse cx="510.9" cy="901.9" rx="8.3" ry="5.2" fill="#d04030" opacity="0.25"/><ellipse cx="555.5" cy="932.1" rx="8.3" ry="5.2" fill="#d04030" opacity="0.25"/><ellipse cx="546.7" cy="991.6" rx="8.3" ry="5.2" fill="#d04030" opacity="0.25"/><ellipse cx="561.9" cy="957.2" rx="8.3" ry="5.2" fill="#d04030" opacity="0.25"/></g><rect x="507.2" y="899.1" width="104" height="103.7" filter="url(#speck)" opacity="0.85"/><line x1="548.8" y1="924.0" x2="548.8" y2="989.3" stroke="#7a1010" stroke-width="1.3" opacity="0.9"/></g><rect x="507.2" y="899.1" width="104" height="103.7" fill="none" stroke="#666" stroke-width="0.9"/>
<line x1="611.7" y1="948.7" x2="634" y2="948.7" stroke="#B0221C" stroke-width="5"/>
<polygon points="632.3,936 632.3,961.6 657,948.7" fill="#B0221C"/>
<polygon points="659.2,866.8 906.8,900.3 906.8,998.6 659.2,1032.9" fill="#CC6F63"/>
<text x="779.7" y="927.2" font-size="23" font-family='"Liberation Sans", sans-serif' fill="#111" text-anchor="middle" textLength="208.8" lengthAdjust="spacingAndGlyphs" >Neural Operator as</text>
<text x="779.4" y="957.7" font-size="23" font-family='"Liberation Sans", sans-serif' fill="#111" font-weight="bold" text-anchor="middle" textLength="177.7" lengthAdjust="spacingAndGlyphs" >general flexible</text>
<text x="780.3" y="989" font-size="23" font-family='"Liberation Sans", sans-serif' fill="#111" font-weight="bold" text-anchor="middle" textLength="172.4" lengthAdjust="spacingAndGlyphs" >preconditioner</text>
<line x1="908.5" y1="952.4" x2="930" y2="952.4" stroke="#B0221C" stroke-width="5"/>
<polygon points="928.7,940 928.7,964.8 953,952.4" fill="#B0221C"/>
<text x="965.6" y="887.7" font-size="23" font-family='"Liberation Sans", sans-serif' fill="#262626" font-weight="bold" textLength="56.3" lengthAdjust="spacingAndGlyphs" >Error</text>
<text x="1027.5" y="887.7" font-size="26" font-family='"Liberation Serif", serif' fill="#262626" font-weight="bold" font-style="italic" >e</text>
<text x="1040" y="893.5" font-size="17" font-family='"Liberation Serif", serif' fill="#262626" font-weight="bold" font-style="italic" >k</text>
<g clip-path="url(#cl4)"><rect x="953.9" y="898.6" width="103.6" height="105" fill="#fcfbfe"/><g filter="url(#b4)"><ellipse cx="971.5" cy="919.6" rx="4.1" ry="15.8" fill="#f0a8a2" opacity="0.5"/><ellipse cx="974.6" cy="991.0" rx="4.1" ry="12.6" fill="#f0a8a2" opacity="0.5"/><ellipse cx="995.3" cy="909.1" rx="17.6" ry="14.7" fill="#a6aef2" opacity="0.95"/><ellipse cx="988.1" cy="995.2" rx="8.3" ry="8.4" fill="#a6aef2" opacity="0.6"/><ellipse cx="1024.3" cy="988.9" rx="33.2" ry="15.8" fill="#f0a8a2" opacity="0.9"/></g><g filter="url(#b25)"><ellipse cx="1028.5" cy="919.6" rx="31.1" ry="23.1" fill="#e03028" opacity="1"/><ellipse cx="1007.8" cy="942.7" rx="9.3" ry="12.6" fill="#e03028" opacity="1"/><ellipse cx="987.1" cy="954.2" rx="7.8" ry="23.1" fill="#1424e0" opacity="1"/><ellipse cx="1005.7" cy="976.3" rx="5.2" ry="7.4" fill="#e86a62" opacity="0.9"/><ellipse cx="1045.1" cy="966.9" rx="5.2" ry="7.4" fill="#e03028" opacity="0.95"/><ellipse cx="1008.8" cy="958.5" rx="4.1" ry="3.7" fill="#5a68ea" opacity="0.8"/><ellipse cx="1027.5" cy="965.8" rx="10.4" ry="29.4" fill="#1424e0" opacity="1"/><ellipse cx="1056.5" cy="955.3" rx="3.1" ry="14.7" fill="#1424e0" opacity="1"/></g><g filter="url(#b3)"><ellipse cx="1039.9" cy="914.4" rx="10.4" ry="8.4" fill="#7a0c0c" opacity="0.2"/><ellipse cx="1027.5" cy="958.5" rx="4.1" ry="16.8" fill="#00004a" opacity="0.9"/></g></g><rect x="953.9" y="898.6" width="103.6" height="105" fill="none" stroke="#555" stroke-width="0.9"/>
<rect x="953.9" y="898.6" width="103.6" height="105" fill="none" stroke="#2a2a2a" stroke-width="1.4"/>
<line x1="788.4" y1="1062" x2="788.4" y2="1038" stroke="#2a2a2a" stroke-width="5.5"/>
<polygon points="775.8,1041.4 801,1041.4 788.4,1016" fill="#2a2a2a"/>
<text x="553.5" y="1097.3" font-size="23" font-family='"Liberation Sans", sans-serif' fill="#262626" font-weight="bold" text-anchor="middle" textLength="100.1" lengthAdjust="spacingAndGlyphs" >Auxiliary</text>
<text x="553.2" y="1129.2" font-size="23" font-family='"Liberation Sans", sans-serif' fill="#262626" font-weight="bold" text-anchor="middle" textLength="73.9" lengthAdjust="spacingAndGlyphs" >Inputs</text>
<text x="553.4" y="1159.4" font-size="23" font-family='"Liberation Sans", sans-serif' fill="#262626" font-weight="bold" text-anchor="middle" textLength="71.6" lengthAdjust="spacingAndGlyphs" >(fixed)</text>
<rect x="623.4" y="1064.3" width="104.2" height="104.5" fill="#FCF4D9"/>
<rect x="623.4" y="1064.3" width="34" height="104.5" fill="url(#pmlg2)"/>
<rect x="623.4" y="1064.3" width="104.2" height="104.5" fill="none" stroke="#777" stroke-width="1"/>
<text x="675.4" y="1093.2" font-size="20" font-family='"Liberation Sans", sans-serif' fill="#222" text-anchor="middle" textLength="42.7" lengthAdjust="spacingAndGlyphs" >PML</text>
<rect x="736.3" y="1064.3" width="103.8" height="104.5" fill="#F5E7D9"/>
<rect x="736.3" y="1107.3" width="103.8" height="31.9" fill="#8F8884"/>
<rect x="736.3" y="1064.3" width="103.8" height="104.5" fill="none" stroke="#777" stroke-width="1"/>
<text x="787.4" y="1092.2" font-size="20" font-family='"Liberation Sans", sans-serif' fill="#222" text-anchor="middle" textLength="80.7" lengthAdjust="spacingAndGlyphs" >Material</text>
<rect x="851.2" y="1063.7" width="103.4" height="104.1" fill="#FCF4D9" stroke="#777" stroke-width="1"/>
<rect x="890.5" y="1088.9" width="3.6" height="67.1" rx="1.5" fill="#4FB0A2"/>
<text x="902.8" y="1093.2" font-size="20" font-family='"Liberation Sans", sans-serif' fill="#222" text-anchor="middle" textLength="69.5" lengthAdjust="spacingAndGlyphs" >Source</text>
<text x="1422.8" y="727.4" font-size="29" font-family='"Liberation Sans", sans-serif' fill="#262626" font-weight="bold" text-anchor="middle" textLength="656.5" lengthAdjust="spacingAndGlyphs" >F-GMRES with Neural Operator preconditioning</text>
<rect x="1121.9" y="748.5" width="64.9" height="38.9" fill="#EBE7DA" />
<text x="1154.3" y="775.1" font-size="23" font-family='"Liberation Sans", sans-serif' fill="#111" text-anchor="middle" textLength="51.8" lengthAdjust="spacingAndGlyphs" >Iter 1</text>
<rect x="1227.1" y="748.5" width="65.6" height="38.9" fill="#EBE7DA" />
<text x="1259.9" y="775.1" font-size="23" font-family='"Liberation Sans", sans-serif' fill="#111" text-anchor="middle" textLength="54.3" lengthAdjust="spacingAndGlyphs" >Iter 2</text>
<rect x="1333" y="748.5" width="65.9" height="38.9" fill="#EBE7DA" />
<text x="1366.0" y="775.1" font-size="23" font-family='"Liberation Sans", sans-serif' fill="#111" text-anchor="middle" textLength="54.5" lengthAdjust="spacingAndGlyphs" >Iter 4</text>
<rect x="1439.5" y="748.6" width="65.1" height="38.4" fill="#EBE7DA" />
<text x="1472.0" y="774.8" font-size="23" font-family='"Liberation Sans", sans-serif' fill="#111" text-anchor="middle" textLength="54.3" lengthAdjust="spacingAndGlyphs" >Iter 8</text>
<rect x="1542.5" y="748" width="79.3" height="38.6" fill="#EBE7DA" />
<text x="1582.2" y="774.5" font-size="23" font-family='"Liberation Sans", sans-serif' fill="#111" text-anchor="middle" textLength="68.8" lengthAdjust="spacingAndGlyphs" >Iter 16</text>
<rect x="1650.1" y="745.6" width="79.3" height="38.9" fill="#EBE7DA" />
<text x="1689.8" y="772.2" font-size="23" font-family='"Liberation Sans", sans-serif' fill="#111" text-anchor="middle" textLength="68.5" lengthAdjust="spacingAndGlyphs" >Iter 32</text>
<text x="1332" y="811" font-size="23" font-family='"Liberation Sans", sans-serif' fill="#222" textLength="153" lengthAdjust="spacingAndGlyphs" >Input residual</text>
<text x="1490" y="811" font-size="26" font-family='"Liberation Serif", serif' fill="#262626" font-weight="bold" font-style="italic" >r</text>
<text x="1502" y="817" font-size="17" font-family='"Liberation Serif", serif' fill="#262626" font-weight="bold" font-style="italic" >k</text>
<text x="1341.2" y="939.8" font-size="23" font-family='"Liberation Sans", sans-serif' fill="#222" textLength="136" lengthAdjust="spacingAndGlyphs" >Output error</text>
<text x="1481" y="939.8" font-size="26" font-family='"Liberation Serif", serif' fill="#262626" font-weight="bold" font-style="italic" >e</text>
<text x="1494" y="945.5" font-size="17" font-family='"Liberation Serif", serif' fill="#262626" font-weight="bold" font-style="italic" >k</text>
<text x="1371.7" y="1071.9" font-size="23" font-family='"Liberation Sans", sans-serif' fill="#222" textLength="93" lengthAdjust="spacingAndGlyphs" >solution</text>
<text x="1467.5" y="1071.9" font-size="26" font-family='"Liberation Serif", serif' fill="#262626" font-weight="bold" font-style="italic" >x</text>
<text x="1481" y="1077.5" font-size="17" font-family='"Liberation Serif", serif' fill="#262626" font-weight="bold" font-style="italic" >k</text>
<g clip-path="url(#cl5)"><rect x="1110.2" y="817.5" width="90.5" height="89.7" fill="#FDF2F0"/><g filter="url(#b2)"></g><line x1="1146.4" y1="839.0" x2="1146.4" y2="895.5" stroke="#7a1010" stroke-width="1.3" opacity="1.0"/></g><rect x="1110.2" y="817.5" width="90.5" height="89.7" fill="none" stroke="#c06050" stroke-width="0.9"/>
<g clip-path="url(#cl6)"><rect x="1217.5" y="817.5" width="90.5" height="89.7" fill="#E67A63"/><g filter="url(#b2)"><ellipse cx="1247.4" cy="862.4" rx="7.2" ry="26.9" fill="#c8301e" opacity="0.5"/><ellipse cx="1262.8" cy="864.1" rx="8.1" ry="26.9" fill="#c8301e" opacity="0.40"/><ellipse cx="1258.4" cy="867.7" rx="7.2" ry="4.5" fill="#d04030" opacity="0.25"/><ellipse cx="1301.1" cy="859.3" rx="7.2" ry="4.5" fill="#d04030" opacity="0.25"/><ellipse cx="1263.5" cy="870.2" rx="7.2" ry="4.5" fill="#d04030" opacity="0.25"/><ellipse cx="1234.2" cy="863.4" rx="7.2" ry="4.5" fill="#d04030" opacity="0.25"/><ellipse cx="1274.5" cy="888.6" rx="7.2" ry="4.5" fill="#d04030" opacity="0.25"/><ellipse cx="1226.0" cy="844.7" rx="7.2" ry="4.5" fill="#d04030" opacity="0.25"/><ellipse cx="1225.7" cy="890.1" rx="7.2" ry="4.5" fill="#d04030" opacity="0.25"/><ellipse cx="1280.3" cy="821.3" rx="7.2" ry="4.5" fill="#d04030" opacity="0.25"/><ellipse cx="1306.4" cy="904.0" rx="7.2" ry="4.5" fill="#d04030" opacity="0.25"/><ellipse cx="1276.7" cy="872.7" rx="7.2" ry="4.5" fill="#d04030" opacity="0.25"/><ellipse cx="1231.8" cy="818.8" rx="7.2" ry="4.5" fill="#d04030" opacity="0.25"/><ellipse cx="1265.3" cy="822.8" rx="7.2" ry="4.5" fill="#d04030" opacity="0.25"/><ellipse cx="1234.7" cy="839.2" rx="7.2" ry="4.5" fill="#d04030" opacity="0.25"/><ellipse cx="1220.2" cy="859.1" rx="7.2" ry="4.5" fill="#d04030" opacity="0.25"/><ellipse cx="1285.4" cy="862.4" rx="27.1" ry="19.7" fill="#c8301e" opacity="0.3"/></g><rect x="1217.5" y="817.5" width="90.5" height="89.7" filter="url(#speck2)" opacity="0.85"/><line x1="1253.7" y1="839.0" x2="1253.7" y2="895.5" stroke="#7a1010" stroke-width="1.3" opacity="0.9"/></g><rect x="1217.5" y="817.5" width="90.5" height="89.7" fill="none" stroke="#666" stroke-width="0.9"/>
<g clip-path="url(#cl7)"><rect x="1324.5" y="817.5" width="90.5" height="89.7" fill="#E26C55"/><g filter="url(#b2)"><ellipse cx="1354.4" cy="862.4" rx="7.2" ry="26.9" fill="#c8301e" opacity="0.45"/><ellipse cx="1369.8" cy="864.1" rx="8.1" ry="26.9" fill="#c8301e" opacity="0.36"/><ellipse cx="1367.4" cy="876.5" rx="7.2" ry="4.5" fill="#d04030" opacity="0.23"/><ellipse cx="1384.8" cy="830.3" rx="7.2" ry="4.5" fill="#d04030" opacity="0.23"/><ellipse cx="1325.5" cy="851.1" rx="7.2" ry="4.5" fill="#d04030" opacity="0.23"/><ellipse cx="1349.3" cy="890.2" rx="7.2" ry="4.5" fill="#d04030" opacity="0.23"/><ellipse cx="1387.0" cy="871.5" rx="7.2" ry="4.5" fill="#d04030" opacity="0.23"/><ellipse cx="1375.0" cy="876.8" rx="7.2" ry="4.5" fill="#d04030" opacity="0.23"/><ellipse cx="1337.6" cy="857.0" rx="7.2" ry="4.5" fill="#d04030" opacity="0.23"/><ellipse cx="1339.2" cy="898.8" rx="7.2" ry="4.5" fill="#d04030" opacity="0.23"/><ellipse cx="1329.8" cy="890.9" rx="7.2" ry="4.5" fill="#d04030" opacity="0.23"/><ellipse cx="1331.3" cy="879.1" rx="7.2" ry="4.5" fill="#d04030" opacity="0.23"/><ellipse cx="1355.0" cy="853.8" rx="7.2" ry="4.5" fill="#d04030" opacity="0.23"/><ellipse cx="1400.7" cy="819.2" rx="7.2" ry="4.5" fill="#d04030" opacity="0.23"/><ellipse cx="1330.0" cy="899.6" rx="7.2" ry="4.5" fill="#d04030" opacity="0.23"/><ellipse cx="1370.6" cy="825.7" rx="7.2" ry="4.5" fill="#d04030" opacity="0.23"/><ellipse cx="1392.4" cy="862.4" rx="27.1" ry="19.7" fill="#c8301e" opacity="0.5"/></g><rect x="1324.5" y="817.5" width="90.5" height="89.7" filter="url(#speck)" opacity="0.7"/><line x1="1360.7" y1="839.0" x2="1360.7" y2="895.5" stroke="#7a1010" stroke-width="1.3" opacity="0.8"/></g><rect x="1324.5" y="817.5" width="90.5" height="89.7" fill="none" stroke="#666" stroke-width="0.9"/>
<g clip-path="url(#cl8)"><rect x="1432.3" y="817.5" width="90.5" height="89.7" fill="#EA8A74"/><g filter="url(#b2)"><ellipse cx="1462.2" cy="862.4" rx="7.2" ry="26.9" fill="#c8301e" opacity="0.2"/><ellipse cx="1477.5" cy="864.1" rx="8.1" ry="26.9" fill="#c8301e" opacity="0.16"/><ellipse cx="1455.7" cy="879.0" rx="7.2" ry="4.5" fill="#d04030" opacity="0.10"/><ellipse cx="1494.2" cy="893.7" rx="7.2" ry="4.5" fill="#d04030" opacity="0.10"/><ellipse cx="1449.1" cy="838.2" rx="7.2" ry="4.5" fill="#d04030" opacity="0.10"/><ellipse cx="1445.6" cy="837.7" rx="7.2" ry="4.5" fill="#d04030" opacity="0.10"/><ellipse cx="1498.7" cy="829.2" rx="7.2" ry="4.5" fill="#d04030" opacity="0.10"/><ellipse cx="1480.4" cy="836.7" rx="7.2" ry="4.5" fill="#d04030" opacity="0.10"/><ellipse cx="1459.0" cy="856.2" rx="7.2" ry="4.5" fill="#d04030" opacity="0.10"/><ellipse cx="1508.1" cy="872.1" rx="7.2" ry="4.5" fill="#d04030" opacity="0.10"/><ellipse cx="1433.6" cy="842.2" rx="7.2" ry="4.5" fill="#d04030" opacity="0.10"/><ellipse cx="1445.6" cy="895.7" rx="7.2" ry="4.5" fill="#d04030" opacity="0.10"/><ellipse cx="1505.6" cy="889.8" rx="7.2" ry="4.5" fill="#d04030" opacity="0.10"/><ellipse cx="1507.1" cy="884.3" rx="7.2" ry="4.5" fill="#d04030" opacity="0.10"/><ellipse cx="1518.2" cy="888.7" rx="7.2" ry="4.5" fill="#d04030" opacity="0.10"/><ellipse cx="1455.5" cy="893.7" rx="7.2" ry="4.5" fill="#d04030" opacity="0.10"/><rect x="1428.3" y="817.5" width="13.6" height="89.7" fill="#c8301e" opacity="0.5"/><ellipse cx="1500.2" cy="862.4" rx="27.1" ry="19.7" fill="#c8301e" opacity="0.25"/></g><rect x="1432.3" y="817.5" width="90.5" height="89.7" filter="url(#speck2)" opacity="0.85"/><line x1="1468.5" y1="839.0" x2="1468.5" y2="895.5" stroke="#7a1010" stroke-width="1.3" opacity="0.6"/></g><rect x="1432.3" y="817.5" width="90.5" height="89.7" fill="none" stroke="#666" stroke-width="0.9"/>
<g clip-path="url(#cl9)"><rect x="1539.3" y="817.5" width="90.5" height="89.7" fill="#F0A490"/><g filter="url(#b2)"><ellipse cx="1569.2" cy="862.4" rx="7.2" ry="26.9" fill="#c8301e" opacity="0.1"/><ellipse cx="1584.5" cy="864.1" rx="8.1" ry="26.9" fill="#c8301e" opacity="0.08"/><ellipse cx="1549.0" cy="880.5" rx="7.2" ry="4.5" fill="#d04030" opacity="0.05"/><ellipse cx="1598.3" cy="901.8" rx="7.2" ry="4.5" fill="#d04030" opacity="0.05"/><ellipse cx="1563.8" cy="840.4" rx="7.2" ry="4.5" fill="#d04030" opacity="0.05"/><ellipse cx="1605.7" cy="876.6" rx="7.2" ry="4.5" fill="#d04030" opacity="0.05"/><ellipse cx="1566.7" cy="878.9" rx="7.2" ry="4.5" fill="#d04030" opacity="0.05"/><ellipse cx="1575.2" cy="887.2" rx="7.2" ry="4.5" fill="#d04030" opacity="0.05"/><ellipse cx="1550.0" cy="837.5" rx="7.2" ry="4.5" fill="#d04030" opacity="0.05"/><ellipse cx="1620.9" cy="849.6" rx="7.2" ry="4.5" fill="#d04030" opacity="0.05"/><ellipse cx="1562.9" cy="889.6" rx="7.2" ry="4.5" fill="#d04030" opacity="0.05"/><ellipse cx="1596.5" cy="830.9" rx="7.2" ry="4.5" fill="#d04030" opacity="0.05"/><ellipse cx="1589.2" cy="877.1" rx="7.2" ry="4.5" fill="#d04030" opacity="0.05"/><ellipse cx="1554.2" cy="876.0" rx="7.2" ry="4.5" fill="#d04030" opacity="0.05"/><ellipse cx="1550.4" cy="847.7" rx="7.2" ry="4.5" fill="#d04030" opacity="0.05"/><ellipse cx="1546.8" cy="835.8" rx="7.2" ry="4.5" fill="#d04030" opacity="0.05"/><rect x="1535.3" y="817.5" width="13.6" height="89.7" fill="#c8301e" opacity="0.45"/><ellipse cx="1607.2" cy="862.4" rx="27.1" ry="19.7" fill="#c8301e" opacity="0.15"/></g><rect x="1539.3" y="817.5" width="90.5" height="89.7" filter="url(#speck)" opacity="0.85"/><line x1="1575.5" y1="839.0" x2="1575.5" y2="895.5" stroke="#7a1010" stroke-width="1.3" opacity="0.4"/></g><rect x="1539.3" y="817.5" width="90.5" height="89.7" fill="none" stroke="#666" stroke-width="0.9"/>
<g clip-path="url(#cl10)"><rect x="1646.4" y="817.5" width="90.5" height="89.7" fill="#FBE4DE"/><g filter="url(#b2)"><rect x="1642.4" y="817.5" width="13.6" height="89.7" fill="#c8301e" opacity="0.25"/></g><rect x="1646.4" y="817.5" width="90.5" height="89.7" filter="url(#speck2)" opacity="0.5"/></g><rect x="1646.4" y="817.5" width="90.5" height="89.7" fill="none" stroke="#666" stroke-width="0.9"/>
<g clip-path="url(#cl11)"><rect x="1112.6" y="945.7" width="90.4" height="90.5" fill="#fcfbfe"/><g filter="url(#b4)"><ellipse cx="1157.8" cy="965.6" rx="19.9" ry="9.1" fill="#f0a8a2" opacity="0.8"/><ellipse cx="1191.2" cy="963.8" rx="7.2" ry="11.8" fill="#a6aef2" opacity="0.8"/><ellipse cx="1135.2" cy="956.6" rx="10.8" ry="7.2" fill="#a6aef2" opacity="0.5"/><ellipse cx="1144.2" cy="1029.9" rx="19.9" ry="7.2" fill="#f0a8a2" opacity="0.8"/><ellipse cx="1192.2" cy="1029.0" rx="10.8" ry="7.2" fill="#a6aef2" opacity="0.6"/><ellipse cx="1121.6" cy="959.3" rx="7.2" ry="9.1" fill="#f0a8a2" opacity="0.4"/></g><g filter="url(#b25)"><ellipse cx="1114.4" cy="995.5" rx="3.2" ry="16.3" fill="#e03028" opacity="1"/><ellipse cx="1126.2" cy="992.8" rx="5.0" ry="21.7" fill="#5a68ea" opacity="1"/><ellipse cx="1169.6" cy="995.5" rx="4.1" ry="16.3" fill="#5a68ea" opacity="0.9"/><ellipse cx="1198.5" cy="997.3" rx="4.5" ry="10.9" fill="#1424e0" opacity="1"/></g><ellipse cx="1138.8" cy="993.7" rx="5.9" ry="18.1" fill="url(#gR)" opacity="1"/><ellipse cx="1148.8" cy="996.4" rx="6.3" ry="25.3" fill="url(#gB)" opacity="1"/><ellipse cx="1157.8" cy="996.4" rx="5.4" ry="18.1" fill="url(#gR)" opacity="0.95"/><ellipse cx="1184.9" cy="995.5" rx="7.7" ry="22.6" fill="url(#gR)" opacity="0.9"/><g filter="url(#b3)"></g></g><rect x="1112.6" y="945.7" width="90.4" height="90.5" fill="none" stroke="#555" stroke-width="0.9"/>
<g clip-path="url(#cl12)"><rect x="1219.8" y="945.7" width="90.4" height="90.5" fill="#fcfbfe"/><g filter="url(#b4)"><ellipse cx="1260.5" cy="963.8" rx="18.1" ry="10.9" fill="#f0a8a2" opacity="0.5"/><ellipse cx="1294.8" cy="967.4" rx="7.2" ry="12.7" fill="#a6aef2" opacity="0.9"/><ellipse cx="1283.1" cy="1022.6" rx="23.5" ry="14.5" fill="#a6aef2" opacity="0.9"/><ellipse cx="1235.2" cy="972.9" rx="5.4" ry="9.1" fill="#a6aef2" opacity="0.7"/><ellipse cx="1246.9" cy="1018.1" rx="5.4" ry="9.1" fill="#f0a8a2" opacity="0.6"/><ellipse cx="1253.2" cy="997.3" rx="2.3" ry="5.4" fill="#a6aef2" opacity="0.9"/></g><g filter="url(#b25)"><ellipse cx="1223.4" cy="998.2" rx="4.1" ry="12.7" fill="#e03028" opacity="1"/><ellipse cx="1246.9" cy="1000.0" rx="4.1" ry="18.1" fill="#e86a62" opacity="0.95"/><ellipse cx="1256.0" cy="983.7" rx="2.7" ry="4.5" fill="#e86a62" opacity="0.7"/><ellipse cx="1256.0" cy="1010.9" rx="3.6" ry="5.4" fill="#e86a62" opacity="0.7"/><ellipse cx="1271.3" cy="995.5" rx="4.1" ry="7.2" fill="#1424e0" opacity="1"/><ellipse cx="1309.7" cy="996.4" rx="1.8" ry="10.9" fill="#e03028" opacity="1"/></g><ellipse cx="1235.2" cy="997.3" rx="7.7" ry="24.4" fill="url(#gB)" opacity="1"/><ellipse cx="1286.7" cy="996.4" rx="8.6" ry="18.1" fill="url(#gR)" opacity="1"/><ellipse cx="1299.4" cy="996.4" rx="7.7" ry="17.2" fill="url(#gB)" opacity="1"/><g filter="url(#b3)"></g></g><rect x="1219.8" y="945.7" width="90.4" height="90.5" fill="none" stroke="#555" stroke-width="0.9"/>
<g clip-path="url(#cl13)"><rect x="1326.4" y="945.7" width="90.4" height="90.5" fill="#fcfbfe"/><g filter="url(#b4)"><ellipse cx="1371.6" cy="991.0" rx="49.7" ry="49.8" fill="#f0a8a2" opacity="0.6"/><ellipse cx="1371.6" cy="963.8" rx="45.2" ry="18.1" fill="#f0a8a2" opacity="0.95"/><ellipse cx="1335.4" cy="1029.9" rx="10.8" ry="7.2" fill="#f0a8a2" opacity="0.9"/><ellipse cx="1407.8" cy="1029.9" rx="10.8" ry="7.2" fill="#f0a8a2" opacity="0.9"/><ellipse cx="1371.6" cy="1035.3" rx="27.1" ry="3.6" fill="#f0a8a2" opacity="0.7"/></g><g filter="url(#b25)"><ellipse cx="1398.7" cy="972.9" rx="13.6" ry="13.6" fill="#e86a62" opacity="0.7"/><ellipse cx="1374.3" cy="1019.9" rx="27.1" ry="10.0" fill="#5a68ea" opacity="1"/><ellipse cx="1415.9" cy="948.4" rx="3.6" ry="3.6" fill="#1424e0" opacity="1"/><ellipse cx="1329.1" cy="1000.0" rx="4.1" ry="12.7" fill="#1424e0" opacity="1"/><ellipse cx="1348.1" cy="979.2" rx="6.3" ry="12.7" fill="#1424e0" opacity="1" transform="rotate(-20 1348.1 979.2)"/><ellipse cx="1363.5" cy="991.0" rx="4.5" ry="10.9" fill="#e86a62" opacity="0.9"/><ellipse cx="1376.1" cy="988.2" rx="5.0" ry="9.1" fill="#1424e0" opacity="1"/><ellipse cx="1386.1" cy="1000.0" rx="4.1" ry="7.2" fill="#e03028" opacity="1"/><ellipse cx="1396.9" cy="1001.8" rx="4.5" ry="12.7" fill="#1424e0" opacity="1"/><ellipse cx="1416.3" cy="1000.0" rx="1.8" ry="10.9" fill="#1424e0" opacity="1"/></g><ellipse cx="1341.8" cy="1000.0" rx="8.1" ry="17.2" fill="url(#gR)" opacity="1"/><ellipse cx="1410.5" cy="1000.0" rx="7.7" ry="27.1" fill="url(#gR)" opacity="1"/><g filter="url(#b3)"></g></g><rect x="1326.4" y="945.7" width="90.4" height="90.5" fill="none" stroke="#555" stroke-width="0.9"/>
<g clip-path="url(#cl14)"><rect x="1433.6" y="945.7" width="90.4" height="90.5" fill="#fcfbfe"/><g filter="url(#b4)"><ellipse cx="1436.3" cy="963.8" rx="4.5" ry="13.6" fill="#f0a8a2" opacity="0.8"/><ellipse cx="1460.7" cy="977.4" rx="22.6" ry="5.4" fill="#ffffff" opacity="1"/><ellipse cx="1496.9" cy="1018.1" rx="18.1" ry="5.4" fill="#ffffff" opacity="0.8"/><ellipse cx="1460.7" cy="996.4" rx="18.1" ry="6.3" fill="#f0a8a2" opacity="1"/><ellipse cx="1478.8" cy="1016.3" rx="9.0" ry="6.3" fill="#f0a8a2" opacity="1"/></g><g filter="url(#b25)"><ellipse cx="1474.3" cy="962.0" rx="28.9" ry="14.5" fill="#1424e0" opacity="1"/><ellipse cx="1505.9" cy="959.3" rx="18.1" ry="10.9" fill="#5a68ea" opacity="1"/><ellipse cx="1447.2" cy="972.9" rx="10.8" ry="9.1" fill="#5a68ea" opacity="0.8"/><ellipse cx="1437.2" cy="995.5" rx="5.0" ry="13.6" fill="#e03028" opacity="1"/><ellipse cx="1495.1" cy="994.6" rx="12.7" ry="15.4" fill="#1424e0" opacity="1"/><ellipse cx="1516.8" cy="991.0" rx="5.9" ry="12.7" fill="#e03028" opacity="1"/><ellipse cx="1478.8" cy="1029.9" rx="49.7" ry="8.1" fill="#1424e0" opacity="1"/><ellipse cx="1444.4" cy="1019.9" rx="13.6" ry="13.6" fill="#1424e0" opacity="1"/><ellipse cx="1523.5" cy="1010.9" rx="2.7" ry="9.1" fill="#1424e0" opacity="1"/></g><g filter="url(#b3)"><ellipse cx="1495.1" cy="996.4" rx="7.2" ry="9.1" fill="#00004a" opacity="1"/></g></g><rect x="1433.6" y="945.7" width="90.4" height="90.5" fill="none" stroke="#555" stroke-width="0.9"/>
<g clip-path="url(#cl15)"><rect x="1541" y="945.7" width="90.4" height="90.5" fill="#fcfbfe"/><g filter="url(#b4)"><ellipse cx="1613.3" cy="972.9" rx="16.3" ry="22.6" fill="#f0a8a2" opacity="1"/><ellipse cx="1613.3" cy="1024.4" rx="14.5" ry="11.8" fill="#f0a8a2" opacity="1"/></g><g filter="url(#b25)"><ellipse cx="1568.1" cy="959.3" rx="27.1" ry="12.7" fill="#5a68ea" opacity="1"/><ellipse cx="1547.3" cy="959.3" rx="6.3" ry="9.1" fill="#1424e0" opacity="1"/><ellipse cx="1611.5" cy="979.2" rx="9.0" ry="6.3" fill="#e86a62" opacity="0.9"/><ellipse cx="1578.1" cy="995.5" rx="5.0" ry="18.1" fill="#e86a62" opacity="0.9"/><ellipse cx="1600.7" cy="1000.0" rx="14.5" ry="10.9" fill="#1424e0" opacity="1"/><ellipse cx="1572.6" cy="1029.0" rx="31.6" ry="8.1" fill="#1424e0" opacity="1"/><ellipse cx="1568.1" cy="1019.9" rx="27.1" ry="5.4" fill="#5a68ea" opacity="0.6"/></g><ellipse cx="1546.4" cy="995.5" rx="7.7" ry="21.7" fill="url(#gR)" opacity="1"/><ellipse cx="1561.8" cy="992.8" rx="9.0" ry="19.9" fill="url(#gB)" opacity="1"/><g filter="url(#b3)"><ellipse cx="1598.9" cy="999.1" rx="5.4" ry="5.4" fill="#00004a" opacity="0.7"/></g></g><rect x="1541" y="945.7" width="90.4" height="90.5" fill="none" stroke="#555" stroke-width="0.9"/>
<g clip-path="url(#cl16)"><rect x="1648.1" y="945.7" width="90.4" height="90.5" fill="#fcfbfe"/><g filter="url(#b4)"><ellipse cx="1655.3" cy="963.8" rx="7.2" ry="10.9" fill="#ffffff" opacity="0.8"/><ellipse cx="1684.3" cy="1005.4" rx="16.3" ry="4.5" fill="#ffffff" opacity="1"/><ellipse cx="1684.3" cy="1005.4" rx="7.2" ry="2.7" fill="#f0a8a2" opacity="0.6"/><ellipse cx="1693.3" cy="996.4" rx="45.2" ry="1.4" fill="#ffffff" opacity="0.9"/></g><g filter="url(#b25)"><ellipse cx="1702.3" cy="968.3" rx="45.2" ry="29.9" fill="#e03028" opacity="1"/><ellipse cx="1675.2" cy="977.4" rx="18.1" ry="18.1" fill="#e03028" opacity="1"/><ellipse cx="1657.1" cy="947.5" rx="7.2" ry="3.6" fill="#1424e0" opacity="1"/><ellipse cx="1693.3" cy="1019.9" rx="58.8" ry="23.5" fill="#1424e0" opacity="1"/></g><g filter="url(#b3)"><ellipse cx="1709.6" cy="972.9" rx="19.9" ry="12.7" fill="#7a0c0c" opacity="0.9"/><ellipse cx="1732.2" cy="1004.5" rx="6.3" ry="7.2" fill="#00004a" opacity="0.8"/></g></g><rect x="1648.1" y="945.7" width="90.4" height="90.5" fill="none" stroke="#555" stroke-width="0.9"/>
<g clip-path="url(#cl17)"><rect x="1113.3" y="1078.3" width="90.5" height="90" fill="#fdfbfd"/><rect x="1113.3" y="1078.3" width="90.5" height="90" fill="url(#pbg)" opacity="0.15"/><g filter="url(#b4)"><ellipse cx="1140.8" cy="1129.8" rx="6.5" ry="29.7" fill="#fff" opacity="0.27"/><ellipse cx="1150.9" cy="1132.2" rx="6.5" ry="29.7" fill="#fff" opacity="0.27"/><ellipse cx="1159.1" cy="1129.3" rx="6.5" ry="29.7" fill="#fff" opacity="0.27"/><ellipse cx="1171.6" cy="1131.8" rx="6.5" ry="29.7" fill="#fff" opacity="0.27"/><ellipse cx="1184.3" cy="1124.2" rx="6.5" ry="29.7" fill="#fff" opacity="0.27"/><ellipse cx="1196.1" cy="1133.1" rx="6.5" ry="29.7" fill="#fff" opacity="0.27"/></g><g filter="url(#b2)"><rect x="1137.2" y="1110.0" width="7.2" height="39.6" rx="3.6" ry="6.5" fill="#dc2a20" opacity="0.30"/><rect x="1147.3" y="1112.4" width="7.2" height="39.6" rx="3.6" ry="6.5" fill="#1020dc" opacity="0.30"/><rect x="1155.4" y="1109.5" width="7.2" height="39.6" rx="3.6" ry="6.5" fill="#dc2a20" opacity="0.30"/><rect x="1168.0" y="1112.0" width="7.2" height="39.6" rx="3.6" ry="6.5" fill="#1020dc" opacity="0.30"/><rect x="1180.7" y="1104.4" width="7.2" height="39.6" rx="3.6" ry="6.5" fill="#dc2a20" opacity="0.30"/><rect x="1192.5" y="1113.3" width="7.2" height="39.6" rx="3.6" ry="6.5" fill="#1020dc" opacity="0.30"/></g><g filter="url(#b3)"><ellipse cx="1140.8" cy="1129.8" rx="2.0" ry="11.9" fill="#6a0808" opacity="0.27"/><ellipse cx="1150.9" cy="1132.2" rx="2.0" ry="11.9" fill="#000048" opacity="0.27"/><ellipse cx="1159.1" cy="1129.3" rx="2.0" ry="11.9" fill="#6a0808" opacity="0.27"/><ellipse cx="1171.6" cy="1131.8" rx="2.0" ry="11.9" fill="#000048" opacity="0.27"/><ellipse cx="1184.3" cy="1124.2" rx="2.0" ry="11.9" fill="#6a0808" opacity="0.27"/><ellipse cx="1196.1" cy="1133.1" rx="2.0" ry="11.9" fill="#000048" opacity="0.27"/></g></g><rect x="1113.3" y="1078.3" width="90.5" height="90" fill="none" stroke="#555" stroke-width="0.9"/>
<g clip-path="url(#cl18)"><rect x="1220.5" y="1078.3" width="90.5" height="90" fill="#fdfbfd"/><rect x="1220.5" y="1078.3" width="90.5" height="90" fill="url(#pbg)" opacity="0.33"/><g filter="url(#b4)"><ellipse cx="1225.0" cy="1129.8" rx="8.5" ry="29.7" fill="#fff" opacity="0.59"/><ellipse cx="1240.7" cy="1127.6" rx="8.5" ry="29.7" fill="#fff" opacity="0.59"/><ellipse cx="1254.3" cy="1131.0" rx="8.5" ry="29.7" fill="#fff" opacity="0.59"/><ellipse cx="1269.2" cy="1127.9" rx="8.5" ry="29.7" fill="#fff" opacity="0.59"/><ellipse cx="1283.0" cy="1124.9" rx="8.5" ry="29.7" fill="#fff" opacity="0.59"/><ellipse cx="1296.5" cy="1126.4" rx="8.5" ry="29.7" fill="#fff" opacity="0.59"/></g><g filter="url(#b2)"><rect x="1220.3" y="1110.0" width="9.4" height="39.6" rx="4.7" ry="8.5" fill="#1020dc" opacity="0.65"/><rect x="1236.0" y="1107.8" width="9.4" height="39.6" rx="4.7" ry="8.5" fill="#dc2a20" opacity="0.65"/><rect x="1249.5" y="1111.2" width="9.4" height="39.6" rx="4.7" ry="8.5" fill="#1020dc" opacity="0.65"/><rect x="1264.5" y="1108.1" width="9.4" height="39.6" rx="4.7" ry="8.5" fill="#dc2a20" opacity="0.65"/><rect x="1278.2" y="1105.1" width="9.4" height="39.6" rx="4.7" ry="8.5" fill="#1020dc" opacity="0.65"/><rect x="1291.8" y="1106.6" width="9.4" height="39.6" rx="4.7" ry="8.5" fill="#dc2a20" opacity="0.65"/></g><g filter="url(#b3)"><ellipse cx="1225.0" cy="1129.8" rx="2.6" ry="11.9" fill="#000048" opacity="0.59"/><ellipse cx="1240.7" cy="1127.6" rx="2.6" ry="11.9" fill="#6a0808" opacity="0.59"/><ellipse cx="1254.3" cy="1131.0" rx="2.6" ry="11.9" fill="#000048" opacity="0.59"/><ellipse cx="1269.2" cy="1127.9" rx="2.6" ry="11.9" fill="#6a0808" opacity="0.59"/><ellipse cx="1283.0" cy="1124.9" rx="2.6" ry="11.9" fill="#000048" opacity="0.59"/><ellipse cx="1296.5" cy="1126.4" rx="2.6" ry="11.9" fill="#6a0808" opacity="0.59"/></g></g><rect x="1220.5" y="1078.3" width="90.5" height="90" fill="none" stroke="#555" stroke-width="0.9"/>
<g clip-path="url(#cl19)"><rect x="1327.4" y="1078.3" width="90.5" height="90" fill="#fdfbfd"/><rect x="1327.4" y="1078.3" width="90.5" height="90" fill="url(#pbg)" opacity="0.47"/><g filter="url(#b4)"><ellipse cx="1339.7" cy="1133.2" rx="11.2" ry="29.7" fill="#fff" opacity="0.85"/><ellipse cx="1359.6" cy="1123.7" rx="11.2" ry="29.7" fill="#fff" opacity="0.85"/><ellipse cx="1379.8" cy="1126.1" rx="11.2" ry="29.7" fill="#fff" opacity="0.85"/><ellipse cx="1399.2" cy="1124.9" rx="11.2" ry="29.7" fill="#fff" opacity="0.85"/><ellipse cx="1416.3" cy="1125.9" rx="11.2" ry="29.7" fill="#fff" opacity="0.85"/></g><g filter="url(#b2)"><ellipse cx="1331.7" cy="1123.9" rx="5.4" ry="22.5" fill="url(#gBl)" opacity="0.76"/><rect x="1333.5" y="1113.4" width="12.5" height="39.6" rx="6.2" ry="11.2" fill="#dc2a20" opacity="0.95"/><rect x="1353.4" y="1103.9" width="12.5" height="39.6" rx="6.2" ry="11.2" fill="#1020dc" opacity="0.95"/><rect x="1373.6" y="1106.3" width="12.5" height="39.6" rx="6.2" ry="11.2" fill="#dc2a20" opacity="0.95"/><rect x="1393.0" y="1105.1" width="12.5" height="39.6" rx="6.2" ry="11.2" fill="#1020dc" opacity="0.95"/><rect x="1410.1" y="1106.1" width="12.5" height="39.6" rx="6.2" ry="11.2" fill="#dc2a20" opacity="0.95"/></g><g filter="url(#b3)"><ellipse cx="1339.7" cy="1133.2" rx="3.5" ry="11.9" fill="#6a0808" opacity="0.85"/><ellipse cx="1359.6" cy="1123.7" rx="3.5" ry="11.9" fill="#000048" opacity="0.85"/><ellipse cx="1379.8" cy="1126.1" rx="3.5" ry="11.9" fill="#6a0808" opacity="0.85"/><ellipse cx="1399.2" cy="1124.9" rx="3.5" ry="11.9" fill="#000048" opacity="0.85"/><ellipse cx="1416.3" cy="1125.9" rx="3.5" ry="11.9" fill="#6a0808" opacity="0.85"/></g></g><rect x="1327.4" y="1078.3" width="90.5" height="90" fill="none" stroke="#555" stroke-width="0.9"/>
<g clip-path="url(#cl20)"><rect x="1435" y="1078.3" width="90.5" height="90" fill="#fdfbfd"/><rect x="1435" y="1078.3" width="90.5" height="90" fill="url(#pbg)" opacity="0.80"/><g filter="url(#b4)"><ellipse cx="1453.6" cy="1127.8" rx="11.8" ry="29.7" fill="#fff" opacity="0.90"/><ellipse cx="1471.2" cy="1127.8" rx="11.8" ry="29.7" fill="#fff" opacity="0.90"/><ellipse cx="1489.3" cy="1127.8" rx="11.8" ry="29.7" fill="#fff" opacity="0.90"/><ellipse cx="1507.9" cy="1127.8" rx="11.8" ry="29.7" fill="#fff" opacity="0.90"/><ellipse cx="1525.5" cy="1127.8" rx="11.8" ry="29.7" fill="#fff" opacity="0.90"/></g><g filter="url(#b2)"><ellipse cx="1438.6" cy="1127.8" rx="5.4" ry="22.5" fill="url(#gBl)" opacity="0.80"/><rect x="1447.0" y="1108.0" width="13.1" height="39.6" rx="6.6" ry="11.8" fill="#dc2a20" opacity="1.00"/><rect x="1464.6" y="1108.0" width="13.1" height="39.6" rx="6.6" ry="11.8" fill="#1020dc" opacity="1.00"/><rect x="1482.7" y="1108.0" width="13.1" height="39.6" rx="6.6" ry="11.8" fill="#dc2a20" opacity="1.00"/><rect x="1501.3" y="1108.0" width="13.1" height="39.6" rx="6.6" ry="11.8" fill="#1020dc" opacity="1.00"/><rect x="1518.9" y="1108.0" width="13.1" height="39.6" rx="6.6" ry="11.8" fill="#dc2a20" opacity="1.00"/></g><g filter="url(#b3)"><ellipse cx="1453.6" cy="1127.8" rx="3.7" ry="11.9" fill="#6a0808" opacity="0.90"/><ellipse cx="1471.2" cy="1127.8" rx="3.7" ry="11.9" fill="#000048" opacity="0.90"/><ellipse cx="1489.3" cy="1127.8" rx="3.7" ry="11.9" fill="#6a0808" opacity="0.90"/><ellipse cx="1507.9" cy="1127.8" rx="3.7" ry="11.9" fill="#000048" opacity="0.90"/><ellipse cx="1525.5" cy="1127.8" rx="3.7" ry="11.9" fill="#6a0808" opacity="0.90"/></g></g><rect x="1435" y="1078.3" width="90.5" height="90" fill="none" stroke="#555" stroke-width="0.9"/>
<g clip-path="url(#cl21)"><rect x="1542.1" y="1078.3" width="90.5" height="90" fill="#fdfbfd"/><rect x="1542.1" y="1078.3" width="90.5" height="90" fill="url(#pbg)" opacity="0.80"/><g filter="url(#b4)"><ellipse cx="1560.7" cy="1127.8" rx="11.8" ry="29.7" fill="#fff" opacity="0.90"/><ellipse cx="1578.3" cy="1127.8" rx="11.8" ry="29.7" fill="#fff" opacity="0.90"/><ellipse cx="1596.4" cy="1127.8" rx="11.8" ry="29.7" fill="#fff" opacity="0.90"/><ellipse cx="1615.0" cy="1127.8" rx="11.8" ry="29.7" fill="#fff" opacity="0.90"/><ellipse cx="1632.6" cy="1127.8" rx="11.8" ry="29.7" fill="#fff" opacity="0.90"/></g><g filter="url(#b2)"><ellipse cx="1545.7" cy="1127.8" rx="5.4" ry="22.5" fill="url(#gBl)" opacity="0.80"/><rect x="1554.1" y="1108.0" width="13.1" height="39.6" rx="6.6" ry="11.8" fill="#dc2a20" opacity="1.00"/><rect x="1571.7" y="1108.0" width="13.1" height="39.6" rx="6.6" ry="11.8" fill="#1020dc" opacity="1.00"/><rect x="1589.8" y="1108.0" width="13.1" height="39.6" rx="6.6" ry="11.8" fill="#dc2a20" opacity="1.00"/><rect x="1608.4" y="1108.0" width="13.1" height="39.6" rx="6.6" ry="11.8" fill="#1020dc" opacity="1.00"/><rect x="1626.0" y="1108.0" width="13.1" height="39.6" rx="6.6" ry="11.8" fill="#dc2a20" opacity="1.00"/></g><g filter="url(#b3)"><ellipse cx="1560.7" cy="1127.8" rx="3.7" ry="11.9" fill="#6a0808" opacity="0.90"/><ellipse cx="1578.3" cy="1127.8" rx="3.7" ry="11.9" fill="#000048" opacity="0.90"/><ellipse cx="1596.4" cy="1127.8" rx="3.7" ry="11.9" fill="#6a0808" opacity="0.90"/><ellipse cx="1615.0" cy="1127.8" rx="3.7" ry="11.9" fill="#000048" opacity="0.90"/><ellipse cx="1632.6" cy="1127.8" rx="3.7" ry="11.9" fill="#6a0808" opacity="0.90"/></g></g><rect x="1542.1" y="1078.3" width="90.5" height="90" fill="none" stroke="#555" stroke-width="0.9"/>
<g clip-path="url(#cl22)"><rect x="1649.3" y="1078.3" width="90.5" height="90" fill="#fdfbfd"/><rect x="1649.3" y="1078.3" width="90.5" height="90" fill="url(#pbg)" opacity="0.80"/><g filter="url(#b4)"><ellipse cx="1667.9" cy="1127.8" rx="11.8" ry="29.7" fill="#fff" opacity="0.90"/><ellipse cx="1685.5" cy="1127.8" rx="11.8" ry="29.7" fill="#fff" opacity="0.90"/><ellipse cx="1703.6" cy="1127.8" rx="11.8" ry="29.7" fill="#fff" opacity="0.90"/><ellipse cx="1722.2" cy="1127.8" rx="11.8" ry="29.7" fill="#fff" opacity="0.90"/><ellipse cx="1739.8" cy="1127.8" rx="11.8" ry="29.7" fill="#fff" opacity="0.90"/></g><g filter="url(#b2)"><ellipse cx="1652.9" cy="1127.8" rx="5.4" ry="22.5" fill="url(#gBl)" opacity="0.80"/><rect x="1661.3" y="1108.0" width="13.1" height="39.6" rx="6.6" ry="11.8" fill="#dc2a20" opacity="1.00"/><rect x="1678.9" y="1108.0" width="13.1" height="39.6" rx="6.6" ry="11.8" fill="#1020dc" opacity="1.00"/><rect x="1697.0" y="1108.0" width="13.1" height="39.6" rx="6.6" ry="11.8" fill="#dc2a20" opacity="1.00"/><rect x="1715.6" y="1108.0" width="13.1" height="39.6" rx="6.6" ry="11.8" fill="#1020dc" opacity="1.00"/><rect x="1733.2" y="1108.0" width="13.1" height="39.6" rx="6.6" ry="11.8" fill="#dc2a20" opacity="1.00"/></g><g filter="url(#b3)"><ellipse cx="1667.9" cy="1127.8" rx="3.7" ry="11.9" fill="#6a0808" opacity="0.90"/><ellipse cx="1685.5" cy="1127.8" rx="3.7" ry="11.9" fill="#000048" opacity="0.90"/><ellipse cx="1703.6" cy="1127.8" rx="3.7" ry="11.9" fill="#6a0808" opacity="0.90"/><ellipse cx="1722.2" cy="1127.8" rx="3.7" ry="11.9" fill="#000048" opacity="0.90"/><ellipse cx="1739.8" cy="1127.8" rx="3.7" ry="11.9" fill="#6a0808" opacity="0.90"/></g></g><rect x="1649.3" y="1078.3" width="90.5" height="90" fill="none" stroke="#555" stroke-width="0.9"/>
</svg>
</body></html>
